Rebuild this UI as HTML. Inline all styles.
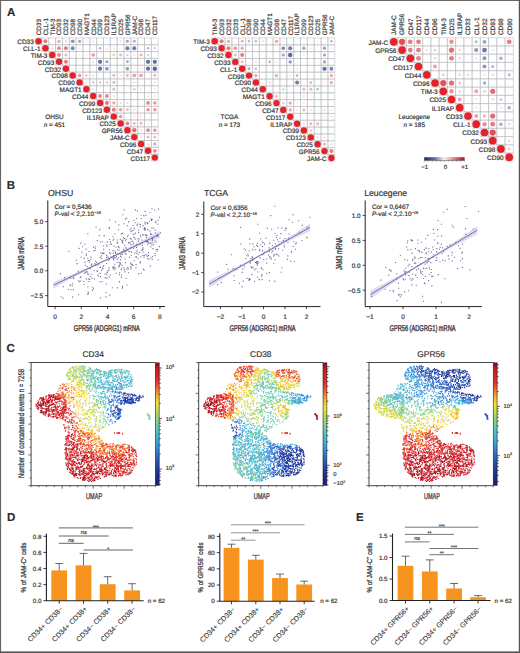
<!DOCTYPE html><html><head><meta charset="utf-8"><style>html,body{margin:0;padding:0;background:#fff;overflow:hidden}svg{display:block}text{font-family:"Liberation Sans",sans-serif;fill:#2a2a2a;stroke:#4a4a4a;stroke-width:0.2px;text-rendering:geometricPrecision}</style></head><body>
<svg width="520" height="653" viewBox="0 0 520 653">
<rect width="520" height="653" fill="#fff"/>
<text x="7" y="16.4" font-size="11.5" font-weight="bold" fill="#000">A</text>
<text x="6.8" y="189.4" font-size="11.5" font-weight="bold" fill="#000">B</text>
<text x="6.5" y="351.9" font-size="11.5" font-weight="bold" fill="#000">C</text>
<text x="6.9" y="521" font-size="11.5" font-weight="bold" fill="#000">D</text>
<text x="355.9" y="521.3" font-size="11.5" font-weight="bold" fill="#000">E</text>
<path d="M35.1 37.9h6.8v6.8h-6.8zM41.9 37.9h6.8v6.8h-6.8zM48.8 37.9h6.8v6.8h-6.8zM55.6 37.9h6.8v6.8h-6.8zM62.5 37.9h6.8v6.8h-6.8zM69.3 37.9h6.8v6.8h-6.8zM76.1 37.9h6.8v6.8h-6.8zM83 37.9h6.8v6.8h-6.8zM89.8 37.9h6.8v6.8h-6.8zM96.7 37.9h6.8v6.8h-6.8zM103.5 37.9h6.8v6.8h-6.8zM110.3 37.9h6.8v6.8h-6.8zM117.2 37.9h6.8v6.8h-6.8zM124 37.9h6.8v6.8h-6.8zM130.9 37.9h6.8v6.8h-6.8zM137.7 37.9h6.8v6.8h-6.8zM144.5 37.9h6.8v6.8h-6.8zM151.4 37.9h6.8v6.8h-6.8zM41.9 44.7h6.8v6.8h-6.8zM48.8 44.7h6.8v6.8h-6.8zM55.6 44.7h6.8v6.8h-6.8zM62.5 44.7h6.8v6.8h-6.8zM69.3 44.7h6.8v6.8h-6.8zM76.1 44.7h6.8v6.8h-6.8zM83 44.7h6.8v6.8h-6.8zM89.8 44.7h6.8v6.8h-6.8zM96.7 44.7h6.8v6.8h-6.8zM103.5 44.7h6.8v6.8h-6.8zM110.3 44.7h6.8v6.8h-6.8zM117.2 44.7h6.8v6.8h-6.8zM124 44.7h6.8v6.8h-6.8zM130.9 44.7h6.8v6.8h-6.8zM137.7 44.7h6.8v6.8h-6.8zM144.5 44.7h6.8v6.8h-6.8zM151.4 44.7h6.8v6.8h-6.8zM48.8 51.6h6.8v6.8h-6.8zM55.6 51.6h6.8v6.8h-6.8zM62.5 51.6h6.8v6.8h-6.8zM69.3 51.6h6.8v6.8h-6.8zM76.1 51.6h6.8v6.8h-6.8zM83 51.6h6.8v6.8h-6.8zM89.8 51.6h6.8v6.8h-6.8zM96.7 51.6h6.8v6.8h-6.8zM103.5 51.6h6.8v6.8h-6.8zM110.3 51.6h6.8v6.8h-6.8zM117.2 51.6h6.8v6.8h-6.8zM124 51.6h6.8v6.8h-6.8zM130.9 51.6h6.8v6.8h-6.8zM137.7 51.6h6.8v6.8h-6.8zM144.5 51.6h6.8v6.8h-6.8zM151.4 51.6h6.8v6.8h-6.8zM55.6 58.4h6.8v6.8h-6.8zM62.5 58.4h6.8v6.8h-6.8zM69.3 58.4h6.8v6.8h-6.8zM76.1 58.4h6.8v6.8h-6.8zM83 58.4h6.8v6.8h-6.8zM89.8 58.4h6.8v6.8h-6.8zM96.7 58.4h6.8v6.8h-6.8zM103.5 58.4h6.8v6.8h-6.8zM110.3 58.4h6.8v6.8h-6.8zM117.2 58.4h6.8v6.8h-6.8zM124 58.4h6.8v6.8h-6.8zM130.9 58.4h6.8v6.8h-6.8zM137.7 58.4h6.8v6.8h-6.8zM144.5 58.4h6.8v6.8h-6.8zM151.4 58.4h6.8v6.8h-6.8zM62.5 65.3h6.8v6.8h-6.8zM69.3 65.3h6.8v6.8h-6.8zM76.1 65.3h6.8v6.8h-6.8zM83 65.3h6.8v6.8h-6.8zM89.8 65.3h6.8v6.8h-6.8zM96.7 65.3h6.8v6.8h-6.8zM103.5 65.3h6.8v6.8h-6.8zM110.3 65.3h6.8v6.8h-6.8zM117.2 65.3h6.8v6.8h-6.8zM124 65.3h6.8v6.8h-6.8zM130.9 65.3h6.8v6.8h-6.8zM137.7 65.3h6.8v6.8h-6.8zM144.5 65.3h6.8v6.8h-6.8zM151.4 65.3h6.8v6.8h-6.8zM69.3 72.1h6.8v6.8h-6.8zM76.1 72.1h6.8v6.8h-6.8zM83 72.1h6.8v6.8h-6.8zM89.8 72.1h6.8v6.8h-6.8zM96.7 72.1h6.8v6.8h-6.8zM103.5 72.1h6.8v6.8h-6.8zM110.3 72.1h6.8v6.8h-6.8zM117.2 72.1h6.8v6.8h-6.8zM124 72.1h6.8v6.8h-6.8zM130.9 72.1h6.8v6.8h-6.8zM137.7 72.1h6.8v6.8h-6.8zM144.5 72.1h6.8v6.8h-6.8zM151.4 72.1h6.8v6.8h-6.8zM76.1 78.9h6.8v6.8h-6.8zM83 78.9h6.8v6.8h-6.8zM89.8 78.9h6.8v6.8h-6.8zM96.7 78.9h6.8v6.8h-6.8zM103.5 78.9h6.8v6.8h-6.8zM110.3 78.9h6.8v6.8h-6.8zM117.2 78.9h6.8v6.8h-6.8zM124 78.9h6.8v6.8h-6.8zM130.9 78.9h6.8v6.8h-6.8zM137.7 78.9h6.8v6.8h-6.8zM144.5 78.9h6.8v6.8h-6.8zM151.4 78.9h6.8v6.8h-6.8zM83 85.8h6.8v6.8h-6.8zM89.8 85.8h6.8v6.8h-6.8zM96.7 85.8h6.8v6.8h-6.8zM103.5 85.8h6.8v6.8h-6.8zM110.3 85.8h6.8v6.8h-6.8zM117.2 85.8h6.8v6.8h-6.8zM124 85.8h6.8v6.8h-6.8zM130.9 85.8h6.8v6.8h-6.8zM137.7 85.8h6.8v6.8h-6.8zM144.5 85.8h6.8v6.8h-6.8zM151.4 85.8h6.8v6.8h-6.8zM89.8 92.6h6.8v6.8h-6.8zM96.7 92.6h6.8v6.8h-6.8zM103.5 92.6h6.8v6.8h-6.8zM110.3 92.6h6.8v6.8h-6.8zM117.2 92.6h6.8v6.8h-6.8zM124 92.6h6.8v6.8h-6.8zM130.9 92.6h6.8v6.8h-6.8zM137.7 92.6h6.8v6.8h-6.8zM144.5 92.6h6.8v6.8h-6.8zM151.4 92.6h6.8v6.8h-6.8zM96.7 99.5h6.8v6.8h-6.8zM103.5 99.5h6.8v6.8h-6.8zM110.3 99.5h6.8v6.8h-6.8zM117.2 99.5h6.8v6.8h-6.8zM124 99.5h6.8v6.8h-6.8zM130.9 99.5h6.8v6.8h-6.8zM137.7 99.5h6.8v6.8h-6.8zM144.5 99.5h6.8v6.8h-6.8zM151.4 99.5h6.8v6.8h-6.8zM103.5 106.3h6.8v6.8h-6.8zM110.3 106.3h6.8v6.8h-6.8zM117.2 106.3h6.8v6.8h-6.8zM124 106.3h6.8v6.8h-6.8zM130.9 106.3h6.8v6.8h-6.8zM137.7 106.3h6.8v6.8h-6.8zM144.5 106.3h6.8v6.8h-6.8zM151.4 106.3h6.8v6.8h-6.8zM110.3 113.1h6.8v6.8h-6.8zM117.2 113.1h6.8v6.8h-6.8zM124 113.1h6.8v6.8h-6.8zM130.9 113.1h6.8v6.8h-6.8zM137.7 113.1h6.8v6.8h-6.8zM144.5 113.1h6.8v6.8h-6.8zM151.4 113.1h6.8v6.8h-6.8zM117.2 120h6.8v6.8h-6.8zM124 120h6.8v6.8h-6.8zM130.9 120h6.8v6.8h-6.8zM137.7 120h6.8v6.8h-6.8zM144.5 120h6.8v6.8h-6.8zM151.4 120h6.8v6.8h-6.8zM124 126.8h6.8v6.8h-6.8zM130.9 126.8h6.8v6.8h-6.8zM137.7 126.8h6.8v6.8h-6.8zM144.5 126.8h6.8v6.8h-6.8zM151.4 126.8h6.8v6.8h-6.8zM130.9 133.7h6.8v6.8h-6.8zM137.7 133.7h6.8v6.8h-6.8zM144.5 133.7h6.8v6.8h-6.8zM151.4 133.7h6.8v6.8h-6.8zM137.7 140.5h6.8v6.8h-6.8zM144.5 140.5h6.8v6.8h-6.8zM151.4 140.5h6.8v6.8h-6.8zM144.5 147.3h6.8v6.8h-6.8zM151.4 147.3h6.8v6.8h-6.8zM151.4 154.2h6.8v6.8h-6.8z" fill="none" stroke="#b4b8bd" stroke-width="0.5"/>
<circle cx="45.4" cy="41.3" r="2.03" fill="#e67b81"/>
<circle cx="59" cy="41.3" r="1.61" fill="#eea4a9"/>
<circle cx="65.9" cy="41.3" r="1.11" fill="#f5cdcf"/>
<circle cx="72.7" cy="41.3" r="1.82" fill="#868eb6"/>
<circle cx="79.6" cy="41.3" r="1.57" fill="#9ca2c3"/>
<circle cx="86.4" cy="41.3" r="0.91" fill="#f8dbdc"/>
<circle cx="93.2" cy="41.3" r="0.91" fill="#f8dbdc"/>
<circle cx="120.6" cy="41.3" r="1.02" fill="#f7d3d6"/>
<circle cx="127.4" cy="41.3" r="1.57" fill="#9ca2c3"/>
<circle cx="134.3" cy="41.3" r="1.44" fill="#a8adca"/>
<circle cx="52.2" cy="48.2" r="1.02" fill="#f7d3d6"/>
<circle cx="59" cy="48.2" r="1.90" fill="#e8888e"/>
<circle cx="65.9" cy="48.2" r="2.03" fill="#e67b81"/>
<circle cx="72.7" cy="48.2" r="1.93" fill="#7c84b0"/>
<circle cx="79.6" cy="48.2" r="0.91" fill="#f8dbdc"/>
<circle cx="100.1" cy="48.2" r="1.29" fill="#b5b9d2"/>
<circle cx="106.9" cy="48.2" r="0.91" fill="#f8dbdc"/>
<circle cx="113.8" cy="48.2" r="0.91" fill="#f8dbdc"/>
<circle cx="127.4" cy="48.2" r="2.03" fill="#727aa9"/>
<circle cx="134.3" cy="48.2" r="2.03" fill="#727aa9"/>
<circle cx="148" cy="48.2" r="1.29" fill="#b5b9d2"/>
<circle cx="154.8" cy="48.2" r="1.11" fill="#c2c6da"/>
<circle cx="59" cy="55" r="1.90" fill="#e8888e"/>
<circle cx="65.9" cy="55" r="1.44" fill="#f1b3b7"/>
<circle cx="79.6" cy="55" r="0.79" fill="#f9e2e3"/>
<circle cx="86.4" cy="55" r="0.79" fill="#f9e2e3"/>
<circle cx="93.2" cy="55" r="1.76" fill="#eb969b"/>
<circle cx="113.8" cy="55" r="1.25" fill="#f4c3c6"/>
<circle cx="120.6" cy="55" r="1.44" fill="#f1b3b7"/>
<circle cx="127.4" cy="55" r="1.11" fill="#c2c6da"/>
<circle cx="134.3" cy="55" r="0.91" fill="#f8dbdc"/>
<circle cx="141.1" cy="55" r="1.44" fill="#f1b3b7"/>
<circle cx="148" cy="55" r="1.11" fill="#c2c6da"/>
<circle cx="65.9" cy="61.8" r="2.03" fill="#e67b81"/>
<circle cx="72.7" cy="61.8" r="0.79" fill="#f9e2e3"/>
<circle cx="93.2" cy="61.8" r="0.91" fill="#d1d4e3"/>
<circle cx="100.1" cy="61.8" r="2.13" fill="#6871a4"/>
<circle cx="106.9" cy="61.8" r="1.57" fill="#9ca2c3"/>
<circle cx="127.4" cy="61.8" r="1.44" fill="#a8adca"/>
<circle cx="148" cy="61.8" r="2.13" fill="#6871a4"/>
<circle cx="154.8" cy="61.8" r="2.13" fill="#6871a4"/>
<circle cx="72.7" cy="68.7" r="0.79" fill="#f9e2e3"/>
<circle cx="79.6" cy="68.7" r="0.79" fill="#f9e2e3"/>
<circle cx="100.1" cy="68.7" r="2.13" fill="#6871a4"/>
<circle cx="106.9" cy="68.7" r="1.82" fill="#868eb6"/>
<circle cx="127.4" cy="68.7" r="1.70" fill="#9198bc"/>
<circle cx="134.3" cy="68.7" r="0.79" fill="#f9e2e3"/>
<circle cx="141.1" cy="68.7" r="0.79" fill="#f9e2e3"/>
<circle cx="148" cy="68.7" r="2.13" fill="#6871a4"/>
<circle cx="154.8" cy="68.7" r="2.23" fill="#5f689e"/>
<circle cx="79.6" cy="75.5" r="1.76" fill="#eb969b"/>
<circle cx="86.4" cy="75.5" r="1.25" fill="#f4c3c6"/>
<circle cx="93.2" cy="75.5" r="1.11" fill="#f5cdcf"/>
<circle cx="113.8" cy="75.5" r="1.44" fill="#f1b3b7"/>
<circle cx="120.6" cy="75.5" r="0.91" fill="#f8dbdc"/>
<circle cx="127.4" cy="75.5" r="1.44" fill="#f1b3b7"/>
<circle cx="134.3" cy="75.5" r="1.76" fill="#eb969b"/>
<circle cx="141.1" cy="75.5" r="1.76" fill="#eb969b"/>
<circle cx="154.8" cy="75.5" r="1.44" fill="#f1b3b7"/>
<circle cx="86.4" cy="82.4" r="0.91" fill="#f8dbdc"/>
<circle cx="93.2" cy="82.4" r="1.11" fill="#c2c6da"/>
<circle cx="100.1" cy="82.4" r="1.11" fill="#c2c6da"/>
<circle cx="106.9" cy="82.4" r="1.11" fill="#c2c6da"/>
<circle cx="113.8" cy="82.4" r="1.29" fill="#b5b9d2"/>
<circle cx="134.3" cy="82.4" r="1.02" fill="#f7d3d6"/>
<circle cx="154.8" cy="82.4" r="0.91" fill="#f8dbdc"/>
<circle cx="93.2" cy="89.2" r="0.91" fill="#f8dbdc"/>
<circle cx="106.9" cy="89.2" r="0.79" fill="#f9e2e3"/>
<circle cx="113.8" cy="89.2" r="1.44" fill="#f1b3b7"/>
<circle cx="134.3" cy="89.2" r="1.25" fill="#f4c3c6"/>
<circle cx="141.1" cy="89.2" r="0.91" fill="#f8dbdc"/>
<circle cx="154.8" cy="89.2" r="0.91" fill="#f8dbdc"/>
<circle cx="100.1" cy="96" r="1.90" fill="#e8888e"/>
<circle cx="106.9" cy="96" r="1.90" fill="#e8888e"/>
<circle cx="113.8" cy="96" r="1.02" fill="#f7d3d6"/>
<circle cx="148" cy="96" r="0.91" fill="#f8dbdc"/>
<circle cx="154.8" cy="96" r="0.91" fill="#f8dbdc"/>
<circle cx="106.9" cy="102.9" r="2.03" fill="#e67b81"/>
<circle cx="113.8" cy="102.9" r="1.61" fill="#eea4a9"/>
<circle cx="120.6" cy="102.9" r="1.02" fill="#f7d3d6"/>
<circle cx="127.4" cy="102.9" r="1.02" fill="#f7d3d6"/>
<circle cx="148" cy="102.9" r="1.90" fill="#e8888e"/>
<circle cx="154.8" cy="102.9" r="1.76" fill="#eb969b"/>
<circle cx="113.8" cy="109.7" r="2.03" fill="#e67b81"/>
<circle cx="120.6" cy="109.7" r="1.76" fill="#eb969b"/>
<circle cx="127.4" cy="109.7" r="1.44" fill="#f1b3b7"/>
<circle cx="134.3" cy="109.7" r="1.02" fill="#f7d3d6"/>
<circle cx="148" cy="109.7" r="1.76" fill="#eb969b"/>
<circle cx="154.8" cy="109.7" r="1.76" fill="#eb969b"/>
<circle cx="120.6" cy="116.6" r="1.76" fill="#eb969b"/>
<circle cx="134.3" cy="116.6" r="1.02" fill="#f7d3d6"/>
<circle cx="141.1" cy="116.6" r="1.02" fill="#f7d3d6"/>
<circle cx="127.4" cy="123.4" r="1.90" fill="#e8888e"/>
<circle cx="134.3" cy="123.4" r="1.44" fill="#f1b3b7"/>
<circle cx="141.1" cy="123.4" r="1.44" fill="#f1b3b7"/>
<circle cx="148" cy="123.4" r="0.91" fill="#f8dbdc"/>
<circle cx="134.3" cy="130.2" r="2.16" fill="#e36e75"/>
<circle cx="141.1" cy="130.2" r="0.91" fill="#f8dbdc"/>
<circle cx="148" cy="130.2" r="1.90" fill="#e8888e"/>
<circle cx="154.8" cy="130.2" r="1.76" fill="#eb969b"/>
<circle cx="141.1" cy="137.1" r="0.91" fill="#f8dbdc"/>
<circle cx="148" cy="137.1" r="1.44" fill="#f1b3b7"/>
<circle cx="154.8" cy="137.1" r="1.44" fill="#f1b3b7"/>
<circle cx="148" cy="143.9" r="1.02" fill="#f7d3d6"/>
<circle cx="154.8" cy="143.9" r="1.61" fill="#eea4a9"/>
<circle cx="154.8" cy="150.8" r="1.90" fill="#e8888e"/>
<circle cx="38.5" cy="41.3" r="3.21" fill="#e52229"/>
<circle cx="45.4" cy="48.2" r="3.21" fill="#e52229"/>
<circle cx="52.2" cy="55" r="3.21" fill="#e52229"/>
<circle cx="59" cy="61.8" r="3.21" fill="#e52229"/>
<circle cx="65.9" cy="68.7" r="3.21" fill="#e52229"/>
<circle cx="72.7" cy="75.5" r="3.21" fill="#e52229"/>
<circle cx="79.6" cy="82.4" r="3.21" fill="#e52229"/>
<circle cx="86.4" cy="89.2" r="3.21" fill="#e52229"/>
<circle cx="93.2" cy="96" r="3.21" fill="#e52229"/>
<circle cx="100.1" cy="102.9" r="3.21" fill="#e52229"/>
<circle cx="106.9" cy="109.7" r="3.21" fill="#e52229"/>
<circle cx="113.8" cy="116.6" r="3.21" fill="#e52229"/>
<circle cx="120.6" cy="123.4" r="3.21" fill="#e52229"/>
<circle cx="127.4" cy="130.2" r="3.21" fill="#e52229"/>
<circle cx="134.3" cy="137.1" r="3.21" fill="#e52229"/>
<circle cx="141.1" cy="143.9" r="3.21" fill="#e52229"/>
<circle cx="148" cy="150.8" r="3.21" fill="#e52229"/>
<circle cx="154.8" cy="157.6" r="3.21" fill="#e52229"/>
<text x="33.7" y="44.2" font-size="6.4" text-anchor="end">CD33</text>
<text x="40.5" y="51.1" font-size="6.4" text-anchor="end">CLL-1</text>
<text x="47.4" y="57.9" font-size="6.4" text-anchor="end">TIM-3</text>
<text x="54.2" y="64.7" font-size="6.4" text-anchor="end">CD93</text>
<text x="61.1" y="71.6" font-size="6.4" text-anchor="end">CD32</text>
<text x="67.9" y="78.4" font-size="6.4" text-anchor="end">CD98</text>
<text x="74.7" y="85.3" font-size="6.4" text-anchor="end">CD90</text>
<text x="81.6" y="92.1" font-size="6.4" text-anchor="end">MAGT1</text>
<text x="88.4" y="98.9" font-size="6.4" text-anchor="end">CD44</text>
<text x="95.3" y="105.8" font-size="6.4" text-anchor="end">CD99</text>
<text x="102.1" y="112.6" font-size="6.4" text-anchor="end">CD123</text>
<text x="108.9" y="119.5" font-size="6.4" text-anchor="end">IL1RAP</text>
<text x="115.8" y="126.3" font-size="6.4" text-anchor="end">CD25</text>
<text x="122.6" y="133.1" font-size="6.4" text-anchor="end">GPR56</text>
<text x="129.5" y="140" font-size="6.4" text-anchor="end">JAM-C</text>
<text x="136.3" y="146.8" font-size="6.4" text-anchor="end">CD96</text>
<text x="143.1" y="153.7" font-size="6.4" text-anchor="end">CD47</text>
<text x="150" y="160.5" font-size="6.4" text-anchor="end">CD117</text>
<text transform="translate(40.8 35.3) rotate(-90)" font-size="6.4">CD33</text>
<text transform="translate(47.7 35.3) rotate(-90)" font-size="6.4">CLL-1</text>
<text transform="translate(54.5 35.3) rotate(-90)" font-size="6.4">TIM-3</text>
<text transform="translate(61.3 35.3) rotate(-90)" font-size="6.4">CD93</text>
<text transform="translate(68.2 35.3) rotate(-90)" font-size="6.4">CD32</text>
<text transform="translate(75 35.3) rotate(-90)" font-size="6.4">CD98</text>
<text transform="translate(81.9 35.3) rotate(-90)" font-size="6.4">CD90</text>
<text transform="translate(88.7 35.3) rotate(-90)" font-size="6.4">MAGT1</text>
<text transform="translate(95.5 35.3) rotate(-90)" font-size="6.4">CD44</text>
<text transform="translate(102.4 35.3) rotate(-90)" font-size="6.4">CD99</text>
<text transform="translate(109.2 35.3) rotate(-90)" font-size="6.4">CD123</text>
<text transform="translate(116.1 35.3) rotate(-90)" font-size="6.4">IL1RAP</text>
<text transform="translate(122.9 35.3) rotate(-90)" font-size="6.4">CD25</text>
<text transform="translate(129.7 35.3) rotate(-90)" font-size="6.4">GPR56</text>
<text transform="translate(136.6 35.3) rotate(-90)" font-size="6.4">JAM-C</text>
<text transform="translate(143.4 35.3) rotate(-90)" font-size="6.4">CD96</text>
<text transform="translate(150.3 35.3) rotate(-90)" font-size="6.4">CD47</text>
<text transform="translate(157.1 35.3) rotate(-90)" font-size="6.4">CD117</text>
<text x="54.4" y="118.8" font-size="6.4" text-anchor="middle">OHSU</text>
<text x="54.4" y="126.8" font-size="6.4" text-anchor="middle"><tspan font-style="italic">n</tspan> = 451</text>
<path d="M211.3 37.9h6.9v6.9h-6.9zM218.2 37.9h6.9v6.9h-6.9zM225 37.9h6.9v6.9h-6.9zM231.9 37.9h6.9v6.9h-6.9zM238.7 37.9h6.9v6.9h-6.9zM245.6 37.9h6.9v6.9h-6.9zM252.5 37.9h6.9v6.9h-6.9zM259.3 37.9h6.9v6.9h-6.9zM266.2 37.9h6.9v6.9h-6.9zM273 37.9h6.9v6.9h-6.9zM279.9 37.9h6.9v6.9h-6.9zM286.8 37.9h6.9v6.9h-6.9zM293.6 37.9h6.9v6.9h-6.9zM300.5 37.9h6.9v6.9h-6.9zM307.3 37.9h6.9v6.9h-6.9zM314.2 37.9h6.9v6.9h-6.9zM321.1 37.9h6.9v6.9h-6.9zM327.9 37.9h6.9v6.9h-6.9zM218.2 44.8h6.9v6.9h-6.9zM225 44.8h6.9v6.9h-6.9zM231.9 44.8h6.9v6.9h-6.9zM238.7 44.8h6.9v6.9h-6.9zM245.6 44.8h6.9v6.9h-6.9zM252.5 44.8h6.9v6.9h-6.9zM259.3 44.8h6.9v6.9h-6.9zM266.2 44.8h6.9v6.9h-6.9zM273 44.8h6.9v6.9h-6.9zM279.9 44.8h6.9v6.9h-6.9zM286.8 44.8h6.9v6.9h-6.9zM293.6 44.8h6.9v6.9h-6.9zM300.5 44.8h6.9v6.9h-6.9zM307.3 44.8h6.9v6.9h-6.9zM314.2 44.8h6.9v6.9h-6.9zM321.1 44.8h6.9v6.9h-6.9zM327.9 44.8h6.9v6.9h-6.9zM225 51.6h6.9v6.9h-6.9zM231.9 51.6h6.9v6.9h-6.9zM238.7 51.6h6.9v6.9h-6.9zM245.6 51.6h6.9v6.9h-6.9zM252.5 51.6h6.9v6.9h-6.9zM259.3 51.6h6.9v6.9h-6.9zM266.2 51.6h6.9v6.9h-6.9zM273 51.6h6.9v6.9h-6.9zM279.9 51.6h6.9v6.9h-6.9zM286.8 51.6h6.9v6.9h-6.9zM293.6 51.6h6.9v6.9h-6.9zM300.5 51.6h6.9v6.9h-6.9zM307.3 51.6h6.9v6.9h-6.9zM314.2 51.6h6.9v6.9h-6.9zM321.1 51.6h6.9v6.9h-6.9zM327.9 51.6h6.9v6.9h-6.9zM231.9 58.5h6.9v6.9h-6.9zM238.7 58.5h6.9v6.9h-6.9zM245.6 58.5h6.9v6.9h-6.9zM252.5 58.5h6.9v6.9h-6.9zM259.3 58.5h6.9v6.9h-6.9zM266.2 58.5h6.9v6.9h-6.9zM273 58.5h6.9v6.9h-6.9zM279.9 58.5h6.9v6.9h-6.9zM286.8 58.5h6.9v6.9h-6.9zM293.6 58.5h6.9v6.9h-6.9zM300.5 58.5h6.9v6.9h-6.9zM307.3 58.5h6.9v6.9h-6.9zM314.2 58.5h6.9v6.9h-6.9zM321.1 58.5h6.9v6.9h-6.9zM327.9 58.5h6.9v6.9h-6.9zM238.7 65.3h6.9v6.9h-6.9zM245.6 65.3h6.9v6.9h-6.9zM252.5 65.3h6.9v6.9h-6.9zM259.3 65.3h6.9v6.9h-6.9zM266.2 65.3h6.9v6.9h-6.9zM273 65.3h6.9v6.9h-6.9zM279.9 65.3h6.9v6.9h-6.9zM286.8 65.3h6.9v6.9h-6.9zM293.6 65.3h6.9v6.9h-6.9zM300.5 65.3h6.9v6.9h-6.9zM307.3 65.3h6.9v6.9h-6.9zM314.2 65.3h6.9v6.9h-6.9zM321.1 65.3h6.9v6.9h-6.9zM327.9 65.3h6.9v6.9h-6.9zM245.6 72.2h6.9v6.9h-6.9zM252.5 72.2h6.9v6.9h-6.9zM259.3 72.2h6.9v6.9h-6.9zM266.2 72.2h6.9v6.9h-6.9zM273 72.2h6.9v6.9h-6.9zM279.9 72.2h6.9v6.9h-6.9zM286.8 72.2h6.9v6.9h-6.9zM293.6 72.2h6.9v6.9h-6.9zM300.5 72.2h6.9v6.9h-6.9zM307.3 72.2h6.9v6.9h-6.9zM314.2 72.2h6.9v6.9h-6.9zM321.1 72.2h6.9v6.9h-6.9zM327.9 72.2h6.9v6.9h-6.9zM252.5 79.1h6.9v6.9h-6.9zM259.3 79.1h6.9v6.9h-6.9zM266.2 79.1h6.9v6.9h-6.9zM273 79.1h6.9v6.9h-6.9zM279.9 79.1h6.9v6.9h-6.9zM286.8 79.1h6.9v6.9h-6.9zM293.6 79.1h6.9v6.9h-6.9zM300.5 79.1h6.9v6.9h-6.9zM307.3 79.1h6.9v6.9h-6.9zM314.2 79.1h6.9v6.9h-6.9zM321.1 79.1h6.9v6.9h-6.9zM327.9 79.1h6.9v6.9h-6.9zM259.3 85.9h6.9v6.9h-6.9zM266.2 85.9h6.9v6.9h-6.9zM273 85.9h6.9v6.9h-6.9zM279.9 85.9h6.9v6.9h-6.9zM286.8 85.9h6.9v6.9h-6.9zM293.6 85.9h6.9v6.9h-6.9zM300.5 85.9h6.9v6.9h-6.9zM307.3 85.9h6.9v6.9h-6.9zM314.2 85.9h6.9v6.9h-6.9zM321.1 85.9h6.9v6.9h-6.9zM327.9 85.9h6.9v6.9h-6.9zM266.2 92.8h6.9v6.9h-6.9zM273 92.8h6.9v6.9h-6.9zM279.9 92.8h6.9v6.9h-6.9zM286.8 92.8h6.9v6.9h-6.9zM293.6 92.8h6.9v6.9h-6.9zM300.5 92.8h6.9v6.9h-6.9zM307.3 92.8h6.9v6.9h-6.9zM314.2 92.8h6.9v6.9h-6.9zM321.1 92.8h6.9v6.9h-6.9zM327.9 92.8h6.9v6.9h-6.9zM273 99.6h6.9v6.9h-6.9zM279.9 99.6h6.9v6.9h-6.9zM286.8 99.6h6.9v6.9h-6.9zM293.6 99.6h6.9v6.9h-6.9zM300.5 99.6h6.9v6.9h-6.9zM307.3 99.6h6.9v6.9h-6.9zM314.2 99.6h6.9v6.9h-6.9zM321.1 99.6h6.9v6.9h-6.9zM327.9 99.6h6.9v6.9h-6.9zM279.9 106.5h6.9v6.9h-6.9zM286.8 106.5h6.9v6.9h-6.9zM293.6 106.5h6.9v6.9h-6.9zM300.5 106.5h6.9v6.9h-6.9zM307.3 106.5h6.9v6.9h-6.9zM314.2 106.5h6.9v6.9h-6.9zM321.1 106.5h6.9v6.9h-6.9zM327.9 106.5h6.9v6.9h-6.9zM286.8 113.4h6.9v6.9h-6.9zM293.6 113.4h6.9v6.9h-6.9zM300.5 113.4h6.9v6.9h-6.9zM307.3 113.4h6.9v6.9h-6.9zM314.2 113.4h6.9v6.9h-6.9zM321.1 113.4h6.9v6.9h-6.9zM327.9 113.4h6.9v6.9h-6.9zM293.6 120.2h6.9v6.9h-6.9zM300.5 120.2h6.9v6.9h-6.9zM307.3 120.2h6.9v6.9h-6.9zM314.2 120.2h6.9v6.9h-6.9zM321.1 120.2h6.9v6.9h-6.9zM327.9 120.2h6.9v6.9h-6.9zM300.5 127.1h6.9v6.9h-6.9zM307.3 127.1h6.9v6.9h-6.9zM314.2 127.1h6.9v6.9h-6.9zM321.1 127.1h6.9v6.9h-6.9zM327.9 127.1h6.9v6.9h-6.9zM307.3 133.9h6.9v6.9h-6.9zM314.2 133.9h6.9v6.9h-6.9zM321.1 133.9h6.9v6.9h-6.9zM327.9 133.9h6.9v6.9h-6.9zM314.2 140.8h6.9v6.9h-6.9zM321.1 140.8h6.9v6.9h-6.9zM327.9 140.8h6.9v6.9h-6.9zM321.1 147.7h6.9v6.9h-6.9zM327.9 147.7h6.9v6.9h-6.9zM327.9 154.5h6.9v6.9h-6.9z" fill="none" stroke="#b4b8bd" stroke-width="0.5"/>
<circle cx="221.6" cy="41.3" r="2.04" fill="#e67b81"/>
<circle cx="228.5" cy="41.3" r="1.61" fill="#eea4a9"/>
<circle cx="242.2" cy="41.3" r="1.44" fill="#f1b3b7"/>
<circle cx="249" cy="41.3" r="1.29" fill="#b5b9d2"/>
<circle cx="255.9" cy="41.3" r="1.29" fill="#b5b9d2"/>
<circle cx="262.8" cy="41.3" r="1.02" fill="#f7d3d6"/>
<circle cx="276.5" cy="41.3" r="1.61" fill="#eea4a9"/>
<circle cx="283.3" cy="41.3" r="0.91" fill="#f8dbdc"/>
<circle cx="317.6" cy="41.3" r="0.79" fill="#f9e2e3"/>
<circle cx="331.4" cy="41.3" r="1.29" fill="#b5b9d2"/>
<circle cx="228.5" cy="48.2" r="2.04" fill="#e67b81"/>
<circle cx="235.3" cy="48.2" r="1.77" fill="#eb969b"/>
<circle cx="242.2" cy="48.2" r="1.61" fill="#eea4a9"/>
<circle cx="283.3" cy="48.2" r="1.82" fill="#868eb6"/>
<circle cx="290.2" cy="48.2" r="2.04" fill="#727aa9"/>
<circle cx="303.9" cy="48.2" r="1.58" fill="#9ca2c3"/>
<circle cx="310.8" cy="48.2" r="0.79" fill="#f9e2e3"/>
<circle cx="324.5" cy="48.2" r="1.58" fill="#9ca2c3"/>
<circle cx="331.4" cy="48.2" r="0.79" fill="#f9e2e3"/>
<circle cx="235.3" cy="55" r="1.44" fill="#f1b3b7"/>
<circle cx="242.2" cy="55" r="2.04" fill="#e67b81"/>
<circle cx="283.3" cy="55" r="1.58" fill="#9ca2c3"/>
<circle cx="290.2" cy="55" r="2.23" fill="#5f689e"/>
<circle cx="303.9" cy="55" r="0.79" fill="#f9e2e3"/>
<circle cx="324.5" cy="55" r="1.58" fill="#9ca2c3"/>
<circle cx="242.2" cy="61.9" r="1.44" fill="#f1b3b7"/>
<circle cx="255.9" cy="61.9" r="0.91" fill="#d1d4e3"/>
<circle cx="269.6" cy="61.9" r="1.29" fill="#b5b9d2"/>
<circle cx="276.5" cy="61.9" r="0.91" fill="#f8dbdc"/>
<circle cx="290.2" cy="61.9" r="1.71" fill="#9198bc"/>
<circle cx="324.5" cy="61.9" r="1.58" fill="#9ca2c3"/>
<circle cx="249" cy="68.8" r="1.44" fill="#a8adca"/>
<circle cx="255.9" cy="68.8" r="1.29" fill="#b5b9d2"/>
<circle cx="290.2" cy="68.8" r="0.91" fill="#f8dbdc"/>
<circle cx="297.1" cy="68.8" r="0.91" fill="#f8dbdc"/>
<circle cx="324.5" cy="68.8" r="2.14" fill="#6871a4"/>
<circle cx="331.4" cy="68.8" r="1.93" fill="#7c84b0"/>
<circle cx="255.9" cy="75.6" r="1.61" fill="#eea4a9"/>
<circle cx="276.5" cy="75.6" r="1.61" fill="#eea4a9"/>
<circle cx="290.2" cy="75.6" r="0.91" fill="#f8dbdc"/>
<circle cx="297.1" cy="75.6" r="1.29" fill="#b5b9d2"/>
<circle cx="324.5" cy="75.6" r="0.79" fill="#f9e2e3"/>
<circle cx="331.4" cy="75.6" r="1.61" fill="#eea4a9"/>
<circle cx="269.6" cy="82.5" r="1.02" fill="#f7d3d6"/>
<circle cx="297.1" cy="82.5" r="2.04" fill="#727aa9"/>
<circle cx="310.8" cy="82.5" r="1.29" fill="#b5b9d2"/>
<circle cx="324.5" cy="82.5" r="0.79" fill="#f9e2e3"/>
<circle cx="331.4" cy="82.5" r="1.61" fill="#eea4a9"/>
<circle cx="283.3" cy="89.3" r="1.12" fill="#c2c6da"/>
<circle cx="303.9" cy="89.3" r="1.44" fill="#f1b3b7"/>
<circle cx="310.8" cy="89.3" r="1.44" fill="#f1b3b7"/>
<circle cx="317.6" cy="89.3" r="1.29" fill="#b5b9d2"/>
<circle cx="276.5" cy="96.2" r="1.44" fill="#f1b3b7"/>
<circle cx="290.2" cy="96.2" r="0.79" fill="#f9e2e3"/>
<circle cx="303.9" cy="96.2" r="1.02" fill="#f7d3d6"/>
<circle cx="310.8" cy="96.2" r="0.79" fill="#f9e2e3"/>
<circle cx="283.3" cy="103.1" r="1.25" fill="#f4c3c6"/>
<circle cx="290.2" cy="103.1" r="1.61" fill="#eea4a9"/>
<circle cx="297.1" cy="103.1" r="0.79" fill="#f9e2e3"/>
<circle cx="303.9" cy="103.1" r="0.91" fill="#f8dbdc"/>
<circle cx="290.2" cy="109.9" r="1.61" fill="#eea4a9"/>
<circle cx="297.1" cy="109.9" r="0.91" fill="#f8dbdc"/>
<circle cx="303.9" cy="109.9" r="1.44" fill="#f1b3b7"/>
<circle cx="310.8" cy="109.9" r="0.91" fill="#f8dbdc"/>
<circle cx="324.5" cy="109.9" r="1.02" fill="#f7d3d6"/>
<circle cx="331.4" cy="109.9" r="0.91" fill="#f8dbdc"/>
<circle cx="324.5" cy="116.8" r="1.02" fill="#f7d3d6"/>
<circle cx="331.4" cy="116.8" r="1.02" fill="#f7d3d6"/>
<circle cx="303.9" cy="123.7" r="1.02" fill="#f7d3d6"/>
<circle cx="310.8" cy="123.7" r="1.44" fill="#f1b3b7"/>
<circle cx="317.6" cy="123.7" r="1.44" fill="#f1b3b7"/>
<circle cx="310.8" cy="130.5" r="1.25" fill="#f4c3c6"/>
<circle cx="317.6" cy="137.4" r="1.02" fill="#f7d3d6"/>
<circle cx="324.5" cy="137.4" r="1.02" fill="#f7d3d6"/>
<circle cx="331.4" cy="137.4" r="0.79" fill="#f9e2e3"/>
<circle cx="324.5" cy="144.2" r="1.44" fill="#f1b3b7"/>
<circle cx="331.4" cy="144.2" r="1.02" fill="#f7d3d6"/>
<circle cx="331.4" cy="151.1" r="2.04" fill="#e67b81"/>
<circle cx="214.7" cy="41.3" r="3.22" fill="#e52229"/>
<circle cx="221.6" cy="48.2" r="3.22" fill="#e52229"/>
<circle cx="228.5" cy="55" r="3.22" fill="#e52229"/>
<circle cx="235.3" cy="61.9" r="3.22" fill="#e52229"/>
<circle cx="242.2" cy="68.8" r="3.22" fill="#e52229"/>
<circle cx="249" cy="75.6" r="3.22" fill="#e52229"/>
<circle cx="255.9" cy="82.5" r="3.22" fill="#e52229"/>
<circle cx="262.8" cy="89.3" r="3.22" fill="#e52229"/>
<circle cx="269.6" cy="96.2" r="3.22" fill="#e52229"/>
<circle cx="276.5" cy="103.1" r="3.22" fill="#e52229"/>
<circle cx="283.3" cy="109.9" r="3.22" fill="#e52229"/>
<circle cx="290.2" cy="116.8" r="3.22" fill="#e52229"/>
<circle cx="297.1" cy="123.7" r="3.22" fill="#e52229"/>
<circle cx="303.9" cy="130.5" r="3.22" fill="#e52229"/>
<circle cx="310.8" cy="137.4" r="3.22" fill="#e52229"/>
<circle cx="317.6" cy="144.2" r="3.22" fill="#e52229"/>
<circle cx="324.5" cy="151.1" r="3.22" fill="#e52229"/>
<circle cx="331.4" cy="158" r="3.22" fill="#e52229"/>
<text x="209.9" y="44.2" font-size="6.4" text-anchor="end">TIM-3</text>
<text x="216.8" y="51.1" font-size="6.4" text-anchor="end">CD93</text>
<text x="223.6" y="58" font-size="6.4" text-anchor="end">CD32</text>
<text x="230.5" y="64.8" font-size="6.4" text-anchor="end">CD33</text>
<text x="237.3" y="71.7" font-size="6.4" text-anchor="end">CLL-1</text>
<text x="244.2" y="78.5" font-size="6.4" text-anchor="end">CD98</text>
<text x="251.1" y="85.4" font-size="6.4" text-anchor="end">CD90</text>
<text x="257.9" y="92.3" font-size="6.4" text-anchor="end">CD44</text>
<text x="264.8" y="99.1" font-size="6.4" text-anchor="end">MAGT1</text>
<text x="271.6" y="106" font-size="6.4" text-anchor="end">CD96</text>
<text x="278.5" y="112.8" font-size="6.4" text-anchor="end">CD47</text>
<text x="285.4" y="119.7" font-size="6.4" text-anchor="end">CD117</text>
<text x="292.2" y="126.6" font-size="6.4" text-anchor="end">IL1RAP</text>
<text x="299.1" y="133.4" font-size="6.4" text-anchor="end">CD99</text>
<text x="305.9" y="140.3" font-size="6.4" text-anchor="end">CD123</text>
<text x="312.8" y="147.1" font-size="6.4" text-anchor="end">CD25</text>
<text x="319.7" y="154" font-size="6.4" text-anchor="end">GPR56</text>
<text x="326.5" y="160.9" font-size="6.4" text-anchor="end">JAM-C</text>
<text transform="translate(217 35.3) rotate(-90)" font-size="6.4">TIM-3</text>
<text transform="translate(223.9 35.3) rotate(-90)" font-size="6.4">CD93</text>
<text transform="translate(230.8 35.3) rotate(-90)" font-size="6.4">CD32</text>
<text transform="translate(237.6 35.3) rotate(-90)" font-size="6.4">CD33</text>
<text transform="translate(244.5 35.3) rotate(-90)" font-size="6.4">CLL-1</text>
<text transform="translate(251.3 35.3) rotate(-90)" font-size="6.4">CD98</text>
<text transform="translate(258.2 35.3) rotate(-90)" font-size="6.4">CD90</text>
<text transform="translate(265.1 35.3) rotate(-90)" font-size="6.4">CD44</text>
<text transform="translate(271.9 35.3) rotate(-90)" font-size="6.4">MAGT1</text>
<text transform="translate(278.8 35.3) rotate(-90)" font-size="6.4">CD96</text>
<text transform="translate(285.6 35.3) rotate(-90)" font-size="6.4">CD47</text>
<text transform="translate(292.5 35.3) rotate(-90)" font-size="6.4">CD117</text>
<text transform="translate(299.4 35.3) rotate(-90)" font-size="6.4">IL1RAP</text>
<text transform="translate(306.2 35.3) rotate(-90)" font-size="6.4">CD99</text>
<text transform="translate(313.1 35.3) rotate(-90)" font-size="6.4">CD123</text>
<text transform="translate(319.9 35.3) rotate(-90)" font-size="6.4">CD25</text>
<text transform="translate(326.8 35.3) rotate(-90)" font-size="6.4">GPR56</text>
<text transform="translate(333.7 35.3) rotate(-90)" font-size="6.4">JAM-C</text>
<text x="229.4" y="118.8" font-size="6.4" text-anchor="middle">TCGA</text>
<text x="229.4" y="126.8" font-size="6.4" text-anchor="middle"><tspan font-style="italic">n</tspan> = 173</text>
<path d="M389.7 37.7h8.2v8.2h-8.2zM397.9 37.7h8.2v8.2h-8.2zM406.2 37.7h8.2v8.2h-8.2zM414.4 37.7h8.2v8.2h-8.2zM422.7 37.7h8.2v8.2h-8.2zM430.9 37.7h8.2v8.2h-8.2zM439.1 37.7h8.2v8.2h-8.2zM447.4 37.7h8.2v8.2h-8.2zM455.6 37.7h8.2v8.2h-8.2zM463.9 37.7h8.2v8.2h-8.2zM472.1 37.7h8.2v8.2h-8.2zM480.3 37.7h8.2v8.2h-8.2zM488.6 37.7h8.2v8.2h-8.2zM496.8 37.7h8.2v8.2h-8.2zM505.1 37.7h8.2v8.2h-8.2zM397.9 45.9h8.2v8.2h-8.2zM406.2 45.9h8.2v8.2h-8.2zM414.4 45.9h8.2v8.2h-8.2zM422.7 45.9h8.2v8.2h-8.2zM430.9 45.9h8.2v8.2h-8.2zM439.1 45.9h8.2v8.2h-8.2zM447.4 45.9h8.2v8.2h-8.2zM455.6 45.9h8.2v8.2h-8.2zM463.9 45.9h8.2v8.2h-8.2zM472.1 45.9h8.2v8.2h-8.2zM480.3 45.9h8.2v8.2h-8.2zM488.6 45.9h8.2v8.2h-8.2zM496.8 45.9h8.2v8.2h-8.2zM505.1 45.9h8.2v8.2h-8.2zM406.2 54.2h8.2v8.2h-8.2zM414.4 54.2h8.2v8.2h-8.2zM422.7 54.2h8.2v8.2h-8.2zM430.9 54.2h8.2v8.2h-8.2zM439.1 54.2h8.2v8.2h-8.2zM447.4 54.2h8.2v8.2h-8.2zM455.6 54.2h8.2v8.2h-8.2zM463.9 54.2h8.2v8.2h-8.2zM472.1 54.2h8.2v8.2h-8.2zM480.3 54.2h8.2v8.2h-8.2zM488.6 54.2h8.2v8.2h-8.2zM496.8 54.2h8.2v8.2h-8.2zM505.1 54.2h8.2v8.2h-8.2zM414.4 62.4h8.2v8.2h-8.2zM422.7 62.4h8.2v8.2h-8.2zM430.9 62.4h8.2v8.2h-8.2zM439.1 62.4h8.2v8.2h-8.2zM447.4 62.4h8.2v8.2h-8.2zM455.6 62.4h8.2v8.2h-8.2zM463.9 62.4h8.2v8.2h-8.2zM472.1 62.4h8.2v8.2h-8.2zM480.3 62.4h8.2v8.2h-8.2zM488.6 62.4h8.2v8.2h-8.2zM496.8 62.4h8.2v8.2h-8.2zM505.1 62.4h8.2v8.2h-8.2zM422.7 70.7h8.2v8.2h-8.2zM430.9 70.7h8.2v8.2h-8.2zM439.1 70.7h8.2v8.2h-8.2zM447.4 70.7h8.2v8.2h-8.2zM455.6 70.7h8.2v8.2h-8.2zM463.9 70.7h8.2v8.2h-8.2zM472.1 70.7h8.2v8.2h-8.2zM480.3 70.7h8.2v8.2h-8.2zM488.6 70.7h8.2v8.2h-8.2zM496.8 70.7h8.2v8.2h-8.2zM505.1 70.7h8.2v8.2h-8.2zM430.9 78.9h8.2v8.2h-8.2zM439.1 78.9h8.2v8.2h-8.2zM447.4 78.9h8.2v8.2h-8.2zM455.6 78.9h8.2v8.2h-8.2zM463.9 78.9h8.2v8.2h-8.2zM472.1 78.9h8.2v8.2h-8.2zM480.3 78.9h8.2v8.2h-8.2zM488.6 78.9h8.2v8.2h-8.2zM496.8 78.9h8.2v8.2h-8.2zM505.1 78.9h8.2v8.2h-8.2zM439.1 87.1h8.2v8.2h-8.2zM447.4 87.1h8.2v8.2h-8.2zM455.6 87.1h8.2v8.2h-8.2zM463.9 87.1h8.2v8.2h-8.2zM472.1 87.1h8.2v8.2h-8.2zM480.3 87.1h8.2v8.2h-8.2zM488.6 87.1h8.2v8.2h-8.2zM496.8 87.1h8.2v8.2h-8.2zM505.1 87.1h8.2v8.2h-8.2zM447.4 95.4h8.2v8.2h-8.2zM455.6 95.4h8.2v8.2h-8.2zM463.9 95.4h8.2v8.2h-8.2zM472.1 95.4h8.2v8.2h-8.2zM480.3 95.4h8.2v8.2h-8.2zM488.6 95.4h8.2v8.2h-8.2zM496.8 95.4h8.2v8.2h-8.2zM505.1 95.4h8.2v8.2h-8.2zM455.6 103.6h8.2v8.2h-8.2zM463.9 103.6h8.2v8.2h-8.2zM472.1 103.6h8.2v8.2h-8.2zM480.3 103.6h8.2v8.2h-8.2zM488.6 103.6h8.2v8.2h-8.2zM496.8 103.6h8.2v8.2h-8.2zM505.1 103.6h8.2v8.2h-8.2zM463.9 111.9h8.2v8.2h-8.2zM472.1 111.9h8.2v8.2h-8.2zM480.3 111.9h8.2v8.2h-8.2zM488.6 111.9h8.2v8.2h-8.2zM496.8 111.9h8.2v8.2h-8.2zM505.1 111.9h8.2v8.2h-8.2zM472.1 120.1h8.2v8.2h-8.2zM480.3 120.1h8.2v8.2h-8.2zM488.6 120.1h8.2v8.2h-8.2zM496.8 120.1h8.2v8.2h-8.2zM505.1 120.1h8.2v8.2h-8.2zM480.3 128.3h8.2v8.2h-8.2zM488.6 128.3h8.2v8.2h-8.2zM496.8 128.3h8.2v8.2h-8.2zM505.1 128.3h8.2v8.2h-8.2zM488.6 136.6h8.2v8.2h-8.2zM496.8 136.6h8.2v8.2h-8.2zM505.1 136.6h8.2v8.2h-8.2zM496.8 144.8h8.2v8.2h-8.2zM505.1 144.8h8.2v8.2h-8.2zM505.1 153.1h8.2v8.2h-8.2z" fill="none" stroke="#b4b8bd" stroke-width="0.5"/>
<circle cx="402.1" cy="41.8" r="3.12" fill="#de535b"/>
<circle cx="410.3" cy="41.8" r="2.42" fill="#e67e84"/>
<circle cx="418.5" cy="41.8" r="2.42" fill="#e67e84"/>
<circle cx="451.5" cy="41.8" r="2.21" fill="#ea8f94"/>
<circle cx="476.2" cy="41.8" r="1.55" fill="#b5b9d2"/>
<circle cx="484.5" cy="41.8" r="1.90" fill="#9ca2c3"/>
<circle cx="509.2" cy="41.8" r="2.42" fill="#e67e84"/>
<circle cx="410.3" cy="50.1" r="2.42" fill="#e67e84"/>
<circle cx="418.5" cy="50.1" r="2.42" fill="#e67e84"/>
<circle cx="426.8" cy="50.1" r="0.98" fill="#d8dae7"/>
<circle cx="435" cy="50.1" r="1.40" fill="#f5c9cc"/>
<circle cx="451.5" cy="50.1" r="2.61" fill="#e36d74"/>
<circle cx="459.7" cy="50.1" r="1.25" fill="#f6d2d4"/>
<circle cx="476.2" cy="50.1" r="2.05" fill="#9198bc"/>
<circle cx="484.5" cy="50.1" r="2.45" fill="#727aa9"/>
<circle cx="492.7" cy="50.1" r="1.08" fill="#f8dbdd"/>
<circle cx="418.5" cy="58.3" r="2.42" fill="#e67e84"/>
<circle cx="435" cy="58.3" r="1.25" fill="#f6d2d4"/>
<circle cx="451.5" cy="58.3" r="2.42" fill="#e67e84"/>
<circle cx="459.7" cy="58.3" r="1.25" fill="#f6d2d4"/>
<circle cx="476.2" cy="58.3" r="1.08" fill="#f8dbdd"/>
<circle cx="484.5" cy="58.3" r="2.05" fill="#9198bc"/>
<circle cx="500.9" cy="58.3" r="1.73" fill="#a8adca"/>
<circle cx="435" cy="66.5" r="1.97" fill="#eda1a6"/>
<circle cx="484.5" cy="66.5" r="2.05" fill="#9198bc"/>
<circle cx="492.7" cy="66.5" r="1.55" fill="#b5b9d2"/>
<circle cx="443.3" cy="74.8" r="1.40" fill="#f5c9cc"/>
<circle cx="459.7" cy="74.8" r="1.25" fill="#f6d2d4"/>
<circle cx="468" cy="74.8" r="1.10" fill="#d1d4e3"/>
<circle cx="484.5" cy="74.8" r="1.08" fill="#f8dbdd"/>
<circle cx="492.7" cy="74.8" r="1.25" fill="#f6d2d4"/>
<circle cx="509.2" cy="74.8" r="1.55" fill="#b5b9d2"/>
<circle cx="443.3" cy="83" r="3.12" fill="#de535b"/>
<circle cx="451.5" cy="83" r="2.61" fill="#e36d74"/>
<circle cx="459.7" cy="83" r="1.40" fill="#f5c9cc"/>
<circle cx="484.5" cy="83" r="1.73" fill="#a8adca"/>
<circle cx="451.5" cy="91.3" r="2.21" fill="#ea8f94"/>
<circle cx="459.7" cy="91.3" r="1.25" fill="#f6d2d4"/>
<circle cx="476.2" cy="91.3" r="1.97" fill="#eda1a6"/>
<circle cx="484.5" cy="91.3" r="1.40" fill="#f5c9cc"/>
<circle cx="492.7" cy="91.3" r="2.61" fill="#e36d74"/>
<circle cx="459.7" cy="99.5" r="1.97" fill="#eda1a6"/>
<circle cx="476.2" cy="99.5" r="1.08" fill="#f8dbdd"/>
<circle cx="492.7" cy="99.5" r="1.25" fill="#f6d2d4"/>
<circle cx="500.9" cy="99.5" r="1.34" fill="#c2c6da"/>
<circle cx="476.2" cy="107.7" r="1.08" fill="#f8dbdd"/>
<circle cx="500.9" cy="107.7" r="1.08" fill="#f8dbdd"/>
<circle cx="509.2" cy="107.7" r="1.73" fill="#a8adca"/>
<circle cx="476.2" cy="116" r="1.97" fill="#eda1a6"/>
<circle cx="484.5" cy="116" r="1.71" fill="#f1b5b8"/>
<circle cx="492.7" cy="116" r="2.61" fill="#e36d74"/>
<circle cx="484.5" cy="124.2" r="2.21" fill="#ea8f94"/>
<circle cx="492.7" cy="124.2" r="2.42" fill="#e67e84"/>
<circle cx="500.9" cy="124.2" r="1.73" fill="#a8adca"/>
<circle cx="509.2" cy="124.2" r="1.25" fill="#f6d2d4"/>
<circle cx="492.7" cy="132.5" r="3.12" fill="#de535b"/>
<circle cx="509.2" cy="140.7" r="1.25" fill="#f6d2d4"/>
<circle cx="509.2" cy="148.9" r="1.40" fill="#f5c9cc"/>
<circle cx="393.8" cy="41.8" r="3.87" fill="#e52229"/>
<circle cx="402.1" cy="50.1" r="3.87" fill="#e52229"/>
<circle cx="410.3" cy="58.3" r="3.87" fill="#e52229"/>
<circle cx="418.5" cy="66.5" r="3.87" fill="#e52229"/>
<circle cx="426.8" cy="74.8" r="3.87" fill="#e52229"/>
<circle cx="435" cy="83" r="3.87" fill="#e52229"/>
<circle cx="443.3" cy="91.3" r="3.87" fill="#e52229"/>
<circle cx="451.5" cy="99.5" r="3.87" fill="#e52229"/>
<circle cx="459.7" cy="107.7" r="3.87" fill="#e52229"/>
<circle cx="468" cy="116" r="3.87" fill="#e52229"/>
<circle cx="476.2" cy="124.2" r="3.87" fill="#e52229"/>
<circle cx="484.5" cy="132.5" r="3.87" fill="#e52229"/>
<circle cx="492.7" cy="140.7" r="3.87" fill="#e52229"/>
<circle cx="500.9" cy="148.9" r="3.87" fill="#e52229"/>
<circle cx="509.2" cy="157.2" r="3.87" fill="#e52229"/>
<text x="388.3" y="44.8" font-size="6.5" text-anchor="end">JAM-C</text>
<text x="396.5" y="53" font-size="6.5" text-anchor="end">GPR56</text>
<text x="404.8" y="61.2" font-size="6.5" text-anchor="end">CD47</text>
<text x="413" y="69.5" font-size="6.5" text-anchor="end">CD117</text>
<text x="421.3" y="77.7" font-size="6.5" text-anchor="end">CD44</text>
<text x="429.5" y="86" font-size="6.5" text-anchor="end">CD96</text>
<text x="437.7" y="94.2" font-size="6.5" text-anchor="end">TIM-3</text>
<text x="446" y="102.4" font-size="6.5" text-anchor="end">CD25</text>
<text x="454.2" y="110.7" font-size="6.5" text-anchor="end">IL1RAP</text>
<text x="462.5" y="118.9" font-size="6.5" text-anchor="end">CD33</text>
<text x="470.7" y="127.2" font-size="6.5" text-anchor="end">CLL-1</text>
<text x="478.9" y="135.4" font-size="6.5" text-anchor="end">CD32</text>
<text x="487.2" y="143.6" font-size="6.5" text-anchor="end">CD93</text>
<text x="495.4" y="151.9" font-size="6.5" text-anchor="end">CD98</text>
<text x="503.7" y="160.1" font-size="6.5" text-anchor="end">CD90</text>
<text transform="translate(396.2 35.1) rotate(-90)" font-size="6.5">JAM-C</text>
<text transform="translate(404.4 35.1) rotate(-90)" font-size="6.5">GPR56</text>
<text transform="translate(412.6 35.1) rotate(-90)" font-size="6.5">CD47</text>
<text transform="translate(420.9 35.1) rotate(-90)" font-size="6.5">CD117</text>
<text transform="translate(429.1 35.1) rotate(-90)" font-size="6.5">CD44</text>
<text transform="translate(437.4 35.1) rotate(-90)" font-size="6.5">CD96</text>
<text transform="translate(445.6 35.1) rotate(-90)" font-size="6.5">TIM-3</text>
<text transform="translate(453.8 35.1) rotate(-90)" font-size="6.5">CD25</text>
<text transform="translate(462.1 35.1) rotate(-90)" font-size="6.5">IL1RAP</text>
<text transform="translate(470.3 35.1) rotate(-90)" font-size="6.5">CD33</text>
<text transform="translate(478.6 35.1) rotate(-90)" font-size="6.5">CLL-1</text>
<text transform="translate(486.8 35.1) rotate(-90)" font-size="6.5">CD32</text>
<text transform="translate(495 35.1) rotate(-90)" font-size="6.5">CD93</text>
<text transform="translate(503.3 35.1) rotate(-90)" font-size="6.5">CD98</text>
<text transform="translate(511.5 35.1) rotate(-90)" font-size="6.5">CD90</text>
<text x="414.2" y="119.2" font-size="6.4" text-anchor="middle">Leucegene</text>
<text x="414.2" y="127.2" font-size="6.4" text-anchor="middle"><tspan font-style="italic">n</tspan> = 185</text>
<defs><linearGradient id="cg" x1="0" x2="1" y1="0" y2="0"><stop offset="0" stop-color="#1b2a72"/><stop offset="0.25" stop-color="#5a6cb0"/><stop offset="0.5" stop-color="#f4f4f4"/><stop offset="0.75" stop-color="#d87a80"/><stop offset="1" stop-color="#a3141e"/></linearGradient></defs>
<rect x="424.2" y="157.2" width="40.4" height="3.2" fill="url(#cg)"/>
<path d="M424.2 160.6h40.4" stroke="#333" stroke-width="0.5"/>
<path d="M424.2 160.6v1M428.2 160.6v1M432.3 160.6v1M436.3 160.6v1M440.4 160.6v1M444.4 160.6v1M448.4 160.6v1M452.5 160.6v1M456.5 160.6v1M460.6 160.6v1M464.6 160.6v1" stroke="#333" stroke-width="0.4"/>
<text x="424.6" y="168.6" font-size="6" text-anchor="middle">&#8722;1</text>
<text x="445.4" y="168.6" font-size="6" text-anchor="middle">0</text>
<text x="464.6" y="168.6" font-size="6" text-anchor="middle">+1</text>
<path d="M53.5 282L58.8 279.9L64.1 277.7L69.4 275.5L74.7 273.2L80 270.9L85.3 268.6L90.6 266.2L95.9 263.8L101.2 261.3L106.5 258.8L111.8 256.2L117.1 253.6L122.4 250.9L127.7 248.2L133 245.5L138.3 242.7L143.6 239.9L148.9 237L154.2 234.1L159.5 231.1L159.5 237.5L154.2 239.6L148.9 241.8L143.6 244L138.3 246.3L133 248.6L127.7 250.9L122.4 253.3L117.1 255.7L111.8 258.2L106.5 260.8L101.2 263.3L95.9 265.9L90.6 268.6L85.3 271.3L80 274L74.7 276.8L69.4 279.6L64.1 282.5L58.8 285.4L53.5 288.4Z" fill="#dcdaf4"/>
<path d="M115.6 247h1.1M151 220.4h1.1M77.7 271.1h1.1M141.5 240h1.1M78.1 294.8h1.1M121.7 254.4h1.1M146 241.6h1.1M154.7 230.1h1.1M154.1 210.3h1.1M87.1 274.1h1.1M132.7 234.2h1.1M116.5 243.1h1.1M138 241.1h1.1M143.8 229.2h1.1M108.5 270h1.1M143.5 228.8h1.1M151.7 239.9h1.1M105.4 296.9h1.1M96.5 264.9h1.1M144.6 211.4h1.1M80.3 281h1.1M72.1 283.7h1.1M92.2 287.3h1.1M157.9 209.1h1.1M157.7 260h1.1M145.8 237.4h1.1M113.4 246.2h1.1M116.7 287.9h1.1M132.4 265.4h1.1M72 286h1.1M134.6 222.8h1.1M75.7 260.3h1.1M121.3 252h1.1M131.4 244.7h1.1M128.2 243.2h1.1M130.5 231.6h1.1M69.5 285.8h1.1M109.3 295.1h1.1M91.3 278.2h1.1M140.6 215h1.1M106.2 274.8h1.1M123.4 267.7h1.1M157.7 236.8h1.1M89.7 276.5h1.1M131.6 241.4h1.1M83.9 273.4h1.1M99.9 267.1h1.1M143.6 270h1.1M132.9 237.3h1.1M83.1 281.5h1.1M129.7 242.2h1.1M88.6 260.5h1.1M118.4 265.6h1.1M146.3 254.7h1.1M150.5 219.1h1.1M119.9 256.3h1.1M130.7 264.3h1.1M136.4 251.8h1.1M70.5 289.7h1.1M125.3 247.9h1.1M137.1 224.1h1.1M112.5 240.3h1.1M128.9 257.4h1.1M89.6 268.6h1.1M122.5 240h1.1M130.7 255.3h1.1M122.4 243.2h1.1M155.8 249.8h1.1M127.9 272.8h1.1M94.8 264.9h1.1M143.2 215.6h1.1M107.7 260.4h1.1M147.2 241.1h1.1M147.6 242.1h1.1M130.1 247.9h1.1M118.3 224.9h1.1M84.9 272.3h1.1M123.2 249.4h1.1M156.8 251h1.1M142.4 249.1h1.1M124.8 262.6h1.1M121.4 252.5h1.1M88.4 251.5h1.1M99.8 242h1.1M154.5 240.3h1.1M125.5 254.1h1.1M129.4 251.5h1.1M139.9 243.8h1.1M133 243.7h1.1M147.9 255.5h1.1M101.8 253.4h1.1M115 253.4h1.1M124.2 245.5h1.1M110 253.8h1.1M151.8 256.5h1.1M141.3 250.4h1.1M139.7 261.8h1.1M151.4 242.8h1.1M149.9 243.4h1.1M130 244.2h1.1M106.1 245h1.1M137.3 238.7h1.1M137.4 258.3h1.1M135.9 218.5h1.1M81.5 252.3h1.1M145 228.9h1.1M142.6 235.1h1.1M120.9 257.2h1.1M150.2 258h1.1M114 267.7h1.1M76.5 263.6h1.1M151.4 228.1h1.1M70.1 284.9h1.1M101.7 241.8h1.1M83.7 258.4h1.1M99.7 273.4h1.1M100.3 253h1.1M106.8 242.1h1.1M125.5 278.5h1.1M138.5 239h1.1M147.2 223.6h1.1M137.9 273.9h1.1M120.5 269.7h1.1M143.9 228.7h1.1M126.8 225.7h1.1M122.4 214.8h1.1M133.5 234.3h1.1M93.1 247.4h1.1M94.3 263.5h1.1M109.8 244.3h1.1M140.3 256.8h1.1M159 217.3h1.1M87.6 292h1.1M131.8 230.5h1.1M145.5 215.4h1.1M127 236.7h1.1M87.2 258.3h1.1M60.7 296.7h1.1M62.6 286.6h1.1M127.2 267.3h1.1M85.8 254h1.1M117.9 246.6h1.1M155.1 221.3h1.1M102.7 246h1.1M96.8 271.5h1.1M119 272.8h1.1M157.7 220.2h1.1M142.9 269.4h1.1M151.9 239h1.1M139.5 224.2h1.1M146.8 241.3h1.1M151.7 259.1h1.1M119.7 263.9h1.1M126.3 269h1.1M80.3 276.8h1.1M153.2 244.8h1.1M99.3 229.6h1.1M68 289.5h1.1M135.4 267.9h1.1M89.2 279.4h1.1M109 259.2h1.1M107.5 257.1h1.1M87.3 294.4h1.1M108.7 276.9h1.1M128.2 251.7h1.1M113.1 255.6h1.1M148 252.6h1.1M152.5 248.6h1.1M70.1 278.1h1.1M132.3 242h1.1M149.4 212.7h1.1M113.3 258.2h1.1M145.9 235.1h1.1M155.7 242.1h1.1M146.4 222.6h1.1M108.9 220h1.1M126.4 285h1.1M68.2 251.3h1.1M115.6 273.3h1.1M136.1 247.4h1.1M85.8 278.9h1.1M132.6 225.5h1.1M142.5 252.2h1.1M113.2 266.2h1.1M141.8 249.7h1.1M144 227.9h1.1M125 219.1h1.1M114.5 269.8h1.1M133.6 228.1h1.1M120.9 277.4h1.1M147.2 229.6h1.1M101.5 281.8h1.1M143.6 255.6h1.1M73.3 277h1.1M80.3 243.1h1.1M144.7 254.7h1.1M142.2 255.3h1.1M127.6 235.3h1.1M91.9 290.1h1.1M121.4 240.5h1.1M118.5 250.3h1.1M64 277.6h1.1M124.1 238.5h1.1M151.8 240.6h1.1M118 257.8h1.1M134.1 237.7h1.1M120.8 233.9h1.1M116.7 259.4h1.1M106.3 273h1.1M138.1 230.1h1.1M142.3 247.7h1.1M99.5 267.5h1.1M152.1 237.9h1.1M135.8 253.2h1.1M112.5 258.4h1.1M112.5 269h1.1M153.1 228h1.1M109 252.6h1.1M118 229.8h1.1M150.3 246.8h1.1M113.3 239.3h1.1M118.4 262.2h1.1M80.6 257.3h1.1M149.2 221.2h1.1M134.6 239.3h1.1M87.6 260.9h1.1M133.6 229.7h1.1M131.1 252.1h1.1M108.6 228.5h1.1M85.5 249.1h1.1M113.4 255.5h1.1M116.8 240h1.1M124.4 253.1h1.1M148.3 259.3h1.1M90.9 265.1h1.1M116.5 262.3h1.1M127.1 249.8h1.1M150.2 234.5h1.1M87 272h1.1M139.6 226.9h1.1M105.8 284h1.1M153.4 242.2h1.1M108.6 267.9h1.1M78.5 248.4h1.1M102.9 253.1h1.1M86 271.9h1.1M109.9 241.9h1.1M98.3 264.2h1.1M112.7 253.1h1.1M112.4 250.6h1.1M86.7 266.5h1.1M101 255.9h1.1M72.9 289.7h1.1M157.3 224.3h1.1M102.1 268h1.1M94.9 246.7h1.1M84.4 262.1h1.1M124.4 251h1.1M100.1 276.8h1.1M144.6 223.9h1.1M113.2 259.9h1.1M101 270.4h1.1M114.3 264.2h1.1M95.1 261.2h1.1M142.4 225.9h1.1M88.2 274.3h1.1M124.4 259h1.1M78 280.8h1.1M104.5 274h1.1M109.8 275h1.1M97.3 275h1.1M136.8 210.9h1.1M87.3 233.7h1.1M146.9 258.5h1.1M144.8 235.1h1.1M147 223h1.1M130.4 269h1.1M59.9 273.6h1.1M103.4 253.6h1.1M109.1 239.5h1.1M104.7 277.6h1.1M99.5 281.7h1.1M83.6 284.5h1.1M103.6 236h1.1M141.7 243h1.1M100.2 276.6h1.1M129.8 238.4h1.1M119.9 259.6h1.1M108.8 227.6h1.1M121.8 288.2h1.1M93.1 251h1.1M119.8 239.4h1.1M149.8 266.1h1.1M96.4 270.8h1.1M158.9 246.6h1.1M119.6 262.9h1.1M123.8 269.6h1.1M90.3 257.1h1.1M87.6 268.5h1.1M151.4 208.7h1.1M130.5 266.5h1.1M106.1 263.5h1.1M91.2 264.1h1.1M135.3 256.9h1.1M128.1 221.9h1.1M140.6 273.4h1.1M149.5 230.9h1.1M96 262.5h1.1M123.4 223.8h1.1M96.8 240.6h1.1M126.2 250.3h1.1M113.1 267.9h1.1M151.6 219.5h1.1M139.9 235.7h1.1M112.8 256h1.1M62.5 298.1h1.1M121.2 268.2h1.1M106.9 272.1h1.1M99.7 257.4h1.1M143.4 257.3h1.1M84.3 244.3h1.1M76.7 263.7h1.1M118.6 247.7h1.1M115.3 257.8h1.1M144.9 241.2h1.1M79.7 277.7h1.1M105.6 292.5h1.1M97.8 276.2h1.1M93.9 278.9h1.1M128.2 242.2h1.1M144.4 230.4h1.1M129.5 229.8h1.1M130.8 239.2h1.1M107.6 270.8h1.1M98.7 235.5h1.1M117 242.3h1.1M122.7 251h1.1M151.4 244.9h1.1M133.4 220.5h1.1M91.3 274.3h1.1M93.5 270.7h1.1M88.4 281.5h1.1M134.7 233.1h1.1M123 237.6h1.1M133.1 248.2h1.1M154.5 255.6h1.1M131.7 264.5h1.1M139.9 224.5h1.1M85.8 255.2h1.1M156.6 236h1.1M137.6 254.1h1.1M120.2 254.1h1.1M130.3 267.7h1.1M106.1 257.4h1.1M121.9 233.4h1.1M115.1 252.5h1.1M84.8 265.2h1.1M135.9 244.3h1.1M108.8 249.7h1.1M155.7 249.5h1.1M102.5 268.7h1.1M130.3 263.1h1.1M125.3 251.2h1.1M130.6 228.2h1.1M89 262.3h1.1M106.3 278.1h1.1M123.6 209.9h1.1M87.8 293.3h1.1M118.8 274.7h1.1M157.1 249.2h1.1M134.9 209.9h1.1M139.1 252.4h1.1M103.1 265.9h1.1M95.5 227.2h1.1M139.7 262.9h1.1M147 244.8h1.1M135.9 256.9h1.1M136.7 250h1.1M151.2 234.2h1.1M155.9 235.9h1.1M121.1 275h1.1M156.8 234.9h1.1M71.9 297.1h1.1M114.6 251.3h1.1M115.9 256.7h1.1M125 240.7h1.1M100 297.7h1.1M159.8 232.9h1.1M94.8 248.8h1.1M121.9 241.7h1.1M148 255.8h1.1M122.3 251.8h1.1M106.2 255.4h1.1M125.6 239.4h1.1M144.2 222.3h1.1M101.2 258.7h1.1M121.5 242.3h1.1M79 281.8h1.1M90.2 259.5h1.1M111.8 287.7h1.1M154.7 232.7h1.1M112 267.2h1.1M133.6 260.7h1.1M121.9 286.3h1.1M154.6 253.5h1.1M147.6 243.3h1.1M114.3 233.7h1.1M133.9 253h1.1M93 288.9h1.1M118.9 281.9h1.1M113.6 257.5h1.1M118.5 266.9h1.1M116.9 249.8h1.1M72.8 278.4h1.1M87.3 286.8h1.1M155.3 222.6h1.1M94.4 250.5h1.1M118 246.5h1.1M140.4 237h1.1M126.3 218.3h1.1M87.9 279h1.1M106.6 246.2h1.1M110.8 244.2h1.1M119.3 264.8h1.1M115 268h1.1M135.5 264.6h1.1M131.6 230.7h1.1M125.7 248.1h1.1M136.4 225.2h1.1M141.7 234.5h1.1M110.8 257.1h1.1M103.6 235.6h1.1M103.2 249.4h1.1M112.5 236.8h1.1M122.1 286.9h1.1M146.7 256.3h1.1M141.9 245.5h1.1M139.7 243.9h1.1M150 233.3h1.1M146.2 235.5h1.1M149.4 243h1.1M121.5 265.4h1.1M140.6 218.7h1.1M115 221.8h1.1M81.9 246.8h1.1M124.4 271.9h1.1M127.7 268.9h1.1M102.7 266.3h1.1M145.1 234.9h1.1M138.2 232.6h1.1M117.6 253.5h1.1" stroke="#6e6e96" stroke-width="1.1"/>
<path d="M53.5 285.2L159.5 234.3" stroke="#6e6ca6" stroke-width="0.95"/>
<path d="M47.8 200.4V306.5H165" fill="none" stroke="#222" stroke-width="1"/>
<path d="M55.1 306.5v2.6" stroke="#222" stroke-width="0.8"/>
<text x="55.1" y="318.7" font-size="6.6" text-anchor="middle" fill="#333">0</text>
<path d="M81.3 306.5v2.6" stroke="#222" stroke-width="0.8"/>
<text x="81.3" y="318.7" font-size="6.6" text-anchor="middle" fill="#333">2</text>
<path d="M107.5 306.5v2.6" stroke="#222" stroke-width="0.8"/>
<text x="107.5" y="318.7" font-size="6.6" text-anchor="middle" fill="#333">4</text>
<path d="M133.7 306.5v2.6" stroke="#222" stroke-width="0.8"/>
<text x="133.7" y="318.7" font-size="6.6" text-anchor="middle" fill="#333">6</text>
<path d="M159.9 306.5v2.6" stroke="#222" stroke-width="0.8"/>
<text x="159.9" y="318.7" font-size="6.6" text-anchor="middle" fill="#333">8</text>
<path d="M47.8 221.6h-2.6" stroke="#222" stroke-width="0.8"/>
<text x="43.2" y="223.9" font-size="6.4" text-anchor="end" fill="#333">5.0</text>
<path d="M47.8 246.2h-2.6" stroke="#222" stroke-width="0.8"/>
<text x="43.2" y="248.5" font-size="6.4" text-anchor="end" fill="#333">2.5</text>
<path d="M47.8 270.8h-2.6" stroke="#222" stroke-width="0.8"/>
<text x="43.2" y="273.1" font-size="6.4" text-anchor="end" fill="#333">0.0</text>
<path d="M47.8 295.6h-2.6" stroke="#222" stroke-width="0.8"/>
<text x="43.2" y="297.9" font-size="6.4" text-anchor="end" fill="#333">&#8722;2.5</text>
<text x="48.1" y="195.8" font-size="8.7">OHSU</text>
<text x="54.5" y="208.8" font-size="6.4" fill="#333">Cor = 0,5436</text>
<text x="54.5" y="216.3" font-size="6.4" fill="#333"><tspan font-style="italic">P</tspan>-val &lt; 2,2.10<tspan font-size="4" dy="-2.6">&#8722;16</tspan></text>
<text transform="translate(24.3 253.4) rotate(-90)" font-size="8.6" fill="#333" style="stroke-width:0.42px" text-anchor="middle" textLength="33" lengthAdjust="spacingAndGlyphs">JAM3 mRNA</text>
<text x="106.8" y="330.9" font-size="8.4" fill="#333" style="stroke-width:0.42px" text-anchor="middle" textLength="66" lengthAdjust="spacingAndGlyphs">GPR56 (ADGRG1) mRNA</text>
<path d="M209.1 280.2L214.2 277.9L219.2 275.5L224.2 273.1L229.3 270.6L234.3 268.1L239.4 265.5L244.4 262.8L249.5 260.1L254.6 257.4L259.6 254.6L264.6 251.7L269.7 248.8L274.8 245.8L279.8 242.8L284.9 239.7L289.9 236.6L295 233.4L300 230.1L305.1 226.8L310.1 223.5L310.1 231.1L305.1 233.4L300 235.8L295 238.2L289.9 240.7L284.9 243.3L279.8 245.8L274.8 248.5L269.7 251.2L264.6 253.9L259.6 256.8L254.6 259.6L249.5 262.5L244.4 265.5L239.4 268.5L234.3 271.6L229.3 274.7L224.2 277.9L219.2 281.2L214.2 284.5L209.1 287.8Z" fill="#dcdaf4"/>
<path d="M274.8 248.3h1.1M274.9 243.7h1.1M273.4 254.3h1.1M247.3 254h1.1M253.4 246.8h1.1M258.6 279.8h1.1M233.8 280.5h1.1M218.6 278h1.1M256.9 243.2h1.1M243.9 266.3h1.1M276.4 235.4h1.1M240.4 244h1.1M249.3 243.7h1.1M256.7 262h1.1M235.3 269.6h1.1M249.1 239.1h1.1M293.3 241.8h1.1M288.6 219.8h1.1M256.6 263.6h1.1M288.6 234h1.1M273.3 263.2h1.1M262.4 269.5h1.1M280.4 233.6h1.1M254.2 269.9h1.1M283.7 246.9h1.1M291.1 251.2h1.1M257.3 263.4h1.1M240.1 227.5h1.1M301.4 240.7h1.1M281.4 267.8h1.1M291.8 222.2h1.1M255.8 261.6h1.1M269.1 243.1h1.1M255.4 268.7h1.1M257.6 261.6h1.1M281.2 241.7h1.1M268.9 272.6h1.1M254.9 262.5h1.1M251.9 260.3h1.1M256.8 277.2h1.1M284.9 228.1h1.1M252 249.9h1.1M242.6 281.1h1.1M259.1 233.2h1.1M261.5 274.6h1.1M269.2 257.1h1.1M247.7 255.9h1.1M231 254.7h1.1M266.3 259h1.1M248.7 251h1.1M292.5 246.5h1.1M270.2 215.6h1.1M278 248.7h1.1M272 245.8h1.1M279.5 238.3h1.1M253.3 259.1h1.1M273 256.3h1.1M266.2 263.1h1.1M292.5 214.6h1.1M244.9 250.1h1.1M268.4 247.9h1.1M258.9 250.6h1.1M287.3 255.9h1.1M287.5 242.5h1.1M239.9 265.3h1.1M279 244.7h1.1M271.3 252.3h1.1M252.5 243.9h1.1M243.6 248.8h1.1M272.2 250.9h1.1M259.6 257.9h1.1M263.8 252.3h1.1M261.5 279.6h1.1M217.2 272.1h1.1M250.5 266.7h1.1M260.9 268.4h1.1M299.3 232.4h1.1M260.8 267.8h1.1M284.5 230.5h1.1M298 220.8h1.1M246.5 278.4h1.1M295.2 243.9h1.1M262.3 254.6h1.1M275.9 237.5h1.1M241.6 272.4h1.1M226 264.4h1.1M261.1 276.1h1.1M287.8 238.4h1.1M242.2 268.9h1.1M251.6 256.7h1.1M269.3 256.5h1.1M274.2 281.4h1.1M257.1 246.4h1.1M285.9 228.7h1.1M241.6 286.6h1.1M257.2 224.2h1.1M270.6 258h1.1M227.5 269.3h1.1M254.7 249.8h1.1M268.9 280.8h1.1M261.9 242h1.1M251.4 274.6h1.1M238.9 283.2h1.1M295.8 242.7h1.1M294.8 249.3h1.1M252.5 268h1.1M260.3 244.8h1.1M309.3 217.2h1.1M262 250.6h1.1M259.4 249.2h1.1M245.2 258.5h1.1M274.4 233.2h1.1M246.1 255.7h1.1M270.5 259.2h1.1M220.8 282.6h1.1M283.6 245h1.1M276.7 254.6h1.1M262.1 246.6h1.1M274.9 249.1h1.1M274.3 206.2h1.1M284.4 238.5h1.1M253.9 281.3h1.1M268.1 255.1h1.1M263.2 259.6h1.1M281.2 228h1.1M248.9 278.5h1.1M271.1 229.3h1.1M273.2 240.3h1.1M233.5 275.8h1.1M276.9 239.8h1.1M264 244.1h1.1M282.9 240.4h1.1M248.6 279.1h1.1M268.7 251.6h1.1M260.2 239h1.1M249.7 263.2h1.1M278.4 256h1.1M217.1 284.6h1.1M281.9 250.3h1.1M258.7 279.6h1.1M290.2 261.1h1.1M249.5 262.1h1.1M306.6 227.3h1.1M248.4 280.4h1.1M257.3 272h1.1M250.5 258.6h1.1M290.7 252.3h1.1M293.8 261.8h1.1M306.4 237.6h1.1M255.9 262.6h1.1M269.1 249.9h1.1M256.8 265.1h1.1M252.1 257.6h1.1M252.4 267.4h1.1M232.6 268.6h1.1M274.7 259.8h1.1M285.7 240.6h1.1M266.3 273.5h1.1M277.5 227.8h1.1M306.2 237.3h1.1M262.7 242.7h1.1M275.6 254.1h1.1M265.4 238.1h1.1M276.2 246.1h1.1M286.7 259.4h1.1M273.5 255.5h1.1M256.2 245.4h1.1M301.8 225.4h1.1M266.8 228.4h1.1M280.5 272.3h1.1M251 267.7h1.1M249.5 279.5h1.1M278.2 241.8h1.1" stroke="#6e6e96" stroke-width="1.1"/>
<path d="M209.1 284L310.1 227.3" stroke="#6e6ca6" stroke-width="0.95"/>
<path d="M203.8 201.5V306.6H320.5" fill="none" stroke="#222" stroke-width="1"/>
<path d="M220.5 306.6v2.6" stroke="#222" stroke-width="0.8"/>
<text x="220.5" y="318.8" font-size="6.6" text-anchor="middle" fill="#333">&#8722;2</text>
<path d="M242 306.6v2.6" stroke="#222" stroke-width="0.8"/>
<text x="242" y="318.8" font-size="6.6" text-anchor="middle" fill="#333">&#8722;1</text>
<path d="M263.5 306.6v2.6" stroke="#222" stroke-width="0.8"/>
<text x="263.5" y="318.8" font-size="6.6" text-anchor="middle" fill="#333">0</text>
<path d="M285 306.6v2.6" stroke="#222" stroke-width="0.8"/>
<text x="285" y="318.8" font-size="6.6" text-anchor="middle" fill="#333">1</text>
<path d="M306.5 306.6v2.6" stroke="#222" stroke-width="0.8"/>
<text x="306.5" y="318.8" font-size="6.6" text-anchor="middle" fill="#333">2</text>
<path d="M203.8 292h-2.6" stroke="#222" stroke-width="0.8"/>
<text x="199.2" y="294.3" font-size="6.4" text-anchor="end" fill="#333">&#8722;2</text>
<path d="M203.8 272.6h-2.6" stroke="#222" stroke-width="0.8"/>
<text x="199.2" y="274.9" font-size="6.4" text-anchor="end" fill="#333">&#8722;1</text>
<path d="M203.8 253.2h-2.6" stroke="#222" stroke-width="0.8"/>
<text x="199.2" y="255.5" font-size="6.4" text-anchor="end" fill="#333">0</text>
<path d="M203.8 233.8h-2.6" stroke="#222" stroke-width="0.8"/>
<text x="199.2" y="236.1" font-size="6.4" text-anchor="end" fill="#333">1</text>
<path d="M203.8 214.4h-2.6" stroke="#222" stroke-width="0.8"/>
<text x="199.2" y="216.7" font-size="6.4" text-anchor="end" fill="#333">2</text>
<text x="203.9" y="195.8" font-size="8.7">TCGA</text>
<text x="210.5" y="209.9" font-size="6.4" fill="#333">Cor = 0,6356</text>
<text x="210.5" y="217.4" font-size="6.4" fill="#333"><tspan font-style="italic">P</tspan>-val &lt; 2,2.10<tspan font-size="4" dy="-2.6">&#8722;16</tspan></text>
<text transform="translate(185.2 253.2) rotate(-90)" font-size="8.6" fill="#333" style="stroke-width:0.42px" text-anchor="middle" textLength="33" lengthAdjust="spacingAndGlyphs">JAM3 mRNA</text>
<text x="262.5" y="330.9" font-size="8.4" fill="#333" style="stroke-width:0.42px" text-anchor="middle" textLength="66" lengthAdjust="spacingAndGlyphs">GPR56 (ADGRG1) mRNA</text>
<path d="M370.4 290.4L375.7 287.8L381.1 285.1L386.4 282.3L391.8 279.5L397.1 276.6L402.4 273.7L407.8 270.7L413.1 267.6L418.5 264.5L423.8 261.3L429.1 258L434.5 254.7L439.8 251.4L445.2 247.9L450.5 244.4L455.8 240.9L461.2 237.2L466.5 233.6L471.9 229.8L477.2 226L477.2 234.4L471.9 237L466.5 239.7L461.2 242.5L455.8 245.3L450.5 248.2L445.2 251.1L439.8 254.1L434.5 257.2L429.1 260.3L423.8 263.5L418.5 266.8L413.1 270.1L407.8 273.4L402.4 276.9L397.1 280.4L391.8 283.9L386.4 287.6L381.1 291.2L375.7 295L370.4 298.8Z" fill="#dcdaf4"/>
<path d="M398.2 288.3h1.1M431.1 269.5h1.1M435.4 260.4h1.1M407.9 290.7h1.1M371.1 296.4h1.1M402.5 278.7h1.1M451.6 252.4h1.1M418.8 251.7h1.1M417.6 265.8h1.1M398.3 295.1h1.1M388.9 269.9h1.1M447.8 255.9h1.1M420.1 271.9h1.1M478.1 211.5h1.1M421.3 252.4h1.1M451.5 261h1.1M437.2 243.3h1.1M425.1 248h1.1M449.3 245h1.1M417.5 250.4h1.1M428.2 251.8h1.1M465 228.9h1.1M423.9 283.1h1.1M432.6 249.8h1.1M437.4 243.5h1.1M439.7 247.2h1.1M428.3 248.8h1.1M411.5 284.9h1.1M405.4 271.2h1.1M389.5 290.8h1.1M421.6 257.5h1.1M404.5 272.4h1.1M426.2 268.3h1.1M426.8 262.1h1.1M403 279.9h1.1M407.2 240.8h1.1M420.7 273.4h1.1M396.2 278.8h1.1M432.9 254.7h1.1M397.8 294.5h1.1M403.5 270.9h1.1M408.5 272.3h1.1M461.7 267.4h1.1M420.2 263.9h1.1M394.9 262.5h1.1M420 257.5h1.1M437.1 229.6h1.1M412.3 278.7h1.1M399.7 296.9h1.1M462.1 244.2h1.1M390.2 271.2h1.1M461.1 253.3h1.1M424.4 283.5h1.1M384.6 289.3h1.1M401.2 295h1.1M425.6 253.7h1.1M420.9 242.2h1.1M412.1 274.3h1.1M443.2 212.2h1.1M466.4 218.5h1.1M428 280.6h1.1M455.2 242.7h1.1M472.7 229.2h1.1M385.3 267.4h1.1M428.7 267.2h1.1M428.4 258.2h1.1M431.3 285.9h1.1M425.7 252.8h1.1M399.8 255.2h1.1M422 296.3h1.1M458 245.8h1.1M426.3 263h1.1M465.1 234.4h1.1M411 280.1h1.1M437.1 242.8h1.1M411.6 253.4h1.1M411.3 266.5h1.1M436.3 248.5h1.1M430.9 252h1.1M415.1 263.1h1.1M432.3 276.3h1.1M396.1 273.8h1.1M424.8 257.8h1.1M440.7 244.2h1.1M414.3 258.4h1.1M410.9 240.9h1.1M446.7 246.5h1.1M412 260.5h1.1M422.1 274.7h1.1M436 251.7h1.1M443 251.8h1.1M464.7 206.5h1.1M406.1 247h1.1M438.9 249.3h1.1M431.2 276.4h1.1M429.3 274.3h1.1M430.2 262.6h1.1M414.9 275.1h1.1M437.6 220.7h1.1M390.5 270.4h1.1M417.3 240h1.1M448.4 259.1h1.1M427.3 235.4h1.1M459.4 248.4h1.1M405 268.2h1.1M452.8 227.1h1.1M432.2 247h1.1M436.3 252h1.1M407 260.2h1.1M434.1 240h1.1M424.8 268.8h1.1M440.8 236.1h1.1M462 258.6h1.1M416.2 269.9h1.1M469.4 269.9h1.1M444.7 260.7h1.1M404.2 259.7h1.1M440.9 302.4h1.1M400 276.3h1.1M414.9 248.6h1.1M408.3 275.5h1.1M380.4 280.1h1.1M425.7 248.2h1.1M410.7 239.6h1.1M411.8 240.5h1.1M462 252.2h1.1M428.9 269h1.1M388.1 275.3h1.1M425.1 238.8h1.1M457.2 268.6h1.1M418.3 258.8h1.1M441.9 247.7h1.1M408.5 275.7h1.1M437.6 274.6h1.1M396.6 300.6h1.1M410.3 249.5h1.1M414.3 257h1.1M451.5 225.2h1.1M428.5 261.4h1.1M422.8 268.4h1.1M408.8 264.4h1.1M442.2 260.4h1.1M405.2 274.9h1.1M423.9 249.6h1.1M427.6 258.5h1.1M392.5 290.3h1.1M416.8 277.7h1.1M432.6 256.9h1.1M407.6 266.1h1.1M446.7 209.4h1.1M422 271.7h1.1M440.9 224.2h1.1M412.3 259.3h1.1M419.1 251h1.1M409.4 278.7h1.1M418.1 268.9h1.1M397.9 283.3h1.1M406.9 242.7h1.1M451.3 255h1.1M413.9 263.1h1.1M412.4 278.9h1.1M437.2 236h1.1M433.3 233.5h1.1M424.5 264.1h1.1M415.4 275.3h1.1M407.3 249.9h1.1M441.7 253.7h1.1M424.9 276.5h1.1M436.1 257.9h1.1M420 270.3h1.1M393 291.6h1.1M454.1 257.3h1.1M404.7 279.3h1.1M404.1 291.9h1.1M399.6 294.2h1.1M422.9 301.3h1.1M423.1 278.5h1.1M430.7 272.5h1.1M444.3 278.8h1.1M460.2 260.7h1.1M415.8 285.2h1.1M417.3 243.2h1.1M439.4 261.8h1.1M432.8 229.4h1.1M436.1 260.2h1.1" stroke="#6e6e96" stroke-width="1.1"/>
<path d="M370.4 294.6L477.2 230.2" stroke="#6e6ca6" stroke-width="0.95"/>
<path d="M365.2 200.4V306.6H481.9" fill="none" stroke="#222" stroke-width="1"/>
<path d="M370 306.6v2.6" stroke="#222" stroke-width="0.8"/>
<text x="370" y="318.8" font-size="6.6" text-anchor="middle" fill="#333">&#8722;1</text>
<path d="M403 306.6v2.6" stroke="#222" stroke-width="0.8"/>
<text x="403" y="318.8" font-size="6.6" text-anchor="middle" fill="#333">0</text>
<path d="M436 306.6v2.6" stroke="#222" stroke-width="0.8"/>
<text x="436" y="318.8" font-size="6.6" text-anchor="middle" fill="#333">1</text>
<path d="M469 306.6v2.6" stroke="#222" stroke-width="0.8"/>
<text x="469" y="318.8" font-size="6.6" text-anchor="middle" fill="#333">2</text>
<path d="M365.2 215.5h-2.6" stroke="#222" stroke-width="0.8"/>
<text x="360.6" y="217.8" font-size="6.4" text-anchor="end" fill="#333">1.0</text>
<path d="M365.2 240.4h-2.6" stroke="#222" stroke-width="0.8"/>
<text x="360.6" y="242.7" font-size="6.4" text-anchor="end" fill="#333">0.5</text>
<path d="M365.2 265.3h-2.6" stroke="#222" stroke-width="0.8"/>
<text x="360.6" y="267.6" font-size="6.4" text-anchor="end" fill="#333">0.0</text>
<path d="M365.2 290.2h-2.6" stroke="#222" stroke-width="0.8"/>
<text x="360.6" y="292.5" font-size="6.4" text-anchor="end" fill="#333">&#8722;0.5</text>
<text x="364.2" y="195.8" font-size="8.7">Leucegene</text>
<text x="371.9" y="208.8" font-size="6.4" fill="#333">Cor = 0,6467</text>
<text x="371.9" y="216.3" font-size="6.4" fill="#333"><tspan font-style="italic">P</tspan>-val &lt; 2,2.10<tspan font-size="4" dy="-2.6">&#8722;16</tspan></text>
<text transform="translate(341.6 253.6) rotate(-90)" font-size="8.6" fill="#333" style="stroke-width:0.42px" text-anchor="middle" textLength="33" lengthAdjust="spacingAndGlyphs">JAM3 mRNA</text>
<text x="422.5" y="330.9" font-size="8.4" fill="#333" style="stroke-width:0.42px" text-anchor="middle" textLength="66" lengthAdjust="spacingAndGlyphs">GPR56 (ADGRG1) mRNA</text>
<text transform="translate(23.8 423.5) rotate(-90)" font-size="8.2" fill="#333" style="stroke-width:0.3px" text-anchor="middle" textLength="109" lengthAdjust="spacingAndGlyphs">Number of concatenated events n = 7258</text>
<path d="M135.4 395.7h1.15M124 393.6h1.15M124.4 393.3h1.15M127.2 397.4h1.15M135.2 400.4h1.15M123 398h1.15M131.5 401.2h1.15M129.7 399.4h1.15" stroke="#172277" stroke-width="1.15"/>
<path d="M111.4 411h1.15M117.5 414.5h1.15M140.3 397h1.15M134.4 396h1.15M142.6 396.9h1.15M131.7 394.5h1.15M134.6 395.4h1.15M136.4 397.9h1.15M125.5 398.1h1.15M138.5 397.5h1.15M124.8 399.1h1.15M125.2 398.1h1.15M135.7 398.8h1.15M126.2 397.9h1.15M136 398.5h1.15M129 399.3h1.15M127.2 399.3h1.15M124.1 397.8h1.15M131.2 399.9h1.15M138.2 398.7h1.15M130.8 399.2h1.15M138 400.9h1.15M121.6 401.7h1.15M138.8 400.2h1.15M128.6 403.4h1.15M132 402.1h1.15M125.1 401.3h1.15M124.6 400.9h1.15M124.2 401.8h1.15M123.2 400.9h1.15M125 400.2h1.15M118.1 414.1h1.15M116.7 415h1.15M120.2 416h1.15" stroke="#1a2b89" stroke-width="1.15"/>
<path d="M112.7 414.7h1.15M119.6 410.4h1.15M113.9 410.7h1.15M110.6 412h1.15M131.5 394.4h1.15M138.1 396.7h1.15M133 395.6h1.15M139.4 396.6h1.15M136.5 397.1h1.15M139.1 395.4h1.15M127.4 394h1.15M129.2 394.1h1.15M127.7 395.2h1.15M123.2 395.3h1.15M133.9 395.1h1.15M131.9 395.9h1.15M121.8 397.7h1.15M124.9 397.6h1.15M130 399.4h1.15M132.7 399h1.15M131.3 398.1h1.15M124.6 397.3h1.15M134.7 402.6h1.15M127.4 402.3h1.15M131.2 402.7h1.15M123.5 403.5h1.15M132.3 401.7h1.15M133.6 402.6h1.15M127.1 402.3h1.15M133 401.1h1.15M131.8 401.6h1.15M121.7 403h1.15M127.5 402.1h1.15M123 400.1h1.15M133 401.9h1.15M129.4 402.1h1.15M125.8 401.3h1.15M120.1 401.2h1.15M129.5 400.3h1.15M124.2 401.1h1.15M132 402.8h1.15M132.1 401.3h1.15M126.3 401.2h1.15M123.7 400.4h1.15M126.9 400.8h1.15M127.3 400h1.15M117.7 410.9h1.15M118.3 418.5h1.15M118.4 409.8h1.15M117.3 408.9h1.15M118.1 417.2h1.15M116.1 406.3h1.15M118 413.6h1.15M119.3 412.8h1.15M117.7 417.6h1.15" stroke="#1c349b" stroke-width="1.15"/>
<path d="M112.5 411.4h1.15M119.6 410.7h1.15M112.5 415.9h1.15M115.5 405.7h1.15M112.5 413.8h1.15M113.4 415.8h1.15M119.8 413.4h1.15M114.7 412.1h1.15M117.7 413.5h1.15M113.3 410.5h1.15M110.3 411.2h1.15M113.7 413h1.15M118.6 411.4h1.15M114.6 408.9h1.15M111 401.5h1.15M116.6 409.9h1.15M123.4 393.5h1.15M127.8 395h1.15M138.7 396.5h1.15M126.9 394.3h1.15M121.5 394.2h1.15M123.5 392.8h1.15M125.3 393.4h1.15M125.4 395.3h1.15M128.5 396.2h1.15M131.2 394.3h1.15M142.2 395.8h1.15M140.8 397.5h1.15M122.2 396.7h1.15M138.9 398.6h1.15M135.6 400h1.15M130.5 397.6h1.15M127.8 399.1h1.15M136.5 398.5h1.15M134.5 398.6h1.15M132.5 399.8h1.15M124.6 398.4h1.15M132.1 397.9h1.15M126.9 397.8h1.15M139.1 398.3h1.15M125.3 402.2h1.15M131 403.1h1.15M126.3 403.1h1.15M128 401.8h1.15M132.1 402.5h1.15M128.6 402.7h1.15M124.1 404h1.15M138.3 399.1h1.15M131.5 402.1h1.15M128.9 402.6h1.15M120.3 404.3h1.15M132.2 399.5h1.15M132.1 400.9h1.15M123.8 400.1h1.15M128.3 402.2h1.15M128.6 400.8h1.15M131.6 400.3h1.15M130 402.5h1.15M118.4 408.9h1.15M118.2 414.8h1.15M116.9 408.1h1.15M119.8 413.3h1.15M116.9 419.2h1.15M118.8 417.7h1.15M115.7 407.2h1.15" stroke="#1f3eac" stroke-width="1.15"/>
<path d="M114.3 421.7h1.15M108 414.6h1.15M112.9 402h1.15M119.4 409h1.15M114.5 413.4h1.15M114.7 417.6h1.15M121.2 409.9h1.15M110.2 415h1.15M117.5 413.3h1.15M115.8 419h1.15M114.8 391.8h1.15M111.7 413.6h1.15M110.4 401.9h1.15M130 394.9h1.15M123.2 393.9h1.15M119 393.7h1.15M123.2 393.2h1.15M133.7 394.2h1.15M126.6 398h1.15M130.1 397.8h1.15M119.1 396.4h1.15M120.6 403.9h1.15M136.9 400.7h1.15M120.8 403.6h1.15M124.3 402.6h1.15M117.6 402.9h1.15M125.9 402.7h1.15M128.1 402.7h1.15M133.3 403h1.15M120.4 402.7h1.15M132.7 402.3h1.15M129.7 403.6h1.15M130.5 403.8h1.15M123.3 404h1.15M130.7 401.1h1.15M116.4 401.1h1.15M127.3 400.7h1.15M117.5 399.5h1.15M120.9 400.5h1.15M126.1 401.5h1.15M121.5 400.3h1.15M118.6 398.9h1.15M126.1 400.6h1.15M130.5 401.2h1.15M119.2 413.8h1.15M117 413.4h1.15M116.3 407.2h1.15M118.3 411.5h1.15M119.7 409.8h1.15M118.3 414.9h1.15M118.3 413.7h1.15M119.5 413.1h1.15M119.7 416.4h1.15M117.4 413.5h1.15M115 407.4h1.15M119.1 418h1.15M117.5 409.2h1.15M118.1 413.9h1.15" stroke="#244fb7" stroke-width="1.15"/>
<path d="M122.1 388.6h1.15M120.1 409.3h1.15M117.4 417.8h1.15M115.6 412.6h1.15M107.5 389.2h1.15M115.5 416.5h1.15M112.4 414.4h1.15M112.8 404.2h1.15M116.1 397.9h1.15M108.6 399.7h1.15M114.3 397.4h1.15M114.6 421.8h1.15M112.5 405.4h1.15M110.1 409.9h1.15M110.7 407.9h1.15M119.9 411.7h1.15M119.3 392.1h1.15M120.9 392.9h1.15M129.9 397h1.15M117.7 396.4h1.15M118.6 396.5h1.15M120.6 402.6h1.15M136.4 400.1h1.15M131.8 401.6h1.15M120 400.5h1.15M119.1 399h1.15M132.3 401.4h1.15M119.6 398.7h1.15M117 400.4h1.15M124.2 401.5h1.15M118.6 417.7h1.15M117.9 418.4h1.15M117.6 409.7h1.15M118.6 412.8h1.15M117.9 418.8h1.15M118.3 409h1.15M118.7 409.2h1.15M117.4 409.1h1.15" stroke="#2a5fc2" stroke-width="1.15"/>
<path d="M114.3 381.3h1.15M120.7 389.2h1.15M115.9 387.5h1.15M110.4 389.5h1.15M117.7 387.9h1.15M119.5 409.7h1.15M108.7 401.3h1.15M113.9 395.9h1.15M114.4 406.8h1.15M96.8 387.7h1.15M108.3 400.4h1.15M111.1 399.4h1.15M112.5 399h1.15M111.6 400.3h1.15M114.5 416h1.15M108.5 402.6h1.15M108.8 396.1h1.15M110.1 407.8h1.15M109.6 416.4h1.15M117.4 413h1.15M107.2 417.4h1.15M114.4 399.1h1.15M112 391.8h1.15M110.4 419.5h1.15M109.7 401.8h1.15M108.6 404.3h1.15M110.2 402.4h1.15M112.4 400.6h1.15M118.2 392.6h1.15M119.2 392.1h1.15M116.6 393.7h1.15M115.3 391.9h1.15M120.3 392h1.15M115.3 392.3h1.15M114.8 396.4h1.15M116.4 397h1.15M117.3 397h1.15M116.1 402.2h1.15M119.8 402.8h1.15M118.4 399.9h1.15M114.5 400.5h1.15M117.2 407.8h1.15M117.2 405.3h1.15M117.5 418.4h1.15M117 407.2h1.15M118.5 416.4h1.15" stroke="#2f70cd" stroke-width="1.15"/>
<path d="M109.6 385.1h1.15M118.6 389.3h1.15M111.9 389.6h1.15M115.4 389.4h1.15M110.9 382.5h1.15M130 381.3h1.15M106 379h1.15M115.7 388.6h1.15M112.6 386.5h1.15M109.7 384.9h1.15M112.5 380.1h1.15M120.9 384.8h1.15M106.5 382.1h1.15M120.7 389.1h1.15M122.2 380.9h1.15M109.2 421.3h1.15M116.2 414.7h1.15M111.3 421.1h1.15M96.8 387.3h1.15M109.3 406h1.15M111 405.9h1.15M117.8 411.6h1.15M110.8 402h1.15M107.4 403.5h1.15M113.5 396.9h1.15M112.6 391.2h1.15M107.1 409.8h1.15M109.7 419.9h1.15M107.8 398.7h1.15M107.2 397.9h1.15M119.2 395.8h1.15M119.1 403h1.15" stroke="#3583d4" stroke-width="1.15"/>
<path d="M102.7 387.1h1.15M120.7 386.7h1.15M120.6 383.6h1.15M131.4 381.6h1.15M117.5 377.9h1.15M103.5 384.1h1.15M108.3 385.1h1.15M93 374h1.15M115 385.4h1.15M119.7 385.7h1.15M105 387.4h1.15M99 374.9h1.15M125.8 377.1h1.15M125 377.1h1.15M110.5 388.2h1.15M119.2 383.6h1.15M110.4 374.8h1.15M129.9 380.6h1.15M119.6 383.6h1.15M120.9 384.4h1.15M97.7 385.6h1.15M119.7 389.2h1.15M114.4 387.5h1.15M117 384.6h1.15M95.5 369.8h1.15M103.5 374.1h1.15M118.3 383h1.15M113.5 372h1.15M122.6 385.4h1.15M112.7 377.7h1.15M117.6 379.7h1.15M117.7 382.7h1.15M111.1 388.3h1.15M120 381h1.15M128 386.4h1.15M109.8 371.6h1.15M110.6 387.4h1.15M127.5 380.4h1.15M103.5 371.8h1.15M113.6 386.5h1.15M103.8 372.7h1.15M131.2 385.9h1.15M120.5 387.2h1.15M120.2 386.7h1.15M111.7 387.9h1.15M104.7 387.5h1.15M108.8 388.9h1.15M111.2 372.8h1.15M114.5 372.7h1.15M106.6 377.6h1.15M120.1 373.7h1.15M110.4 391.6h1.15M111.9 423.1h1.15M100.9 393.6h1.15M107.6 391.1h1.15M114.5 390.9h1.15M95.5 388.2h1.15M110.9 405.6h1.15M118.3 399.4h1.15" stroke="#3c98d9" stroke-width="1.15"/>
<path d="M94.3 385.8h1.15M114.7 372.6h1.15M104.7 376.7h1.15M121.3 369.5h1.15M129.8 376.5h1.15M126.7 384.7h1.15M114.4 369.7h1.15M100.2 382.5h1.15M103.3 388.6h1.15M120.7 371.8h1.15M104.1 382.7h1.15M111.9 375.9h1.15M113.2 381.1h1.15M130.9 378.9h1.15M116.1 381.6h1.15M99.7 386h1.15M111.6 382.5h1.15M119.2 383.8h1.15M114.7 370.5h1.15M117.2 380.6h1.15M111.1 372.6h1.15M125.7 370.4h1.15M127.8 383h1.15M108.1 387.9h1.15M116.2 381.3h1.15M121.1 386.5h1.15M108.5 382.6h1.15M101 379.8h1.15M120.9 376.1h1.15M106.5 373.5h1.15M103.8 374.6h1.15M122.1 387.9h1.15M123.8 376.5h1.15M111.3 370h1.15M92.4 379h1.15M107.6 377.1h1.15M128.6 383.5h1.15M99.8 381.2h1.15M115.7 376.9h1.15M112.4 386.2h1.15M112.2 381h1.15M120.7 387.3h1.15M108.3 385.7h1.15M95.1 384.4h1.15M120.7 369.7h1.15M116.9 389.5h1.15M112.5 384.8h1.15M101.5 384h1.15M116.3 381.3h1.15M110.2 383.7h1.15M112.9 386.2h1.15M114.9 376.2h1.15M86.9 380.9h1.15M118.2 383h1.15M128.8 378.2h1.15M102.1 383.1h1.15M121.3 378.3h1.15M128.7 378.4h1.15M94.4 370.1h1.15M110 374.4h1.15M118.6 386.1h1.15M102 386.6h1.15M97.2 379.3h1.15M108.5 381.1h1.15M101.1 384.4h1.15M108.4 384.7h1.15M126.7 380.5h1.15M120.1 379.6h1.15M106.2 387.5h1.15M119.9 372.4h1.15M104.2 372.2h1.15M122.8 385.3h1.15M103 385h1.15M125.1 378.3h1.15M97.8 379.9h1.15M95.9 369.4h1.15M126.3 387.7h1.15M118.5 382.9h1.15M116.4 388.5h1.15M105.5 384.1h1.15M123.9 387.3h1.15M110.6 370.7h1.15M126.8 377.2h1.15M106.9 391.9h1.15M102.1 393.6h1.15M105 402.1h1.15M95.6 389.2h1.15M104.4 397.1h1.15M103.7 404.3h1.15M94.5 396.5h1.15M106.4 410.5h1.15M102.7 401.2h1.15M97.8 396.9h1.15M106.5 396.9h1.15M100.1 401.6h1.15M113.9 392.8h1.15M110.9 395.9h1.15M107.3 413.5h1.15M110.2 393.8h1.15M112.4 390.9h1.15M103.2 391.4h1.15M112.9 395.3h1.15M107.5 408.4h1.15M107.3 410h1.15M116.4 392.4h1.15M117.1 391.8h1.15" stroke="#42adde" stroke-width="1.15"/>
<path d="M101.8 374.5h1.15M107.9 388.7h1.15M123.3 372.6h1.15M96.3 372.8h1.15M119 382.6h1.15M117 379.5h1.15M120.9 372.5h1.15M105.3 371.9h1.15M129.6 382.4h1.15M100.4 380.6h1.15M82.8 374h1.15M97.1 377.4h1.15M123.6 382.6h1.15M107.7 387.6h1.15M126.4 385.3h1.15M130.8 381.4h1.15M101.1 388.4h1.15M95 386.9h1.15M103.1 384.7h1.15M106.9 377.9h1.15M96.2 378.6h1.15M112.7 387h1.15M128.9 371.9h1.15M118.3 387.5h1.15M92.6 377.4h1.15M103 376.3h1.15M114.9 379h1.15M99 385.9h1.15M92.2 377.9h1.15M97.7 377.8h1.15M113.8 387h1.15M92 373.5h1.15M125.5 380.9h1.15M107.8 382.2h1.15M99.6 378.6h1.15M98 382.3h1.15M100.5 376.9h1.15M120.7 378h1.15M125.2 382.7h1.15M125 385.4h1.15M96 368.9h1.15M104 387.2h1.15M93.6 378.3h1.15M92.7 376.4h1.15M129.7 386.3h1.15M100.9 382.2h1.15M91.9 371h1.15M130.1 382.8h1.15M99.3 382h1.15M94 371.8h1.15M111.6 370.4h1.15M126 387.1h1.15M127.4 371.8h1.15M94.7 377.6h1.15M115.9 386.3h1.15M104.6 373.5h1.15M120 381.5h1.15M130.9 379.8h1.15M105.8 380.7h1.15M109.5 370.5h1.15M119.1 378.9h1.15M108.8 387.8h1.15M100.8 388.2h1.15M126.4 380.7h1.15M107.9 373h1.15M94.4 381.6h1.15M98.7 371.3h1.15M115 384.6h1.15M99.6 374.8h1.15M114.9 385.5h1.15M99.5 388h1.15M111.4 387.4h1.15M108.5 374.3h1.15M104.7 387.1h1.15M108 375.2h1.15M105.1 381.8h1.15M107.1 376.1h1.15M100.2 387.4h1.15M109.1 376.4h1.15M86.7 372.9h1.15M103 376.2h1.15M108.1 382.5h1.15M97.3 386.1h1.15M89 369h1.15M112.5 383.6h1.15M108.2 372.5h1.15M122.8 380.6h1.15M98.8 385h1.15M87.9 370.1h1.15M108.2 376.9h1.15M114.2 387.1h1.15M94.3 376.7h1.15M97.3 379.3h1.15M120.7 385.5h1.15M121.7 374.2h1.15M86.1 377.2h1.15M89.1 369.2h1.15M126.3 384.9h1.15M103.1 372h1.15M110.4 386.1h1.15M111.6 388.3h1.15M90.4 377.1h1.15M111.5 370.7h1.15M110.5 376.7h1.15M109.8 374.5h1.15M108.8 388.4h1.15M127.3 376.4h1.15M109 370.7h1.15M115 370.1h1.15M108 382.9h1.15M90.5 379.6h1.15M108 375.7h1.15M112.9 385.8h1.15M106.1 373.1h1.15M94.6 387.3h1.15M128.2 371.2h1.15M118.6 369.3h1.15M123.8 377.4h1.15M118 375.9h1.15M129.2 384.3h1.15M105.9 375.2h1.15M83.1 374.1h1.15M113.9 370.3h1.15M113.6 379.1h1.15M122 373.7h1.15M120.2 379.8h1.15M124.2 372h1.15M104 393.5h1.15M102.7 397.8h1.15M99.2 396.5h1.15M107.7 408.7h1.15M103.1 404h1.15M105.1 395h1.15M104 396.4h1.15M100.3 392.7h1.15M105 396.8h1.15M101.1 396.6h1.15M103.3 391.8h1.15M97.2 387.3h1.15M108.6 390.4h1.15M98.2 388.4h1.15M100.1 401.9h1.15M104.3 394.8h1.15M95.2 392.8h1.15M107.6 417.7h1.15M106.7 403.5h1.15M104.8 404.3h1.15M89 387.8h1.15M102.8 402.8h1.15M108.2 424.6h1.15M95.6 391.3h1.15M102.7 391.2h1.15M106.8 390.3h1.15M106.4 392.2h1.15M99.8 397h1.15" stroke="#4ebcd7" stroke-width="1.15"/>
<path d="M87.6 369.2h1.15M104.5 375.2h1.15M108.6 374.6h1.15M101.1 386.9h1.15M93.9 384h1.15M112.4 380.1h1.15M97.6 381.8h1.15M91.8 381.9h1.15M126 384.6h1.15M124.4 385h1.15M92.2 375.3h1.15M90.3 368.5h1.15M88.9 372h1.15M101.6 384.6h1.15M122.9 385.2h1.15M80.7 371.1h1.15M122.1 377.2h1.15M116.1 377.2h1.15M89.4 378.9h1.15M114.4 379.1h1.15M126.9 376.4h1.15M100.4 373.8h1.15M107.6 378.1h1.15M102.9 388.2h1.15M86.8 373h1.15M116.7 372.6h1.15M105.1 378.5h1.15M115.2 371.7h1.15M96.1 372.9h1.15M114.9 376.5h1.15M109.8 372.9h1.15M103.2 375.2h1.15M88.8 367.7h1.15M116 375.6h1.15M99.6 380.9h1.15M96.5 379h1.15M109.1 372.9h1.15M81.7 371.6h1.15M88.6 375.8h1.15M99.7 370.5h1.15M120.7 371.2h1.15M99.1 370.1h1.15M110.4 388.7h1.15M75.5 366.8h1.15M91 373.6h1.15M93.4 385.4h1.15M127.2 381h1.15M91.8 371.7h1.15M107.4 382h1.15M115.3 370.4h1.15M82.5 371.5h1.15M99.9 371.2h1.15M74 370.1h1.15M128.1 374.6h1.15M86.8 370.5h1.15M90.3 370.3h1.15M114.6 370.5h1.15M96.8 369.5h1.15M90.8 377.9h1.15M127.8 375h1.15M121 369.4h1.15M121.3 370h1.15M100.6 374.9h1.15M132.1 379.6h1.15M90 384.2h1.15M120.7 371.7h1.15M93.1 371.3h1.15M115.5 376.6h1.15M115.8 373.5h1.15M104.1 373h1.15M116.6 370.5h1.15M87.3 375.9h1.15M89.1 382.8h1.15M107.9 374.2h1.15M126.2 377.8h1.15M131.1 383.4h1.15M131.7 385h1.15M92.6 384.9h1.15M112.3 377.8h1.15M93 383.7h1.15M104.3 383.9h1.15M108.8 376.6h1.15M108 371.6h1.15M100.2 381.2h1.15M97.2 372.7h1.15M122.8 372.1h1.15M94.6 381.1h1.15M126.5 384.7h1.15M106.6 384.6h1.15M101.4 383.7h1.15M98.8 377.7h1.15M100.1 377.4h1.15M113.9 380.8h1.15M94.2 379.1h1.15M86 379.9h1.15M125.1 378.9h1.15M109.9 384.8h1.15M107.2 380.9h1.15M105.5 388.5h1.15M95.3 382.1h1.15M129.1 384.7h1.15M88.2 380.3h1.15M94.2 379.9h1.15M97.1 370.6h1.15M118.8 376.8h1.15M103.9 371.9h1.15M103.2 386.8h1.15M110.7 375.1h1.15M98.1 369.6h1.15M120.9 377.2h1.15M126.9 370.8h1.15M106.9 382.8h1.15M79.5 367.1h1.15M114.9 375.5h1.15M122.2 386.7h1.15M90.5 369.5h1.15M90.8 380.1h1.15M104.2 388.6h1.15M99.9 402.7h1.15M93.7 386.7h1.15M93.9 391h1.15M105.4 398.8h1.15M96 399.8h1.15M104.5 406h1.15M102.5 396.7h1.15M90.4 391.5h1.15M102.3 397.7h1.15M96.1 399.3h1.15M105.6 412.8h1.15M100.9 404.9h1.15M98 400.9h1.15M104.7 424.2h1.15M91.9 389.1h1.15M93.1 395.8h1.15M105.1 397.8h1.15M102.2 423h1.15M97.7 392.7h1.15M105.7 406.2h1.15M101.8 391.8h1.15M96.6 395.6h1.15M100.5 398.2h1.15M99.7 401.4h1.15M87.3 386.4h1.15M105.4 417h1.15M148.6 418.9h1.15M149.4 418.8h1.15M149.1 417.5h1.15" stroke="#5fc3c0" stroke-width="1.15"/>
<path d="M111.4 376h1.15M77.2 368.4h1.15M90.6 379.4h1.15M83.4 374.5h1.15M88 371h1.15M129.7 374.4h1.15M88.2 385.1h1.15M83.3 375.8h1.15M104.9 387.7h1.15M99.5 378.5h1.15M95.4 370h1.15M82.6 372.3h1.15M84.1 368.7h1.15M96.3 373.8h1.15M83.9 368.7h1.15M101.2 371.3h1.15M120.7 376.1h1.15M88.9 385.9h1.15M83.1 369.5h1.15M84.8 371.4h1.15M86.7 374.2h1.15M72 375.3h1.15M103.3 380.9h1.15M115.6 373h1.15M87.1 386.1h1.15M90.8 375.1h1.15M128.8 379h1.15M85.9 383.6h1.15M91.2 373.8h1.15M123.6 370.8h1.15M128.8 383.2h1.15M109.2 384.2h1.15M128.2 373.6h1.15M89.8 385.6h1.15M88.6 372.2h1.15M113.4 376.5h1.15M122.1 372.7h1.15M75.4 370.5h1.15M93.4 372.4h1.15M86.9 379.4h1.15M89.8 375.7h1.15M94.3 385.6h1.15M118.5 370.9h1.15M93 386.2h1.15M96.6 369.9h1.15M118.6 388.3h1.15M116.5 369.4h1.15M99.8 373.3h1.15M124.3 379.1h1.15M119.2 372h1.15M82.3 369.2h1.15M124.2 384.7h1.15M92.8 372h1.15M120.3 369.8h1.15M124.8 373.5h1.15M95.2 383.3h1.15M90.6 373.4h1.15M130.3 377.8h1.15M125.1 371.3h1.15M73.1 370.6h1.15M126.6 376h1.15M94.1 371.1h1.15M122.9 382.2h1.15M72.5 375.8h1.15M117.9 375h1.15M84.3 375.3h1.15M94.1 382.6h1.15M89.5 372h1.15M91.1 371.7h1.15M95.3 387.1h1.15M91 375.8h1.15M80.1 376.2h1.15M121.2 372.7h1.15M121.3 375.4h1.15M99.6 372.2h1.15M88.1 373.3h1.15M87.3 376.1h1.15M131.5 377.1h1.15M114 371.4h1.15M91.1 382.3h1.15M117.5 371.2h1.15M90.2 379.3h1.15M92.9 378.2h1.15M105.9 374h1.15M96.2 373.8h1.15M80.8 366.9h1.15M97.9 372.5h1.15M121.6 378.4h1.15M100.5 397.4h1.15M95.3 409.5h1.15M106.4 423.1h1.15M101.9 401.4h1.15M92.2 395.3h1.15M98.4 394.5h1.15M101.8 402h1.15M99.7 392.8h1.15M106.1 421.5h1.15M104.4 419.2h1.15M88.7 389.1h1.15M88.2 393.3h1.15M95.7 401.8h1.15M100.8 399.2h1.15M93.7 396.6h1.15M95 404.9h1.15M97.8 407.5h1.15M103.3 418.3h1.15M103.7 400.5h1.15M100.8 412.6h1.15M104.8 398.9h1.15M97 402.7h1.15M102.7 389.2h1.15M96.2 420.2h1.15M103.1 421.4h1.15M99.1 398.8h1.15M99.9 403.3h1.15M103 413.1h1.15M104.6 420.3h1.15M93.7 398.6h1.15M107.3 419.6h1.15M104.5 407.6h1.15M105.4 421.9h1.15M149.1 418.7h1.15M148 415.6h1.15M148.7 417.4h1.15M148.7 415.9h1.15M146.9 414.1h1.15M146.9 413.7h1.15M148.1 416.3h1.15M147 414.4h1.15" stroke="#71caa9" stroke-width="1.15"/>
<path d="M87 379.8h1.15M82.3 379.6h1.15M76.1 377.5h1.15M124.4 373.2h1.15M92.1 386.8h1.15M79.9 369.5h1.15M72.8 374.4h1.15M83.3 382.5h1.15M121.1 370.7h1.15M89.6 376.7h1.15M87.8 378.2h1.15M74.1 376.3h1.15M72 366.9h1.15M69.4 370.4h1.15M82.7 365.9h1.15M124.1 381.9h1.15M85.6 376.8h1.15M96 372.1h1.15M75.5 378.3h1.15M126.2 372.6h1.15M90.1 376h1.15M84.4 366.7h1.15M85.1 366.7h1.15M97.5 373.9h1.15M99.2 370.9h1.15M73.5 367.2h1.15M86.1 376.8h1.15M81.1 366.3h1.15M87.1 372.3h1.15M82.5 367.1h1.15M83.7 367.6h1.15M68.7 372.7h1.15M80.5 374.5h1.15M76.9 382.5h1.15M79.2 368.6h1.15M94 379.8h1.15M95.8 376.2h1.15M74.6 376h1.15M70.4 374.1h1.15M125.8 372.2h1.15M79.9 371.9h1.15M73.7 378.5h1.15M74.8 371.1h1.15M81 379.8h1.15M118.6 378.3h1.15M83.7 381.2h1.15M72.7 367.9h1.15M84.9 383h1.15M78.3 377.6h1.15M89.2 385.9h1.15M84.9 370.8h1.15M92.8 375.2h1.15M81.6 376.8h1.15M89.3 373.5h1.15M107.5 375.5h1.15M81 383.7h1.15M92.2 370.7h1.15M89.6 381.2h1.15M84.8 371.5h1.15M86.2 375.8h1.15M66.9 375h1.15M90.2 381.3h1.15M91.7 384.8h1.15M89.2 367.6h1.15M78.6 370.2h1.15M75.9 366.6h1.15M79.4 369.9h1.15M83.2 379.3h1.15M75.3 376.5h1.15M72.5 372.6h1.15M119.9 373.9h1.15M113.5 370.3h1.15M84.3 370.5h1.15M96.5 411.2h1.15M85.1 405.7h1.15M98.4 403.5h1.15M92.9 410.9h1.15M99.8 415.6h1.15M96.9 401.8h1.15M89 390.1h1.15M99.7 407.5h1.15M97.9 407.9h1.15M102.6 415.9h1.15M94.9 421.6h1.15M102.8 404.2h1.15M77.1 384.2h1.15M87.7 388.7h1.15M102.8 412.9h1.15M81.8 411h1.15M86.7 418.6h1.15M96.9 400.2h1.15M97.7 407.9h1.15M86.2 387.8h1.15M104.1 406.9h1.15M100.2 425h1.15M102.1 414.2h1.15M104.3 416.1h1.15M99.8 422.1h1.15M90.5 390.2h1.15M146.8 414h1.15M149.3 416h1.15M148.4 419h1.15M147 414.2h1.15M148.5 416h1.15M149 415.5h1.15M149 418.8h1.15M148.1 414.9h1.15M147 415h1.15" stroke="#87cf8c" stroke-width="1.15"/>
<path d="M86.6 385.5h1.15M84.6 375.7h1.15M77.8 371.2h1.15M72.9 381h1.15M81.1 378.2h1.15M67.9 372.3h1.15M79.1 370.5h1.15M130.9 375.2h1.15M74.5 369.2h1.15M77.5 377.1h1.15M79.1 373.3h1.15M73.3 369.5h1.15M79.4 377.9h1.15M86.3 371.2h1.15M75.3 378.3h1.15M81.3 366.3h1.15M71 372h1.15M70 372.1h1.15M67.2 376.7h1.15M75.4 373.9h1.15M82.6 372h1.15M82 371.8h1.15M81.6 377.1h1.15M87.3 374.4h1.15M80.6 375.3h1.15M72.1 376.3h1.15M66.2 374.2h1.15M79.3 380.4h1.15M81.5 366.5h1.15M88.4 383.9h1.15M83.4 371.3h1.15M80.1 380.8h1.15M75.7 366.2h1.15M67.4 371.8h1.15M77.3 376.3h1.15M74.4 376.8h1.15M82.5 373.5h1.15M72.8 374.9h1.15M79.1 381.1h1.15M92.2 384.2h1.15M86.8 383.4h1.15M83 383.9h1.15M83 366.4h1.15M80.8 366.4h1.15M69.7 369h1.15M81.9 369h1.15M83.8 375.6h1.15M78 384.4h1.15M71.3 367.6h1.15M92.7 411.6h1.15M98.7 408.3h1.15M96.2 405.6h1.15M102.6 411.4h1.15M88.2 416.7h1.15M92.6 389h1.15M96.4 405.2h1.15M93.9 403.8h1.15M95.9 416.9h1.15M91.2 412.9h1.15M103.4 426.6h1.15M100 417.3h1.15M89 398h1.15M92.2 395.5h1.15M77.6 386.7h1.15M86.3 413.1h1.15M94.5 412.6h1.15M93.5 416.1h1.15M102.6 400.4h1.15M99.7 412.3h1.15M103.7 407.3h1.15M84.1 385.4h1.15M93.9 405.1h1.15M97.8 412.2h1.15M92.3 402.8h1.15M93 398.8h1.15M89.3 395.8h1.15M86.2 387.7h1.15M98.2 407.7h1.15M101.7 426.6h1.15M95.4 419.2h1.15M95.2 426.6h1.15M97 404.6h1.15M92.6 414.8h1.15M92.9 406.7h1.15M147.4 414.4h1.15" stroke="#9fd36d" stroke-width="1.15"/>
<path d="M68.5 376.1h1.15M74.3 371h1.15M70 370.5h1.15M74.6 371.6h1.15M71.4 376.5h1.15M81.6 377.4h1.15M66.3 375.8h1.15M73.1 379.2h1.15M76.8 376.1h1.15M73 372h1.15M69.6 368.7h1.15M76.5 376.4h1.15M66.1 374.8h1.15M74.9 374.3h1.15M75.8 371.7h1.15M78.8 367.7h1.15M70.1 372.3h1.15M84.1 371.6h1.15M74.5 371.7h1.15M80.8 384.1h1.15M84.7 374.1h1.15M69.3 377.1h1.15M78.9 374.4h1.15M83.5 383.1h1.15M72.4 377.7h1.15M81.6 375.7h1.15M83.4 384.6h1.15M83 380.2h1.15M66.8 373.5h1.15M67 379h1.15M75.7 372.4h1.15M74.2 371.6h1.15M68.7 379.3h1.15M68.5 370h1.15M81.1 368.1h1.15M90.3 385.5h1.15M78.8 372.9h1.15M68.5 378.8h1.15M72.7 379.6h1.15M66.9 375.8h1.15M72.8 369h1.15M69.3 372.9h1.15M69.6 379.4h1.15M79.4 383.9h1.15M73.1 381h1.15M73 373.4h1.15M83.2 368.5h1.15M83.2 370.4h1.15M88.6 410.8h1.15M86.1 390.4h1.15M97.5 429.5h1.15M87.8 410.3h1.15M96.1 418.1h1.15M89.5 412.6h1.15M88.2 422.7h1.15M82.9 419.5h1.15M89 407.7h1.15M91.8 407h1.15M95.8 409.9h1.15M92.6 410.3h1.15M80.1 420.3h1.15M93.2 427.4h1.15M88.2 416.5h1.15M90.9 425.8h1.15M83.3 393.1h1.15M86 386.5h1.15M83.5 410h1.15M94.8 424.1h1.15M83.4 394.1h1.15M91.5 410h1.15M102.7 407.2h1.15M86.8 411.6h1.15M95.8 404.4h1.15M86.3 387h1.15M83.2 424.8h1.15M98.8 422.1h1.15M94.2 414.8h1.15M86.4 390.7h1.15M93.2 408.7h1.15M89.5 417.6h1.15M86.9 414.5h1.15M94.1 403.2h1.15M95.8 400.5h1.15M102.4 419.4h1.15M81.7 407.3h1.15M82.9 403.2h1.15M99.1 420.4h1.15M82.4 390.6h1.15M97.4 406.5h1.15M93.2 419.5h1.15M81.3 390.4h1.15M94.6 405.7h1.15M80.5 385.9h1.15M100 420.4h1.15M93.8 411.1h1.15M147 414h1.15" stroke="#b7d74f" stroke-width="1.15"/>
<path d="M75.6 368.4h1.15M67.5 376.8h1.15M82.8 372.7h1.15M82.1 379.9h1.15M70.9 381.9h1.15M76.3 383h1.15M67.2 373.6h1.15M80.1 379.7h1.15M77.2 369.5h1.15M73.3 369.3h1.15M80.9 375.7h1.15M75.8 375.1h1.15M70 375.1h1.15M68.3 379h1.15M73.3 377.5h1.15M73.1 374.3h1.15M72.4 381.1h1.15M68.9 378.5h1.15M70.4 380h1.15M68.1 375.6h1.15M76.3 369.3h1.15M75.5 380.3h1.15M78.2 381.5h1.15M80 382.3h1.15M81.6 384.5h1.15M79.2 382.5h1.15M81.6 368.9h1.15M78.1 366.4h1.15M76.4 372.1h1.15M77.2 377.5h1.15M91.5 410h1.15M93.1 406.4h1.15M80.1 418h1.15M84.8 414.6h1.15M79.5 424.7h1.15M98.9 428.9h1.15M84.9 400.4h1.15M85.9 413.3h1.15M71 398.7h1.15M86.5 425.5h1.15M91.7 412.9h1.15M88.8 403.8h1.15M88.4 428.2h1.15M92.7 412.3h1.15M84.9 418.5h1.15M85.2 387.6h1.15M79.5 386.6h1.15M78.7 404.8h1.15M87.9 420h1.15M104.2 426.5h1.15M76 396.1h1.15M92.8 407h1.15M81.8 427h1.15M81.2 408.3h1.15M87.9 393.2h1.15M83.9 412.8h1.15M83.9 427.9h1.15M76 385.2h1.15M71.1 399.2h1.15M78.7 418.7h1.15M92.8 405.7h1.15M82.1 406.7h1.15M81.2 407.9h1.15M79.5 413.8h1.15M102.8 427.6h1.15M94.8 426.4h1.15M82.3 391.2h1.15M89.9 414.2h1.15M95.6 424.6h1.15M82.7 390.3h1.15M89 407.1h1.15M81.4 423.5h1.15M90.4 418.4h1.15M77.4 406.4h1.15M85.8 400.2h1.15M85 403.8h1.15M90.3 422h1.15M90.6 426.1h1.15M88.4 402.8h1.15M84.9 414.2h1.15M84.1 418.9h1.15M81.5 386.8h1.15M104.7 409.1h1.15M79.3 395.6h1.15M79.6 386.7h1.15M95 425.6h1.15M91.2 425.7h1.15M97.7 425.3h1.15M90.6 409.9h1.15M101.1 428.2h1.15M82.1 415.1h1.15M88.7 423.6h1.15M78.4 391.7h1.15M85.4 403.8h1.15M88.9 428.2h1.15M86 414h1.15M89.1 419.9h1.15M95.5 420.9h1.15M69 383.5h1.15M96.5 435.9h1.15M90.8 432.3h1.15" stroke="#d4dc41" stroke-width="1.15"/>
<path d="M71.7 368h1.15M71.7 381.7h1.15M70.8 371.4h1.15M79.2 383.9h1.15M71.9 380.7h1.15M73.1 370.5h1.15M73.3 381.1h1.15M79.8 371.9h1.15M78.4 376.2h1.15M84.7 423.6h1.15M76.6 405.8h1.15M79.3 405h1.15M79 396.1h1.15M85.2 413h1.15M83.2 415.1h1.15M98.7 426.6h1.15M76.6 385.4h1.15M82.8 396.2h1.15M73.1 398.3h1.15M75.9 384.9h1.15M81 418.8h1.15M80.4 395.2h1.15M78.9 385.3h1.15M78.6 387.9h1.15M87.5 410.6h1.15M86.5 393.9h1.15M68.5 398.6h1.15M76.4 390.5h1.15M102 427.6h1.15M79.5 406.9h1.15M76.9 388.1h1.15M92 430.1h1.15M85.1 402.1h1.15M77.4 413.7h1.15M76.3 395.7h1.15M85.8 393.8h1.15M82.2 390.4h1.15M95.2 418.5h1.15M75.1 396.6h1.15M83.4 425.1h1.15M77 416h1.15M93.3 411.5h1.15M84.7 427.9h1.15M70.8 396.6h1.15M81.2 396.1h1.15M100.1 429.4h1.15M93.4 409.8h1.15M89.6 408h1.15M92.6 427.5h1.15M68.7 394.9h1.15M92.5 405.7h1.15M73.8 385.8h1.15M78.1 426h1.15M84.6 417.6h1.15M91.6 411.9h1.15M76.4 415.4h1.15M81.9 394.5h1.15M85.5 410h1.15M76.7 402h1.15M83.5 418.7h1.15M85.3 423.4h1.15M96.4 427.6h1.15M77.6 396.1h1.15M86.6 426.6h1.15M92 429h1.15M82.3 393.3h1.15M77.5 402.2h1.15M92.2 439.4h1.15M95.2 444h1.15M101 440.9h1.15M91.7 437h1.15M95.1 436.3h1.15M99 442.8h1.15M94.6 437.8h1.15" stroke="#f1e034" stroke-width="1.15"/>
<path d="M69.9 377.9h1.15M78.1 379.7h1.15M78.6 377.1h1.15M78.1 382.7h1.15M81 421.4h1.15M94.4 432.9h1.15M69 390.1h1.15M80.4 396.1h1.15M70.9 401.2h1.15M93.7 427.1h1.15M71.9 400.2h1.15M91.6 434.3h1.15M82.9 422h1.15M83.9 396.3h1.15M86.6 418.6h1.15M79.9 403.6h1.15M80.4 390.4h1.15M65.2 398.2h1.15M83.6 392.1h1.15M84.1 414.4h1.15M75.3 413.9h1.15M85.3 392.2h1.15M82.2 424.2h1.15M84.6 390.8h1.15M71.8 402.5h1.15M78.1 410h1.15M83.5 398.2h1.15M90.7 402.8h1.15M87.5 429.9h1.15M71.5 397.5h1.15M98.1 429.7h1.15M81.8 409.7h1.15M81.5 388h1.15M71.3 384.6h1.15M85.9 429.7h1.15M75.6 394h1.15M78.7 400.9h1.15M91 431.1h1.15M83 409.8h1.15M84.4 396h1.15M74.9 390.7h1.15M84 401.4h1.15M86.3 418h1.15M90.3 431.1h1.15M88.2 409.5h1.15M78.2 397.2h1.15M89.7 409.4h1.15M88.5 430.4h1.15M79.4 394.4h1.15M75.1 412.5h1.15M90.9 429.7h1.15M81.6 428.5h1.15M92 431.1h1.15M82.7 391.8h1.15M75.6 393.7h1.15M83 428.6h1.15M79.6 403.7h1.15M72.9 399.7h1.15M81 406.7h1.15M78.2 386.6h1.15M98.2 427.5h1.15M81.6 413.7h1.15M86 398.3h1.15M67.5 384.9h1.15M65.2 396h1.15M95.1 440.2h1.15M122.5 446.5h1.15M90.2 433.6h1.15M94.2 433.7h1.15M100 441.2h1.15M95.7 445.9h1.15M96.3 443.5h1.15M98.5 448.3h1.15M106.9 450.2h1.15M97.3 439.2h1.15M93.2 438.3h1.15M90.5 432.9h1.15M90.6 432h1.15M101.8 441.1h1.15M104.2 448.1h1.15M100.8 442.7h1.15M97.9 435.8h1.15M96.6 438.6h1.15M99.3 438.9h1.15M91.7 449.4h1.15M110.6 449.2h1.15M97.1 439h1.15" stroke="#f7cd2f" stroke-width="1.15"/>
<path d="M72.6 388.5h1.15M78.5 389.6h1.15M76.1 401.1h1.15M77.8 408.2h1.15M75 410.7h1.15M87.4 432.2h1.15M96.4 430.5h1.15M80.3 430.3h1.15M76.3 392.4h1.15M69.5 397.9h1.15M77.4 412.5h1.15M81.3 393h1.15M68.4 392.7h1.15M88.2 429.6h1.15M75.9 403.1h1.15M74.4 399.2h1.15M79.1 420.1h1.15M80 424.2h1.15M71.8 386.6h1.15M79.8 399.7h1.15M72.9 412h1.15M93.3 433.8h1.15M74.7 413.8h1.15M96.7 430.7h1.15M78.1 392.6h1.15M73.8 405.8h1.15M80.5 396.8h1.15M64.6 399.4h1.15M89.1 433.5h1.15M79.2 401.8h1.15M82.4 434h1.15M73.5 394.9h1.15M84.4 433.1h1.15M83.5 432.5h1.15M68.3 399.6h1.15M78.1 394.5h1.15M75.1 388.1h1.15M69.9 397.9h1.15M62.1 387.4h1.15M65.7 385.2h1.15M60.9 394.7h1.15M64.5 396.4h1.15M61.8 395.8h1.15M101 440.3h1.15M95 441.5h1.15M91.6 432.5h1.15M98.3 441.8h1.15M100.9 447.5h1.15M80.4 442.8h1.15M82.4 436.3h1.15M99.9 443.3h1.15M94.8 450.5h1.15M82.5 433.2h1.15M105.1 448.1h1.15M99.6 451.6h1.15M99.7 452h1.15M90.6 437.3h1.15M111.7 447.8h1.15M99.4 440.7h1.15M131.8 453.6h1.15M83 444.1h1.15M81.7 439.3h1.15M106.2 447.9h1.15M100.9 455.5h1.15M87.8 432.4h1.15M98.7 439h1.15M94.8 439.2h1.15M99.6 446.6h1.15M107.7 444.7h1.15M95.5 445.6h1.15M101.9 443.3h1.15M117.5 446.9h1.15M110.3 449.5h1.15M99.3 441.3h1.15M96.5 439.9h1.15M78.9 439h1.15M98.4 436.9h1.15M88 433h1.15M113.9 433.1h1.15M118.5 432.8h1.15" stroke="#f9b52b" stroke-width="1.15"/>
<path d="M62.6 415.4h1.15M64.8 410.9h1.15M71.1 386.6h1.15M68.1 395.2h1.15M72.7 399.4h1.15M67.5 403.2h1.15M72.9 392.9h1.15M77.7 417.9h1.15M68.9 391.5h1.15M67.6 392.2h1.15M76.3 404h1.15M67.1 397.6h1.15M72.3 429h1.15M71.3 393.7h1.15M63.9 399.8h1.15M73.4 387.6h1.15M82.4 430.8h1.15M72.8 412.9h1.15M70.6 392.6h1.15M67.4 392.1h1.15M68.8 409.3h1.15M73.6 389.3h1.15M75.7 417h1.15M75.1 416.1h1.15M67.7 402.3h1.15M67.7 387.8h1.15M73.5 404.8h1.15M70.8 397.3h1.15M91.4 432h1.15M85.3 425.3h1.15M66.8 397.6h1.15M72.7 397.7h1.15M98.6 431.3h1.15M89.1 426.7h1.15M84.6 435h1.15M80.6 391.2h1.15M82.3 404.2h1.15M73.5 397.3h1.15M83.1 431.5h1.15M66.4 383.5h1.15M64.9 389.8h1.15M62.3 383.8h1.15M58.4 389.1h1.15M58.7 416h1.15M64.2 397.6h1.15M60.7 395.6h1.15M63.5 394.4h1.15M56.3 393.8h1.15M99.4 441.6h1.15M87.4 434.7h1.15M100.5 452.7h1.15M107.1 444.6h1.15M87.4 433.8h1.15M102.6 448.2h1.15M93.2 440h1.15M114.2 444.8h1.15M89.9 442.4h1.15M103 453.8h1.15M82.1 436.2h1.15M94.1 438.1h1.15M101.9 446.9h1.15M95.6 443.3h1.15M84.3 437.4h1.15M120.9 455.5h1.15M82 446.2h1.15M88.4 432.6h1.15M91.9 445h1.15M101.4 451.1h1.15M105.1 445.6h1.15M119.4 447.2h1.15M126.4 444.7h1.15M82.9 437.1h1.15M130.9 455.7h1.15M94.9 444.4h1.15M109.3 445.8h1.15M86.6 449h1.15M86.5 432.7h1.15M79.5 437.8h1.15M90.7 437.9h1.15M86.8 438.1h1.15M94.4 433.7h1.15M94.9 452.9h1.15M105.5 448.1h1.15M98.5 451.6h1.15M103.9 448.2h1.15M84.4 449.1h1.15M89.4 441.2h1.15M88.7 447.9h1.15M104.5 454h1.15M102.3 446.9h1.15M115.7 455.3h1.15M114.4 449.2h1.15M102.6 445.6h1.15M106.8 453.2h1.15M95.3 443.7h1.15M114.7 448h1.15M120.4 451.3h1.15M109.7 447.5h1.15M119.5 448.7h1.15M92.7 445.3h1.15M90.2 448h1.15M91.5 435.4h1.15M90 433.3h1.15M98 437.3h1.15M98.1 439h1.15M119.3 456.7h1.15M113.1 448.7h1.15M86.3 436.2h1.15M82.9 443h1.15M112.5 448.9h1.15M90.1 435.7h1.15M120.5 446.4h1.15M121.8 453.4h1.15M113 450h1.15M95.4 447.7h1.15M115.2 446.4h1.15M111.9 448.9h1.15M122.4 455.8h1.15M116.6 454.2h1.15M115.1 449.9h1.15M103.7 447.3h1.15M114.4 452.1h1.15M115.7 448.3h1.15M98.6 455.6h1.15M124.5 444.3h1.15M111.1 446.8h1.15M112.7 443.5h1.15M98.6 442.5h1.15M106 454.8h1.15M84.4 442.5h1.15M103.7 452.5h1.15M111.3 449.1h1.15M77.9 436.5h1.15M93.4 436.6h1.15M79.1 444.6h1.15M122.1 448.7h1.15M117.7 454.3h1.15M116 447.9h1.15M93.7 434.8h1.15M93.2 442.4h1.15M121.2 451.5h1.15M97.2 442h1.15M80.1 433.4h1.15M82.6 433.6h1.15M121 461.5h1.15M117.1 453.2h1.15M90.6 440.2h1.15M97 446.4h1.15M118.3 444.7h1.15M105.3 443.5h1.15M117.3 433.3h1.15M117.7 432.9h1.15M63.9 389.5h1.15M61.4 389.1h1.15M64.7 386.8h1.15M60.1 385.9h1.15M63.1 385.7h1.15" stroke="#f89829" stroke-width="1.15"/>
<path d="M76.7 427.1h1.15M70.4 413.9h1.15M69 427.6h1.15M77.9 424.7h1.15M64.4 396.2h1.15M68.3 425.7h1.15M73.5 420.9h1.15M69 403.1h1.15M73.2 407.1h1.15M74.6 431.3h1.15M65.2 401.2h1.15M66.4 392.7h1.15M81.2 431.8h1.15M86.4 432.6h1.15M82.1 432.6h1.15M80.7 430.4h1.15M69.8 406.1h1.15M77.6 432.1h1.15M73.7 413.8h1.15M79.2 421.4h1.15M66.9 390.5h1.15M78 431.2h1.15M76.5 423.1h1.15M69.5 414.2h1.15M70.6 388.1h1.15M73.9 389.9h1.15M76.8 428.3h1.15M68.1 397.1h1.15M69.6 401.3h1.15M78.1 428.6h1.15M68.2 395.1h1.15M74.7 425.8h1.15M73.5 421h1.15M65.3 394.1h1.15M63.7 385.9h1.15M62.5 388.5h1.15M58.7 388.7h1.15M64.8 390.5h1.15M58.7 394.1h1.15M52.1 414.2h1.15M57.3 394.6h1.15M63.5 401.2h1.15M60.4 392.8h1.15M60.3 398.1h1.15M62.6 396.3h1.15M61.2 395h1.15M57.4 394h1.15M62.1 393.5h1.15M64.4 397.2h1.15M55.6 413.6h1.15M64 400.8h1.15M57.7 397.4h1.15M63.2 394.2h1.15M58.8 394.8h1.15M61.6 403.9h1.15M57.6 395.5h1.15M81.8 439.7h1.15M88.4 437.1h1.15M78.5 436.3h1.15M95.3 439.7h1.15M98.3 439h1.15M99.1 438.3h1.15M120.5 457.6h1.15M101 450.6h1.15M83.9 435h1.15M88.5 437.4h1.15M99.4 450.3h1.15M119.9 450.5h1.15M107.6 457.2h1.15M91.4 433.9h1.15M100.8 446.3h1.15M90 448.6h1.15M96.4 452.1h1.15M123.9 457.8h1.15M121.5 445.9h1.15M114.6 455h1.15M120.8 454.6h1.15M114.3 451.6h1.15M78.6 433.9h1.15M103 442.8h1.15M120.5 447.2h1.15M101.1 453.8h1.15M124.1 455.6h1.15M111.8 459.7h1.15M125 455.3h1.15M84.1 439.6h1.15M123.4 452.6h1.15M82.4 443.9h1.15M122.5 459.6h1.15M111.1 451.9h1.15M88.5 437.1h1.15M86 445.2h1.15M71.6 448.5h1.15M81.4 447.1h1.15M131.1 460.1h1.15M93.7 454.3h1.15M111.8 447.2h1.15M101.3 446.2h1.15M98 452.3h1.15M106.2 454.1h1.15M115.8 449.2h1.15M111.3 451.4h1.15M129 445.5h1.15M105.9 454.1h1.15M119.3 455.3h1.15M84.1 433.4h1.15M79.4 439.3h1.15M95 450.4h1.15M81.6 444.6h1.15M98.1 451.2h1.15M75.5 445h1.15M91.7 445.4h1.15M84.6 445.5h1.15M82.1 440.1h1.15M93.7 439.7h1.15M104 452h1.15M114.2 452h1.15M123.5 450.5h1.15M80.2 433.2h1.15M97.6 446.2h1.15M124.9 452.2h1.15M79.3 435.7h1.15M108.1 453h1.15M88.8 449.3h1.15M101.4 443.6h1.15M95.6 438.3h1.15M86.7 438.1h1.15M117.4 456.4h1.15M112.7 443.6h1.15M102.4 448.8h1.15M121.8 445.1h1.15M98.1 458.4h1.15M102.4 451.2h1.15M123.9 448.6h1.15M82.8 439.5h1.15M116.3 457.2h1.15M106.2 454.8h1.15M118.3 453h1.15M96.4 448.2h1.15M119.1 455.4h1.15M102.6 443.1h1.15M131.7 456.1h1.15M115.4 454.8h1.15M90.3 435.8h1.15M119.1 450h1.15M115.9 459.1h1.15M77.5 441.1h1.15M81.9 441.1h1.15M101.2 444.5h1.15M103.7 445.6h1.15M78.9 441.2h1.15M127.8 460.7h1.15M78.7 433.6h1.15M113.4 451.7h1.15M97.5 452.4h1.15M89.7 436.8h1.15M111.9 456.4h1.15M72.4 457.7h1.15M78.7 433.7h1.15M80.1 441.7h1.15M125.2 457.1h1.15M109.8 443.8h1.15M127.9 447.1h1.15M132.7 459h1.15M115.4 447.7h1.15M84 441.1h1.15M122.1 447.8h1.15M94.2 449.3h1.15M113.6 448.2h1.15M121.1 446.1h1.15M121 458.9h1.15M128.9 449.9h1.15M92.1 440.3h1.15M112.2 444.6h1.15M88.7 452.8h1.15M95.4 449.7h1.15M118.6 451.3h1.15M117.2 450.9h1.15M92.5 464.3h1.15M106.5 454.7h1.15M91.1 443.4h1.15M108.9 450.1h1.15M95 453.9h1.15M102.5 451.2h1.15M117.5 449.9h1.15M91.3 433.6h1.15M109.1 452.4h1.15M85.1 450.5h1.15M99.8 449.9h1.15M103.1 454.5h1.15M127.3 448h1.15M128.5 448.1h1.15M115.7 452.6h1.15M122.2 452.6h1.15M108.9 451.6h1.15M122.9 452h1.15M118.9 432.7h1.15M117.8 432.7h1.15M119.2 433.1h1.15M119.1 433.5h1.15M119 433.2h1.15M117.6 433.1h1.15M59.7 385.3h1.15M65.5 389h1.15M59.7 390.7h1.15M65.3 390.3h1.15" stroke="#f2712b" stroke-width="1.15"/>
<path d="M65.2 430.1h1.15M82.8 434.2h1.15M71.8 397.4h1.15M84.4 434.8h1.15M68.1 413.3h1.15M79.7 430.8h1.15M68.1 409.4h1.15M66.7 418.7h1.15M68.4 410.7h1.15M68.2 426.2h1.15M66.1 400.8h1.15M65.6 409.2h1.15M71 390.7h1.15M68 422.6h1.15M71.3 419.9h1.15M75.8 425.8h1.15M72.4 420h1.15M80.7 435.5h1.15M67.6 388.1h1.15M76.1 430.1h1.15M75.4 423.5h1.15M76.4 422.6h1.15M81.6 435.7h1.15M73.6 416.8h1.15M83 433.8h1.15M72.8 430.1h1.15M65.5 405.3h1.15M69.5 421h1.15M63.9 427.7h1.15M75.2 429.9h1.15M57.4 391.2h1.15M62.3 395.3h1.15M65.4 389.9h1.15M58.2 394.8h1.15M64.8 406.7h1.15M57.3 414.9h1.15M58.3 396h1.15M61.1 413.7h1.15M65 402.3h1.15M61.6 393.4h1.15M61.4 397.7h1.15M62.6 396.9h1.15M65.5 404.3h1.15M55.8 411.1h1.15M55.3 412.7h1.15M59.4 413.7h1.15M53.8 416.3h1.15M58.7 394.9h1.15M60.5 396.6h1.15M61.1 400.7h1.15M59.8 398.8h1.15M60.1 401.3h1.15M59.3 398.1h1.15M59.5 397.9h1.15M59.3 397h1.15M58.2 415.4h1.15M59 405.9h1.15M57.1 397.8h1.15M55.8 393.4h1.15M62.3 392.9h1.15M59.9 395.2h1.15M63.4 404.8h1.15M59 398.8h1.15M62.9 398h1.15M63.2 408.3h1.15M112.5 453.4h1.15M99 448.7h1.15M90 447.2h1.15M95.9 452.9h1.15M125.6 448.4h1.15M103.7 451.2h1.15M84.7 436.2h1.15M133 450.3h1.15M108.7 470.6h1.15M128.9 448.8h1.15M124.1 444.3h1.15M130.4 455.4h1.15M110 455.9h1.15M119.5 460.2h1.15M99.5 444.4h1.15M92.5 447.5h1.15M88.5 438.3h1.15M133.9 451h1.15M110.8 473.2h1.15M101.6 453.1h1.15M80.3 436h1.15M132.3 452.2h1.15M116.2 445.8h1.15M128.5 445.6h1.15M133.4 451.4h1.15M135.7 455h1.15M127.6 445.2h1.15M76.5 439.7h1.15M95.6 450.8h1.15M96.3 454.9h1.15M122.5 444.3h1.15M124.5 461h1.15M103.3 450.6h1.15M91.5 446.7h1.15M130 460h1.15M88 439.7h1.15M119.4 470.3h1.15M113.5 474h1.15M135.6 455.8h1.15M130.6 463.7h1.15M89.5 452.7h1.15M89.4 469.7h1.15M119.7 447.6h1.15M104.7 444.6h1.15M87.4 441.8h1.15M124.3 449.4h1.15M67.2 445.6h1.15M113 453h1.15M64.5 452.7h1.15M79.4 437.3h1.15M106.6 452.8h1.15M82.2 478h1.15M94.9 477.6h1.15M115.4 453.4h1.15M67.5 440.1h1.15M88.8 434.3h1.15M128.3 446.7h1.15M119.3 458.5h1.15M87.4 452.2h1.15M87.1 439.2h1.15M127.8 449.5h1.15M104.2 449.9h1.15M121.9 447.1h1.15M104.8 471.8h1.15M84 434.8h1.15M88 447.1h1.15M82.5 433.3h1.15M104.6 449.8h1.15M65.6 452.6h1.15M112.5 450.3h1.15M118.8 455.4h1.15M98.3 465.9h1.15M135.9 459.6h1.15M87.9 443h1.15M119.8 471.7h1.15M87.6 448.9h1.15M114.8 457.7h1.15M106.8 458.2h1.15M132.4 451.6h1.15M105.2 453.8h1.15M99.5 453.1h1.15M132 454.1h1.15M86.4 437.2h1.15M89.3 456.8h1.15M93 451.1h1.15M133.8 453.7h1.15M116 458.6h1.15M92.2 454.3h1.15M72.9 437.3h1.15M72.8 442.7h1.15M128.8 459.8h1.15M119.8 457.6h1.15M106.1 443.8h1.15M90.8 453.5h1.15M89.8 444.6h1.15M79.9 444.7h1.15M124.4 461.8h1.15M88.1 439.4h1.15M129.4 470h1.15M117.6 445.2h1.15M92.3 453.1h1.15M109.6 453.8h1.15M95.6 452.7h1.15M78 438.6h1.15M103.7 449.4h1.15M102.7 445.9h1.15M112.5 452.4h1.15M116 464.3h1.15M105.9 444.4h1.15M111.5 453.8h1.15M132.4 450.5h1.15M91.1 450.4h1.15M113.7 457.2h1.15M104.4 452.8h1.15M89.2 446.1h1.15M124.8 450.7h1.15M133.2 456.2h1.15M122 454.5h1.15M93.8 461.5h1.15M108.5 448.1h1.15M128.7 450h1.15M101.6 456.5h1.15M105.5 465h1.15M88.7 438.3h1.15M135.7 462.5h1.15M68.8 455.7h1.15M92.8 454.6h1.15M118.6 458.4h1.15M101.7 475.1h1.15M127.7 457.5h1.15M86.8 449.5h1.15M93.8 444.2h1.15M85.4 445.1h1.15M116.3 457.1h1.15M88.4 451.5h1.15M131.8 449h1.15M77.2 435.7h1.15M103.1 449.7h1.15M95.7 458.1h1.15M112.7 453.8h1.15M94.4 455.1h1.15M115.5 454.2h1.15M99.6 454.4h1.15M107.1 457.7h1.15M120 458.2h1.15M80.3 435.9h1.15M83.3 445h1.15M127.3 462.6h1.15M95.7 454.3h1.15M113.6 470.4h1.15M102.2 446.6h1.15M83.7 446.2h1.15M118.3 462.8h1.15M123.6 454.1h1.15M80.4 440.5h1.15M135 455.2h1.15M66.7 459h1.15M128.4 460.3h1.15M113.1 450.3h1.15M128.7 458h1.15M90.6 448.9h1.15M110.5 446.8h1.15M96.4 463.7h1.15M87.7 445h1.15M108.6 452.2h1.15M86.6 444.4h1.15M89.1 453.4h1.15M86.1 448.3h1.15M103.4 460.9h1.15M102.3 444.5h1.15M125.4 450.8h1.15M131.2 447.3h1.15M83.7 434.3h1.15M78.2 436.7h1.15M77.4 453.1h1.15M86.1 476.2h1.15M87.1 435.8h1.15M118.4 457h1.15M73.9 465.3h1.15M122.3 445.2h1.15M120.5 450.3h1.15M76.5 446.4h1.15M127 473.1h1.15M119.2 445.8h1.15M93.3 452.6h1.15M118.1 457h1.15M121.9 434.1h1.15M121.9 433.4h1.15M116.6 433.2h1.15M117.2 433.1h1.15M65.5 386.7h1.15M59.7 388h1.15M64 384.2h1.15" stroke="#eb4c2d" stroke-width="1.15"/>
<path d="M85.5 433.8h1.15M68.8 415.1h1.15M73.7 421.4h1.15M67.5 431.8h1.15M64.8 431.1h1.15M80.6 431.5h1.15M69.2 421.7h1.15M63.3 419.7h1.15M65.1 402.3h1.15M71.8 419h1.15M63.2 424.8h1.15M72.8 417.5h1.15M71.7 425.4h1.15M68.3 429.6h1.15M62.4 415.1h1.15M71.7 423.3h1.15M65 405.4h1.15M65.1 413.5h1.15M70.7 422.7h1.15M64.6 400h1.15M64.9 420.6h1.15M64 428.2h1.15M72.4 425.5h1.15M63.5 410.7h1.15M67.4 417.9h1.15M71.8 433.8h1.15M68.6 408.3h1.15M71.5 411.9h1.15M63.4 404.2h1.15M75.1 431.1h1.15M88.5 434.7h1.15M70 410.9h1.15M73.9 432.1h1.15M70.7 419.3h1.15M62.4 392h1.15M57.2 393.7h1.15M63.1 399.1h1.15M62.1 416.9h1.15M59.3 406.4h1.15M56 410.6h1.15M46.2 395.8h1.15M55.2 407.8h1.15M61.6 418h1.15M55 405.9h1.15M63.9 412h1.15M62.5 394.2h1.15M52.9 417.4h1.15M64.2 399.3h1.15M55 405.8h1.15M52.5 396.9h1.15M54.8 396.9h1.15M64.2 413.2h1.15M62.5 398.3h1.15M44.4 398.9h1.15M61 415.6h1.15M64.6 396h1.15M57.3 401.2h1.15M50.1 397.1h1.15M59.3 400.4h1.15M63.4 415.7h1.15M49 409.2h1.15M58.5 395.6h1.15M64.6 395.2h1.15M62.2 416.4h1.15M49.3 411.3h1.15M60.9 414.1h1.15M63.6 412.1h1.15M58.9 415.5h1.15M59.5 417.8h1.15M62.3 404.7h1.15M44.7 415.6h1.15M52.6 394.9h1.15M56.7 417.1h1.15M62.8 406.9h1.15M54.3 413.7h1.15M48 405.9h1.15M56.9 412.2h1.15M57.1 412.2h1.15M56.8 411.2h1.15M63.8 404h1.15M56.1 402.6h1.15M63.1 402.8h1.15M57.4 411.4h1.15M62.8 417.6h1.15M57.9 415.2h1.15M61.7 412.3h1.15M52.5 411.7h1.15M62.6 413.4h1.15M65.1 406.6h1.15M57.8 398.3h1.15M63.9 410.5h1.15M61.3 410.1h1.15M60.4 418.5h1.15M58.1 398.5h1.15M60.2 398.5h1.15M58.4 398h1.15M86.2 448.1h1.15M68.5 457.1h1.15M88.4 445.2h1.15M93.1 466.1h1.15M112.5 456.5h1.15M78.4 457.7h1.15M102.5 445.7h1.15M115.5 476.3h1.15M125.4 474.9h1.15M77.5 439.8h1.15M95.9 451.7h1.15M65.7 465.4h1.15M108.2 446.5h1.15M90.8 453.4h1.15M114.8 457.5h1.15M108.5 459.9h1.15M88.6 452.7h1.15M111.9 464.9h1.15M133.4 465.8h1.15M76.7 463.9h1.15M74 447.3h1.15M90.5 454.2h1.15M116.7 445.2h1.15M113.8 458.4h1.15M69 435.6h1.15M135.5 453.8h1.15M104 462.3h1.15M78.5 467.8h1.15M105.5 464.1h1.15M90.8 475.6h1.15M109.4 463.3h1.15M65.8 453.9h1.15M121.2 447.1h1.15M90.8 440.9h1.15M92.6 469.4h1.15M70.8 441.6h1.15M105.3 457.5h1.15M86.7 450.2h1.15M71.4 467.1h1.15M118.9 447.7h1.15M72.2 462.7h1.15M73.4 438.7h1.15M99.7 448.5h1.15M110.7 457h1.15M87.5 462h1.15M71.6 468.2h1.15M72.6 461.7h1.15M119.1 462.5h1.15M88.1 458.9h1.15M109.1 455.7h1.15M109.9 458.4h1.15M65.3 447.9h1.15M80.6 466.9h1.15M65.6 445.4h1.15M114.7 460.7h1.15M71.3 446h1.15M119.8 455.1h1.15M112 475.2h1.15M85.3 446h1.15M87.7 446h1.15M98.9 450.8h1.15M128.5 450.6h1.15M127.1 452.5h1.15M106.8 458.9h1.15M68.1 439.9h1.15M103 458.4h1.15M123.3 446.9h1.15M77.6 441h1.15M116 446.9h1.15M103.5 451.2h1.15M119.3 463.5h1.15M102.8 461.6h1.15M74.9 436.8h1.15M118.2 466.4h1.15M78.1 463h1.15M92.9 479.4h1.15M66.1 456.2h1.15M130.8 453.7h1.15M99.7 456.3h1.15M83.4 443.8h1.15M101.1 457.4h1.15M127.5 466.5h1.15M86 468.1h1.15M76.3 449h1.15M110.9 470.6h1.15M101.4 459.8h1.15M99.8 469.5h1.15M90.3 451.4h1.15M92.7 454.2h1.15M87.6 434.9h1.15M80.7 449h1.15M132.8 448.2h1.15M110.2 449h1.15M76.2 441.5h1.15M73.7 442.6h1.15M118.9 452h1.15M102.1 465.8h1.15M90.1 466.6h1.15M97.4 458.1h1.15M79.1 440.8h1.15M82.1 446.4h1.15M123.4 461h1.15M111.3 449.6h1.15M71.5 441.8h1.15M76.8 444h1.15M101.2 455.6h1.15M104.1 468h1.15M128.6 455.2h1.15M113.7 471.3h1.15M73.9 440.2h1.15M121 460.3h1.15M72.7 444.6h1.15M91 449h1.15M126.3 469.6h1.15M122.6 458.2h1.15M104.1 458.7h1.15M112.7 463.7h1.15M84.3 479.5h1.15M86.2 468.2h1.15M113.5 454.3h1.15M67.5 438.1h1.15M87.4 444.9h1.15M133.1 468h1.15M107.3 446.8h1.15M125.7 472.4h1.15M64.7 449.5h1.15M116.8 465.2h1.15M78.6 474.5h1.15M130.6 453.7h1.15M78.9 449.1h1.15M133.4 449.7h1.15M64.5 444.4h1.15M87.3 475.7h1.15M102 452.8h1.15M74.4 433.7h1.15M124.1 465.3h1.15M65.2 436.6h1.15M135 452.5h1.15M123.7 462.7h1.15M87.6 452.5h1.15M129.1 454.6h1.15M108.8 465.3h1.15M109.5 462.7h1.15M110.3 463.5h1.15M112.4 456.5h1.15M79.1 450.3h1.15M90.8 445.6h1.15M83.8 456.1h1.15M122.9 455.3h1.15M105.6 474.7h1.15M75.1 455.8h1.15M128.2 454.3h1.15M67.7 436.3h1.15M124 466.2h1.15M135.9 461.7h1.15M107.9 462.4h1.15M123.3 455.1h1.15M109.6 446.3h1.15M82.7 457.2h1.15M69.4 463.3h1.15M98 457.6h1.15M78.5 462.9h1.15M131 469.7h1.15M114.7 461.5h1.15M122.6 448.9h1.15M68.8 459.6h1.15M111.5 464h1.15M135.1 458.7h1.15M129.2 456.4h1.15M75.6 456h1.15M114.9 462.7h1.15M105.2 457.3h1.15M115.4 456.4h1.15M129.6 464.4h1.15M82.6 452.3h1.15M102.7 456.6h1.15M108.1 458.1h1.15M120.3 464.1h1.15M104.7 468.6h1.15M125.8 458.4h1.15M84.2 458h1.15M131 446.9h1.15M79.4 438.4h1.15M108.9 453.6h1.15M70 456.1h1.15M115.2 456.6h1.15M132 451.4h1.15M124.4 455.6h1.15M80.5 438.6h1.15M118.5 465.5h1.15M119.1 458.9h1.15M85 459h1.15M76.8 447.2h1.15M129.4 454h1.15M129.7 462.1h1.15M114.9 472.1h1.15M68.8 452.6h1.15M84.6 455.1h1.15M127.1 459.7h1.15M70.3 455.3h1.15M109.7 459h1.15M101 444.8h1.15M106.7 444.8h1.15M79.1 443.5h1.15M127.6 468.4h1.15M112.5 446.3h1.15M129.8 462.8h1.15M115.5 474.6h1.15M83 473.8h1.15M125.2 466.5h1.15M86.6 452.9h1.15M87 464.3h1.15M128.4 446h1.15M82.5 455.4h1.15M127 463.2h1.15M114 462.8h1.15M106.8 456.4h1.15M100.8 460.9h1.15M97.6 468h1.15M78.7 448.8h1.15M122.7 469.1h1.15M121.7 448.7h1.15M67.3 436.9h1.15M125.5 466.8h1.15M101.6 464.2h1.15M80.2 447.4h1.15M117.9 470.7h1.15M133.4 462.2h1.15M115 468h1.15M79.3 439.2h1.15M85.8 458h1.15M98.7 450.4h1.15M135.3 451.8h1.15M122.7 468.5h1.15M132 454.2h1.15M73.2 435.7h1.15M84.4 440.6h1.15M127.3 459.9h1.15M130.6 462.9h1.15M134.9 450.8h1.15M99.7 456.7h1.15M117.2 460.5h1.15M131.5 464.7h1.15M132.6 462.1h1.15M118.1 472.4h1.15M85.7 467.2h1.15M74.3 477.1h1.15M65.6 459.4h1.15M111.5 457.2h1.15M113.8 457.6h1.15M97 456.6h1.15M85.4 460.6h1.15M96.3 446.1h1.15M73.8 462.2h1.15M134 450.1h1.15M115 472.9h1.15M122.1 456.5h1.15M98.5 456h1.15M100.2 457.5h1.15M120.6 456.4h1.15M135.3 451.3h1.15M90.4 452.8h1.15M121.2 459.7h1.15M80 444.4h1.15M125.6 463.8h1.15M124.9 459.3h1.15M66.9 437.3h1.15M106.3 457.3h1.15M77.8 455.6h1.15M70.8 451.5h1.15M69.8 459.4h1.15M127.1 447.9h1.15M68.3 448.5h1.15M70.8 434.8h1.15M76.3 454.9h1.15M70.3 464.2h1.15M114 453.5h1.15M84.7 473.3h1.15M131.2 450.6h1.15M116.3 460.2h1.15M124.8 469h1.15M121.9 455.4h1.15M78.6 463h1.15M124.4 462.6h1.15M81.8 448.5h1.15M68.2 434.7h1.15M114.7 459.9h1.15M133.1 460.8h1.15M121.7 459h1.15M128.4 465.2h1.15M106.9 452.1h1.15M115.8 453.9h1.15M115.3 446.1h1.15M118 432.8h1.15M62.2 384.4h1.15M62.2 387.4h1.15M65.8 389.1h1.15M61.6 388.1h1.15" stroke="#e43830" stroke-width="1.15"/>
<path d="M68.8 421.6h1.15M66.8 412.5h1.15M65.3 403.9h1.15M74.1 434.4h1.15M74.3 432.4h1.15M70.1 413.4h1.15M64.3 416.8h1.15M65.5 417.9h1.15M71 429.6h1.15M74.6 435.2h1.15M64.1 410.5h1.15M72 427.4h1.15M66.2 427.1h1.15M64.8 420.3h1.15M65 406.4h1.15M77.1 431.9h1.15M67.2 408.1h1.15M67.1 421.7h1.15M68.8 419.9h1.15M64 427.4h1.15M65 428.1h1.15M70.3 414.7h1.15M65.7 412.6h1.15M74.2 428.3h1.15M63.4 425h1.15M63.2 410.3h1.15M73.3 422.7h1.15M64.7 411.2h1.15M62.2 416.7h1.15M50.4 408.7h1.15M60.3 413.9h1.15M48.2 395h1.15M56.2 408.2h1.15M48.6 411.1h1.15M51.3 409.5h1.15M53.1 409.7h1.15M64.6 410.6h1.15M43.5 412.8h1.15M55.3 396.9h1.15M42.8 413.5h1.15M58.4 398h1.15M55.3 414.6h1.15M63.8 406.2h1.15M63.2 404.4h1.15M61.2 401.9h1.15M60.5 397.5h1.15M60.9 413.8h1.15M55.2 407.8h1.15M51.1 410.3h1.15M63.8 407.6h1.15M55.7 396.3h1.15M56.6 418.1h1.15M60.1 408.2h1.15M35.7 406.4h1.15M40.5 410.8h1.15M54.1 410.8h1.15M63.4 407.1h1.15M56.9 398.2h1.15M59.6 413.4h1.15M52.9 394.9h1.15M41.9 399.9h1.15M54.6 410.7h1.15M55.3 399h1.15M44.9 404.9h1.15M54 394.8h1.15M58.6 403.8h1.15M53.5 399.8h1.15M57.5 395.5h1.15M53.6 416.3h1.15M57.3 412.4h1.15M51.6 401.1h1.15M55.7 409.6h1.15M41.7 401.2h1.15M62.5 411.8h1.15M36.3 408h1.15M59.1 401.6h1.15M62 418.8h1.15M40.9 406.8h1.15M53.5 416.4h1.15M59.4 410.3h1.15M56.5 418.1h1.15M60.9 411.7h1.15M57.5 417.6h1.15M61 413.4h1.15M49.8 405.4h1.15M47 408.4h1.15M48.4 397.2h1.15M56.6 396.7h1.15M45.9 411.9h1.15M45.4 402.7h1.15M59.1 414.2h1.15M65.2 410.6h1.15M59.7 412.5h1.15M49.6 395.2h1.15M57 411.7h1.15M62.7 408.5h1.15M54.3 406.4h1.15M52 412.6h1.15M64.5 402.4h1.15M39 399.7h1.15M55.9 417h1.15M65.3 410.3h1.15M64.6 400.5h1.15M57.2 406.9h1.15M53.1 413.6h1.15M40.1 405.6h1.15M55.5 414.5h1.15M67.5 438.1h1.15M125.3 464.1h1.15M75.5 462.9h1.15M117.7 467.5h1.15M89.3 466.4h1.15M90.7 467.3h1.15M126.5 463.5h1.15M91.7 465.2h1.15M129.7 470.9h1.15M126.5 461.1h1.15M132.5 460h1.15M91.2 457.3h1.15M85.2 451.9h1.15M79.6 454.4h1.15M110 466.3h1.15M133.5 458h1.15M121.5 468.5h1.15M106.4 460.4h1.15M73.1 442.5h1.15M86.7 452.6h1.15M90.4 476.7h1.15M68.2 450.8h1.15M120.3 473.7h1.15M70.8 454.9h1.15M91 474.6h1.15M87.9 473.8h1.15M133.1 449.9h1.15M81 471.1h1.15M66.3 442.9h1.15M112.9 456.6h1.15M99.1 462.5h1.15M105.1 469.3h1.15M75.7 446.5h1.15M132.9 450.2h1.15M101 456.8h1.15M89.3 468.2h1.15M111.6 452.1h1.15M71 445.7h1.15M91.4 460.6h1.15M104 461.8h1.15M120.2 446.5h1.15M80.2 474.9h1.15M77.4 460.6h1.15M91 455.8h1.15M68.9 463.8h1.15M85.9 454.8h1.15M88 437.4h1.15M95.7 470h1.15M77.1 452.1h1.15M111.5 464.6h1.15M87.6 461.6h1.15M112.5 446.2h1.15M103.6 472h1.15M72.6 468.2h1.15M92.7 456.8h1.15M96 469.8h1.15M86.1 461h1.15M73.4 455.4h1.15M107.3 474.7h1.15M106.4 446.8h1.15M84 463.8h1.15M91.2 452.4h1.15M111 466h1.15M67.4 441.5h1.15M114.4 468.7h1.15M80.4 474h1.15M106.2 457h1.15M134.1 450.4h1.15M131.1 450.4h1.15M110.7 464.8h1.15M113.5 476.2h1.15M120.4 461h1.15M71 434.7h1.15M94.7 473.4h1.15M121.9 461.6h1.15M127.5 464.9h1.15M81.4 450.9h1.15M102.3 462h1.15M76.8 459.6h1.15M76 473.6h1.15M123.3 472.6h1.15M86.8 465.8h1.15M114.5 465.3h1.15M69.5 469.3h1.15M73.4 451.1h1.15M96.4 455.2h1.15M125.3 472.6h1.15M91.3 452.5h1.15M135 452.5h1.15M120.4 453.9h1.15M91.6 477.5h1.15M69.1 459.4h1.15M123 454.4h1.15M122.3 461.5h1.15M134.4 465.3h1.15M102.6 463.6h1.15M71.5 448.6h1.15M126.8 470.7h1.15M82.9 464.9h1.15M71.2 449.2h1.15M72.7 469.2h1.15M82.4 457.5h1.15M77.2 444.4h1.15M86.2 458h1.15M89 477.4h1.15M131.4 448.7h1.15M120.7 467.8h1.15M87.1 465.9h1.15M93.8 469.2h1.15M67.2 438.8h1.15M124.8 468.2h1.15M67.3 466.4h1.15M130.5 456h1.15M116.8 469.5h1.15M116.4 468.9h1.15M130.6 464.1h1.15M95.4 459.8h1.15M112.2 455.4h1.15M95.9 472.3h1.15M93.8 462.9h1.15M66.7 438.1h1.15M86.3 462.6h1.15M129.1 457.5h1.15M82.6 461h1.15M84.1 470.7h1.15M110.5 465.7h1.15M109.6 464.5h1.15M65.6 447.7h1.15M74.6 461.8h1.15M121.6 475.6h1.15M84 475.8h1.15M93.8 459.6h1.15M71.7 438.9h1.15M90.4 475.6h1.15M135.8 464.1h1.15M112.8 459.8h1.15M88.6 477h1.15M68.8 458.9h1.15M74.6 435.9h1.15M66 458.6h1.15M77.6 452.4h1.15M118.6 461.6h1.15M80.3 453.7h1.15M87 455.5h1.15M75.9 451.9h1.15M71.6 463h1.15M77.6 454.9h1.15M109.6 468.6h1.15M82.1 466.2h1.15M66.2 458h1.15M108.9 458.8h1.15M83.2 470.6h1.15M117.2 466.7h1.15M64.6 452.7h1.15M72.3 467.9h1.15M122.5 471.1h1.15M136.1 456.6h1.15M116.9 462.5h1.15M79.1 467.7h1.15M76.6 445.1h1.15M98.9 477h1.15M91.7 478.3h1.15M74 445.8h1.15M66.2 436.7h1.15M119.7 458.7h1.15M115.1 467.9h1.15M102.7 460.8h1.15M79.4 471.4h1.15M128.4 455.7h1.15M132.9 461.4h1.15M101.5 470.9h1.15M77.6 445.8h1.15M134.2 449.6h1.15M101.4 458.7h1.15M109.2 474.5h1.15M83.3 474.9h1.15M71.9 444.4h1.15M75.8 450.1h1.15M120.9 465.7h1.15M66.5 463.7h1.15M129.4 459h1.15M70.6 454.9h1.15M87.8 464.8h1.15M91.9 459.3h1.15M75.6 474.3h1.15M111.1 461.9h1.15M124.3 458.9h1.15M118.8 473.6h1.15M99.5 459h1.15M132.7 464h1.15M123.6 471.9h1.15M109.5 465.1h1.15M68.7 448.2h1.15M90.1 451.2h1.15M74.2 475.8h1.15M74.6 465.8h1.15M122.6 465.4h1.15M120 474.8h1.15M127.2 462.5h1.15M86.2 471.7h1.15M81 463.4h1.15M66.6 436.1h1.15M111.3 462.3h1.15M69.7 460.8h1.15M108.7 467.2h1.15M119.2 461.7h1.15M111.4 458.7h1.15M65.2 455h1.15M127.6 474.9h1.15M88.4 457.5h1.15M86 474.9h1.15M92.5 452.8h1.15M68.9 442.2h1.15M81 461.6h1.15M117.9 462.5h1.15M77.4 441.2h1.15M91.3 455.5h1.15M76.4 473.5h1.15M90.7 479.1h1.15M104.9 458.1h1.15M119.5 460.4h1.15M83.6 459.4h1.15M69.5 472.5h1.15M122 466h1.15M64.6 445.1h1.15M71.9 472.8h1.15M116.3 457.1h1.15M107.3 470.9h1.15M90.2 476.8h1.15M70.8 438.1h1.15M71.7 471.6h1.15M80.2 477.3h1.15M71 464h1.15M74.8 465h1.15M120.4 457.5h1.15M100.9 466.1h1.15M72.9 444.8h1.15M91 466.6h1.15M118.5 475.5h1.15M84.6 453h1.15M78.5 434.1h1.15M110.3 466.4h1.15M118 475.8h1.15M93.4 476.1h1.15M106.1 461.6h1.15M70.7 470.4h1.15M65.2 462.9h1.15M80.1 452.7h1.15M70.7 452.8h1.15M91.7 467.2h1.15M65.4 441.5h1.15M108.5 473.6h1.15M120.5 464.1h1.15M107.9 466h1.15M129 449.9h1.15M81.8 459.9h1.15M67.3 463.5h1.15M102.1 459.9h1.15M73.7 454.7h1.15M74 453.5h1.15M106.2 456.1h1.15M88.4 481.2h1.15M88.7 473.9h1.15M122.6 471.3h1.15M93.5 456.6h1.15M78.1 455.6h1.15M73.6 446.1h1.15M86.9 465.1h1.15M118 453.4h1.15M133.3 460.7h1.15M73.2 459.7h1.15M119 473.8h1.15M91.4 458.2h1.15M102 470.7h1.15M105.2 467.5h1.15M92 460.3h1.15M88.5 464.2h1.15M99.1 469.6h1.15M131.7 449.4h1.15M91.1 478.9h1.15M112.8 475.8h1.15M72.3 447.3h1.15M117.3 471.3h1.15M125.8 451.8h1.15M112.7 465.3h1.15M98.6 459.8h1.15M91.4 476.5h1.15M95.5 461.9h1.15M90.5 456.2h1.15M119.8 450.9h1.15M107.3 459.9h1.15M110.8 473.1h1.15M128.4 451.1h1.15M116.6 473.2h1.15M91.7 456.7h1.15M117.7 469.1h1.15M106 465.9h1.15M70.6 449.4h1.15M111.5 456.6h1.15M85.9 452.1h1.15M110.8 465.5h1.15M80.2 443.4h1.15M86 456.1h1.15M116.2 468.8h1.15M131.7 467.7h1.15M71.4 465.9h1.15M102.9 461.1h1.15M125.8 459.5h1.15M117.6 468.6h1.15M118.7 455.9h1.15M113.8 469.7h1.15M86.3 478.4h1.15M118.2 459h1.15M67.4 442.9h1.15M96.4 458.5h1.15M78.4 469.3h1.15M91.1 466.8h1.15M109.7 463.9h1.15M98.7 457.4h1.15M71.9 473.7h1.15M87.1 457.8h1.15M73.6 476.5h1.15M72.8 448.6h1.15M90.8 468.5h1.15M120.6 466.4h1.15M77.3 454.8h1.15M114 454.8h1.15M102.3 473.6h1.15M129.3 447.5h1.15M97.2 461.1h1.15M67.7 460.2h1.15M75.8 474.1h1.15M74 461.5h1.15M92.9 480.9h1.15M91.7 452.1h1.15M95.1 461.7h1.15M81.3 453.2h1.15M113.9 432.8h1.15M116.3 433h1.15" stroke="#db2930" stroke-width="1.15"/>
<path d="M70.3 414.1h1.15M71 421.1h1.15M68.5 432.3h1.15M67.7 427.8h1.15M65.2 410.1h1.15M74.2 430.7h1.15M70.5 422.9h1.15M63.1 415h1.15M64.8 419.8h1.15M61.8 409.4h1.15M72.2 434h1.15M67.6 412.8h1.15M65.1 407.1h1.15M71.4 417.1h1.15M63.4 409.2h1.15M51.8 399.9h1.15M46.4 400.2h1.15M47.6 408.5h1.15M57.4 413.5h1.15M62.9 414.6h1.15M55.8 414.9h1.15M45.8 400.8h1.15M64.9 409.7h1.15M63.4 412.6h1.15M44.7 408.9h1.15M46.4 406.5h1.15M56.1 418.1h1.15M64.4 409.4h1.15M56.1 404h1.15M55 407.4h1.15M46.2 411.5h1.15M43.9 402.3h1.15M54.7 404.7h1.15M49.8 396.7h1.15M63.6 407h1.15M57.8 407.2h1.15M65 405h1.15M57.6 406.5h1.15M47.4 410.3h1.15M54 397.8h1.15M45.6 410.1h1.15M52.2 411.2h1.15M39.4 398.5h1.15M53 404.2h1.15M47.6 416h1.15M55.3 415.2h1.15M63.7 403h1.15M44 399.8h1.15M48 406.3h1.15M56.2 398.9h1.15M57.5 401.7h1.15M58.4 414.6h1.15M54.7 409.1h1.15M57.2 399.4h1.15M43.3 411.2h1.15M49.7 399h1.15M38.1 407.8h1.15M43.1 403.4h1.15M40 398.1h1.15M44.8 411.5h1.15M50.8 396.1h1.15M37.4 402.4h1.15M55.5 398h1.15M56.8 412.8h1.15M39.2 404.6h1.15M40.5 412.7h1.15M48.1 401.1h1.15M43 404.7h1.15M45.6 397.1h1.15M61.4 407.5h1.15M43.3 401.9h1.15M62.1 412.4h1.15M60.8 414.9h1.15M49.2 402.8h1.15M53 414.4h1.15M50.9 405.1h1.15M47.8 415.8h1.15M55.4 397.6h1.15M64.2 410.8h1.15M50.4 410h1.15M62.5 417.8h1.15M52.2 395.9h1.15M48.1 408.3h1.15M41.4 407.8h1.15M43.5 414.6h1.15M45.4 412.7h1.15M40.1 397.9h1.15M49.5 397.3h1.15M46 409h1.15M52 409.9h1.15M53.1 410.3h1.15M62.4 413.6h1.15M63.4 409.3h1.15M51.6 399.4h1.15M51.9 416.9h1.15M48.4 402.6h1.15M61.9 408.2h1.15M46.8 410.6h1.15M53.9 400.5h1.15M46.6 399.3h1.15M44.9 412.5h1.15M63.4 412.4h1.15M52.6 416.5h1.15M57.3 409.5h1.15M55 399.5h1.15M57.9 395.9h1.15M54.5 402.2h1.15M36.3 404.9h1.15M49.3 404.7h1.15M61.1 404h1.15M59.6 410.4h1.15M62.1 401.9h1.15M52 397.6h1.15M50.6 395.2h1.15M60.6 410.1h1.15M53.1 414.3h1.15M64.5 402.9h1.15M65.3 408.8h1.15M55 396.4h1.15M48 398.4h1.15M38.1 404.9h1.15M129.8 467h1.15M69.3 458.9h1.15M71.4 456.9h1.15M113.6 466.5h1.15M67.5 467.4h1.15M84.2 480.4h1.15M70.8 467.9h1.15M75.4 475.2h1.15M134 463.9h1.15M84.2 456.9h1.15M119.7 466.8h1.15M99 468.2h1.15M111.4 465.5h1.15M65.7 451.3h1.15M88.2 465.6h1.15M78.7 474.3h1.15M121.6 472.1h1.15M83.6 470.4h1.15M83 469.3h1.15M71 436.5h1.15M101 456.4h1.15M79.3 475.4h1.15M72.5 464.5h1.15M91.2 468.3h1.15M95.9 473.1h1.15M66.1 448.7h1.15M84.5 468.9h1.15M117.9 475.4h1.15M100.7 471h1.15M89.7 472.2h1.15M79.9 453.6h1.15M113.1 472.4h1.15M95.7 465.3h1.15M77.9 455.5h1.15M71.5 473.5h1.15M66.9 469.5h1.15M128.4 452.2h1.15M97.5 460.5h1.15M81.9 459.6h1.15M67.3 454.2h1.15M96.2 477.3h1.15M86 467.4h1.15M65.6 450.6h1.15M114.2 461.1h1.15M72.5 457.2h1.15M100.5 467.6h1.15M82.8 472.3h1.15M76.9 444.8h1.15M97.6 467.3h1.15M71.2 464.7h1.15M71.8 455.5h1.15M117.7 467.4h1.15M121.8 473.7h1.15M125.1 465.1h1.15M87.9 474h1.15M103.8 472.2h1.15M75.4 458.7h1.15M83.4 451.8h1.15M109.5 461.7h1.15M65.5 455.8h1.15M82.1 460.6h1.15M97.4 459.3h1.15M110.9 471.6h1.15M87.7 461h1.15M92.8 459.1h1.15M82.4 458.9h1.15M70.8 465.1h1.15M115.7 470.8h1.15M96.6 460.1h1.15M100.4 470h1.15M75.5 453.4h1.15M91.8 473.6h1.15M91.2 473h1.15M79.6 469.2h1.15M105.8 476.1h1.15M132.3 463.3h1.15M69.2 457.7h1.15M89.1 470.7h1.15M67.4 456.1h1.15M80.9 473.7h1.15M65.2 454h1.15M81 466.9h1.15M85.8 467.8h1.15M96.2 468.3h1.15M95.2 476.5h1.15M73.9 475.8h1.15M66.7 466.7h1.15M100.1 464.9h1.15M77.8 467.2h1.15M73.4 442.8h1.15M120 469.1h1.15M98.2 472.2h1.15M85.9 459h1.15M114.9 468h1.15M97.4 464.1h1.15M107.1 470.4h1.15M111.5 461.1h1.15M81.1 471.5h1.15M69.2 472h1.15M95.8 477h1.15M74 475.8h1.15M69.2 444.9h1.15M79.5 472.7h1.15M121.2 471h1.15M114.5 475.8h1.15M67.4 462.3h1.15M95.6 478.1h1.15M92 459.3h1.15M115.1 471.4h1.15M119.1 466.3h1.15M75.3 473.2h1.15M70.3 441.7h1.15M122.3 466.3h1.15M102.5 470.1h1.15M75.5 458.1h1.15M92.9 455.7h1.15M120.6 465.7h1.15M115.7 456.2h1.15M88.6 467.3h1.15M129.7 473.5h1.15M86.5 461.8h1.15M73.2 449.1h1.15M73.3 452.9h1.15M117.2 466.1h1.15M67.1 455.1h1.15M83.8 468.5h1.15M89.4 461.6h1.15M81.3 467.1h1.15M97.3 471.3h1.15M96.9 477.4h1.15M73.5 462.3h1.15M111.2 474.9h1.15M86.3 455.6h1.15M117.9 463.2h1.15M131.2 465.1h1.15M66.9 453.4h1.15M125.9 452.5h1.15M83.5 477.6h1.15M129.3 472.3h1.15M124.9 473h1.15M117.3 460.4h1.15M93.6 460.1h1.15M69.8 436.8h1.15M67.8 467.5h1.15M86 458.7h1.15M105.8 463.6h1.15M106.4 470.9h1.15M73.4 437.5h1.15M80.3 464.6h1.15M82.9 450.9h1.15M83 460.4h1.15M102 474.3h1.15M128.1 464.5h1.15M94.7 458.7h1.15M115.9 463.6h1.15M80.9 470.7h1.15M80.2 467.1h1.15M84.5 449.4h1.15M87.2 468.8h1.15M69.7 452.5h1.15M120.6 467.3h1.15M128.3 449.7h1.15M108.1 474.6h1.15M76.1 443.9h1.15M74.1 457.4h1.15M73.2 471.2h1.15M73.6 462.2h1.15M72.5 443h1.15M89.9 479.7h1.15M105 474.3h1.15M98.3 467.3h1.15M65.7 457.1h1.15M86.9 461.7h1.15M111.2 456.8h1.15M67.4 438.2h1.15M76.1 467h1.15M110.7 472h1.15M132.9 462.6h1.15M99 464.9h1.15M65.9 449.4h1.15M90 466h1.15M77.1 448.7h1.15M87.7 474.5h1.15M74.8 457.1h1.15M67.5 464.2h1.15M74.8 444.9h1.15M93.2 457.8h1.15M84.5 479.2h1.15M72.3 439.3h1.15M70.8 450h1.15M73 475.1h1.15M85.4 460.6h1.15M72.4 455.4h1.15M107.7 459.3h1.15M65.8 440.1h1.15M79.9 452.1h1.15M128.6 472.8h1.15M88.6 472.7h1.15M113.1 473.6h1.15M100.8 458.7h1.15M77.5 469.1h1.15M117.8 469.9h1.15M84.2 462.6h1.15M102.4 465h1.15M75.8 447.5h1.15M73.2 449.7h1.15M76.5 447.9h1.15M74.3 446.9h1.15M97.8 476.6h1.15M133.3 460.4h1.15M117.2 465.2h1.15M113.8 457.2h1.15M64.8 454h1.15M82.6 472.8h1.15M91 454.3h1.15M124.2 471h1.15M87.7 468.6h1.15M81.6 455.5h1.15M92.1 480.3h1.15M120.2 465.3h1.15M83.6 462.1h1.15M69 444.4h1.15M122.2 473.8h1.15M91.3 475.4h1.15M74.6 471.9h1.15M77 455.6h1.15M73.7 464.3h1.15M133.8 464.3h1.15M77.2 443.9h1.15M67.1 459.3h1.15M76.8 477.5h1.15M74.4 450.9h1.15M67 455.1h1.15M116 465.8h1.15M97.1 473.9h1.15M72.4 460.2h1.15M112 469.4h1.15M105.3 469.3h1.15M95 464.5h1.15M76.9 449.4h1.15M70.2 457.9h1.15M77.1 460.1h1.15M99.2 469.7h1.15M68.7 440.9h1.15M80.7 442.8h1.15M89.6 457.9h1.15M71.8 469.3h1.15M83.4 471.2h1.15M88.5 478h1.15M65.6 443.8h1.15M71.6 465.4h1.15M73 444h1.15M78 463.1h1.15M124.6 465.1h1.15M88 481.3h1.15M68.6 463.2h1.15M65.5 438.4h1.15M103 473.6h1.15M72.6 472.7h1.15M87.3 477.6h1.15M88.9 462h1.15M90.8 458h1.15M100.5 468.2h1.15M66.3 444.2h1.15M83.7 460h1.15M70.3 464.5h1.15M68.2 445.4h1.15M73.9 453.4h1.15M90.4 468h1.15M94.5 463.8h1.15M74.3 440.2h1.15M87.9 472.2h1.15M86.6 467.9h1.15M117.3 468.4h1.15M88.4 470.4h1.15M91.3 465.3h1.15M131.9 470.5h1.15M116 469.3h1.15M93.9 474h1.15M119.3 475.3h1.15M90 460.5h1.15M105.6 473.1h1.15M118.5 463.6h1.15M92.9 473.4h1.15M89.8 471.1h1.15M78.3 473.8h1.15M68 466.2h1.15M101.3 471.6h1.15M83.2 444.4h1.15M82.5 457h1.15M74.1 440.6h1.15M76 468.4h1.15M128.8 474h1.15M95.7 457.3h1.15M71.8 450.1h1.15M94.5 480.2h1.15M114 468h1.15M69.1 458.9h1.15M113.7 464h1.15M122.1 472.2h1.15M109.3 472.7h1.15M76.4 463.7h1.15M72.7 464.6h1.15M103.8 462.5h1.15M77.6 455.6h1.15M104.2 461.5h1.15M81.9 466.1h1.15M115.6 475.4h1.15M84.9 475.6h1.15M89.8 456.9h1.15M68.3 449.3h1.15M118.5 432.8h1.15" stroke="#cf212b" stroke-width="1.15"/>
<path d="M61.8 411.1h1.15M64.8 420.7h1.15M68.4 433h1.15M72.6 427.2h1.15M66.1 416.7h1.15M53.2 413.6h1.15M49.1 395.3h1.15M54.9 397.6h1.15M54.9 416.7h1.15M48.3 415.7h1.15M38.1 404h1.15M58 399.4h1.15M41.6 399h1.15M38.7 405.3h1.15M44.4 403h1.15M51.1 395h1.15M46.9 401.9h1.15M49.2 411.2h1.15M42.2 403.9h1.15M46.2 404.7h1.15M49 400.6h1.15M36 404.7h1.15M42.3 405.5h1.15M53.5 409.6h1.15M42.1 408.1h1.15M48.5 395.8h1.15M41 412.2h1.15M59.5 416.3h1.15M42.4 401.9h1.15M54.1 404.7h1.15M47.5 403.4h1.15M46 411h1.15M48.5 396.7h1.15M45.4 406.1h1.15M44.9 403.3h1.15M56.2 402.4h1.15M55.3 407.3h1.15M58.6 414.3h1.15M56.9 417.9h1.15M36.9 408.4h1.15M51 401.8h1.15M56.9 406.3h1.15M54 400.1h1.15M37.8 402.6h1.15M40.2 406.4h1.15M45.5 398.7h1.15M40.5 412.1h1.15M47.7 409.2h1.15M55.1 402.3h1.15M45.5 413.1h1.15M44.6 409.1h1.15M48.3 411.4h1.15M51.1 414.2h1.15M41.4 400.1h1.15M65.5 407.1h1.15M50.4 416.3h1.15M40.1 403.1h1.15M54 400.2h1.15M40.8 405h1.15M47.5 401.6h1.15M39.6 401.9h1.15M51.9 402.9h1.15M45.8 406.4h1.15M49.7 401h1.15M59 399h1.15M46.5 402.5h1.15M45.3 414.2h1.15M39.7 398.2h1.15M40.7 408.4h1.15M42.9 398.3h1.15M62.9 407.1h1.15M47.8 410.1h1.15M57.2 398.9h1.15M49.1 415.3h1.15M42.8 414h1.15M45.4 396.4h1.15M49.3 414.2h1.15M52 402.9h1.15M49.5 405.3h1.15M39.5 407.7h1.15M51.8 400.5h1.15M54.4 406.7h1.15M46.2 408.3h1.15M46.3 409.9h1.15M48.1 400.3h1.15M80.3 451.7h1.15M106.2 467.8h1.15M82.2 477.8h1.15M115.3 472.5h1.15M90.1 469.4h1.15M81.1 470.8h1.15M86.9 480.2h1.15M84.5 477.6h1.15M91 469.7h1.15M87.7 463.9h1.15M81.6 474.4h1.15M113.1 459h1.15M96.1 473.1h1.15M131 472.1h1.15M82.5 473.1h1.15M126.4 470.9h1.15M71.5 452.4h1.15M73.7 446.9h1.15M115.6 468.1h1.15M79 463.8h1.15M81.4 459.8h1.15M65.4 439.5h1.15M70.4 471.7h1.15M73.2 474h1.15M78 467.1h1.15M130.6 472.2h1.15M96.3 471.3h1.15M69.7 454.4h1.15M93.9 479.2h1.15M94 474.1h1.15M84.2 477.5h1.15M89.2 471.8h1.15M73.9 447h1.15M73 471.7h1.15M109.9 473.2h1.15M73 470.5h1.15M71.9 449.3h1.15M66.5 448.9h1.15M81.7 471h1.15M102.5 466.6h1.15M126.5 463.6h1.15M78.4 471.6h1.15M67.3 435.3h1.15M112.3 466.1h1.15M105.5 472.4h1.15M103.9 469.4h1.15M116.8 460.6h1.15M76.7 468.2h1.15M65.2 448.3h1.15M121.2 459.8h1.15M81.4 458.5h1.15M72.7 439.4h1.15M109.1 474.6h1.15M89 479.8h1.15M72.7 474h1.15M91.9 471.8h1.15M107.1 472.3h1.15M128.9 464.9h1.15M94 478.9h1.15M74.7 457.4h1.15M127.3 452.8h1.15M105.3 476.1h1.15M65.4 448.3h1.15M79.1 459.5h1.15M123.6 471.8h1.15M84.8 455h1.15M126.4 474.5h1.15M68.6 468.2h1.15M77.3 467.6h1.15M88.1 478.8h1.15M82.3 480.4h1.15M88.5 465.7h1.15M82.8 458.2h1.15M85.4 474.1h1.15M88 478.2h1.15M97.4 472.2h1.15M101.2 468.9h1.15M65 443.7h1.15M99.3 471.5h1.15M69.7 460.2h1.15M89.2 480.3h1.15M106.7 472.9h1.15M104.5 474h1.15M82.6 472h1.15M103.8 476.4h1.15M94 468.8h1.15M114.8 475.9h1.15M80.6 459.9h1.15M74.9 474.8h1.15M79 472.6h1.15M100.3 459.8h1.15M72.7 447.8h1.15M69.7 470.1h1.15M76.6 449.1h1.15M123.2 473.2h1.15M69.8 449.3h1.15M105 461.8h1.15M70 470.3h1.15M81.6 461.2h1.15M76.6 454h1.15M110.5 461.4h1.15M91.2 463.8h1.15M84.7 477.4h1.15M83.2 477.6h1.15M86.5 473.3h1.15M82.7 468.8h1.15M71.8 454.6h1.15M69.7 451.2h1.15M68 445h1.15M72.3 471.2h1.15M121.6 459.1h1.15M64.4 449.5h1.15M66.8 454.4h1.15M74.6 474.9h1.15M84.1 452.8h1.15M83.8 480.1h1.15M99.3 475h1.15M86.6 474.2h1.15M127.3 465.9h1.15M84.1 478.1h1.15M90.4 455.4h1.15M97.4 479.4h1.15M97.1 459.6h1.15M95.1 462.1h1.15M105.6 475.4h1.15M84.2 473.1h1.15M79.3 464.1h1.15M101.9 472.5h1.15M76.8 466.1h1.15M92.7 471.4h1.15M70.9 458.7h1.15M80.4 455.9h1.15M89.2 468.6h1.15M116.2 460.9h1.15M93.1 456.7h1.15M121.7 475h1.15M82.8 478.1h1.15M87 458.8h1.15M82.9 479.3h1.15M127.8 466.1h1.15M73.1 448.3h1.15M84.2 457.6h1.15M120.7 465.7h1.15M70.1 441.3h1.15M82.8 469.8h1.15M130.9 464.2h1.15M101.4 470.1h1.15M73.3 457.5h1.15M99.3 470h1.15M94.4 465.1h1.15M100.9 471.4h1.15M65.9 438.5h1.15M72.2 465.5h1.15M91.5 459.9h1.15M86.7 473h1.15M78.5 471.1h1.15M114.3 459.2h1.15M86.6 474h1.15M118.5 455.4h1.15M118 461.5h1.15M120.3 475.8h1.15M115.9 466.4h1.15M92.8 474.5h1.15M68.4 458.7h1.15M99.1 473.5h1.15M76.8 456h1.15M114.1 463h1.15M94.6 471.7h1.15M90.2 470.8h1.15M124.1 469.7h1.15M103.8 476.9h1.15M73.7 473.8h1.15M83.5 458.2h1.15M67.4 460.7h1.15M67.7 465.1h1.15M84.7 460.6h1.15M97.4 479.1h1.15M76 463.5h1.15M75.1 451.8h1.15M85.2 479h1.15M92.1 472.7h1.15M89.4 462.5h1.15M71.2 461.6h1.15M87.1 469.4h1.15M75.2 469.9h1.15M87.9 457.9h1.15" stroke="#bb1825" stroke-width="1.15"/>
<path d="M66.6 421.7h1.15M68.3 435.6h1.15M40.2 405.8h1.15M51 404.3h1.15M42.9 400.1h1.15M42.8 403.1h1.15M45.2 412.8h1.15M40.6 403.8h1.15M57.8 412.3h1.15M42.8 398.9h1.15M53.3 410.8h1.15M55.5 399.5h1.15M42.9 401.9h1.15M41.1 397.9h1.15M48.5 395.1h1.15M41.5 409.9h1.15M42.3 404.9h1.15M45 403h1.15M43 404.3h1.15M51 407.7h1.15M35.5 404.8h1.15M42.3 403.6h1.15M41.8 399.2h1.15M37.6 407.7h1.15M41.2 412.7h1.15M53.1 397.4h1.15M43.2 413.4h1.15M41 411.1h1.15M54.4 398.5h1.15M51.4 411.6h1.15M41.4 400.4h1.15M49.2 397.3h1.15M38.9 405.7h1.15M49.9 398.8h1.15M46.5 404.1h1.15M43.1 412h1.15M47.9 414.2h1.15M46.6 401.5h1.15M51.8 404.3h1.15M46.2 401.8h1.15M42 412.1h1.15M48.4 402.3h1.15M45.2 411.8h1.15M43.1 399.5h1.15M42.4 398.9h1.15M50.9 396.7h1.15M39.5 404.4h1.15M42.7 397.4h1.15M44.8 405.6h1.15M53.2 395.9h1.15M48.1 401.5h1.15M48.3 400.1h1.15M40.1 410.6h1.15M56.7 409h1.15M37 406.3h1.15M48.5 413.4h1.15M52.7 404.2h1.15M43.2 408.5h1.15M50 399.4h1.15M39.8 412.5h1.15M53 403.5h1.15M38.2 405.3h1.15M48.2 407.4h1.15M40.9 405.5h1.15M40.1 410.5h1.15M43.4 401.9h1.15M53.1 396.4h1.15M54.3 407.2h1.15M36.7 403.5h1.15M47.8 416.4h1.15M50.8 400.7h1.15M52.6 407.1h1.15M47.7 406.7h1.15M47 401.1h1.15M48.9 405.6h1.15M37.7 401h1.15M37.9 409.5h1.15M89.7 475.3h1.15M83.7 456.1h1.15M81.8 461.1h1.15M80.7 462.9h1.15M97.2 473.2h1.15M84.3 477.5h1.15M100.5 473.4h1.15M103.9 468.3h1.15M91 471h1.15M114.4 470.6h1.15M93.9 478.1h1.15M71.5 435.2h1.15M75.4 467.5h1.15M122.5 466.4h1.15M105.5 470.6h1.15M131.7 470.5h1.15M99.8 478.4h1.15M79.9 478.5h1.15M74 474.5h1.15M70.3 444.2h1.15M73.1 463.5h1.15M87 456.4h1.15M66.7 468.5h1.15M79.2 470.8h1.15M83.7 475.8h1.15M120 467.8h1.15M128.5 473.4h1.15M114.5 471.4h1.15M72.5 461.4h1.15M88.2 451.6h1.15M129.1 469h1.15M72.3 473.8h1.15M91.1 481.4h1.15M82.7 472.6h1.15M90.7 460.8h1.15M71.8 468.9h1.15M85.8 462.2h1.15M86.5 474h1.15M78.7 474.6h1.15M70.6 442.8h1.15M99.8 471.4h1.15M69 468.9h1.15M76.1 475.3h1.15M71.3 460.7h1.15M96 465.8h1.15M84.5 455h1.15M83.5 470.2h1.15M84.6 471.8h1.15M75.6 469.6h1.15M94.6 469.4h1.15M77.7 478.2h1.15M80 466.7h1.15M83.1 476.9h1.15M71.3 473.7h1.15M75.3 474.1h1.15M83.8 457.3h1.15M82.2 479.4h1.15M106.1 466.2h1.15M118.2 471.3h1.15M103 461.1h1.15M72.4 474h1.15M75.4 467.9h1.15M100.7 469.3h1.15M78.6 462.5h1.15M68.6 462h1.15M129.2 466.5h1.15M64.8 458.1h1.15M77.5 458.8h1.15M98.1 471.2h1.15M93.9 480.6h1.15M96.7 472.5h1.15M115 472.5h1.15M89.6 480.2h1.15M71.9 474h1.15M108 474.6h1.15M65.9 464.9h1.15M84.3 456.1h1.15M70.1 473h1.15M91.4 465.3h1.15" stroke="#9f101f" stroke-width="1.15"/>
<path d="M155.3 362.5H31.1M31.1 362.1V485.7H155.3" fill="none" stroke="#333" stroke-width="0.9"/>
<path d="M31.1 362.5h-2.6M31.1 370.2h-1.5M31.1 377.9h-1.5M31.1 385.6h-1.5M31.1 393.3h-3M31.1 401h-1.5M31.1 408.7h-1.5M31.1 416.4h-1.5M31.1 424.1h-3M31.1 431.8h-1.5M31.1 439.5h-1.5M31.1 447.2h-1.5M31.1 454.9h-3M31.1 462.6h-1.5M31.1 470.3h-1.5M31.1 478h-1.5M31.1 485.7h-2.6M31.1 485.7v1.5M38.9 485.7v1.5M46.6 485.7v1.5M54.4 485.7v1.5M62.2 485.7v3M69.9 485.7v1.5M77.7 485.7v1.5M85.4 485.7v1.5M93.2 485.7v3M101 485.7v1.5M108.7 485.7v1.5M116.5 485.7v1.5M124.2 485.7v3M132 485.7v1.5M139.8 485.7v1.5M147.5 485.7v1.5M155.3 485.7v1.5" stroke="#333" stroke-width="0.7"/>
<defs><linearGradient id="gCD34" x1="0" x2="0" y1="1" y2="0"><stop offset="0" stop-color="#1a1f6e"/><stop offset="0.1" stop-color="#1e2f8e"/><stop offset="0.22" stop-color="#2a5cc0"/><stop offset="0.36" stop-color="#3aa8dc"/><stop offset="0.46" stop-color="#5cc8c0"/><stop offset="0.56" stop-color="#9ed470"/><stop offset="0.67" stop-color="#f2e43a"/><stop offset="0.73" stop-color="#f6b030"/><stop offset="0.79" stop-color="#ef6a30"/><stop offset="0.85" stop-color="#e0302c"/><stop offset="0.94" stop-color="#c81e28"/><stop offset="1" stop-color="#7a0a1a"/></linearGradient></defs>
<rect x="155.3" y="362.5" width="4" height="123.2" fill="url(#gCD34)"/>
<path d="M155.5 362.5v123.2M159.2 362.5v123.2" stroke="#222" stroke-width="0.6"/>
<path d="M159.2 368h2.8M159.2 370.3h1.6M159.2 372.9h1.6M159.2 375.8h1.6M159.2 379.2h1.6M159.2 383.2h1.6M159.2 388.1h1.6M159.2 394.5h1.6M159.2 403.4h1.6M159.2 418.6h2.8M159.2 420.9h1.6M159.2 423.5h1.6M159.2 426.4h1.6M159.2 429.8h1.6M159.2 433.8h1.6M159.2 438.7h1.6M159.2 445.1h1.6M159.2 454h1.6M159.2 469.2h2.8M159.2 471.5h1.6M159.2 474.1h1.6M159.2 477h1.6M159.2 480.4h1.6M159.2 484.4h1.6" stroke="#222" stroke-width="0.75"/>
<text x="165.7" y="369.4" font-size="5.8" fill="#333">10<tspan font-size="3.6" dy="-2.4">5</tspan></text>
<text x="165.7" y="420.6" font-size="5.8" fill="#333">10<tspan font-size="3.6" dy="-2.4">4</tspan></text>
<text x="165.7" y="469.5" font-size="5.8" fill="#333">10<tspan font-size="3.6" dy="-2.4">3</tspan></text>
<text x="93.2" y="357.4" font-size="8.4" text-anchor="middle">CD34</text>
<text x="94.1" y="499.2" font-size="8.4" fill="#333" style="stroke-width:0.3px" text-anchor="middle" textLength="16" lengthAdjust="spacingAndGlyphs">UMAP</text>
<path d="M297.4 467h1.15M294.1 461.1h1.15M300.1 460h1.15M301.1 458h1.15M293 474.9h1.15M303.1 453.8h1.15M282.2 455h1.15M291.7 455.6h1.15M303.3 455h1.15M289.4 473.7h1.15M292.7 465.1h1.15M298.2 472.2h1.15M292.1 461h1.15M295.1 464.9h1.15M286.7 462.5h1.15M286.9 463.5h1.15M296.5 464.9h1.15M292.4 468.2h1.15M281.8 452h1.15M300.7 468h1.15M299.4 453.6h1.15M301 449.7h1.15M296.9 472.3h1.15M296.7 454.6h1.15M290.5 455.3h1.15M300.5 461.4h1.15M285.9 453h1.15M290.9 455.1h1.15M292 461.8h1.15M297 459h1.15M297 470h1.15M296.8 456.4h1.15M286.7 458.9h1.15M290 455.8h1.15M297.3 462.1h1.15M287.1 460.4h1.15M295.2 468.4h1.15M281.4 457.2h1.15M289.8 473.8h1.15M286.2 458.4h1.15M293.1 466.8h1.15M283.1 454.2h1.15M285.6 453.4h1.15M299.1 464.7h1.15M286.2 451.3h1.15M285.9 462.8h1.15M289.7 456.5h1.15M299.5 470.5h1.15M296 460.3h1.15M288.8 459.7h1.15M293.2 463.8h1.15M299.3 467.7h1.15M292.4 469h1.15M300.7 460.8h1.15" stroke="#172277" stroke-width="1.15"/>
<path d="M292.9 464.1h1.15M280.1 453.4h1.15M301.6 463.9h1.15M287.3 466.8h1.15M281.4 458.4h1.15M288.4 454.6h1.15M281.9 451.6h1.15M287.1 460.2h1.15M288 461h1.15M298.7 460.1h1.15M297.6 460h1.15M278.5 471.6h1.15M303.2 455.8h1.15M298.5 455.7h1.15M294.7 452.5h1.15M302.6 452.5h1.15M283.4 449.2h1.15M302 465.3h1.15M284.4 460.6h1.15M288.8 459.8h1.15M287.6 469.1h1.15M298.1 456h1.15M296.1 473.4h1.15M286.5 452h1.15M282.7 471.4h1.15M295.4 449.5h1.15M293.9 469.6h1.15M296.7 469h1.15M303.4 464.1h1.15M297.3 473.5h1.15M293.3 472.4h1.15M292.5 452.2h1.15M303.5 459.6h1.15M298.8 465.1h1.15M284.8 466.7h1.15M303.7 456.6h1.15M282.4 475.9h1.15M284.9 460.4h1.15M284.5 462.5h1.15M288.2 467.3h1.15M295.8 454.3h1.15M287.4 457.6h1.15M298.6 469.7h1.15M278.8 456.8h1.15M297.2 464.4h1.15M291.9 458.9h1.15M283.5 459.1h1.15M291.2 471.9h1.15M282.8 456.6h1.15M299.6 451.4h1.15M295.4 460.7h1.15M285.5 462.5h1.15M292.8 457.1h1.15M289.6 466h1.15M300.9 460.4h1.15M303.3 462.5h1.15M283.9 457.1h1.15M287.8 465.3h1.15M288 457.5h1.15M295.3 457.5h1.15M290.3 469.1h1.15M288.6 458.9h1.15M298.5 464.2h1.15M280.3 453.8h1.15M296.6 449.9h1.15M287.6 458.2h1.15M300.2 462.1h1.15M294.9 462.6h1.15M291.2 454.1h1.15M302.6 455.2h1.15M293.4 459.5h1.15M288.6 461.5h1.15M284.7 453.2h1.15M283.9 460.2h1.15M289.5 455.4h1.15M283.3 452.6h1.15M296 465.2h1.15" stroke="#1a2b89" stroke-width="1.15"/>
<path d="M232.8 430.1h1.15M235.9 429.6h1.15M235.3 427.8h1.15M236 433h1.15M280.1 456.5h1.15M288.1 457.6h1.15M289.1 468.5h1.15M287.5 450.5h1.15M289.2 472.1h1.15M287.9 473.7h1.15M282.4 457.5h1.15M301 465.8h1.15M298.6 472.1h1.15M300.5 450.2h1.15M298 455.4h1.15M294 470.9h1.15M279.4 459.7h1.15M292.6 455.3h1.15M278.4 473.2h1.15M291 452.6h1.15M290.1 459.6h1.15M301 451.4h1.15M290.1 466.4h1.15M298.7 450.4h1.15M299.3 470.5h1.15M287 470.3h1.15M299.9 463.3h1.15M290.6 454.4h1.15M289.9 461.5h1.15M294.4 470.7h1.15M285.8 466.4h1.15M291.9 449.4h1.15M299 448.7h1.15M288.3 467.8h1.15M282.5 468h1.15M291.2 471.8h1.15M284 468.9h1.15M298.2 464.1h1.15M294 474.5h1.15M279.8 455.4h1.15M296.7 457.5h1.15M283 453.4h1.15M288.8 471h1.15M296.2 455.2h1.15M289.2 475.6h1.15M286.7 466.3h1.15M290.2 458.2h1.15M281.1 454.3h1.15M286.4 455.4h1.15M278.8 474.9h1.15M287.4 471.7h1.15M290.8 473.2h1.15M300 451.6h1.15M280 456.5h1.15M299.6 454.1h1.15M301.4 453.7h1.15M278.1 461.4h1.15M295.9 449.7h1.15M283.9 457.2h1.15M283.6 458.6h1.15M291.6 466.2h1.15M286.7 455.4h1.15M303.5 461.7h1.15M286.9 456.7h1.15M299.3 456.1h1.15M282.3 461.5h1.15M300.5 462.6h1.15M302.7 458.7h1.15M283 454.8h1.15M283 456.4h1.15M278.7 461.9h1.15M294.9 465.9h1.15M300.3 464h1.15M293.4 458.4h1.15M283.6 464.3h1.15M290.2 465.4h1.15M287.6 474.8h1.15M281.3 457.2h1.15M296.2 472.8h1.15M280.7 473.6h1.15M289.6 454.5h1.15M295.2 474.9h1.15M297 454h1.15M282.5 472.1h1.15M294.7 459.7h1.15M285.4 469.9h1.15M283.3 448.3h1.15M296.3 450h1.15M297.4 462.8h1.15M292.8 466.5h1.15M300.3 459h1.15M285.8 471.3h1.15M295.4 466.1h1.15M281.6 462.8h1.15M301.4 464.3h1.15M283.9 457.1h1.15M283.6 465.8h1.15M296.5 449.9h1.15M285.6 475.8h1.15M299.4 449h1.15M290.3 468.5h1.15M294.9 459.9h1.15M302.5 450.8h1.15M300.9 460.7h1.15M285.3 454.3h1.15M287.9 475.8h1.15M281.7 463h1.15M293.4 451.8h1.15M284.9 468.4h1.15M287.4 450.9h1.15M296.3 458h1.15M278.4 473.1h1.15M296 451.1h1.15M302.9 451.3h1.15M285.3 469.1h1.15M292.5 459.3h1.15M286.1 463.6h1.15M286.3 455.9h1.15M296.4 474h1.15M293 450.8h1.15M281.6 453.5h1.15M289.7 472.2h1.15M285.8 459h1.15M288.2 466.4h1.15M282.3 459.9h1.15M283.4 453.9h1.15M290.5 452h1.15" stroke="#1c349b" stroke-width="1.15"/>
<path d="M234.2 421.7h1.15M230.8 424.8h1.15M231.6 427.4h1.15M232.6 428.1h1.15M294.1 463.5h1.15M297.3 470.9h1.15M279 465.5h1.15M283.1 476.3h1.15M300.6 450.3h1.15M300.7 449.9h1.15M280.5 456.6h1.15M280.7 459h1.15M276.3 470.6h1.15M296.5 448.8h1.15M285.5 475.4h1.15M279.2 452.1h1.15M288.1 447.2h1.15M282 470.6h1.15M301.5 451h1.15M299.9 452.2h1.15M274.9 474.7h1.15M281.8 461.1h1.15M285.3 467.4h1.15M288.5 455.5h1.15M271.4 472.2h1.15M277.1 461.7h1.15M278.3 464.8h1.15M281.1 476.2h1.15M289.5 461.6h1.15M290.9 472.6h1.15M287 447.2h1.15M279.6 475.2h1.15M294.1 463.6h1.15M296.1 450.6h1.15M298.2 463.7h1.15M292.9 472.6h1.15M274.4 458.9h1.15M288 453.9h1.15M234.9 435.3h1.15M279.9 466.1h1.15M287.6 467.8h1.15M286.9 455.3h1.15M280.6 453h1.15M298.4 453.7h1.15M274.7 472.3h1.15M272.9 476.1h1.15M295.1 466.5h1.15M274.7 470.4h1.15M279.1 461.1h1.15M282.1 475.8h1.15M291 461h1.15M281.3 471.3h1.15M286.9 458.5h1.15M288.6 460.3h1.15M280.3 463.7h1.15M289.9 466.3h1.15M288.2 465.7h1.15M283.3 456.2h1.15M291.1 450.5h1.15M280.4 459.8h1.15M284.8 466.1h1.15M283.3 455.3h1.15M284.4 465.2h1.15M298.2 453.7h1.15M286.2 461.6h1.15M285.5 463.2h1.15M293.5 452.5h1.15M288 451.3h1.15M291.7 465.3h1.15M292.5 473h1.15M302.6 452.5h1.15M282.4 457.7h1.15M287.1 448.7h1.15M291.3 462.7h1.15M285 456.4h1.15M295.7 464.5h1.15M287.3 458.7h1.15M291.5 448.6h1.15M296 455.7h1.15M301.8 449.6h1.15M276.8 474.5h1.15M296.4 459.8h1.15M275.5 462.4h1.15M289.2 459.1h1.15M278.3 472h1.15M279.1 464h1.15M286.4 473.6h1.15M287.9 464.1h1.15M289.4 453.4h1.15M300 450.5h1.15M294.8 462.5h1.15M300.8 456.2h1.15M286.8 461.7h1.15M286.1 465.5h1.15M284.2 454.2h1.15M282.7 449.9h1.15M282 452.1h1.15M284.8 465.2h1.15M294.6 463.2h1.15M288.3 465.7h1.15M286.1 475.5h1.15M277.9 466.4h1.15M285.5 470.7h1.15M301 462.2h1.15M282.6 468h1.15M299.6 454.2h1.15M288.1 464.1h1.15M298.2 462.9h1.15M290.2 471.3h1.15M284.8 460.5h1.15M286.1 455.4h1.15M292.2 465.1h1.15M289.7 448.7h1.15M285.6 461.5h1.15M285.7 472.4h1.15M281.2 470.4h1.15M283.5 466.4h1.15M284.8 450.9h1.15M299.3 449.4h1.15M284.9 471.3h1.15M282.6 472.9h1.15M291.7 469.7h1.15M288.2 456.4h1.15M284.2 473.2h1.15M286.9 475.3h1.15M285.1 449.9h1.15M279.1 456.6h1.15M288.8 451.5h1.15M282.6 472.5h1.15M298.8 450.6h1.15M281.4 469.7h1.15M275.6 474.6h1.15M276.9 472.7h1.15M292 462.6h1.15M286 457h1.15M281.6 454.8h1.15M288.1 450.3h1.15M276.5 451.6h1.15M289.3 459h1.15M294.6 473.1h1.15M285.7 457h1.15" stroke="#1f3eac" stroke-width="1.15"/>
<path d="M235.1 431.8h1.15M236.8 421.7h1.15M235.9 425.7h1.15M235.8 426.2h1.15M235.6 422.6h1.15M238.3 422.7h1.15M233.8 427.1h1.15M231.6 428.2h1.15M239.8 434h1.15M231 425h1.15M285.3 467.5h1.15M281.2 466.5h1.15M273.8 467.8h1.15M277.6 466.3h1.15M275.8 446.5h1.15M275.2 457.2h1.15M279.5 464.9h1.15M272.7 469.3h1.15M291.5 457.8h1.15M273.1 464.1h1.15M271.5 468.3h1.15M296 452.2h1.15M279.1 464.6h1.15M288.8 447.1h1.15M239.1 435.2h1.15M278.6 466h1.15M301.7 450.4h1.15M282.3 460.7h1.15M282.1 465.3h1.15M287.4 455.1h1.15M290.9 446.9h1.15M278.9 451.4h1.15M287.3 447.6h1.15M271.5 469.4h1.15M276.7 474.6h1.15M294.9 452.8h1.15M284.4 469.5h1.15M274.5 450.2h1.15M282.1 471.4h1.15M274.2 452.8h1.15M300.4 448.2h1.15M271.7 468h1.15M289.5 447.1h1.15M274.3 472.9h1.15M282 449.2h1.15M272.1 474h1.15M282.3 448h1.15M280.1 450.3h1.15M277.2 468.6h1.15M290.1 471.1h1.15M232.8 436.6h1.15M272.8 453.8h1.15M282.7 467.9h1.15M288.5 465.7h1.15M272.8 457.3h1.15M286.7 450h1.15M280.1 452.4h1.15M279.1 453.8h1.15M275.3 459.3h1.15M278.9 462.3h1.15M292 455.6h1.15M276.3 467.2h1.15M279.5 456.4h1.15M272.5 458.1h1.15M276.1 448.1h1.15M283.8 460.9h1.15M277.3 459h1.15M295.5 447.1h1.15M283.1 474.6h1.15M289.3 475h1.15M291.8 471h1.15M273.7 466.2h1.15M273.6 454.8h1.15M289.7 447.8h1.15M288.7 446.1h1.15M289.3 448.7h1.15M279.6 469.4h1.15M302.9 451.8h1.15M283.6 447.9h1.15M279.1 457.2h1.15M270.6 473.6h1.15M281.4 457.6h1.15M296.8 466.5h1.15M301.6 450.1h1.15M280.3 465.3h1.15M283.6 469.3h1.15M274.9 459.9h1.15M285.1 446.9h1.15M280.7 450.3h1.15M273.6 465.9h1.15M276.7 452.4h1.15M278.4 465.5h1.15M283.8 468.8h1.15M285.2 468.6h1.15M281.6 468h1.15M296.9 447.5h1.15M289.8 452.6h1.15M286.8 445.8h1.15M304.5 400.7h1.15" stroke="#244fb7" stroke-width="1.15"/>
<path d="M232.4 431.1h1.15M236.6 427.6h1.15M236.1 432.3h1.15M235.9 435.6h1.15M239.4 433.8h1.15M234.7 421.7h1.15M231.5 427.7h1.15M290.1 446.5h1.15M282.9 472.5h1.15M274 460.4h1.15M276.1 459.9h1.15M236.6 435.6h1.15M287.8 446.5h1.15M280.7 472.4h1.15M270.6 453.8h1.15M268.7 453.8h1.15M283.2 468.1h1.15M278.7 451.9h1.15M273.8 457h1.15M272.7 448.1h1.15M286.5 447.7h1.15M278.3 457h1.15M276.7 455.7h1.15M277.5 458.4h1.15M269 451.1h1.15M277.5 473.2h1.15M281.1 474h1.15M272.7 445.6h1.15M279.4 447.2h1.15M273.4 476.1h1.15M270.6 458.4h1.15M273.5 454.1h1.15M267.3 456.3h1.15M278.5 470.6h1.15M277.8 449h1.15M234.3 438.1h1.15M269.7 465.8h1.15M271.5 448.2h1.15M278.9 449.6h1.15M278.1 465.7h1.15M268.8 455.6h1.15M272.1 454h1.15M274.4 453.2h1.15M276.5 458.8h1.15M277.3 447.5h1.15M273.4 463.6h1.15M274 470.9h1.15M277.9 463.5h1.15M233.8 436.7h1.15M270 448.8h1.15M283.5 463.6h1.15M273.2 474.7h1.15M275.7 474.6h1.15M273.8 454.8h1.15M277.2 446.3h1.15M265.6 457.6h1.15M268.5 455.5h1.15M235 438.2h1.15M290.2 448.9h1.15M280.1 448.9h1.15M275.7 458.1h1.15M272.3 468.6h1.15M277.1 465.1h1.15M288.1 446.4h1.15M277.2 453.8h1.15M280.6 450h1.15M298.6 446.9h1.15M279.5 448.9h1.15M271.3 445.6h1.15M234.2 436.1h1.15M292.4 450.7h1.15M281 451.7h1.15M279 458.7h1.15M274.9 470.9h1.15M278.7 446.8h1.15M268.4 460.9h1.15M281.2 448.2h1.15M272.9 469.3h1.15M275.5 466h1.15M281.9 459.2h1.15M273.8 456.1h1.15M274.7 457.7h1.15M286.6 473.8h1.15M272.8 467.5h1.15M280.4 475.8h1.15M278.1 446.8h1.15M276.2 452.2h1.15M294.7 447.9h1.15M298.8 447.3h1.15M296.1 448.1h1.15M281.3 464h1.15M274.5 452.1h1.15M283.2 475.4h1.15M303 395.7h1.15M301.3 394.2h1.15M304.1 398.5h1.15" stroke="#2a5fc2" stroke-width="1.15"/>
<path d="M236.4 421.6h1.15M244.3 427.1h1.15M239.9 429h1.15M232.4 420.7h1.15M232.5 420.6h1.15M235.1 438.1h1.15M268.1 452.7h1.15M293.2 448.4h1.15M270.2 448.2h1.15M268.5 447.5h1.15M271.6 462.3h1.15M277.6 455.9h1.15M277 463.3h1.15M271.2 472h1.15M283.8 445.8h1.15M274 446.8h1.15M267.3 448.5h1.15M270.9 450.6h1.15M250 458.9h1.15M283.3 470.8h1.15M265.6 452.3h1.15M273.8 454.1h1.15M276.9 445.8h1.15M283.6 446.9h1.15M273.1 472.4h1.15M271.1 451.2h1.15M272.3 444.6h1.15M262.5 477.6h1.15M277.2 464.5h1.15M279.3 447.8h1.15M271.6 452h1.15M271.7 458.7h1.15M266.9 471.5h1.15M272.4 471.8h1.15M269.9 446.9h1.15M271.4 476.4h1.15M269.6 452.8h1.15M269 443.6h1.15M237.4 436.8h1.15M276.4 465.3h1.15M277.1 462.7h1.15M269.6 474.3h1.15M270 451.2h1.15M269 458.7h1.15M272.6 474.3h1.15M273.8 447.9h1.15M265.9 467.3h1.15M280.7 448.7h1.15M282.5 462.7h1.15M271.3 449.4h1.15M273.2 475.4h1.15M272 452.8h1.15M271.3 447.3h1.15M269.2 456.5h1.15M280.1 446.3h1.15M273.1 465h1.15M283 447.7h1.15M270.6 461.1h1.15M296 446h1.15M274.4 456.4h1.15M269.3 475.1h1.15M253 445.1h1.15M234.9 436.9h1.15M269.2 464.2h1.15M271.3 452.5h1.15M270.7 449.7h1.15M275.3 444.7h1.15M268.3 469.3h1.15M269.7 459.9h1.15M269.8 446.6h1.15M262.1 463.8h1.15M270.1 451.2h1.15M273.2 473.1h1.15M234.5 437.3h1.15M277.9 449.5h1.15M267.4 449.9h1.15M271 460.9h1.15M238.4 434.8h1.15M294.9 448h1.15M278.2 449.2h1.15M277.3 463.9h1.15M266.3 457.4h1.15M235.8 434.7h1.15M282.9 446.1h1.15M295.4 395h1.15M305.7 396.7h1.15M307 396.6h1.15M306.7 395.4h1.15M302.2 395.4h1.15M304 397.9h1.15M299.7 397.9h1.15M305.6 400.9h1.15M299.2 400.3h1.15" stroke="#2f70cd" stroke-width="1.15"/>
<path d="M241.7 434.4h1.15M245.5 424.7h1.15M241.1 420.9h1.15M239.3 423.3h1.15M248.8 431.8h1.15M238.6 429.6h1.15M241.8 430.7h1.15M241.5 432.1h1.15M237.1 421h1.15M242.3 425.8h1.15M242.8 429.9h1.15M240.9 422.7h1.15M236.1 457.1h1.15M270.1 445.7h1.15M235.8 450.8h1.15M271.3 451.2h1.15M268.4 446.3h1.15M281.8 444.8h1.15M284.3 445.2h1.15M289.1 445.9h1.15M268.1 473.4h1.15M269.5 446.9h1.15M269.2 453.1h1.15M268.1 467.6h1.15M296.1 445.6h1.15M282 468.7h1.15M272.9 457.5h1.15M295.2 445.2h1.15M273.1 470.6h1.15M238.6 434.7h1.15M267.3 452h1.15M268 470h1.15M268.9 446.2h1.15M262.8 476.5h1.15M296.6 445.5h1.15M267.7 464.9h1.15M254.7 465.9h1.15M234.8 438.8h1.15M268.7 457.4h1.15M267.4 469.5h1.15M273.1 448.1h1.15M263.4 477h1.15M295.9 446.7h1.15M268.8 468.9h1.15M270.1 470.1h1.15M274.9 446.8h1.15M270.2 445.6h1.15M275.7 453h1.15M246.5 449.1h1.15M241 437.5h1.15M274.4 458.2h1.15M270.3 460.8h1.15M269.1 470.9h1.15M235.3 436.3h1.15M264 448.2h1.15M240.5 437.3h1.15M273.7 443.8h1.15M247.5 444.7h1.15M266.9 475h1.15M267.1 459h1.15M265 479.4h1.15M282.8 446.4h1.15M262.7 462.1h1.15M271.8 448.1h1.15M268.4 458.7h1.15M252.2 455.1h1.15M270 465h1.15M266.2 455.6h1.15M274.3 444.8h1.15M265.4 476.6h1.15M268.4 442.7h1.15M255.3 468.6h1.15M278.9 449.1h1.15M261 476.1h1.15M273.7 461.6h1.15M266.9 470h1.15M233.5 438.5h1.15M266.3 450.4h1.15M276.1 473.6h1.15M262 455.1h1.15M240.8 435.7h1.15M257.2 457.9h1.15M267.3 456.7h1.15M269.6 470.7h1.15M260.1 464.3h1.15M259.6 460.3h1.15M274.1 454.7h1.15M266.7 469.6h1.15M276.5 450.1h1.15M256 470.4h1.15M273.9 457.3h1.15M268.9 471.6h1.15M270.5 461.1h1.15M270.7 454.5h1.15M269.9 444.5h1.15M246.2 463h1.15M271.8 461.5h1.15M289.9 445.2h1.15M264.8 461.1h1.15M272.9 443.5h1.15M306.3 396.5h1.15M300.6 395.6h1.15M304.1 397.1h1.15M297.6 394.9h1.15M301.5 395.1h1.15M298.8 394.3h1.15M309.8 395.8h1.15M308.4 397.5h1.15M294.2 398h1.15M303.3 398.8h1.15M292.5 397.6h1.15M305.8 398.7h1.15M300.3 399h1.15M298.4 399.2h1.15M306.4 400.2h1.15M298.6 403.1h1.15M295 402.3h1.15M291.1 403.5h1.15M294.7 402.3h1.15M295.7 402.7h1.15M295.1 402.1h1.15M292.2 400.9h1.15M299.4 401.6h1.15M300.6 401.9h1.15M290.8 400.9h1.15M293.9 401.2h1.15M294.9 400h1.15M297.3 399.4h1.15M298.1 401.2h1.15" stroke="#3583d4" stroke-width="1.15"/>
<path d="M261.3 386.7h1.15M241.9 432.4h1.15M247.3 430.8h1.15M280.1 399h1.15M239.3 425.4h1.15M243.4 425.8h1.15M255.3 388.7h1.15M240 420h1.15M238.1 422.9h1.15M268.4 412.6h1.15M239.6 427.4h1.15M265.3 392.7h1.15M243 423.5h1.15M244.4 428.3h1.15M236.4 419.9h1.15M259.6 429h1.15M241.8 428.3h1.15M250.7 431.5h1.15M253.8 448.1h1.15M267 441.6h1.15M268.6 450.6h1.15M247.2 454.4h1.15M233.3 451.3h1.15M255.8 465.6h1.15M258 476.7h1.15M249.4 461.1h1.15M258.4 453.4h1.15M268.6 456.4h1.15M264.8 473.2h1.15M251.9 477.5h1.15M252.1 468.9h1.15M268.6 456.8h1.15M256.9 468.2h1.15M268.3 471h1.15M257.3 472.2h1.15M259 460.6h1.15M250.1 473.1h1.15M271.6 461.8h1.15M261.5 478.1h1.15M263.3 470h1.15M280.1 446.2h1.15M251.9 437.4h1.15M263.8 477.3h1.15M253.6 467.4h1.15M267.5 443.3h1.15M238.8 464.7h1.15M250.1 433.2h1.15M249.6 446.2h1.15M263.9 454.9h1.15M267.2 451.6h1.15M251.8 477.5h1.15M265 459.3h1.15M249 450.9h1.15M233.2 445.4h1.15M241.5 447h1.15M261.3 454.3h1.15M270.1 466.6h1.15M252.9 446h1.15M266.5 450.8h1.15M264.2 460.1h1.15M259.4 473.6h1.15M258.2 437.3h1.15M262.5 444.4h1.15M235 456.1h1.15M270.2 463.6h1.15M266.1 448.3h1.15M265 464.1h1.15M269 459.8h1.15M262.6 450.4h1.15M252.4 455h1.15M265.7 451.2h1.15M249.9 480.4h1.15M246.7 440.8h1.15M236.8 444.9h1.15M250.4 458.2h1.15M252.2 445.5h1.15M263.2 478.1h1.15M271.8 449.9h1.15M237.9 441.7h1.15M260.5 455.7h1.15M256.2 467.3h1.15M240.9 452.9h1.15M264.9 471.3h1.15M262.9 443.7h1.15M247.9 453.7h1.15M264.5 477.4h1.15M245.2 454.9h1.15M253.9 455.6h1.15M251.1 477.6h1.15M261.6 468.8h1.15M254.1 474h1.15M261.2 460.1h1.15M266.5 477h1.15M267.9 459.8h1.15M259.1 435.4h1.15M244.2 449.1h1.15M272.6 461.8h1.15M267.1 453.1h1.15M289.4 445.1h1.15M243.7 443.9h1.15M241.7 457.4h1.15M265.7 439h1.15M259.8 454.3h1.15M250.3 468.8h1.15M257.5 479.7h1.15M270.2 443.1h1.15M263.6 465.8h1.15M266.6 464.9h1.15M270.3 456.6h1.15M259.9 453.1h1.15M266.3 439h1.15M242.4 457.1h1.15M260.8 457.8h1.15M273.5 444.4h1.15M276.5 453.6h1.15M256.2 472.7h1.15M265.1 452.4h1.15M252.6 459h1.15M258.9 455.5h1.15M247.7 441.7h1.15M277.4 443.8h1.15M232.4 454h1.15M250.4 478.1h1.15M239.5 472.8h1.15M254.6 464.3h1.15M265.2 468h1.15M269 470.1h1.15M245.5 436.5h1.15M268.5 471.4h1.15M247.7 452.7h1.15M253.4 458h1.15M263.3 458.1h1.15M244.5 449.4h1.15M266.8 469.7h1.15M248.3 442.8h1.15M256 481.2h1.15M267.2 454.4h1.15M263.3 454.3h1.15M269.5 443.3h1.15M256.5 462h1.15M266.7 473.5h1.15M268.1 468.2h1.15M264.6 456.6h1.15M253 460.6h1.15M262.6 453.9h1.15M257.8 470.8h1.15M267.8 457.5h1.15M257.6 460.5h1.15M271.4 476.9h1.15M251.1 458.2h1.15M245.4 455.6h1.15M265.7 471.2h1.15M261.5 480.6h1.15M245.8 436.7h1.15M269.9 473.6h1.15M249.5 466.1h1.15M260.5 480.9h1.15M260.9 452.6h1.15M257.4 456.9h1.15M307.9 397h1.15M310.2 396.9h1.15M290.8 393.9h1.15M296.8 394.1h1.15M289.1 394.2h1.15M291.1 392.8h1.15M299.3 394.5h1.15M295.3 395.2h1.15M290.8 395.3h1.15M293.1 398.1h1.15M306.1 397.5h1.15M292.8 398.1h1.15M293.8 397.9h1.15M297.5 397h1.15M303.6 398.5h1.15M302.8 400.4h1.15M302.1 398.6h1.15M286.2 396.5h1.15M297.6 399.4h1.15M294.5 397.8h1.15M292.2 397.3h1.15M302.3 402.6h1.15M295.6 401.8h1.15M298.8 402.7h1.15M299.7 402.5h1.15M299.6 402.1h1.15M305.9 399.1h1.15M299.1 402.1h1.15M300.9 403h1.15M297.3 403.6h1.15M304 400.1h1.15M298.3 401.1h1.15M299.8 399.5h1.15M293.4 401.3h1.15M299.7 401.3h1.15M294.5 400.8h1.15M292.6 400.2h1.15M297.6 402.5h1.15" stroke="#3c98d9" stroke-width="1.15"/>
<path d="M271.6 387.2h1.15M262.7 384.4h1.15M253.1 433.8h1.15M266.5 428.9h1.15M247.9 430.3h1.15M238.6 421.1h1.15M256.3 389.1h1.15M242.2 431.3h1.15M247.6 424.2h1.15M264.3 430.7h1.15M242.2 435.2h1.15M278.5 395.9h1.15M252.3 427.9h1.15M257.9 431.1h1.15M232.4 419.8h1.15M245.7 426h1.15M264.2 395.6h1.15M250.6 428.6h1.15M252.2 435h1.15M240.4 430.1h1.15M245.7 428.6h1.15M262.8 426.6h1.15M241.1 421h1.15M260.7 466.1h1.15M262.9 439.7h1.15M265.9 439h1.15M252.8 451.9h1.15M257.6 447.2h1.15M267 450.3h1.15M251.3 456.1h1.15M274.7 444.6h1.15M254.3 452.6h1.15M249.2 474.4h1.15M251.2 470.4h1.15M240.1 464.5h1.15M264 452.1h1.15M233.9 442.9h1.15M241.6 447.3h1.15M263.7 473.1h1.15M243.3 446.5h1.15M291.7 444.3h1.15M257.5 442.4h1.15M247.5 453.6h1.15M263.3 465.3h1.15M245.5 455.5h1.15M270.6 442.8h1.15M265.1 460.5h1.15M241.3 446.9h1.15M246.6 463.8h1.15M255.2 461.6h1.15M256.1 438.3h1.15M260.3 456.8h1.15M261.7 438.1h1.15M263.2 443.3h1.15M234.9 454.2h1.15M241 455.4h1.15M233 439.5h1.15M263.3 445.9h1.15M251.6 463.8h1.15M244.5 444.8h1.15M265.2 467.3h1.15M239.4 455.5h1.15M235 441.5h1.15M262.4 450.5h1.15M244.1 439.7h1.15M248 474h1.15M253.6 445.2h1.15M263.2 450.8h1.15M251 451.8h1.15M290.1 444.3h1.15M261.5 479.2h1.15M249 447.1h1.15M262.3 473.4h1.15M249.7 460.6h1.15M232.9 447.9h1.15M269.9 462h1.15M255.3 461h1.15M267.4 478.4h1.15M255.6 439.7h1.15M247.5 478.5h1.15M254.4 465.8h1.15M237.9 444.2h1.15M294 444.7h1.15M264 455.2h1.15M259.2 477.5h1.15M239.1 448.6h1.15M248.5 473.7h1.15M257 469.7h1.15M270.4 461.6h1.15M238.8 449.2h1.15M250 457.5h1.15M258.3 437.9h1.15M244.8 444.4h1.15M253.8 458h1.15M241.5 475.8h1.15M245.4 467.2h1.15M260.5 479.4h1.15M256.6 479.8h1.15M261.6 478.9h1.15M251 443.8h1.15M246.7 459.5h1.15M247 437.3h1.15M248.3 449h1.15M250.2 461h1.15M243.1 445h1.15M241.3 442.6h1.15M255.8 451.6h1.15M256.1 465.7h1.15M247.1 472.7h1.15M249.7 446.4h1.15M262.8 444h1.15M256.4 434.3h1.15M253 474.1h1.15M260.8 438.3h1.15M255.6 478.2h1.15M239.3 438.9h1.15M235.1 438.1h1.15M254.1 461.8h1.15M240.8 449.1h1.15M247.8 433.2h1.15M233.2 452.6h1.15M258.3 460.8h1.15M245.2 452.4h1.15M250.2 472h1.15M250.8 470.6h1.15M232.1 444.4h1.15M254.9 475.7h1.15M256.4 449.3h1.15M253.6 458.7h1.15M250.6 444.1h1.15M280.3 443.6h1.15M237.4 449.3h1.15M249.2 461.2h1.15M262.3 458.7h1.15M256.9 456.8h1.15M236.6 468.9h1.15M258.4 445.6h1.15M237.3 451.2h1.15M240.4 442.7h1.15M240.1 443h1.15M239.5 444.4h1.15M233.3 457.1h1.15M257.4 444.6h1.15M243.4 450.1h1.15M232 449.5h1.15M246.1 462.9h1.15M253.9 436.2h1.15M269.4 441.1h1.15M259.5 459.3h1.15M285.2 445.2h1.15M236.3 448.2h1.15M241.8 475.8h1.15M262.2 469.4h1.15M263.2 452.7h1.15M245.6 438.6h1.15M270.3 445.9h1.15M264.7 459.6h1.15M251.8 473.1h1.15M269.5 472.5h1.15M240 455.4h1.15M256.8 446.1h1.15M246.3 433.6h1.15M247.6 466.7h1.15M250.7 476.9h1.15M260.3 471.4h1.15M232.8 455h1.15M248.1 438.6h1.15M261.4 461.5h1.15M238.5 458.7h1.15M256 457.5h1.15M260.1 452.8h1.15M248 455.9h1.15M248.6 461.6h1.15M256.8 468.6h1.15M246.7 443.5h1.15M250.2 472.8h1.15M249.8 479.4h1.15M264.2 438.6h1.15M254.2 452.9h1.15M251.2 462.1h1.15M257.8 476.8h1.15M238.4 438.1h1.15M247.8 477.3h1.15M266.2 442.5h1.15M251.8 457.6h1.15M268.5 466.1h1.15M254.4 449.5h1.15M267.2 446.6h1.15M258.6 466.6h1.15M252.2 453h1.15M244.8 443.9h1.15M252 442.5h1.15M246.1 434.1h1.15M256 451.5h1.15M247.8 447.4h1.15M264.7 473.9h1.15M279.8 444.6h1.15M262.6 464.5h1.15M261 436.6h1.15M259.3 467.2h1.15M252 440.6h1.15M241.3 454.7h1.15M256.3 473.9h1.15M261.1 456.6h1.15M245.7 455.6h1.15M256.1 478h1.15M233.2 443.8h1.15M246.7 444.6h1.15M245.6 463.1h1.15M247.9 435.9h1.15M259 458.2h1.15M233.1 438.4h1.15M236 458.7h1.15M251.3 446.2h1.15M258.7 443.4h1.15M248 440.5h1.15M241.4 462.2h1.15M266.2 459.8h1.15M266.1 456h1.15M258.9 465.3h1.15M259 476.5h1.15M263.1 461.9h1.15M234.3 459h1.15M261.5 474h1.15M259.3 456.7h1.15M245.1 458.8h1.15M255.3 445h1.15M266.9 441.3h1.15M253.6 456.1h1.15M264.3 472.5h1.15M250.1 457h1.15M264.1 439.9h1.15M263.3 457.3h1.15M246.5 439h1.15M252.3 473.3h1.15M233.5 464.9h1.15M235 442.9h1.15M271.4 462.5h1.15M245.2 455.6h1.15M254.7 457.8h1.15M254.7 469.4h1.15M244.1 446.4h1.15M259 465.3h1.15M259.3 452.1h1.15M262.7 461.7h1.15M285.9 444.7h1.15M291 393.5h1.15M302 396h1.15M299.1 394.4h1.15M294.5 394.3h1.15M284.7 391.8h1.15M282.9 392.3h1.15M292.9 393.4h1.15M290.8 393.2h1.15M296.1 396.2h1.15M292 393.3h1.15M299.5 395.9h1.15M306.5 398.6h1.15M303.2 400h1.15M298.1 397.6h1.15M295.4 399.1h1.15M294.8 399.3h1.15M298.8 399.9h1.15M297.7 397.8h1.15M290.6 398h1.15M298.9 398.1h1.15M306.7 398.3h1.15M292.9 402.2h1.15M299.9 401.7h1.15M301.2 402.6h1.15M291.7 404h1.15M296.5 402.6h1.15M300.3 402.3h1.15M300.6 401.1h1.15M298.1 403.8h1.15M299.4 401.6h1.15M299.1 401.2h1.15M290.6 400.1h1.15M297 402.1h1.15M291.8 401.8h1.15M286.7 399h1.15M297.1 400.3h1.15M293.7 401.5h1.15M287.2 398.7h1.15M291.3 400.4h1.15M291.8 401.5h1.15M293.7 400.6h1.15" stroke="#42adde" stroke-width="1.15"/>
<path d="M261.9 385.8h1.15M275.5 388.7h1.15M275.3 387.6h1.15M268.1 376.9h1.15M264.1 379h1.15M257.4 385.6h1.15M262.8 383.3h1.15M256.8 385.9h1.15M271.9 383.9h1.15M258.7 382.3h1.15M273.8 387.5h1.15M273.1 384.1h1.15M264.1 411.2h1.15M270.3 397.8h1.15M241.3 421.4h1.15M247.1 424.7h1.15M273 398.8h1.15M264.4 387.7h1.15M250.4 434.2h1.15M270.2 411.4h1.15M269.7 393.6h1.15M260.8 427.4h1.15M248.2 431.5h1.15M278.7 399.4h1.15M256 428.2h1.15M267.3 392.8h1.15M239.4 419h1.15M240.4 417.5h1.15M279.2 400.3h1.15M263.5 416.9h1.15M250 430.8h1.15M262.4 426.4h1.15M240.2 427.2h1.15M267.6 417.3h1.15M265.7 429.7h1.15M268.5 404.9h1.15M274.1 396.9h1.15M253.5 429.7h1.15M281.9 397.4h1.15M258.6 431.1h1.15M238.9 419.9h1.15M249.7 432.6h1.15M248.3 435.5h1.15M245.2 432.1h1.15M267.7 429.4h1.15M232.4 420.3h1.15M277.8 393.8h1.15M244.1 423.1h1.15M240 425.5h1.15M262.6 425.6h1.15M249.2 428.5h1.15M259.6 431.1h1.15M244 422.6h1.15M270.3 391.2h1.15M241.2 416.8h1.15M266.2 431.3h1.15M279.6 391.8h1.15M264 427.6h1.15M256.5 428.2h1.15M250.6 433.8h1.15M254.2 426.6h1.15M238.3 419.3h1.15M265.8 427.5h1.15M258.1 390.2h1.15M249.4 439.7h1.15M262.7 440.2h1.15M243.1 462.9h1.15M268.6 440.3h1.15M247.9 451.7h1.15M236.9 458.9h1.15M239 456.9h1.15M266.7 438.3h1.15M255 434.7h1.15M256.9 466.4h1.15M258.3 467.3h1.15M251.8 480.4h1.15M259.3 465.2h1.15M257.3 475.3h1.15M246 457.7h1.15M266.6 468.2h1.15M257.7 469.4h1.15M248.7 470.8h1.15M263.5 452.9h1.15M254.5 480.2h1.15M262.6 441.5h1.15M263.5 451.7h1.15M259.2 432.5h1.15M246.3 474.3h1.15M255 433.8h1.15M255.3 463.9h1.15M259 433.9h1.15M248.3 462.9h1.15M250.6 469.3h1.15M238.4 454.9h1.15M238.6 436.5h1.15M260.8 440h1.15M258.8 468.3h1.15M258.1 454.2h1.15M263.5 473.1h1.15M233.7 448.7h1.15M246.1 467.8h1.15M238.6 445.7h1.15M245 460.6h1.15M246.2 433.9h1.15M236.5 463.8h1.15M249.7 436.2h1.15M258.6 471h1.15M255.6 437.4h1.15M244.7 452.1h1.15M233.4 453.9h1.15M240.2 468.2h1.15M258.4 440.9h1.15M251.7 439.6h1.15M253.7 461h1.15M238.4 441.6h1.15M250 443.9h1.15M254.3 450.2h1.15M245.6 467.1h1.15M241 438.7h1.15M263.9 471.3h1.15M237.3 454.4h1.15M261.6 474.1h1.15M256 432.6h1.15M255.7 458.9h1.15M248.2 466.9h1.15M244.4 459.6h1.15M260.4 459.1h1.15M241.6 474.5h1.15M239.5 449.3h1.15M237.1 469.3h1.15M234.1 448.9h1.15M249.3 471h1.15M250.5 437.1h1.15M240.7 463.5h1.15M258.8 473h1.15M258.9 452.5h1.15M257.1 452.7h1.15M235.7 439.9h1.15M263.9 443.5h1.15M245.2 441h1.15M253.4 467.8h1.15M246.8 470.8h1.15M254.2 449h1.15M242.5 436.8h1.15M232.8 448.3h1.15M255 441.8h1.15M245.7 463h1.15M240.3 439.4h1.15M240.3 474h1.15M261.4 469.2h1.15M265.8 472.2h1.15M253.5 459h1.15M233.7 456.2h1.15M232.1 452.7h1.15M242.3 457.4h1.15M254.4 438.1h1.15M262 433.7h1.15M253.6 468.1h1.15M243.9 449h1.15M262.5 452.9h1.15M260.3 454.2h1.15M240.1 461.4h1.15M264.9 439.2h1.15M249.8 478h1.15M263.5 472.3h1.15M253.9 462.6h1.15M251.7 470.7h1.15M243.8 441.5h1.15M266.1 451.6h1.15M259.3 445.4h1.15M257.7 466.6h1.15M252 449.1h1.15M235.1 440.1h1.15M239.1 441.8h1.15M257 441.2h1.15M268.6 440.9h1.15M233.2 447.7h1.15M241.5 440.2h1.15M240.3 444.6h1.15M254.7 439.2h1.15M256.3 447.9h1.15M261.4 459.6h1.15M232.6 443.7h1.15M243.1 458.1h1.15M251.9 479.5h1.15M258 475.6h1.15M237.3 460.2h1.15M255 444.9h1.15M264.1 435.9h1.15M234.7 455.1h1.15M251.4 468.5h1.15M257 461.6h1.15M256.2 477h1.15M255.6 447.1h1.15M258.7 481.4h1.15M272.2 449.8h1.15M242.2 435.9h1.15M254.6 455.5h1.15M239.4 468.9h1.15M265.9 465.9h1.15M255.5 443h1.15M234.5 453.4h1.15M233.8 458h1.15M242 433.7h1.15M232.2 452.7h1.15M263.2 438.3h1.15M258.2 432h1.15M255.2 452.5h1.15M250.6 460.4h1.15M249.3 439.3h1.15M238.2 442.8h1.15M257.6 433.3h1.15M265.7 458.4h1.15M254 437.2h1.15M244.2 454h1.15M267.4 471.4h1.15M246.7 450.3h1.15M258.8 463.8h1.15M251.4 456.1h1.15M237.3 452.5h1.15M265.6 437.3h1.15M250.8 477.6h1.15M245.2 445.8h1.15M241.2 462.2h1.15M254.5 461.7h1.15M238.2 454.9h1.15M255.4 464.8h1.15M233.5 449.4h1.15M250.2 452.3h1.15M257.9 435.8h1.15M257.6 466h1.15M250.5 443h1.15M255.4 432.4h1.15M258 455.4h1.15M244.7 448.7h1.15M255.3 474.5h1.15M257.7 451.2h1.15M251.8 458h1.15M235.1 464.2h1.15M242.4 444.9h1.15M263 447.7h1.15M262.7 436.3h1.15M249.5 441.1h1.15M242.2 465.8h1.15M268.8 444.5h1.15M262.4 439.2h1.15M237.6 456.1h1.15M246.5 441.2h1.15M248.6 463.4h1.15M233.4 440.1h1.15M247.5 452.1h1.15M257.3 436.8h1.15M253.6 474.9h1.15M236.5 442.2h1.15M242.9 474.1h1.15M251.4 457.3h1.15M245 441.2h1.15M251.8 462.6h1.15M258.3 479.1h1.15M240.8 449.7h1.15M237.9 455.3h1.15M268.6 444.8h1.15M292.1 444.3h1.15M260.7 456.7h1.15M250.6 473.8h1.15M232.2 445.1h1.15M256.3 438.3h1.15M250.5 479.3h1.15M260.4 454.6h1.15M240 474h1.15M240.7 448.3h1.15M280.3 443.5h1.15M242.2 471.9h1.15M261.8 449.3h1.15M258.4 432.3h1.15M244.6 455.6h1.15M234.7 459.3h1.15M242 450.9h1.15M240.9 457.5h1.15M259.7 440.3h1.15M240 460.2h1.15M262 465.1h1.15M246.9 439.2h1.15M244.8 435.7h1.15M259.1 459.9h1.15M238.3 452.8h1.15M246.2 462.5h1.15M237.8 457.9h1.15M254.3 473h1.15M234.9 463.5h1.15M256.3 452.8h1.15M246.1 471.1h1.15M236.2 462h1.15M266.6 442.8h1.15M240.6 444h1.15M241.2 446.1h1.15M240.8 459.7h1.15M250.9 445h1.15M263 449.7h1.15M263.1 445.6h1.15M233.2 459.4h1.15M254.9 477.6h1.15M233.9 444.2h1.15M251.3 460h1.15M237.9 464.5h1.15M258.7 478.9h1.15M239.9 447.3h1.15M241.9 440.2h1.15M254.2 467.9h1.15M262.2 471.7h1.15M247.6 444.4h1.15M254.2 444.4h1.15M260.5 473.4h1.15M253.5 452.1h1.15M256.7 453.4h1.15M257.4 471.1h1.15M253.7 448.3h1.15M265 479.1h1.15M239 465.9h1.15M235.9 448.5h1.15M242.7 451.8h1.15M250.2 433.6h1.15M262.1 480.2h1.15M251.3 434.3h1.15M236.7 458.9h1.15M239.5 474h1.15M251.9 456.1h1.15M259.7 472.7h1.15M264 458.5h1.15M246 469.3h1.15M258.7 466.8h1.15M258.2 440.2h1.15M249.4 448.5h1.15M244.9 454.8h1.15M291.6 393.6h1.15M293 395.3h1.15M288.5 392.9h1.15M292.4 399.1h1.15M289.4 397.7h1.15M294.8 397.4h1.15M291.7 397.8h1.15M300.1 399.8h1.15M292.2 398.4h1.15M291.9 402.6h1.15M293.5 402.7h1.15M293.9 403.1h1.15M296.2 403.4h1.15M296.2 402.7h1.15M290.9 404h1.15M294.9 400.7h1.15M299.9 401.4h1.15M291.8 401.1h1.15M299.6 402.8h1.15M299.7 400.9h1.15M296.2 400.8h1.15M289.1 400.3h1.15" stroke="#4ebcd7" stroke-width="1.15"/>
<path d="M269.4 374.5h1.15M261.5 384h1.15M267.8 382.5h1.15M263.8 378.6h1.15M263.9 373.8h1.15M266.6 385.9h1.15M256.5 385.9h1.15M261.9 385.6h1.15M268.2 374.9h1.15M262 381.6h1.15M267.2 374.8h1.15M267.1 388h1.15M267.8 387.4h1.15M267.4 381.2h1.15M264.9 386.1h1.15M260.6 383.7h1.15M261.9 376.7h1.15M261.7 382.6h1.15M262.9 387.1h1.15M269.6 386.6h1.15M261.5 391h1.15M281.5 395.9h1.15M255 432.2h1.15M260.5 410.9h1.15M267.4 415.6h1.15M266.3 426.6h1.15M264.5 401.8h1.15M272.7 395h1.15M258.5 425.8h1.15M263.2 389.2h1.15M256.6 390.1h1.15M272 397.1h1.15M263.6 399.8h1.15M269.4 402h1.15M271.6 396.4h1.15M267.9 392.7h1.15M281 415.8h1.15M271.3 404.3h1.15M262.1 396.5h1.15M249.4 427h1.15M265.5 407.9h1.15M251.5 427.9h1.15M264.4 387.3h1.15M249.8 424.2h1.15M270.1 396.7h1.15M259.6 430.1h1.15M258 391.5h1.15M269.9 397.7h1.15M268.5 393.6h1.15M272.3 424.2h1.15M276.2 399.7h1.15M260.9 433.8h1.15M262.8 392.8h1.15M265.4 407.5h1.15M251 425.1h1.15M281.5 392.8h1.15M259.8 395.5h1.15M248.3 430.4h1.15M258.2 426.1h1.15M275.2 391.1h1.15M272.7 397.8h1.15M261 409.8h1.15M260.2 427.5h1.15M269.8 423h1.15M264.6 402.7h1.15M256.7 433.5h1.15M244.7 431.9h1.15M270.8 391.4h1.15M264.5 400.2h1.15M263.2 391.3h1.15M245.6 431.2h1.15M250 434h1.15M263.1 388.2h1.15M243.7 430.1h1.15M258.8 425.7h1.15M266.7 420.4h1.15M258.2 409.9h1.15M259 432h1.15M271.7 406.9h1.15M269.3 426.6h1.15M242.7 431.1h1.15M256.7 426.7h1.15M275.4 398.7h1.15M262.2 405.7h1.15M272.2 420.3h1.15M277.3 401.8h1.15M274.8 397.9h1.15M251.1 432.5h1.15M261.3 398.6h1.15M267.4 397h1.15M267.6 420.4h1.15M261.4 411.1h1.15M269.7 414.2h1.15M271.9 416.1h1.15M254.9 386.4h1.15M264.6 404.6h1.15M260.5 406.7h1.15M256 437.1h1.15M246.1 436.3h1.15M256 445.2h1.15M238.4 467.9h1.15M266.6 448.7h1.15M249.8 477.8h1.15M257.8 433.6h1.15M252.1 477.6h1.15M258.6 469.7h1.15M240.7 442.5h1.15M258.6 474.6h1.15M246.9 475.4h1.15M252.3 436.2h1.15M256.2 452.7h1.15M265.9 441.8h1.15M266.7 462.5h1.15M248 442.8h1.15M239.1 452.4h1.15M247.8 474.9h1.15M259.8 439.4h1.15M258.6 455.8h1.15M250 436.3h1.15M267.1 444.4h1.15M253.5 454.8h1.15M234.5 469.5h1.15M260.1 447.5h1.15M249.5 459.6h1.15M258.4 475.6h1.15M263.6 469.8h1.15M249 459.8h1.15M261.8 433.7h1.15M233.2 450.6h1.15M247.9 436h1.15M267.6 441.2h1.15M240.1 457.2h1.15M250.4 472.3h1.15M256.1 437.1h1.15M243 467.5h1.15M255.5 474h1.15M243 458.7h1.15M239.2 448.5h1.15M233.1 455.8h1.15M255.1 462h1.15M239.2 468.2h1.15M256.8 471.8h1.15M238.9 446h1.15M241 451.1h1.15M243.1 453.4h1.15M247.2 469.2h1.15M236.8 457.7h1.15M254.6 456.4h1.15M256.7 470.7h1.15M232.8 454h1.15M248.6 466.9h1.15M250.5 464.9h1.15M263.8 468.3h1.15M244.3 468.2h1.15M240.3 469.2h1.15M251.3 475.8h1.15M254.1 432.7h1.15M247.1 437.8h1.15M249 458.5h1.15M234.8 445.6h1.15M241 442.8h1.15M259.5 471.8h1.15M251.7 433.4h1.15M233 448.3h1.15M263 459.8h1.15M257.9 451.4h1.15M255.2 434.9h1.15M249.2 444.6h1.15M248.7 471.5h1.15M236.8 472h1.15M261.4 462.9h1.15M265 458.1h1.15M249.7 440.1h1.15M244.4 444h1.15M242.2 461.8h1.15M255 452.2h1.15M242.9 473.2h1.15M265 472.2h1.15M251.6 475.8h1.15M253.8 468.2h1.15M256.8 480.3h1.15M265.2 446.2h1.15M232.3 449.5h1.15M236.4 458.9h1.15M248.9 467.1h1.15M233.6 458.6h1.15M258.1 432.9h1.15M246.9 435.7h1.15M243.5 451.9h1.15M239.2 463h1.15M249.7 466.2h1.15M253.4 462.2h1.15M239.9 467.9h1.15M255.2 448.9h1.15M254.3 438.1h1.15M246.7 467.7h1.15M248.2 459.9h1.15M260.3 445.3h1.15M244.2 445.1h1.15M250.5 450.9h1.15M257.8 448h1.15M246.6 472.6h1.15M240.3 447.8h1.15M259.3 478.3h1.15M259.3 437h1.15M241.6 445.8h1.15M248.5 470.7h1.15M247.8 467.1h1.15M252.1 449.4h1.15M254.8 468.8h1.15M260.6 451.1h1.15M252.3 477.4h1.15M247 471.4h1.15M243.7 475.3h1.15M242.7 455.8h1.15M239.4 454.6h1.15M240.8 471.2h1.15M250.9 474.9h1.15M258.4 453.5h1.15M250.3 457.2h1.15M234.1 463.7h1.15M252.1 455h1.15M234.4 454.4h1.15M236.4 459.6h1.15M251.7 452.8h1.15M243.2 456h1.15M251.1 470.2h1.15M254.2 474.2h1.15M243.2 474.3h1.15M252.2 471.8h1.15M251.7 478.1h1.15M243.2 469.6h1.15M252.1 479.2h1.15M239.9 439.3h1.15M245.1 441.1h1.15M238.4 450h1.15M258.7 450.4h1.15M247 438.4h1.15M253 460.6h1.15M246.9 464.1h1.15M240 457.7h1.15M236.4 452.6h1.15M244 473.5h1.15M243.4 447.5h1.15M251.2 459.4h1.15M237.1 472.5h1.15M265.5 435.8h1.15M258.6 454.3h1.15M249.2 455.5h1.15M254.6 458.8h1.15M259.7 480.3h1.15M251.6 441.1h1.15M236.6 444.4h1.15M239.3 471.6h1.15M258.9 475.4h1.15M244.4 477.5h1.15M243 467.9h1.15M250.4 469.8h1.15M232.8 462.9h1.15M249.4 459.9h1.15M236.3 440.9h1.15M241.6 453.5h1.15M239.4 469.3h1.15M254.5 465.1h1.15M266.9 438.9h1.15M253.3 467.2h1.15M241.9 477.1h1.15M236.2 463.2h1.15M240.2 472.7h1.15M258.4 458h1.15M256.1 464.2h1.15M244.4 456h1.15M235.8 445.4h1.15M258 468h1.15M255.5 472.2h1.15M259.3 449.4h1.15M264 463.7h1.15M252.7 450.5h1.15M235 460.7h1.15M261.3 434.8h1.15M238.2 449.4h1.15M252.3 460.6h1.15M247.8 443.4h1.15M264.8 442h1.15M238.4 451.5h1.15M245.9 473.8h1.15M250.8 444.4h1.15M243.6 463.5h1.15M247.7 433.4h1.15M241.7 440.6h1.15M243.6 468.4h1.15M257.2 480.2h1.15M239.4 450.1h1.15M245 453.1h1.15M253.7 476.2h1.15M240.3 464.6h1.15M264.7 439h1.15M237.7 473h1.15M254.7 435.8h1.15M241.2 476.5h1.15M258.4 468.5h1.15M257 462.5h1.15M242.8 469.9h1.15M235.3 460.2h1.15M243.4 474.1h1.15M255.5 457.9h1.15M248.9 453.2h1.15M235.9 449.3h1.15M286.9 392.1h1.15M284 392.4h1.15M286.8 395.8h1.15M284.9 397h1.15M289.3 403h1.15M292.7 401.3h1.15M285.9 399.4h1.15M286 399.9h1.15M287.7 401.2h1.15M291.4 400.1h1.15M286.2 398.9h1.15" stroke="#5fc3c0" stroke-width="1.15"/>
<path d="M268.7 386.9h1.15M259.4 381.9h1.15M259.7 386.8h1.15M264.7 377.4h1.15M269.2 384.6h1.15M268.7 388.4h1.15M267.1 378.5h1.15M271.1 384.1h1.15M270.9 388.6h1.15M268 373.8h1.15M271.7 382.7h1.15M270.5 388.2h1.15M272.6 387.4h1.15M275.7 387.9h1.15M267.2 380.9h1.15M268.6 379.8h1.15M278 388.7h1.15M261 385.4h1.15M268.4 388.2h1.15M260.6 386.2h1.15M261.6 379.8h1.15M263.4 376.2h1.15M272.3 387.1h1.15M257.6 384.2h1.15M272.7 381.8h1.15M257.9 385.5h1.15M266.4 385h1.15M260.2 384.9h1.15M259.8 384.2h1.15M264.9 379.3h1.15M264.8 372.7h1.15M274.2 384.6h1.15M269 383.7h1.15M264.8 379.3h1.15M268.7 384.4h1.15M274.8 380.9h1.15M276.4 388.4h1.15M262.2 387.3h1.15M261.8 379.9h1.15M272.3 387.5h1.15M270.8 386.8h1.15M263.8 373.8h1.15M271.6 393.5h1.15M271.8 388.6h1.15M259.1 410h1.15M274.5 391.9h1.15M268.1 397.4h1.15M260.7 406.4h1.15M263.7 418.1h1.15M262.9 409.5h1.15M276.8 421.3h1.15M263.8 405.6h1.15M256.6 407.7h1.15M264 430.5h1.15M261.3 427.1h1.15M260.2 389h1.15M260.2 410.3h1.15M254.1 425.5h1.15M264 405.2h1.15M275.9 400.4h1.15M259.2 434.3h1.15M278 391.6h1.15M250.5 422h1.15M252 434.8h1.15M259.8 395.3h1.15M272.6 396.8h1.15M267.3 407.5h1.15M271.8 426.5h1.15M268.7 396.6h1.15M251.5 412.8h1.15M259.1 410h1.15M270.9 391.8h1.15M260.4 405.7h1.15M263.3 401.8h1.15M268.4 399.2h1.15M270.3 407.2h1.15M234.3 418.7h1.15M261.3 396.6h1.15M255.8 429.6h1.15M262.5 421.6h1.15M276.2 390.4h1.15M283.1 416.5h1.15M265.8 388.4h1.15M246.7 420.1h1.15M271 426.6h1.15M262.6 404.9h1.15M258.3 402.8h1.15M273.2 412.8h1.15M250.8 424.8h1.15M255.1 429.9h1.15M271.9 394.8h1.15M249 423.5h1.15M270.3 401.2h1.15M266.4 422.1h1.15M276.4 396.1h1.15M267.7 401.6h1.15M254 432.6h1.15M275.2 417.7h1.15M259.5 389.1h1.15M282.2 421.8h1.15M271.3 400.5h1.15M274.3 403.5h1.15M270.2 400.4h1.15M260.8 408.7h1.15M271.3 407.3h1.15M270.4 402.8h1.15M260.7 395.8h1.15M251.7 418.9h1.15M270.4 412.9h1.15M275.8 424.6h1.15M272.3 409.1h1.15M261.5 405.1h1.15M263.4 400.5h1.15M270 419.4h1.15M280 390.9h1.15M270.3 389.2h1.15M258.5 429.7h1.15M280.5 395.3h1.15M265.3 407.9h1.15M269.4 391.8h1.15M263.8 420.2h1.15M260.6 398.8h1.15M265.3 425.3h1.15M244 415.4h1.15M249.2 435.7h1.15M274.8 417.4h1.15M250.3 391.8h1.15M274.4 390.3h1.15M265 406.5h1.15M256.9 395.8h1.15M270.7 421.4h1.15M252.9 425.3h1.15M277.3 419.9h1.15M268.7 428.2h1.15M265.8 407.7h1.15M266.7 398.8h1.15M252 433.1h1.15M256.1 434.7h1.15M260.8 419.5h1.15M252.9 423.4h1.15M263 419.2h1.15M277.8 402.4h1.15M280 400.6h1.15M249.2 413.7h1.15M267.4 422.1h1.15M273 421.9h1.15M273 417h1.15M258.8 457.3h1.15M251.8 456.9h1.15M251.5 435h1.15M256.1 437.4h1.15M245.1 439.8h1.15M233.3 465.4h1.15M257.6 448.6h1.15M239.1 473.5h1.15M260.2 469.4h1.15M258.8 452.4h1.15M239.8 462.7h1.15M259.5 445h1.15M240.2 461.7h1.15M259.1 446.7h1.15M243.6 473.6h1.15M240.6 471.7h1.15M240.6 470.5h1.15M238.4 465.1h1.15M255.3 446h1.15M236.7 459.4h1.15M234.3 468.5h1.15M234.3 466.7h1.15M247 439.3h1.15M236.2 468.2h1.15M244.9 467.6h1.15M255.7 478.8h1.15M259.6 459.3h1.15M267 440.7h1.15M239.9 473.8h1.15M250.3 472.6h1.15M246.2 474.5h1.15M241.1 462.3h1.15M235.4 467.5h1.15M237.3 470.1h1.15M246.3 474.6h1.15M250.4 439.5h1.15M254.1 473.3h1.15M238.9 460.7h1.15M235.6 445h1.15M239.9 471.2h1.15M237 463.3h1.15M242.2 474.9h1.15M255.7 439.4h1.15M251.4 480.1h1.15M257.7 435.7h1.15M240.6 475.1h1.15M245.3 478.2h1.15M237.3 460.8h1.15M238.9 473.7h1.15M245.1 469.1h1.15M244.4 447.2h1.15M244.1 447.9h1.15M241.9 446.9h1.15M236.4 455.7h1.15M250.1 455.4h1.15M238.6 464h1.15M242.4 465h1.15M246.3 448.8h1.15M241.3 464.3h1.15M237.7 441.3h1.15M234.6 455.1h1.15M238.3 470.4h1.15M239.8 465.5h1.15M244.7 460.1h1.15M251 471.2h1.15M255.6 481.3h1.15M260.4 474.5h1.15M263.9 446.1h1.15M241.5 453.4h1.15M262.2 437.8h1.15M258.1 456.2h1.15M258 452.8h1.15M258.2 448.9h1.15M258.9 433.6h1.15M241.3 473.8h1.15M260.8 442.4h1.15M235.6 466.2h1.15M243.9 454.9h1.15M237.9 464.2h1.15M244 463.7h1.15M266 436.9h1.15M239.5 473.7h1.15M264.6 446.4h1.15M240.4 448.6h1.15M238.8 461.6h1.15M255.6 433h1.15M241.6 461.5h1.15M252.5 475.6h1.15M286.8 392.1h1.15M284.2 393.7h1.15M286.6 393.7h1.15M295 394h1.15M289.8 396.7h1.15M282.4 396.4h1.15M284 397h1.15M296.6 399.3h1.15M286.7 396.4h1.15M289.2 401.7h1.15M288 402.7h1.15M287.4 402.8h1.15M287.6 400.5h1.15M288.5 400.5h1.15M287.4 413.3h1.15M285.5 418.8h1.15M285.9 418.5h1.15M287.8 416h1.15M287.3 416.4h1.15" stroke="#71caa9" stroke-width="1.15"/>
<path d="M263.9 372.8h1.15M270.3 387.1h1.15M262.6 386.9h1.15M270.7 384.7h1.15M270.6 376.3h1.15M286.2 389.3h1.15M259.8 377.9h1.15M267.3 386h1.15M270.9 380.9h1.15M275.4 382.2h1.15M267.2 378.6h1.15M265.6 382.3h1.15M288.3 389.2h1.15M265.1 373.9h1.15M266.8 370.9h1.15M261.2 378.3h1.15M268.5 382.2h1.15M276.1 382.6h1.15M266.9 382h1.15M262.3 377.6h1.15M275 382h1.15M267.5 371.2h1.15M265.3 385.6h1.15M273.4 380.7h1.15M276.4 387.8h1.15M269.1 384h1.15M267.8 381.2h1.15M262 370.1h1.15M262.2 381.1h1.15M266.4 377.7h1.15M267.7 377.4h1.15M271.1 371.8h1.15M273.1 388.5h1.15M275.6 382.9h1.15M262.9 382.1h1.15M257.8 381.3h1.15M259.3 384.8h1.15M270.6 385h1.15M265.4 379.9h1.15M265.5 372.5h1.15M252.3 423.6h1.15M281.9 421.7h1.15M253.7 390.4h1.15M265.1 429.5h1.15M238 413.9h1.15M276.3 401.3h1.15M243.7 401.1h1.15M267.5 402.7h1.15M262 432.9h1.15M266.8 396.5h1.15M266.3 408.3h1.15M274 423.1h1.15M247.7 420.3h1.15M259.3 412.9h1.15M256.4 403.8h1.15M243.9 404h1.15M250.9 393.1h1.15M261.5 403.8h1.15M253.6 386.5h1.15M269.5 401.4h1.15M266 394.5h1.15M260.3 412.3h1.15M230.9 419.7h1.15M254.1 393.9h1.15M262.4 424.1h1.15M251.2 392.1h1.15M255.5 393.2h1.15M278.9 421.1h1.15M255.8 393.3h1.15M269.6 427.6h1.15M263.4 404.4h1.15M264.8 387.3h1.15M275.1 389.2h1.15M252.9 392.2h1.15M270.4 427.6h1.15M252.2 390.8h1.15M263.2 424.6h1.15M256.6 407.1h1.15M263.7 399.3h1.15M283.7 397.9h1.15M253.4 393.8h1.15M265.4 396.9h1.15M261.8 414.8h1.15M262.8 418.5h1.15M265.6 400.9h1.15M288.8 409.9h1.15M270.9 418.3h1.15M262.1 412.6h1.15M244.6 416h1.15M261.1 416.1h1.15M267.3 412.3h1.15M242.7 416.1h1.15M260.9 411.5h1.15M257.1 417.6h1.15M256.6 387.8h1.15M255.8 409.5h1.15M274.9 413.5h1.15M260.1 405.7h1.15M281.1 396.9h1.15M261.7 403.2h1.15M257.3 409.4h1.15M256.1 430.4h1.15M254.3 418.6h1.15M265.4 412.2h1.15M249.3 407.3h1.15M259.9 402.8h1.15M253.8 387.8h1.15M250 390.6h1.15M282 399.1h1.15M253.8 387.7h1.15M283.4 419h1.15M267.5 403.3h1.15M270.6 413.1h1.15M256.3 423.6h1.15M268.1 398.2h1.15M282.4 391.8h1.15M274 392.2h1.15M267.3 401.4h1.15M263.1 420.9h1.15M239 417.1h1.15M235.1 467.4h1.15M243 475.2h1.15M248.6 471.1h1.15M244.3 463.9h1.15M238 471.7h1.15M239 467.1h1.15M240.8 474h1.15M246 471.6h1.15M256.6 477.4h1.15M234.9 466.4h1.15M241.6 475.8h1.15M235 462.3h1.15M258.6 449h1.15M250.1 433.3h1.15M242.5 474.8h1.15M247.9 464.6h1.15M237.6 470.3h1.15M244.4 466.1h1.15M240.5 444.8h1.15M261.4 444.2h1.15M233 441.5h1.15M239.2 465.4h1.15M232.4 458.1h1.15M235.3 465.1h1.15M237.4 459.4h1.15M241.5 465.3h1.15M285.8 392.6h1.15M287.9 392h1.15M285.3 396.4h1.15M288.2 403.9h1.15M287.9 404.3h1.15M285.1 399.5h1.15M295.9 402.2h1.15M282.1 400.5h1.15M286.2 412.8h1.15M285.1 418.4h1.15M284.3 415h1.15M286.1 416.4h1.15M285.9 414.9h1.15M285.6 413.6h1.15M285 413.5h1.15M286.9 412.8h1.15M285.3 417.6h1.15" stroke="#87cf8c" stroke-width="1.15"/>
<path d="M254.2 385.5h1.15M265.2 381.8h1.15M258.2 379.4h1.15M255.8 385.1h1.15M272.5 387.7h1.15M255.4 378.2h1.15M275.9 385.1h1.15M268.8 371.3h1.15M279.5 389.6h1.15M259.6 373.5h1.15M283 389.4h1.15M266.6 374.9h1.15M276.8 384.2h1.15M261.6 371.8h1.15M278.1 388.2h1.15M258.4 377.9h1.15M287.3 389.2h1.15M273.6 379h1.15M266.3 371.3h1.15M264.2 369.9h1.15M263.1 369.8h1.15M271.1 374.1h1.15M256 383.9h1.15M270.6 376.2h1.15M275.7 382.5h1.15M278 389.5h1.15M278.7 388.3h1.15M269.7 383.1h1.15M257.2 381.2h1.15M270.7 372h1.15M276.1 381.1h1.15M261.8 379.1h1.15M276 384.7h1.15M258.1 379.6h1.15M279.3 387.9h1.15M274.1 382.1h1.15M257.8 379.3h1.15M265.7 369.6h1.15M274.5 382.8h1.15M256.2 410.8h1.15M248.6 421.4h1.15M260.3 411.6h1.15M242.6 410.7h1.15M255.8 422.7h1.15M250.5 419.5h1.15M266 403.5h1.15M263.4 409.9h1.15M270.7 404h1.15M250.8 415.1h1.15M253.5 413.3h1.15M255.8 416.7h1.15M245.3 417.9h1.15M272.6 402.1h1.15M252.8 387.6h1.15M248.6 418.8h1.15M273.7 421.5h1.15M247.5 403.6h1.15M255.1 410.6h1.15M272 419.2h1.15M285 417.8h1.15M248.9 393h1.15M270.2 415.9h1.15M251.7 414.4h1.15M254.4 411.6h1.15M280 414.4h1.15M249.9 391.2h1.15M270.4 404.2h1.15M282.1 416h1.15M245 413.7h1.15M274 410.5h1.15M267.7 401.9h1.15M285.1 414.5h1.15M285.3 413.5h1.15M256.6 398h1.15M276.1 402.6h1.15M242.3 413.8h1.15M254 390.7h1.15M252 396h1.15M243.3 417h1.15M272.4 404.3h1.15M257.9 422h1.15M272.4 398.9h1.15M278.4 402h1.15M257.2 408h1.15M282.1 390.9h1.15M245.8 397.2h1.15M281.3 413h1.15M285 413h1.15M246.8 421.4h1.15M285.1 413.3h1.15M246.9 395.6h1.15M252.2 417.6h1.15M242.7 412.5h1.15M273.3 406.2h1.15M246.8 401.8h1.15M235 417.9h1.15M259.2 411.9h1.15M278.6 401.5h1.15M249.7 415.1h1.15M253.1 410h1.15M251.1 418.7h1.15M278 419.5h1.15M274.9 419.6h1.15M249.9 404.2h1.15M260.2 414.8h1.15M256.7 419.9h1.15M272.1 407.6h1.15M230.4 417.6h1.15M261.3 439.7h1.15M251.6 434.8h1.15M253.8 471.7h1.15M246.3 433.7h1.15M254.2 474h1.15M252.8 479h1.15M253.9 478.4h1.15M288.4 403.6h1.15M288.2 402.6h1.15M284.6 400.4h1.15M286.8 413.8h1.15M286.2 417.7h1.15M285.5 418.4h1.15M285.8 414.8h1.15M285.7 414.1h1.15M284.5 419.2h1.15M285.9 413.7h1.15M287.1 413.1h1.15M286.4 417.7h1.15M286.7 418h1.15M285.7 413.9h1.15" stroke="#9fd36d" stroke-width="1.15"/>
<path d="M272.3 376.7h1.15M268 380.6h1.15M291.2 382.6h1.15M257 378.9h1.15M280.3 387h1.15M260.2 377.4h1.15M275.2 378.1h1.15M253.2 376.8h1.15M254.3 374.2h1.15M265.3 377.8h1.15M272.7 378.5h1.15M263.7 372.9h1.15M254.7 386.1h1.15M292.6 385.4h1.15M253.5 383.6h1.15M270.8 375.2h1.15M263.6 368.9h1.15M253.7 376.8h1.15M267.3 370.5h1.15M266.7 370.1h1.15M293.6 387.1h1.15M283.5 387.5h1.15M260 379h1.15M254.5 379.4h1.15M264.4 369.5h1.15M267.4 373.3h1.15M280 386.2h1.15M283.3 388.6h1.15M288.3 387.3h1.15M275.9 385.7h1.15M286.2 386.1h1.15M279.2 388.3h1.15M267.2 372.2h1.15M277.3 384.9h1.15M253.6 379.9h1.15M277.5 384.8h1.15M285.3 387.9h1.15M253.8 375.8h1.15M260.5 378.2h1.15M263.5 369.4h1.15M293.9 387.7h1.15M287.1 409.7h1.15M252.7 405.7h1.15M244.2 405.8h1.15M255.4 410.3h1.15M236.6 390.1h1.15M246.9 405h1.15M280.1 415.9h1.15M257.1 412.6h1.15M252.4 414.6h1.15M238.5 401.2h1.15M275.6 414.6h1.15M252.8 413h1.15M259.4 407h1.15M255.8 416.5h1.15M283.8 414.7h1.15M252.5 418.5h1.15M254.2 418.6h1.15M245 412.5h1.15M260.4 407h1.15M251 394.1h1.15M279.5 423.1h1.15M247.1 406.9h1.15M248.8 407.9h1.15M247.1 413.8h1.15M283.2 412.6h1.15M258.8 412.9h1.15M242.9 413.9h1.15M253.9 387h1.15M287.4 413.4h1.15M272.1 406h1.15M282.1 413.4h1.15M240.8 407.1h1.15M239.4 402.5h1.15M257.5 414.2h1.15M252.7 402.1h1.15M245.7 410h1.15M251.1 398.2h1.15M250.3 390.3h1.15M282.3 417.6h1.15M249.4 409.7h1.15M258 418.4h1.15M233.1 417.9h1.15M243.2 394h1.15M246.3 400.9h1.15M250.6 409.8h1.15M253.9 413.1h1.15M253.4 400.2h1.15M251.6 401.4h1.15M241.3 413.8h1.15M277.2 416.4h1.15M256 402.8h1.15M253.9 418h1.15M252.5 414.2h1.15M275 403.5h1.15M254.5 414.5h1.15M248.1 396.8h1.15M280.2 391.2h1.15M286.2 411.4h1.15M237.1 414.2h1.15M250.5 403.2h1.15M249.5 394.5h1.15M247.2 403.7h1.15M267.8 425h1.15M278 401.9h1.15M253.6 414h1.15M245.8 386.6h1.15M245.7 394.5h1.15M255.5 473.8h1.15M243.7 467h1.15M286.7 403h1.15M286 408.9h1.15M285.9 411.5h1.15M285.7 417.2h1.15" stroke="#b7d74f" stroke-width="1.15"/>
<path d="M272.1 375.2h1.15M254.6 379.8h1.15M289.7 388.6h1.15M292 385h1.15M259.8 375.3h1.15M256.5 372h1.15M288.2 383.6h1.15M248.7 378.2h1.15M277.2 385.1h1.15M294.3 384.7h1.15M294 385.3h1.15M263 370h1.15M274.5 377.9h1.15M260.6 374h1.15M291.7 381.9h1.15M282.6 385.4h1.15M286.8 383.8h1.15M278.5 382.5h1.15M263.6 372.1h1.15M292.8 382.7h1.15M297.3 386.3h1.15M256.2 375.8h1.15M286.8 383.6h1.15M254.7 372.3h1.15M259.4 371.7h1.15M246.8 383.9h1.15M271.4 374.6h1.15M289.7 387.9h1.15M261 372.4h1.15M257.4 375.7h1.15M282 387.5h1.15M279 387.4h1.15M291.8 384.7h1.15M260.4 372h1.15M260.7 371.3h1.15M285.9 383h1.15M271.7 373h1.15M279.8 381h1.15M254.9 375.9h1.15M252.5 383h1.15M258.2 373.4h1.15M256.7 382.8h1.15M284.5 389.5h1.15M285.2 379.7h1.15M280.5 386.2h1.15M285.3 382.7h1.15M257.1 372h1.15M259.8 370.7h1.15M258.7 371.7h1.15M253.7 377.2h1.15M278.2 387.4h1.15M278 386.1h1.15M255.7 373.3h1.15M254.4 383.4h1.15M271.4 372.7h1.15M255.8 380.3h1.15M298.8 385.9h1.15M264.7 370.6h1.15M276.4 388.9h1.15M258.4 380.1h1.15M247.7 418h1.15M236.4 415.1h1.15M246.6 396.1h1.15M252.5 400.4h1.15M240.3 399.4h1.15M237.9 414.1h1.15M239.4 397.4h1.15M240.7 398.3h1.15M251.5 396.3h1.15M251.1 410h1.15M280.5 402h1.15M255.5 420h1.15M248 390.4h1.15M237.7 413.4h1.15M246.3 418.7h1.15M249.7 406.7h1.15M236 392.7h1.15M243.5 403.1h1.15M247.4 399.7h1.15M249.8 390.4h1.15M240.5 412h1.15M245.2 386.7h1.15M285.4 411.6h1.15M241.4 405.8h1.15M251.7 385.4h1.15M239.1 411.9h1.15M287.2 410.4h1.15M281.5 410.7h1.15M248.9 390.4h1.15M237.9 414.7h1.15M246 391.7h1.15M248.6 406.7h1.15M253 403.8h1.15M248.2 391.2h1.15M253.6 398.3h1.15M282.9 391.9h1.15M283.7 402.2h1.15M284 401.1h1.15M284.8 407.8h1.15M284.6 413.4h1.15M285.3 410.9h1.15M286.3 409.2h1.15M227.3 390.7h1.15" stroke="#d4dc41" stroke-width="1.15"/>
<path d="M249.9 379.6h1.15M288.3 386.7h1.15M293.6 384.6h1.15M257.2 376.7h1.15M282 379.1h1.15M280.8 381.1h1.15M287.3 385.7h1.15M283.8 381.3h1.15M260.3 376.4h1.15M288.7 386.5h1.15M259.5 371h1.15M258.6 373.6h1.15M256.2 372.2h1.15M297.5 380.6h1.15M251.1 383.1h1.15M287.2 383.6h1.15M254.9 374.4h1.15M272.2 373.5h1.15M251 384.6h1.15M248.1 374.5h1.15M282.6 384.6h1.15M274.7 376.1h1.15M248.6 379.8h1.15M275.2 377.1h1.15M247.7 380.8h1.15M275.5 374.2h1.15M260.4 375.2h1.15M256.9 373.5h1.15M277.8 383.7h1.15M298.7 383.4h1.15M299.3 385h1.15M261.7 371.1h1.15M281.8 387.1h1.15M290.5 382.2h1.15M254.5 380.9h1.15M288.3 385.5h1.15M295.6 386.4h1.15M294.1 384.7h1.15M256.7 369.2h1.15M293.9 384.9h1.15M258.6 375.8h1.15M288.5 384.8h1.15M254.9 376.1h1.15M287.7 379.6h1.15M296.7 384.7h1.15M287.8 386.7h1.15M271.8 372.2h1.15M290.4 385.3h1.15M250.6 383.9h1.15M240.7 381h1.15M271.5 371.9h1.15M296.8 384.3h1.15M288.3 389.1h1.15M273.5 375.2h1.15M286.1 382.9h1.15M274.2 377.6h1.15M289.8 386.7h1.15M258.1 369.5h1.15M245.4 408.2h1.15M248 396.1h1.15M239.5 400.2h1.15M240.5 392.9h1.15M280.3 414.7h1.15M235.2 392.2h1.15M243.9 392.4h1.15M250.4 396.2h1.15M246.3 404.8h1.15M280.1 413.8h1.15M243.6 396.1h1.15M248.8 408.3h1.15M243.6 385.2h1.15M287 409h1.15M243.9 395.7h1.15M238.2 392.6h1.15M242.7 396.6h1.15M245 406.4h1.15M235 392.1h1.15M237.4 406.1h1.15M241.2 389.3h1.15M238.4 396.6h1.15M248.8 396.1h1.15M249.1 386.8h1.15M236.3 394.9h1.15M249.4 411h1.15M277.8 415h1.15M247 394.4h1.15M234.5 390.5h1.15M282.2 408.9h1.15M241.1 404.8h1.15M241.5 389.9h1.15M287.5 411.7h1.15M244.3 402h1.15M279.3 413.6h1.15M245.2 396.1h1.15M276.2 404.3h1.15M237.5 397.9h1.15M229.9 383.8h1.15M233 389.9h1.15M230.5 414.6h1.15M224.2 418.1h1.15M227.3 412.5h1.15M285 409.1h1.15" stroke="#f1e034" stroke-width="1.15"/>
<path d="M286.6 382.6h1.15M280 380.1h1.15M252.2 375.7h1.15M272.9 371.9h1.15M250.4 374h1.15M257.9 368.5h1.15M255.6 371h1.15M285.9 387.5h1.15M247 377.9h1.15M247.7 379.7h1.15M243.1 378.3h1.15M295.4 383h1.15M258.4 375.1h1.15M257.7 376h1.15M256.4 367.7h1.15M258.8 373.8h1.15M296.4 383.2h1.15M288.5 384.4h1.15M274.1 373.5h1.15M249.2 375.7h1.15M287.6 381.5h1.15M250.6 380.2h1.15M282.5 385.5h1.15M286.2 388.3h1.15M291.9 379.1h1.15M246.9 380.4h1.15M281.1 372h1.15M286.2 378.3h1.15M251.3 381.2h1.15M280.2 386.5h1.15M280.1 383.6h1.15M275.8 372.5h1.15M280.3 377.7h1.15M280.1 384.8h1.15M249.2 376.8h1.15M246.7 381.1h1.15M285.8 383h1.15M251.9 375.3h1.15M249.2 384.5h1.15M281.5 380.8h1.15M258 377.1h1.15M247.7 376.2h1.15M292.7 378.9h1.15M280.1 380.1h1.15M288.1 387.2h1.15M256.8 367.6h1.15M250.8 379.3h1.15M284 388.5h1.15M291.5 387.3h1.15M246.1 389.6h1.15M280.1 411.4h1.15M232.4 410.9h1.15M287.2 410.7h1.15M282 406.8h1.15M275.3 408.7h1.15M287.7 409.3h1.15M236.5 391.5h1.15M243.5 384.9h1.15M248 395.2h1.15M246.2 387.9h1.15M235.7 409.4h1.15M244.5 388.1h1.15M236 410.7h1.15M242 399.2h1.15M240.4 412.9h1.15M282.3 412.1h1.15M249.1 388h1.15M238.6 390.7h1.15M238.9 384.6h1.15M236.4 409.3h1.15M252.6 403.8h1.15M241.4 385.8h1.15M274.7 409.8h1.15M247.2 386.7h1.15M238.2 388.1h1.15M235.2 412.8h1.15M284.2 409.9h1.15M237.6 410.9h1.15M275.1 408.4h1.15M274.9 410h1.15M242.7 388.1h1.15M235.8 395.1h1.15M241.1 397.3h1.15M232.9 394.1h1.15M245.1 402.2h1.15M236.6 383.5h1.15M223.7 418.1h1.15M228 418.5h1.15M285.2 402.9h1.15M284.5 408.1h1.15M285.9 409h1.15M286 409.8h1.15M287.3 409.8h1.15M283.7 406.3h1.15M229 389.1h1.15M227.7 385.9h1.15M229.8 387.4h1.15" stroke="#f7cd2f" stroke-width="1.15"/>
<path d="M276.2 374.6h1.15M279 376h1.15M243.7 377.5h1.15M284.6 379.5h1.15M297.2 382.4h1.15M249.7 379.9h1.15M245.1 377.1h1.15M241.7 376.3h1.15M246.7 373.3h1.15M254.4 373h1.15M288.3 376.1h1.15M239.6 375.3h1.15M283.7 381.6h1.15M281.9 381.3h1.15M293.1 380.9h1.15M242.9 378.3h1.15M279.2 382.5h1.15M284.8 380.6h1.15M297.7 382.8h1.15M248.4 384.1h1.15M237.6 375.1h1.15M249.2 377.1h1.15M254.4 370.5h1.15M286.7 378.9h1.15M257.9 370.3h1.15M240.9 377.5h1.15M284.6 384.6h1.15M238 374.1h1.15M240 381.1h1.15M296.2 383.5h1.15M236.5 378.5h1.15M254.3 372.9h1.15M290.2 385.4h1.15M290.4 380.6h1.15M245.9 377.6h1.15M240.4 374.9h1.15M245.8 381.5h1.15M288.9 378.3h1.15M247.6 382.3h1.15M234.5 375.8h1.15M248.6 383.7h1.15M287.6 381h1.15M294.9 376.4h1.15M281.2 386.5h1.15M275.6 375.7h1.15M280.5 385.8h1.15M273.7 373.1h1.15M247 383.9h1.15M285.1 371.2h1.15M245.7 382.7h1.15M273.5 374h1.15M250.7 374.1h1.15M289.8 380.9h1.15M281.2 379.1h1.15M251.4 375.6h1.15M244.8 377.5h1.15M246 376.2h1.15M245.6 384.4h1.15M240.2 388.5h1.15M238.7 386.6h1.15M232.9 403.9h1.15M235.7 395.2h1.15M279 411h1.15M238.6 398.7h1.15M244.2 385.4h1.15M235.7 413.3h1.15M247.1 386.6h1.15M237.1 397.9h1.15M238.9 393.7h1.15M244 390.5h1.15M238.7 399.2h1.15M276.9 406h1.15M241 387.6h1.15M236.6 403.1h1.15M280.4 404.2h1.15M233.2 409.2h1.15M239.1 397.5h1.15M278.6 405.9h1.15M277.7 407.8h1.15M245.7 392.6h1.15M280.9 410.5h1.15M277.9 411.2h1.15M230.7 415h1.15M238.4 397.3h1.15M241.1 394.9h1.15M243.2 393.7h1.15M278.5 405.6h1.15M240.3 397.7h1.15M233.7 416.7h1.15M248.1 385.9h1.15M240.5 399.7h1.15M235.7 397.1h1.15M232.7 407.1h1.15M249.9 393.3h1.15M225 391.2h1.15M230 392h1.15M229.7 387.4h1.15M232.4 390.5h1.15M229.8 416.7h1.15M231 412.6h1.15M229.7 416.9h1.15M226.3 416h1.15M228 392.8h1.15M230.8 404.4h1.15M220.5 417.4h1.15M231.4 407.6h1.15M226.2 414.3h1.15M224.5 417.9h1.15M229 407.5h1.15M229.7 412.4h1.15M226.5 415.5h1.15M227.1 417.8h1.15M226.7 401.6h1.15M229.6 418.8h1.15M230.1 417.8h1.15M228.6 413.4h1.15M226.7 414.2h1.15M232.8 410.6h1.15M230.8 394.2h1.15M231 412.4h1.15M285.2 409.7h1.15M283.9 407.2h1.15M284.8 405.3h1.15M284.6 407.2h1.15M284.9 408.9h1.15M285.1 409.2h1.15M227.3 385.3h1.15M230.7 385.7h1.15M233.4 389.1h1.15M232.9 390.3h1.15M231.6 384.2h1.15" stroke="#f9b52b" stroke-width="1.15"/>
<path d="M255.2 369.2h1.15M237.5 377.9h1.15M241.9 371h1.15M245.7 379.7h1.15M292 373.2h1.15M235.1 376.8h1.15M239 376.5h1.15M249.2 377.4h1.15M233.9 375.8h1.15M240.5 381h1.15M290.5 385.2h1.15M250.9 382.5h1.15M283.7 377.2h1.15M299 381.6h1.15M250.9 375.8h1.15M285.1 377.9h1.15M294.5 376.4h1.15M238.5 381.9h1.15M243.9 383h1.15M234.8 373.6h1.15M282.5 379h1.15M246.2 377.1h1.15M253.9 371.2h1.15M281.4 387h1.15M243 373.9h1.15M282.5 376.5h1.15M252.7 366.7h1.15M252.3 374.1h1.15M283.5 386.3h1.15M236.3 372.7h1.15M295.7 374.6h1.15M244.5 382.5h1.15M234.6 379h1.15M248.2 375.3h1.15M239.7 376.3h1.15M275.6 375.2h1.15M299.7 379.6h1.15M287.9 369.8h1.15M283.3 376.9h1.15M256.6 369h1.15M235 371.8h1.15M297.9 377.8h1.15M283.9 381.3h1.15M244.9 376.3h1.15M242 376.8h1.15M246.4 372.9h1.15M275.8 376.9h1.15M276.4 376.6h1.15M240.1 375.8h1.15M285.5 375h1.15M246.8 382.5h1.15M295.1 380.4h1.15M286.4 376.8h1.15M242.9 376.5h1.15M250.8 370.4h1.15M287.8 379.8h1.15M230.2 415.4h1.15M234.4 412.5h1.15M235.1 403.2h1.15M236.1 398.6h1.15M233.7 400.8h1.15M239.4 386.6h1.15M234 392.7h1.15M244.7 384.2h1.15M232.6 405.4h1.15M231.9 416.8h1.15M232.8 410.1h1.15M232.7 413.5h1.15M242.5 390.7h1.15M235.3 402.3h1.15M280.1 405.4h1.15M235.3 387.8h1.15M277.7 409.9h1.15M235.2 388.1h1.15M278.3 407.9h1.15M234.4 397.6h1.15M235.9 399.6h1.15M278.2 412h1.15M235.1 384.9h1.15M231.3 385.9h1.15M230.1 388.5h1.15M232.5 389.8h1.15M226.3 388.7h1.15M224.8 393.7h1.15M226.3 394.1h1.15M226 389.1h1.15M227.9 413.9h1.15M232.4 406.7h1.15M225 413.5h1.15M232.5 409.7h1.15M232 409.4h1.15M231.1 401.2h1.15M230.2 396.3h1.15M229.2 418h1.15M225 394h1.15M228.5 413.8h1.15M231.8 413.2h1.15M226 414.6h1.15M231 407.1h1.15M227 413.7h1.15M228.1 396.6h1.15M229.8 416.4h1.15M232.8 396h1.15M228.5 414.1h1.15M227.4 398.8h1.15M229.4 395.8h1.15M231.2 412.1h1.15M230.1 411.8h1.15M231.8 410.8h1.15M225.5 415.2h1.15M229.3 412.3h1.15M230.5 407.1h1.15M231.1 394.4h1.15M225.2 395.5h1.15M229.9 392.9h1.15M230.3 408.5h1.15M225.4 398.3h1.15M216.9 414.2h1.15M228.9 410.1h1.15M228.2 410.1h1.15M282.6 407.4h1.15M283.3 407.2h1.15M281.5 433.1h1.15M285.6 432.8h1.15M285.2 433.1h1.15M231.5 389.5h1.15M229.8 384.4h1.15M232.3 386.8h1.15M233.1 389h1.15M227.3 388h1.15" stroke="#f89829" stroke-width="1.15"/>
<path d="M236.1 376.1h1.15M237.6 370.5h1.15M288.5 372.5h1.15M246.7 370.5h1.15M289.7 377.2h1.15M239.3 381.7h1.15M298.5 375.2h1.15M298.4 381.4h1.15M250.4 372.7h1.15M296.5 371.9h1.15M244.4 376.1h1.15M251.7 368.7h1.15M251.5 368.7h1.15M284.3 372.6h1.15M252.4 371.4h1.15M298.5 378.9h1.15M233.7 374.8h1.15M283.2 373h1.15M237.6 372.1h1.15M293.3 370.4h1.15M293.8 372.6h1.15M250.2 372h1.15M249.6 371.8h1.15M283.6 375.6h1.15M237.7 372.3h1.15M293.4 377.1h1.15M276.7 372.9h1.15M292.6 377.1h1.15M279.2 370.4h1.15M248.5 375.7h1.15M295.8 373.6h1.15M236.9 377.1h1.15M246.5 374.4h1.15M294.8 381h1.15M235.9 379h1.15M240 377.7h1.15M282.9 370.4h1.15M291.4 376.5h1.15M234.4 373.5h1.15M278.9 370h1.15M239.5 380.7h1.15M295.4 375h1.15M294 380.7h1.15M288.9 370h1.15M236.3 379.3h1.15M275.5 373h1.15M236.1 370h1.15M233.8 374.2h1.15M240.7 374.3h1.15M276.7 376.4h1.15M283.1 376.6h1.15M251 371.3h1.15M292.4 373.5h1.15M240.7 370.5h1.15M235.7 375.6h1.15M288.3 369.7h1.15M292.7 371.3h1.15M255.5 370.1h1.15M243.1 380.3h1.15M275.6 371.6h1.15M275.1 375.5h1.15M236.1 378.8h1.15M240.3 379.6h1.15M290.4 372.1h1.15M236.9 372.9h1.15M294.3 380.5h1.15M279.1 370.7h1.15M278.1 376.7h1.15M277.4 374.5h1.15M234.5 375h1.15M281.6 371.4h1.15M287.5 372.4h1.15M292.7 378.3h1.15M286.2 369.3h1.15M278.3 375.1h1.15M237.3 369h1.15M250.8 368.5h1.15M281.5 370.3h1.15M248.4 366.9h1.15M289.6 373.7h1.15M289.2 378.4h1.15M294.5 370.8h1.15M282.5 375.5h1.15M287.7 373.7h1.15M229.4 411.1h1.15M283.1 405.7h1.15M234.7 397.6h1.15M232 396.2h1.15M230 415.1h1.15M234.8 408.1h1.15M236.2 408.3h1.15M229.4 409.4h1.15M233.3 412.6h1.15M237.2 401.3h1.15M233.1 405.3h1.15M234 383.5h1.15M233.3 385.2h1.15M231 409.2h1.15M232.3 411.2h1.15M223.4 414.9h1.15M232.2 410.6h1.15M227.9 398.1h1.15M222.6 407.4h1.15M231.2 407h1.15M228.8 395h1.15M231.4 406.2h1.15M231.5 412h1.15M230.2 396.9h1.15M230.1 394.2h1.15M229.7 393.5h1.15M222.9 415.2h1.15M231.8 399.3h1.15M227.1 416.3h1.15M232 397.2h1.15M223.8 398.9h1.15M221.7 404.7h1.15M228.6 415.6h1.15M227.2 413.4h1.15M231 415.7h1.15M224.4 412.8h1.15M232.2 395.2h1.15M225.1 395.5h1.15M221.2 416.3h1.15M231.6 400.8h1.15M228.3 395.6h1.15M227.7 401.3h1.15M228.4 414.9h1.15M226.9 398.1h1.15M224.3 417.1h1.15M233.1 407.1h1.15M225.8 415.4h1.15M228.5 411.7h1.15M230.7 402.8h1.15M230 413.6h1.15M219.5 416.9h1.15M224.2 396.7h1.15M220.2 416.5h1.15M224.7 397.8h1.15M232.7 406.6h1.15M230.5 398h1.15M227.2 410.4h1.15M229.7 401.9h1.15M232.1 402.4h1.15M223.5 417h1.15M232.9 410.3h1.15M232.2 400.5h1.15M215.4 416.4h1.15M223.9 393.8h1.15M232.9 408.8h1.15M227.8 398.5h1.15M230.8 408.3h1.15M281.5 432.8h1.15M284.9 433.3h1.15M289.5 434.1h1.15M284.2 433.2h1.15M286.7 433.5h1.15M286.6 433.2h1.15M233.1 386.7h1.15M229.2 388.1h1.15" stroke="#f2712b" stroke-width="1.15"/>
<path d="M282.3 372.6h1.15M245.4 371.2h1.15M240.4 374.4h1.15M288.9 369.5h1.15M251 374.5h1.15M297.3 374.4h1.15M282 369.7h1.15M240.7 379.2h1.15M288.3 371.8h1.15M279.5 375.9h1.15M240.9 369.5h1.15M237 370.4h1.15M250.3 365.9h1.15M244.1 376.4h1.15M248.9 366.3h1.15M282.8 371.7h1.15M282.3 370.5h1.15M243.4 371.7h1.15M278.7 372.6h1.15M234.8 376.7h1.15M288.3 378h1.15M252 366.7h1.15M296.4 379h1.15M246.4 367.7h1.15M251.7 371.6h1.15M242.1 371.7h1.15M249.3 371.6h1.15M288.3 371.2h1.15M243.4 375.1h1.15M243.1 366.8h1.15M295 371.8h1.15M251.3 367.6h1.15M281 376.5h1.15M241.6 370.1h1.15M298.5 379.8h1.15M243 370.5h1.15M243.3 372.4h1.15M246.8 368.6h1.15M286.1 370.9h1.15M242.2 376h1.15M284.1 369.4h1.15M247.5 371.9h1.15M241.3 378.5h1.15M276.1 374.3h1.15M286.8 372h1.15M288.3 371.7h1.15M238 380h1.15M240.9 381.1h1.15M293.8 377.8h1.15M282.5 376.2h1.15M240.7 370.6h1.15M279.9 377.8h1.15M294.2 376h1.15M296.4 378.2h1.15M277.4 371.6h1.15M240.4 369h1.15M288.9 375.4h1.15M245.7 366.4h1.15M237.2 379.4h1.15M299.1 377.1h1.15M276.6 370.7h1.15M291.4 377.4h1.15M285.6 375.9h1.15M250.6 366.4h1.15M248.4 366.4h1.15M278.8 372.8h1.15M240.6 373.4h1.15M288.5 377.2h1.15M240.1 372.6h1.15M247.1 367.1h1.15M291.8 372h1.15M246.5 385.3h1.15M232.7 402.3h1.15M232.8 398.2h1.15M232.2 400h1.15M232.6 406.4h1.15M231.1 410.7h1.15M231 404.2h1.15M230.8 410.3h1.15M225.8 394.8h1.15M228.5 394.7h1.15M225.9 396h1.15M226.9 406.4h1.15M220.9 410.8h1.15M228.7 413.7h1.15M222.9 396.9h1.15M229.2 393.4h1.15M216.8 411.2h1.15M229 397.7h1.15M228.1 397.5h1.15M218.6 407.7h1.15M231.3 403h1.15M223.2 413.6h1.15M230.1 398.3h1.15M225.1 401.7h1.15M227.7 408.2h1.15M224.8 399.4h1.15M232.2 396h1.15M224.9 401.2h1.15M226.9 400.4h1.15M226.3 394.9h1.15M224.9 412.4h1.15M222.7 402.3h1.15M229.9 404.7h1.15M215.4 415.8h1.15M223 397.6h1.15M230.4 406.9h1.15M218 416.3h1.15M221.1 416.4h1.15M224.7 412.2h1.15M224.4 411.2h1.15M224.1 418.1h1.15M223.7 402.6h1.15M225.1 417.6h1.15M231 409.3h1.15M226.6 399h1.15M225 411.4h1.15M226.6 405.9h1.15M230.2 413.4h1.15M226.4 394.8h1.15M224.8 398.9h1.15M222.6 399.5h1.15M216.7 415.3h1.15M225.5 395.9h1.15M222.1 402.2h1.15M231 404.8h1.15M226.6 398.8h1.15M228.7 404h1.15M219.6 412.6h1.15M231.5 410.5h1.15M232.1 402.9h1.15M222.6 396.4h1.15M224.8 406.9h1.15M220.7 413.6h1.15M225.7 398.5h1.15M226 398h1.15M286.1 432.8h1.15M283.9 433h1.15M286.1 432.8h1.15" stroke="#eb4c2d" stroke-width="1.15"/>
<path d="M243.2 368.4h1.15M244.8 368.4h1.15M247.5 369.5h1.15M239.3 368h1.15M235.5 372.3h1.15M297.4 376.5h1.15M288.7 370.7h1.15M250.2 372.3h1.15M238.4 371.4h1.15M239.6 366.9h1.15M250.7 369.5h1.15M242.5 374.3h1.15M277.4 372.9h1.15M244.8 369.5h1.15M291.2 370.8h1.15M240.9 369.3h1.15M241.1 367.2h1.15M297.6 381.3h1.15M248.7 366.3h1.15M278 374.8h1.15M250.1 367.1h1.15M250.1 371.5h1.15M277.1 370.5h1.15M282.2 370.5h1.15M288.6 369.4h1.15M293.4 372.2h1.15M249.9 369.2h1.15M284.2 370.5h1.15M247.4 371.9h1.15M243.9 369.3h1.15M250.1 373.5h1.15M296.3 378.4h1.15M249.2 368.9h1.15M282.6 370.1h1.15M243.5 366.6h1.15M247 369.9h1.15M249.5 369h1.15M278.2 370.7h1.15M282.1 372.7h1.15M294.4 377.2h1.15M232.8 401.2h1.15M231.7 410.5h1.15M232.2 399.4h1.15M229.9 395.3h1.15M230.7 399.1h1.15M214 400.2h1.15M223.8 408.2h1.15M222.5 416.7h1.15M215.9 415.7h1.15M225.6 399.4h1.15M225.4 412.3h1.15M223.7 404h1.15M232.6 402.3h1.15M226 398h1.15M222.9 414.6h1.15M222.6 405.9h1.15M225.2 406.5h1.15M221.6 397.8h1.15M233.1 404.3h1.15M223.4 411.1h1.15M222.4 396.9h1.15M222.9 412.7h1.15M215.1 403.4h1.15M223.3 396.3h1.15M213 406.1h1.15M221.7 410.8h1.15M222.9 407.3h1.15M221.4 416.3h1.15M222.9 399h1.15M223.1 398h1.15M221.6 394.8h1.15M226.2 403.8h1.15M205.4 402.6h1.15M226.1 395.6h1.15M228.7 400.7h1.15M215.5 414.2h1.15M215.3 409.2h1.15M223.3 409.6h1.15M213.1 413.1h1.15M225.3 397.4h1.15M212.3 415.6h1.15M227.1 397.9h1.15M209 400.1h1.15M218 410h1.15M227 410.3h1.15M219.5 402.9h1.15M212.9 414.2h1.15M213 402.7h1.15M220.1 411.7h1.15M229.2 403.9h1.15M217.2 395.2h1.15M223.4 393.4h1.15M227.5 395.2h1.15M220.7 396.4h1.15M219.4 400.5h1.15M220.7 414.3h1.15M223.1 414.5h1.15M285.4 432.7h1.15M284.8 433.1h1.15M285.3 432.9h1.15M286.8 433.1h1.15" stroke="#e43830" stroke-width="1.15"/>
<path d="M290.9 372.6h1.15M242.2 371.6h1.15M248.3 371.1h1.15M242.1 369.2h1.15M240.6 372h1.15M237.2 368.7h1.15M238.6 372h1.15M288.5 376.1h1.15M289.7 372.7h1.15M248.7 368.1h1.15M283.4 373.5h1.15M243.3 366.2h1.15M240.3 367.9h1.15M252.5 370.8h1.15M289.3 374.2h1.15M252.4 371.5h1.15M277.6 374.4h1.15M288.8 372.7h1.15M295.8 371.2h1.15M287.5 373.9h1.15M281.1 370.3h1.15M238.9 367.6h1.15M251.9 370.5h1.15M231.5 399.8h1.15M219.4 399.9h1.15M216.7 395.3h1.15M222.5 397.6h1.15M224.9 414.9h1.15M215.2 408.5h1.15M210.5 400.1h1.15M213.4 400.8h1.15M232.1 396.4h1.15M218.9 409.5h1.15M210.4 398.9h1.15M220.7 409.7h1.15M212 403h1.15M224.9 394.6h1.15M222.8 407.8h1.15M222.3 404.7h1.15M232.6 405h1.15M209.9 405.5h1.15M213.2 410.1h1.15M219.8 411.2h1.15M220.6 404.2h1.15M215.2 416h1.15M222.6 405.8h1.15M218.7 410.3h1.15M231.8 397.6h1.15M209.4 399.2h1.15M213.6 411h1.15M216.1 396.7h1.15M208.8 412.7h1.15M223.8 402.4h1.15M224.5 398.2h1.15M220.5 394.9h1.15M222 398.5h1.15M210.7 403.4h1.15M219 411.6h1.15M222.2 410.7h1.15M207.6 398.1h1.15M212.4 411.5h1.15M218.4 396.1h1.15M216.8 397.3h1.15M224.5 406.3h1.15M212.5 404.9h1.15M216.6 409.2h1.15M208.1 412.7h1.15M216.9 411.3h1.15M220.2 394.9h1.15M220.6 414.4h1.15M213.8 401.8h1.15M215.9 411.4h1.15M218.7 414.2h1.15M226.9 397h1.15M210.7 399.5h1.15M224.5 412.2h1.15M210 398.9h1.15M218.5 396.7h1.15M211.1 414.6h1.15M231.4 404h1.15M213 412.7h1.15M207.7 397.9h1.15M219.6 409.9h1.15M214.1 402.5h1.15M216.1 413.4h1.15M220.3 404.2h1.15M229.5 408.2h1.15M214.4 410.6h1.15M215.4 410.1h1.15M212.5 412.5h1.15M224.9 409.5h1.15M224.6 411.7h1.15M219.6 402.9h1.15M221.9 407.2h1.15M213.8 408.3h1.15M213.9 409.9h1.15M220.2 407.1h1.15M215.6 398.4h1.15M316.7 418.7h1.15M316.6 418.8h1.15M286.5 432.7h1.15M289.5 433.4h1.15" stroke="#db2930" stroke-width="1.15"/>
<path d="M241.8 371.6h1.15M242.4 371.1h1.15M249.1 366.5h1.15M246.2 370.2h1.15M244 372.1h1.15M219.7 414.2h1.15M218 408.7h1.15M212.8 412.8h1.15M214 406.5h1.15M223.6 410.6h1.15M213.8 395.8h1.15M210.5 401.9h1.15M218.7 395h1.15M210.4 413.5h1.15M208.7 397.9h1.15M214.5 401.9h1.15M217.4 396.7h1.15M225.4 407.2h1.15M228.8 401.9h1.15M216.1 395.8h1.15M215 410.3h1.15M207 398.5h1.15M215.6 406.3h1.15M220.1 396.9h1.15M210 401.9h1.15M222.3 409.1h1.15M208.1 410.8h1.15M217.3 399h1.15M217.7 397.1h1.15M209.5 399.9h1.15M218.6 401.8h1.15M221.6 400.1h1.15M221.1 399.8h1.15M210.6 404.7h1.15M208.1 412.1h1.15M218.5 405.1h1.15M209.6 412.1h1.15M212.8 411.8h1.15M219.8 395.9h1.15M221.9 413.7h1.15M221.6 400.2h1.15M212.4 405.6h1.15M217.1 397.3h1.15M215.9 400.1h1.15M213.4 406.4h1.15M219.2 399.4h1.15M207.3 398.2h1.15M224.3 409h1.15M213.5 411.9h1.15M221.5 400.5h1.15M214.2 399.3h1.15M217.6 399.4h1.15M210.4 414h1.15M203.9 404.9h1.15M221.9 406.4h1.15M207.1 407.7h1.15M222 406.7h1.15M207.7 405.6h1.15M205.7 404.9h1.15M214.6 401.1h1.15M205.3 401h1.15M205.5 409.5h1.15M314.4 414h1.15M315.6 415.6h1.15M316.9 416h1.15M314.6 414.2h1.15M315.7 414.9h1.15M315.7 416.3h1.15M314.6 415h1.15M314.6 414.4h1.15" stroke="#cf212b" stroke-width="1.15"/>
<path d="M220.8 413.6h1.15M215.8 395h1.15M216.2 411.1h1.15M212.3 408.9h1.15M209.2 399h1.15M223.1 399.5h1.15M213.8 411.5h1.15M216.1 395.1h1.15M209.8 403.9h1.15M216.6 400.6h1.15M209.1 409.9h1.15M203.6 404.7h1.15M221.1 409.6h1.15M209.7 408.1h1.15M209.9 404.9h1.15M212.6 403h1.15M203.1 404.8h1.15M210.8 413.4h1.15M209 400.4h1.15M217.5 398.8h1.15M214.1 404.1h1.15M215.7 401.1h1.15M210.9 401.9h1.15M219.2 401.1h1.15M219.4 404.3h1.15M216 402.3h1.15M208.5 406.8h1.15M215.6 405.9h1.15M209 407.8h1.15M207.1 404.4h1.15M207.7 403.1h1.15M220.8 395.9h1.15M215.1 401.6h1.15M213.6 409h1.15M207.2 401.9h1.15M220.7 410.3h1.15M217.4 405.4h1.15M214.6 408.4h1.15M216 397.2h1.15M208.3 408.4h1.15M216 402.6h1.15M210.8 408.5h1.15M220.6 403.5h1.15M208.5 405.5h1.15M213 396.4h1.15M207.7 410.5h1.15M217.1 405.3h1.15M211 401.9h1.15M219.6 397.6h1.15M218.4 400.7h1.15M215.3 406.7h1.15M216.5 405.6h1.15M215.7 400.3h1.15M316 419h1.15M314.6 414h1.15M315 414.4h1.15" stroke="#bb1825" stroke-width="1.15"/>
<path d="M207.8 405.8h1.15M218.6 404.3h1.15M205.7 404h1.15M210.4 403.1h1.15M208.2 403.8h1.15M206.3 405.3h1.15M211.1 412.8h1.15M211.5 402.3h1.15M213.8 404.7h1.15M208.6 412.2h1.15M210.6 404.3h1.15M211.6 399.8h1.15M222.8 407.8h1.15M209.9 403.6h1.15M205.2 407.7h1.15M212 398.9h1.15M220.7 397.4h1.15M203.3 406.4h1.15M210.9 411.2h1.15M212.5 403.3h1.15M205.7 407.8h1.15M208.6 411.1h1.15M204.5 408.4h1.15M206.5 405.7h1.15M205 402.4h1.15M206.8 404.6h1.15M207.8 406.4h1.15M210.7 412h1.15M213.1 398.7h1.15M213.2 397.1h1.15M214.2 401.5h1.15M209.3 401.2h1.15M216.8 402.8h1.15M212.2 409.1h1.15M203.9 408h1.15M215.7 408.3h1.15M210.3 397.4h1.15M208.4 405h1.15M215.7 401.5h1.15M217.3 401h1.15M207.7 410.6h1.15M210.5 398.3h1.15M204.6 406.3h1.15M207.4 412.5h1.15M205.8 405.3h1.15M215.8 407.4h1.15M216.9 404.7h1.15M206.6 399.7h1.15M218.2 395.2h1.15M204.3 403.5h1.15M316.3 417.4h1.15M316.3 415.9h1.15M316.1 416h1.15M316.2 418.9h1.15M316.6 415.5h1.15M314.5 414.1h1.15M314.5 413.7h1.15M317 418.8h1.15M316.7 417.5h1.15" stroke="#9f101f" stroke-width="1.15"/>
<path d="M322.9 362.5H198.7M198.7 362.1V485.7H322.9" fill="none" stroke="#333" stroke-width="0.9"/>
<path d="M198.7 362.5h-2.6M198.7 370.2h-1.5M198.7 377.9h-1.5M198.7 385.6h-1.5M198.7 393.3h-3M198.7 401h-1.5M198.7 408.7h-1.5M198.7 416.4h-1.5M198.7 424.1h-3M198.7 431.8h-1.5M198.7 439.5h-1.5M198.7 447.2h-1.5M198.7 454.9h-3M198.7 462.6h-1.5M198.7 470.3h-1.5M198.7 478h-1.5M198.7 485.7h-2.6M198.7 485.7v1.5M206.5 485.7v1.5M214.2 485.7v1.5M222 485.7v1.5M229.8 485.7v3M237.5 485.7v1.5M245.3 485.7v1.5M253 485.7v1.5M260.8 485.7v3M268.6 485.7v1.5M276.3 485.7v1.5M284.1 485.7v1.5M291.9 485.7v3M299.6 485.7v1.5M307.4 485.7v1.5M315.1 485.7v1.5M322.9 485.7v1.5" stroke="#333" stroke-width="0.7"/>
<defs><linearGradient id="gCD38" x1="0" x2="0" y1="1" y2="0"><stop offset="0" stop-color="#1a1f6e"/><stop offset="0.09" stop-color="#1e2f8e"/><stop offset="0.2" stop-color="#2a5cc0"/><stop offset="0.33" stop-color="#3aa8dc"/><stop offset="0.43" stop-color="#5cc8c0"/><stop offset="0.53" stop-color="#9ed470"/><stop offset="0.63" stop-color="#f2e43a"/><stop offset="0.7" stop-color="#f6b030"/><stop offset="0.76" stop-color="#ef6a30"/><stop offset="0.83" stop-color="#e0302c"/><stop offset="0.94" stop-color="#c81e28"/><stop offset="1" stop-color="#7a0a1a"/></linearGradient></defs>
<rect x="322.9" y="362.5" width="4" height="123.2" fill="url(#gCD38)"/>
<path d="M323.1 362.5v123.2M326.8 362.5v123.2" stroke="#222" stroke-width="0.6"/>
<path d="M326.8 366.7h2.8M326.8 369h1.6M326.8 371.5h1.6M326.8 374.3h1.6M326.8 377.6h1.6M326.8 381.5h1.6M326.8 386.3h1.6M326.8 392.5h1.6M326.8 401.2h1.6M326.8 416h2.8M326.8 418.3h1.6M326.8 420.8h1.6M326.8 423.6h1.6M326.8 426.9h1.6M326.8 430.8h1.6M326.8 435.6h1.6M326.8 441.8h1.6M326.8 450.5h1.6M326.8 465.3h2.8M326.8 467.6h1.6M326.8 470.1h1.6M326.8 472.9h1.6M326.8 476.2h1.6M326.8 480.1h1.6M326.8 484.9h1.6" stroke="#222" stroke-width="0.75"/>
<text x="333.3" y="418" font-size="5.8" fill="#333">10<tspan font-size="3.6" dy="-2.4">3</tspan></text>
<text x="333.3" y="467.3" font-size="5.8" fill="#333">10<tspan font-size="3.6" dy="-2.4">2</tspan></text>
<text x="333.3" y="476.3" font-size="5.8" fill="#333">0</text>
<text x="333.3" y="484.9" font-size="5.8" fill="#333">&#8722;10<tspan font-size="3.6" dy="-2.4">2</tspan></text>
<text x="260.8" y="357.4" font-size="8.4" text-anchor="middle">CD38</text>
<text x="261.7" y="499.2" font-size="8.4" fill="#333" style="stroke-width:0.3px" text-anchor="middle" textLength="16" lengthAdjust="spacingAndGlyphs">UMAP</text>
<path d="M461.2 372.6h1.15M446.5 374.6h1.15M442.6 376.7h1.15M458.8 372.5h1.15M452.3 369.7h1.15M430.5 377.4h1.15M430.6 376.4h1.15M458.6 371.2h1.15M447.4 370.5h1.15M447 376.4h1.15M453.6 376.9h1.15M454.5 370.5h1.15M469.6 385h1.15M446.7 376.6h1.15M447.7 371.6h1.15M447.7 374.5h1.15M441.4 371.8h1.15M446.9 370.7h1.15M451.9 371.4h1.15M452.9 370.1h1.15M443.8 374h1.15M455.9 375.9h1.15M452.8 375.5h1.15M472.3 396h1.15M474.4 397.1h1.15M467.9 394.9h1.15M459.4 394.2h1.15M471.8 395.1h1.15M475.9 400.9h1.15M476.7 400.2h1.15" stroke="#172277" stroke-width="1.15"/>
<path d="M452.6 372.6h1.15M443.2 371.9h1.15M444.8 377.9h1.15M424.7 373h1.15M430.9 374h1.15M468.8 378.9h1.15M452.6 370.5h1.15M463.6 370.4h1.15M452.8 376.5h1.15M447.7 372.9h1.15M433.9 368.9h1.15M453.9 375.6h1.15M429.1 373.8h1.15M463.7 377.1h1.15M446.4 382.6h1.15M426.5 375.8h1.15M437.6 370.5h1.15M445.3 382h1.15M460 372.7h1.15M453.2 370.4h1.15M460 387.9h1.15M466 374.6h1.15M452.5 370.5h1.15M428.7 377.9h1.15M458.9 369.4h1.15M459.2 370h1.15M454.4 369.4h1.15M462.2 379.1h1.15M462.1 384.7h1.15M454.2 381.3h1.15M427.2 373.5h1.15M463 371.3h1.15M455.8 375h1.15M429 371.7h1.15M447.9 374.4h1.15M449.4 370.7h1.15M448.4 376.7h1.15M445.9 375.7h1.15M455.4 371.2h1.15M461.7 377.4h1.15M464.2 387.7h1.15M457.8 373.9h1.15M460.1 386.7h1.15M476.6 396.5h1.15M470.9 395.6h1.15M461.4 392.8h1.15M461.9 393.6h1.15M465.6 395.2h1.15M469.1 394.3h1.15M478.7 397.5h1.15M476.4 397.5h1.15M472.4 398.6h1.15M476.1 398.7h1.15M477 398.3h1.15" stroke="#1a2b89" stroke-width="1.15"/>
<path d="M442.4 375.2h1.15M449.3 376h1.15M434.2 372.8h1.15M454.9 379.5h1.15M462.3 373.2h1.15M460 388.6h1.15M467.5 382.4h1.15M462.3 385h1.15M467.6 374.4h1.15M460 377.2h1.15M464.6 384.7h1.15M454 377.2h1.15M468.7 381.4h1.15M433.3 370h1.15M452.3 379.1h1.15M455.4 377.9h1.15M440.9 376.3h1.15M445.5 378.1h1.15M458.6 371.8h1.15M449.8 375.9h1.15M452.8 379h1.15M458.6 376.1h1.15M462 381.9h1.15M422.7 371.4h1.15M443 378.5h1.15M454 381.6h1.15M429.9 373.5h1.15M457.1 383.8h1.15M453.1 371.7h1.15M453.5 373h1.15M458.6 378h1.15M465.7 383h1.15M428 376h1.15M422.3 366.7h1.15M466.7 379h1.15M454.1 381.3h1.15M461.5 370.8h1.15M447 372.9h1.15M437.2 382h1.15M449.5 370.4h1.15M466.1 373.6h1.15M428.9 373.6h1.15M467.8 380.6h1.15M425 372.3h1.15M465.1 381h1.15M429.7 371.7h1.15M444.4 373.5h1.15M442.5 373.5h1.15M457.9 381.5h1.15M468.8 379.8h1.15M427.7 375.7h1.15M465.7 375h1.15M445.8 373h1.15M434.5 369.9h1.15M437.5 374.8h1.15M452.8 385.5h1.15M449.3 387.4h1.15M446.4 374.3h1.15M445.9 375.2h1.15M457.1 372h1.15M470 379.6h1.15M445.5 377.1h1.15M466.5 383.5h1.15M451.4 372h1.15M421.3 371.3h1.15M453.7 373.5h1.15M446 382.5h1.15M450.5 386.5h1.15M426.9 369h1.15M446.1 372.5h1.15M452.8 376.2h1.15M446.1 376.9h1.15M464.5 376h1.15M432 371.1h1.15M435.1 372.7h1.15M459.6 374.2h1.15M441 372h1.15M436.7 377.7h1.15M435.1 379.3h1.15M428.9 375.8h1.15M438 377.4h1.15M465.4 380.4h1.15M447.8 384.8h1.15M446.7 388.4h1.15M465.2 376.4h1.15M469.4 377.1h1.15M451.5 386.5h1.15M467 384.7h1.15M441.7 372.7h1.15M469.1 385.9h1.15M466.1 371.2h1.15M456.7 376.8h1.15M441.8 371.9h1.15M448.6 375.1h1.15M433.8 369.4h1.15M449.1 372.8h1.15M451.8 370.3h1.15M461.8 387.3h1.15M434.1 373.8h1.15M451.5 379.1h1.15M448.5 370.7h1.15M435.8 372.5h1.15M459.5 378.4h1.15M444.5 377.6h1.15M464.7 377.2h1.15M462.1 372h1.15M428.7 380.1h1.15M478.2 397h1.15M465.7 395h1.15M457.1 392.1h1.15M476 396.7h1.15M458.2 392h1.15M477.3 396.6h1.15M480.5 396.9h1.15M461.1 393.9h1.15M473.3 395.7h1.15M463.3 395.3h1.15M471.6 394.2h1.15M469.8 395.9h1.15M472.5 395.4h1.15M480.1 395.8h1.15M474.3 397.9h1.15M476.8 398.6h1.15M473.9 398.5h1.15M474.4 398.5h1.15M462 397.8h1.15M474.8 400.7h1.15M476.2 399.1h1.15M487 418.7h1.15M486.6 417.4h1.15M486.4 416h1.15M486.9 415.5h1.15M486 414.9h1.15" stroke="#1c349b" stroke-width="1.15"/>
<path d="M439.7 374.5h1.15M445.8 388.7h1.15M458.6 386.7h1.15M430.1 375.3h1.15M425.9 371h1.15M467.7 376.5h1.15M447.5 385.1h1.15M469.3 381.6h1.15M459 370.7h1.15M420.7 372.7h1.15M442.8 387.7h1.15M434.1 378.6h1.15M438.3 373.8h1.15M456.5 389.3h1.15M422 368.7h1.15M442 382.7h1.15M439.1 371.3h1.15M430.1 377.9h1.15M451.1 381.1h1.15M423.5 376.8h1.15M424.6 374.2h1.15M435.6 377.8h1.15M452.2 381.3h1.15M463.4 380.9h1.15M452.9 385.4h1.15M457.6 385.7h1.15M442.9 387.4h1.15M449.5 382.5h1.15M441.2 380.9h1.15M455.1 380.6h1.15M449 372.6h1.15M433.9 372.1h1.15M463.1 382.7h1.15M434 372.9h1.15M462.9 385.4h1.15M435.4 373.9h1.15M441.1 375.2h1.15M437.1 370.9h1.15M422 371.6h1.15M447.1 384.2h1.15M429.8 371h1.15M424 376.8h1.15M467.9 381.3h1.15M462.9 377.1h1.15M431.9 371.8h1.15M448.4 388.2h1.15M457.1 383.6h1.15M437 370.1h1.15M463.9 387.1h1.15M422.6 374.1h1.15M465.3 371.8h1.15M457.5 383.6h1.15M458.8 384.4h1.15M451.3 376.5h1.15M441.7 374.6h1.15M443.7 380.7h1.15M449.2 370h1.15M428.2 370.3h1.15M464.3 380.7h1.15M456.4 370.9h1.15M438.5 374.9h1.15M443.9 379h1.15M452.9 384.6h1.15M433.4 369.8h1.15M458.6 371.7h1.15M445 376.1h1.15M441.4 374.1h1.15M437.7 381.2h1.15M458.2 369.8h1.15M453.4 376.6h1.15M440.9 376.2h1.15M453.6 388.6h1.15M442 373h1.15M450.1 381h1.15M458.6 387.3h1.15M428.5 373.4h1.15M460.7 380.6h1.15M458.6 369.7h1.15M422.8 370.8h1.15M450.6 377.7h1.15M445.8 374.2h1.15M430.7 375.2h1.15M464.1 377.8h1.15M448.1 383.7h1.15M455.5 379.7h1.15M450.2 377.8h1.15M445.4 375.5h1.15M449 388.3h1.15M427.4 372h1.15M457.9 381h1.15M458.6 385.5h1.15M460.7 372.1h1.15M427 369.2h1.15M448.5 387.4h1.15M456.5 386.1h1.15M459.2 375.4h1.15M437.5 372.2h1.15M455.6 387.9h1.15M458 379.6h1.15M443.4 388.5h1.15M450.8 385.8h1.15M463 378.3h1.15M435.7 379.9h1.15M467.1 384.3h1.15M443.8 375.2h1.15M456.4 382.9h1.15M464.8 370.8h1.15M451.4 370.3h1.15M444.8 382.8h1.15M448.1 393.8h1.15M469.4 394.4h1.15M454.5 393.7h1.15M453.2 391.9h1.15M464.8 394.3h1.15M457.2 392.1h1.15M465.3 394h1.15M469.6 394.5h1.15M461.1 395.3h1.15M461.1 393.2h1.15M463.4 398.1h1.15M473.6 398.8h1.15M473.5 400h1.15M462.8 397.6h1.15M473.1 400.4h1.15M470.1 399.5h1.15M484.8 413.7h1.15M486 416.3h1.15M487.3 418.8h1.15M484.9 414h1.15M485.3 414.4h1.15M487 417.5h1.15" stroke="#1f3eac" stroke-width="1.15"/>
<path d="M456.9 382.6h1.15M450.3 380.1h1.15M415.7 371.2h1.15M463.9 384.6h1.15M428.2 368.5h1.15M435 377.4h1.15M460.8 385.2h1.15M445.6 387.6h1.15M468.8 375.2h1.15M464.3 385.3h1.15M421.2 375.8h1.15M427.5 376.7h1.15M437.4 378.5h1.15M420.5 372.3h1.15M441.4 384.1h1.15M464.8 376.4h1.15M466.8 371.9h1.15M446.2 385.1h1.15M454.6 372.6h1.15M449.8 389.6h1.15M445.7 382.2h1.15M435.9 382.3h1.15M448.8 382.5h1.15M438.4 376.9h1.15M464.1 372.6h1.15M415.1 369.5h1.15M419.9 371.8h1.15M441.9 387.2h1.15M431.5 378.3h1.15M467.6 386.3h1.15M459 386.5h1.15M434.4 379h1.15M438.9 379.8h1.15M468 382.8h1.15M419 366.3h1.15M448.3 374.8h1.15M453.8 387.5h1.15M432.6 377.6h1.15M425.2 374.4h1.15M420.4 371.5h1.15M437.8 371.2h1.15M424.7 370.5h1.15M457 378.9h1.15M446.7 387.8h1.15M457.6 389.2h1.15M452.3 387.5h1.15M432.3 381.6h1.15M433.7 376.2h1.15M454.9 384.6h1.15M437.7 373.3h1.15M430.7 372h1.15M424.6 372.9h1.15M456.2 383h1.15M419.4 366.5h1.15M456.5 378.3h1.15M448.3 389.5h1.15M446.2 385.7h1.15M468.2 377.8h1.15M450.4 384.8h1.15M416.7 372.9h1.15M420.4 373.5h1.15M425.8 370.1h1.15M430.5 384.9h1.15M455.6 382.7h1.15M460.8 382.2h1.15M424.8 380.9h1.15M445.9 371.6h1.15M432.2 376.7h1.15M466.7 378.2h1.15M440 383.1h1.15M459.2 378.3h1.15M422.2 375.3h1.15M466.6 378.4h1.15M430.1 370.7h1.15M435.2 379.3h1.15M422.7 371.5h1.15M424 377.2h1.15M432.5 381.1h1.15M465.9 386.4h1.15M419.5 368.9h1.15M449.5 388.3h1.15M451.8 380.8h1.15M428.3 377.1h1.15M459.1 372.7h1.15M447.6 384.9h1.15M446.3 384.7h1.15M463 378.9h1.15M464.6 380.5h1.15M445.1 380.9h1.15M450.4 380.1h1.15M458.8 384.8h1.15M424.1 375.8h1.15M445.9 382.9h1.15M444 373.1h1.15M444.1 387.5h1.15M458.4 387.2h1.15M458.1 386.7h1.15M435 370.6h1.15M430.8 378.2h1.15M456.5 369.3h1.15M458.6 389.1h1.15M420.9 366.4h1.15M417.3 369.9h1.15M436 369.6h1.15M460.1 380.9h1.15M459.9 373.7h1.15M421.1 370.4h1.15M452.4 372.7h1.15M458.1 379.8h1.15M417.4 367.1h1.15M428.4 369.5h1.15M442.1 388.6h1.15M451.8 395.9h1.15M435.1 387.3h1.15M445.4 389.2h1.15M446.5 390.4h1.15M446.7 396.1h1.15M448.8 395.9h1.15M450.3 390.9h1.15M452.7 391.8h1.15M461.3 393.5h1.15M456.1 392.6h1.15M477 395.4h1.15M455 391.8h1.15M467.1 394.1h1.15M463.2 393.4h1.15M466.4 396.2h1.15M462.3 393.3h1.15M458.8 392.9h1.15M464.5 398h1.15M462.7 399.1h1.15M460.1 396.7h1.15M470.4 399.8h1.15M470.6 399h1.15M460.9 398h1.15M464.8 397.8h1.15M457 396.4h1.15M462.5 397.3h1.15M472.6 402.6h1.15M470.6 402.3h1.15M470.9 401.1h1.15M474.3 400.1h1.15M485.9 415.6h1.15M484.8 414.1h1.15M484.9 414.4h1.15" stroke="#244fb7" stroke-width="1.15"/>
<path d="M439 386.9h1.15M435.5 381.8h1.15M429.7 381.9h1.15M415.1 368.4h1.15M426.8 372h1.15M459.2 369.5h1.15M421.3 374.5h1.15M439.5 384.6h1.15M458.5 383.6h1.15M427.3 378.9h1.15M438.1 382.5h1.15M434.2 373.8h1.15M420.6 365.9h1.15M424.2 371.2h1.15M451.7 387h1.15M437.6 386h1.15M419.2 366.3h1.15M458.6 389.2h1.15M428.7 375.1h1.15M420.5 372h1.15M446 387.9h1.15M426.7 367.7h1.15M438.8 382.2h1.15M466.7 383.2h1.15M418.8 375.7h1.15M431.3 385.4h1.15M421.6 367.6h1.15M453.8 386.3h1.15M461.7 376.5h1.15M418.4 374.5h1.15M430.3 379h1.15M431.3 372.4h1.15M434.7 369.5h1.15M438.7 388.2h1.15M430.9 386.2h1.15M436.6 371.3h1.15M456.5 388.3h1.15M463.7 372.2h1.15M417.8 371.9h1.15M442.6 387.1h1.15M431 371.3h1.15M450.3 386.2h1.15M462.7 373.5h1.15M450.4 383.6h1.15M460.5 385.4h1.15M454.8 389.5h1.15M436.7 385h1.15M427.1 385.9h1.15M419.5 376.8h1.15M450.8 386.2h1.15M442.2 383.9h1.15M452.1 387.1h1.15M456.1 383h1.15M427.5 381.2h1.15M432.3 370.1h1.15M464.4 384.7h1.15M464.2 384.9h1.15M444.5 384.6h1.15M448.3 386.1h1.15M446.4 381.1h1.15M432.1 379.1h1.15M426 373.3h1.15M416 366.4h1.15M425.2 376.1h1.15M432.1 379.9h1.15M442.1 372.2h1.15M449.6 387.9h1.15M440.9 385h1.15M444.4 382.1h1.15M416.5 370.2h1.15M428.1 379.3h1.15M413.8 366.6h1.15M446.7 388.9h1.15M454.3 388.5h1.15M443.4 384.1h1.15M421.1 368.5h1.15M458.8 377.2h1.15M416.3 376.2h1.15M422.2 370.5h1.15M458 373.7h1.15M449 399.4h1.15M443 395h1.15M433.5 389.2h1.15M448.3 391.6h1.15M434 399.3h1.15M441.6 400.5h1.15M426.9 387.8h1.15M452.4 390.9h1.15M450.5 391.2h1.15M444.7 390.3h1.15M449.9 391.8h1.15M447.6 401.8h1.15M428.4 390.2h1.15M454.3 392.4h1.15M456.9 393.7h1.15M463.1 398.1h1.15M464.1 397.9h1.15M467.8 397h1.15M459.7 397.7h1.15M468.4 397.6h1.15M465.1 399.3h1.15M465.1 397.4h1.15M462.5 398.4h1.15M468.7 399.2h1.15M468 397.8h1.15M470 397.9h1.15M469.2 398.1h1.15M460.9 400.1h1.15M469.5 400.3h1.15M462.1 401.5h1.15M467.6 399.4h1.15M464 400.6h1.15M467.9 402.5h1.15M484.7 414h1.15M487.2 416h1.15M486.3 419h1.15M486.5 418.9h1.15M486.9 418.8h1.15M484.9 415h1.15" stroke="#2a5fc2" stroke-width="1.15"/>
<path d="M424.9 379.8h1.15M431.8 384h1.15M422.5 375.7h1.15M428.5 379.4h1.15M438.3 380.6h1.15M410.7 374.4h1.15M409.6 368h1.15M461.5 382.6h1.15M439 388.4h1.15M432.9 386.9h1.15M425.7 378.2h1.15M441 384.7h1.15M450.6 387h1.15M456.2 387.5h1.15M417 373.3h1.15M440.8 388.2h1.15M421.8 368.7h1.15M453.3 389.4h1.15M436.9 374.9h1.15M423 366.7h1.15M416.7 367.7h1.15M437.5 380.9h1.15M412.4 371.7h1.15M419.6 371.6h1.15M448.3 388.7h1.15M427.7 385.6h1.15M458.8 376.1h1.15M426.5 372.2h1.15M419.5 375.7h1.15M432.2 385.6h1.15M413.6 372.4h1.15M417.1 368.6h1.15M427.9 384.2h1.15M443 381.8h1.15M411 374.3h1.15M420.2 369.2h1.15M419 368.1h1.15M435.2 386.1h1.15M433.1 383.3h1.15M413.6 366.2h1.15M428.2 385.5h1.15M410.6 367.9h1.15M425.2 375.9h1.15M433 384.4h1.15M417.7 371.9h1.15M439.4 384h1.15M415.2 376.3h1.15M414.2 369.3h1.15M469 383.4h1.15M410.7 374.9h1.15M430.9 383.7h1.15M432 382.6h1.15M439.9 386.6h1.15M439 384.4h1.15M428.4 379.6h1.15M426.1 380.3h1.15M457.8 372.4h1.15M442.6 387.5h1.15M441.1 386.8h1.15M407.6 369h1.15M419.8 369h1.15M418.7 366.9h1.15M421.7 375.6h1.15M441.9 393.5h1.15M444.8 391.9h1.15M430.5 389h1.15M446.2 400.4h1.15M434.7 387.3h1.15M441.2 391.8h1.15M436.1 388.4h1.15M438.8 393.6h1.15M444.4 396.9h1.15M451.8 392.8h1.15M429.8 389.1h1.15M445.5 391.1h1.15M422 385.4h1.15M451.4 396.9h1.15M417.3 394.4h1.15M433.4 388.2h1.15M439.7 391.8h1.15M434.5 395.6h1.15M438.4 398.2h1.15M445.7 398.7h1.15M397.8 395.2h1.15M453.2 392.3h1.15M452.7 396.4h1.15M466.9 399.3h1.15M456.5 396.5h1.15M457.1 395.8h1.15M455.2 397h1.15M463.2 402.2h1.15M471.5 402.6h1.15M471.2 403h1.15M469.7 401.6h1.15M463.7 401.3h1.15M467.4 400.3h1.15M470 400.9h1.15M461.7 400.1h1.15M486.6 415.9h1.15M484.9 414.2h1.15" stroke="#2f70cd" stroke-width="1.15"/>
<path d="M425.5 369.2h1.15M432.2 385.8h1.15M412.2 371h1.15M416 379.7h1.15M407.9 370.5h1.15M405.4 376.8h1.15M417.8 369.5h1.15M420.7 374h1.15M418.6 371.1h1.15M408.8 381.9h1.15M414.2 383h1.15M411.2 369.5h1.15M436.9 385.9h1.15M407.5 368.7h1.15M437.5 378.6h1.15M408.9 372h1.15M413.7 371.7h1.15M413.3 373.9h1.15M413.7 375.1h1.15M413.4 366.8h1.15M407.9 375.1h1.15M416.8 374.4h1.15M420.4 367.1h1.15M406.2 379h1.15M411.9 370.1h1.15M413.3 370.5h1.15M424.8 379.4h1.15M404.9 379h1.15M411.2 377.5h1.15M418.5 375.3h1.15M437.4 388h1.15M406.4 370h1.15M412.7 371.1h1.15M404.1 374.2h1.15M418 380.8h1.15M411 370.5h1.15M405.3 371.8h1.15M427 382.8h1.15M416.2 377.6h1.15M411 370.6h1.15M406.4 378.8h1.15M438.1 381.2h1.15M404.8 375.8h1.15M433.2 387.1h1.15M418 376.2h1.15M407.2 372.9h1.15M407.5 379.4h1.15M404.8 375h1.15M424.7 383.4h1.15M433.2 382.1h1.15M428.1 381.3h1.15M432.5 387.3h1.15M460.7 385.3h1.15M427.1 367.6h1.15M417.3 383.9h1.15M416 382.7h1.15M418.7 366.4h1.15M414.3 372.1h1.15M424 390.4h1.15M437.8 402.7h1.15M431.6 386.7h1.15M438.4 397.4h1.15M440.6 397.8h1.15M406.9 390.1h1.15M434.7 387.7h1.15M410.8 392.9h1.15M440 393.6h1.15M442.9 402.1h1.15M414.5 385.4h1.15M421.2 393.1h1.15M413.8 384.9h1.15M423.1 387.6h1.15M441.9 396.4h1.15M450.8 402h1.15M402.3 396.2h1.15M426.6 389.1h1.15M421.5 392.1h1.15M450.4 399h1.15M419.2 393h1.15M426.1 393.3h1.15M411.3 387.6h1.15M414.8 388.1h1.15M422.5 390.8h1.15M420.2 391.2h1.15M440.2 397.7h1.15M438 401.9h1.15M415 384.2h1.15M442.2 394.8h1.15M423.7 393.8h1.15M446.5 399.7h1.15M446.4 402.6h1.15M433.1 392.8h1.15M408.5 392.6h1.15M409.2 384.6h1.15M438 401.6h1.15M452.2 397.4h1.15M415.5 386.7h1.15M424.3 390.7h1.15M419.4 386.8h1.15M441.1 391.4h1.15M433.5 391.3h1.15M440.6 389.2h1.15M448.9 401.5h1.15M440.6 391.2h1.15M420.3 390.6h1.15M424.1 387.7h1.15M410.6 397.7h1.15M437.8 403.3h1.15M406 397.1h1.15M445.1 397.9h1.15M415.5 396.1h1.15M416 394.5h1.15M450.3 400.6h1.15M407.8 397.9h1.15M437.6 401.4h1.15M425.2 386.4h1.15M395 397.8h1.15M465.7 399.1h1.15M455.6 396.4h1.15M469.1 399.9h1.15M467.9 399.4h1.15M455.5 402.9h1.15M468.9 403.1h1.15M465.3 402.3h1.15M465.9 401.8h1.15M466 402.7h1.15M467.6 403.6h1.15M469.7 401.6h1.15M463 401.3h1.15M470.9 401.9h1.15M462.1 401.8h1.15M462.1 401.1h1.15M469.9 402.8h1.15M458.8 400.5h1.15M470 401.3h1.15M464.2 401.2h1.15M466.5 400.8h1.15M462.9 400.2h1.15M400.1 387.4h1.15" stroke="#3583d4" stroke-width="1.15"/>
<path d="M413.5 368.4h1.15M424.5 385.5h1.15M409.3 376.5h1.15M440.6 387.1h1.15M419.5 377.4h1.15M405.8 372.3h1.15M421.2 382.5h1.15M417 370.5h1.15M409.6 381.7h1.15M420 379.9h1.15M415.4 377.1h1.15M441.2 388.6h1.15M412 376.3h1.15M408.7 371.4h1.15M405.1 373.6h1.15M409.9 366.9h1.15M407.3 370.4h1.15M426.8 385.9h1.15M421 369.5h1.15M417.3 377.9h1.15M413.2 378.3h1.15M412.8 374.3h1.15M407.9 372.1h1.15M418 379.7h1.15M425 386.1h1.15M423.8 383.6h1.15M408 372.3h1.15M411.2 369.3h1.15M411.4 367.2h1.15M419.5 377.1h1.15M417.1 383.9h1.15M435.6 385.6h1.15M420.9 380.2h1.15M404.7 373.5h1.15M414.8 382.5h1.15M412.1 371.6h1.15M406.6 379.3h1.15M431.9 379.8h1.15M412.5 376h1.15M410 376.3h1.15M418.9 379.8h1.15M410.3 381.1h1.15M417.2 380.4h1.15M422.8 383h1.15M406 375.6h1.15M412.3 376.8h1.15M417 381.1h1.15M410.4 375.8h1.15M417.9 382.3h1.15M430.1 384.2h1.15M418.9 383.7h1.15M419.5 384.5h1.15M439.3 383.7h1.15M429.6 384.8h1.15M420.9 383.9h1.15M411 381h1.15M421 374.1h1.15M415.1 377.5h1.15M410.4 372.6h1.15M415.9 384.4h1.15M446.6 401.3h1.15M431.8 391h1.15M416.9 396.1h1.15M443.3 398.8h1.15M410.6 399.4h1.15M409.8 400.2h1.15M434.8 401.8h1.15M414.2 392.4h1.15M423.9 386.5h1.15M411 398.3h1.15M405 397.6h1.15M442.3 397.1h1.15M421.8 396.3h1.15M436.3 394.5h1.15M433.9 399.8h1.15M417.4 386.6h1.15M418.3 395.2h1.15M416.8 385.3h1.15M416.5 387.9h1.15M413.9 396.1h1.15M421.3 394.1h1.15M439 396.6h1.15M414.3 390.5h1.15M449.5 400.3h1.15M409 399.2h1.15M438.7 399.2h1.15M424.2 387h1.15M440.4 396.7h1.15M428.3 391.5h1.15M421.4 398.2h1.15M420.6 390.3h1.15M409.7 386.6h1.15M417.7 399.7h1.15M454 397.9h1.15M440.6 401.2h1.15M435.7 396.9h1.15M419.4 388h1.15M408.9 390.7h1.15M435.9 400.9h1.15M413 396.6h1.15M405.3 392.1h1.15M430.1 395.5h1.15M425.6 388.7h1.15M416 392.6h1.15M440.7 402.8h1.15M443 397.8h1.15M442.7 398.9h1.15M418.4 396.8h1.15M411.7 385.8h1.15M432 403.2h1.15M417.5 386.7h1.15M430.2 402.8h1.15M424.1 387.8h1.15M420.6 391.8h1.15M452.3 399.1h1.15M419.8 394.5h1.15M437 398.8h1.15M404.7 397.6h1.15M414.6 402h1.15M418.4 385.9h1.15M410.8 399.7h1.15M423.3 403.8h1.15M431.6 398.6h1.15M437.7 397h1.15M448.3 401.9h1.15M407.5 401.3h1.15M416.1 386.6h1.15M413 388.1h1.15M400.2 395.3h1.15M401.6 385.9h1.15M404.3 383.5h1.15M402.8 389.8h1.15M396.6 388.7h1.15M396.1 394.8h1.15M398.3 392.8h1.15M402.9 402.3h1.15M395.3 394h1.15M402.5 395.2h1.15M397.2 397h1.15M394.2 393.8h1.15M398.1 398.5h1.15M396.3 398h1.15M454.3 397h1.15M463.8 402.7h1.15M464.2 403.1h1.15M469.1 402.7h1.15M470.2 401.7h1.15M466.5 402.7h1.15M462 404h1.15M469.9 402.1h1.15M465 402.3h1.15M457.7 402.8h1.15M457 403h1.15M462.5 400.9h1.15M461.1 400.9h1.15M470.2 401.4h1.15M466.2 402.2h1.15M459.4 400.3h1.15M461.6 400.4h1.15M464.8 400.8h1.15M456.5 398.9h1.15M465.2 400h1.15M400.1 384.4h1.15M399.3 389.1h1.15" stroke="#3c98d9" stroke-width="1.15"/>
<path d="M414 377.5h1.15M430 386.8h1.15M419 378.2h1.15M426.1 385.1h1.15M411 379.2h1.15M414.7 376.1h1.15M410.9 372h1.15M414.4 376.4h1.15M404 374.8h1.15M409.9 375.3h1.15M418.7 384.1h1.15M407.2 377.1h1.15M410.3 377.7h1.15M406.6 372.7h1.15M421.3 384.6h1.15M408.3 374.1h1.15M411.6 378.5h1.15M438.1 387.4h1.15M426.3 383.9h1.15M421.6 381.2h1.15M411.2 381.1h1.15M413.4 380.3h1.15M416.1 381.5h1.15M410.7 369h1.15M423.9 379.9h1.15M429 382.3h1.15M421.1 379.3h1.15M410.9 373.4h1.15M413.2 376.5h1.15M409.2 367.6h1.15M416.4 389.6h1.15M423 405.7h1.15M437.1 396.5h1.15M408.8 401.2h1.15M422.8 400.4h1.15M441 404h1.15M405.4 403.2h1.15M453.4 405.7h1.15M405.5 392.2h1.15M409.7 397.4h1.15M426.7 403.8h1.15M420.7 396.2h1.15M439.8 401.4h1.15M439.7 402h1.15M437.6 392.8h1.15M417.8 403.6h1.15M442.9 396.8h1.15M432.4 396.5h1.15M424.4 393.9h1.15M425.8 393.2h1.15M433.6 401.8h1.15M423.2 392.2h1.15M412.3 399.2h1.15M403.1 401.2h1.15M428.6 402.8h1.15M414.2 395.7h1.15M404.3 392.7h1.15M444.6 403.5h1.15M442.7 404.3h1.15M440.5 400.4h1.15M412.8 390.7h1.15M408.7 396.6h1.15M431 395.8h1.15M421.9 401.4h1.15M406.6 394.9h1.15M405.6 387.8h1.15M434.9 402.7h1.15M435.6 392.7h1.15M408.5 388.1h1.15M411.8 389.9h1.15M430.9 398.8h1.15M411.4 394.9h1.15M413.5 393.7h1.15M416.3 391.7h1.15M444.3 392.2h1.15M448.1 402.4h1.15M434.9 404.6h1.15M423.9 398.3h1.15M411.4 397.3h1.15M405.4 384.9h1.15M400.3 392h1.15M406.9 383.5h1.15M400 387.4h1.15M400.2 383.8h1.15M402.7 390.5h1.15M396.6 394.1h1.15M398.8 394.7h1.15M402.4 396.4h1.15M399.5 393.4h1.15M399.1 395h1.15M402.1 399.3h1.15M400.4 398.3h1.15M393.6 396.3h1.15M398.4 396.6h1.15M403.1 396h1.15M399 400.7h1.15M395.6 397.4h1.15M397 401.6h1.15M394.5 396.7h1.15M383.3 402.7h1.15M395.8 395.9h1.15M393.7 393.4h1.15M392.4 402.2h1.15M400.8 398h1.15M400 401.9h1.15M402.4 402.9h1.15M392.9 396.4h1.15M458.5 403.9h1.15M459.5 401.7h1.15M462.2 402.6h1.15M466.5 403.4h1.15M470 402.5h1.15M469.4 402.1h1.15M458.3 402.7h1.15M454 402.2h1.15M468.4 403.8h1.15M469.4 401.2h1.15M465.4 402.1h1.15M461.2 404h1.15M468.6 401.1h1.15M454.3 401.1h1.15M465.2 400.7h1.15M467.3 402.1h1.15M457 399h1.15M456.3 399.9h1.15M458 401.2h1.15M464 401.5h1.15M457.5 398.7h1.15M454.9 400.4h1.15M403.4 386.7h1.15M401 385.7h1.15M399.5 388.1h1.15" stroke="#42adde" stroke-width="1.15"/>
<path d="M407.8 377.9h1.15M420.2 379.6h1.15M412.5 371.6h1.15M404.2 375.8h1.15M410.8 381h1.15M412.4 369.2h1.15M416.5 377.1h1.15M405.1 376.7h1.15M413.4 378.3h1.15M421.4 383.1h1.15M409.8 380.7h1.15M406.8 378.5h1.15M408.3 380h1.15M410.6 379.6h1.15M418.3 396.1h1.15M409 386.6h1.15M406 395.2h1.15M429.7 407h1.15M408.9 398.7h1.15M431.8 403.8h1.15M430.1 395.3h1.15M426.9 390.1h1.15M438.2 392.7h1.15M425.4 410.6h1.15M418.3 390.4h1.15M406.4 398.6h1.15M413.9 385.2h1.15M423 402.1h1.15M426.9 407.1h1.15M403.5 409.2h1.15M409.4 397.5h1.15M420.1 390.4h1.15M438.8 404.9h1.15M426.9 398h1.15M413.5 394h1.15M416.6 400.9h1.15M423.7 400.2h1.15M411.5 389.3h1.15M426.3 402.8h1.15M402.5 399.4h1.15M427.6 409.4h1.15M431.8 405.1h1.15M433.7 400.5h1.15M434.8 400.2h1.15M405.1 408.1h1.15M443.6 406.2h1.15M450.8 395.3h1.15M408.7 397.3h1.15M427.2 395.8h1.15M419.2 390.4h1.15M418.5 391.2h1.15M406.2 399.6h1.15M446.5 404.3h1.15M420.2 393.3h1.15M400.4 388.5h1.15M403.3 389.9h1.15M392.8 397.6h1.15M384.3 400.2h1.15M394 404h1.15M401.4 401.2h1.15M398.2 398.1h1.15M400.5 396.3h1.15M393.2 396.9h1.15M396.3 398h1.15M399.3 397.7h1.15M399.1 401.9h1.15M400.5 396.9h1.15M400.4 394.2h1.15M386.4 395.8h1.15M398.4 397.5h1.15M400 393.5h1.15M402.3 397.2h1.15M385.4 403.4h1.15M392.6 409.1h1.15M402.5 396h1.15M395.2 401.2h1.15M394.8 398.2h1.15M397.2 400.4h1.15M387.1 397.3h1.15M387.8 398.8h1.15M382.8 404.9h1.15M396.4 395.6h1.15M395.4 395.5h1.15M397.7 398.8h1.15M398.6 395.6h1.15M397.2 398.1h1.15M393.3 397.6h1.15M384.1 401.8h1.15M391.1 395.9h1.15M387.6 401h1.15M396.7 394.8h1.15M400.2 392.9h1.15M396.9 398.8h1.15M401.8 410.5h1.15M385.9 398.4h1.15M396 398.5h1.15M458.7 403.6h1.15M458.5 402.6h1.15M461.4 403.5h1.15M466.8 402.6h1.15M458.2 404.3h1.15M457.9 400.5h1.15M455.4 399.5h1.15M456.2 399.4h1.15M452.4 400.5h1.15M468.4 401.2h1.15M455.1 405.3h1.15M454 406.3h1.15M453.6 407.2h1.15M401.8 389.5h1.15M402.6 386.8h1.15M397.6 385.3h1.15M403.4 389h1.15M397.6 390.7h1.15M397.6 388h1.15M403.2 390.3h1.15M401.9 384.2h1.15" stroke="#4ebcd7" stroke-width="1.15"/>
<path d="M410.5 388.5h1.15M417.2 405h1.15M403.2 403.9h1.15M434.1 405.6h1.15M436.3 403.5h1.15M406.8 391.5h1.15M416.6 404.8h1.15M409.2 393.7h1.15M401.8 399.8h1.15M437.6 407.5h1.15M403 402.3h1.15M430.7 407h1.15M419.1 407.9h1.15M433.7 404.4h1.15M406.3 392.7h1.15M431.6 396.6h1.15M413.8 403.1h1.15M406.9 403.1h1.15M440.7 404.2h1.15M450.7 404.2h1.15M409.7 402.5h1.15M403.1 410.1h1.15M403 413.5h1.15M435.7 407.5h1.15M407.7 406.1h1.15M422.9 403.8h1.15M422.3 396h1.15M405.6 402.3h1.15M419.1 396.1h1.15M448.7 402h1.15M445.3 403.5h1.15M401 415h1.15M450.4 405.4h1.15M416.1 397.2h1.15M430.4 405.7h1.15M402.5 400h1.15M405.5 388.1h1.15M417.1 401.8h1.15M404.8 390.5h1.15M420.8 403.2h1.15M448.8 405.6h1.15M432.5 405.7h1.15M417.5 403.7h1.15M403.2 394.1h1.15M415.4 402.2h1.15M403.6 385.2h1.15M395.1 393.7h1.15M401.3 409.2h1.15M401 399.1h1.15M389.7 399.9h1.15M398.2 413.9h1.15M401.3 412.6h1.15M395.9 399.4h1.15M395.2 394.6h1.15M393.4 399.5h1.15M392.9 407.4h1.15M384.8 401.9h1.15M392.9 405.9h1.15M391.9 397.8h1.15M382.9 403h1.15M401.6 403h1.15M390.4 396.9h1.15M394.1 398.9h1.15M392.7 396.9h1.15M402.1 397.6h1.15M395.4 401.7h1.15M386.4 396.7h1.15M391 397.4h1.15M388 397.1h1.15M394.1 402.4h1.15M390.8 394.9h1.15M392.3 398.5h1.15M393.2 399h1.15M388.7 396.1h1.15M396.6 394.9h1.15M393.4 398h1.15M391.9 394.8h1.15M391.9 400.1h1.15M396.5 403.8h1.15M386 401.1h1.15M391.4 399.8h1.15M401.9 400.8h1.15M393 402.3h1.15M398 401.3h1.15M399.7 395.8h1.15M389.7 404.3h1.15M387.1 402.8h1.15M400.2 404.7h1.15M390.1 395.9h1.15M401.7 404h1.15M380.6 397.4h1.15M387.4 397.3h1.15M385.4 401.6h1.15M394 402.6h1.15M401 402.8h1.15M401.3 409.3h1.15M396.9 399h1.15M389.5 399.4h1.15M386.3 402.6h1.15M390.6 404.2h1.15M400.8 407.1h1.15M391.8 400.5h1.15M400.5 413.4h1.15M403.1 410.6h1.15M401.1 394.2h1.15M390.9 403.5h1.15M401.4 394.4h1.15M395.1 398.9h1.15M395.5 395.5h1.15M383.3 396.4h1.15M395.7 398.3h1.15M391 396.4h1.15M389.7 400.5h1.15M388.5 395.2h1.15M398.5 410.1h1.15M402.5 400.5h1.15M459.6 403h1.15M455.1 407.8h1.15M454.2 407.2h1.15M454.9 407.2h1.15M403.7 389.1h1.15" stroke="#5fc3c0" stroke-width="1.15"/>
<path d="M406.4 376.1h1.15M417.1 382.5h1.15M400.5 415.4h1.15M414 401.1h1.15M402.7 410.9h1.15M425.7 410.3h1.15M431 406.4h1.15M415.7 408.2h1.15M436.6 408.3h1.15M422.7 414.6h1.15M426.9 407.7h1.15M433.7 409.9h1.15M430.5 410.3h1.15M421.4 410h1.15M407.4 397.9h1.15M441.6 404.3h1.15M419.1 408.3h1.15M406 409.4h1.15M421.8 412.8h1.15M430.7 405.7h1.15M417.4 406.9h1.15M417.4 413.8h1.15M457.3 409h1.15M406.3 410.7h1.15M442.4 406h1.15M411.1 407.1h1.15M404 400.8h1.15M427.8 414.2h1.15M432.9 404.9h1.15M419.7 409.7h1.15M415.3 406.4h1.15M406.7 409.3h1.15M402 410.5h1.15M431.2 411.5h1.15M419.7 411h1.15M413 412.5h1.15M435.7 412.2h1.15M401.3 404.2h1.15M435.3 406.5h1.15M420 415.1h1.15M399.7 409.4h1.15M405.5 412.8h1.15M403.6 412.6h1.15M420.2 404.2h1.15M431.7 411.1h1.15M419.5 413.7h1.15M401.1 410.3h1.15M430.8 406.7h1.15M409.3 417.1h1.15M395.3 391.2h1.15M396.3 389.1h1.15M386.1 395h1.15M402.7 406.7h1.15M396.2 396h1.15M388.9 404.3h1.15M400.8 414.6h1.15M397.2 406.4h1.15M402.3 409.4h1.15M384.1 395.8h1.15M393.1 407.8h1.15M380.8 401.9h1.15M389 395h1.15M379 397.9h1.15M386.4 395.1h1.15M384.1 404.7h1.15M401.5 407h1.15M395.7 407.2h1.15M402.9 405h1.15M395.5 406.5h1.15M401.8 412h1.15M390.9 404.2h1.15M381.9 399.8h1.15M392 404.7h1.15M401.7 407.6h1.15M398 408.2h1.15M395.1 399.4h1.15M387.6 399h1.15M379.8 399.9h1.15M388.9 401.8h1.15M383.5 397.1h1.15M399.3 407.5h1.15M384.5 401.5h1.15M400 412.4h1.15M389.5 401.1h1.15M390.5 394.9h1.15M388.8 405.1h1.15M402.1 410.8h1.15M397.4 397.9h1.15M403.4 407.1h1.15M381 399.5h1.15M380.3 398.9h1.15M388.8 396.7h1.15M391.9 400.2h1.15M398.8 411.7h1.15M384.4 402.5h1.15M399.6 412.3h1.15M380.8 398.3h1.15M396.9 405.9h1.15M384.5 399.3h1.15M399.5 403.9h1.15M392.9 399.5h1.15M387.5 395.2h1.15M387.2 404.7h1.15M401.3 404.8h1.15M392.2 406.4h1.15M399 404h1.15M389.9 402.9h1.15M381.3 401.9h1.15M402.4 402.4h1.15M399.2 410.1h1.15M389.9 397.6h1.15M388.7 400.7h1.15M403.2 408.8h1.15M384.9 401.1h1.15M386.8 405.6h1.15M401.1 408.3h1.15M386 400.3h1.15M398 385.9h1.15" stroke="#71caa9" stroke-width="1.15"/>
<path d="M429.4 410h1.15M404.7 412.5h1.15M427.4 412.6h1.15M412.9 410.7h1.15M433.2 409.5h1.15M408.2 414.1h1.15M421.1 415.1h1.15M423.8 413.3h1.15M458 409.3h1.15M426.1 416.7h1.15M434.3 405.2h1.15M414.2 404h1.15M406 413.3h1.15M402.7 420.7h1.15M415.3 412.5h1.15M435.8 407.9h1.15M403.1 398.2h1.15M447.2 406h1.15M420 406.7h1.15M440.6 407.2h1.15M422 414.4h1.15M410.7 412.9h1.15M416 410h1.15M415.3 413.7h1.15M410.8 412h1.15M402.2 416.8h1.15M403.4 417.9h1.15M412.6 413.8h1.15M410.3 420h1.15M438.7 412.6h1.15M413.6 417h1.15M431.1 408.7h1.15M411.6 413.8h1.15M402.7 420.3h1.15M402.9 406.4h1.15M417.2 395.6h1.15M419.6 407.3h1.15M414.4 423.1h1.15M401.4 410.7h1.15M407.4 414.2h1.15M406.5 408.3h1.15M409.4 411.9h1.15M411.4 404.8h1.15M414.3 415.4h1.15M411.5 416.8h1.15M436.1 407.7h1.15M423.4 410h1.15M408.2 414.7h1.15M407.9 410.9h1.15M418.9 406.7h1.15M403.4 405.3h1.15M403 407.1h1.15M406.1 395.1h1.15M442.4 407.6h1.15M402.6 411.2h1.15M388.3 408.7h1.15M387 395.3h1.15M394.1 408.2h1.15M378.5 403.8h1.15M402.5 410.6h1.15M382.3 403h1.15M399 413.7h1.15M381.8 402.3h1.15M392.6 404.7h1.15M387.7 396.7h1.15M401.1 404.4h1.15M386.9 400.6h1.15M373.9 404.7h1.15M403.4 404.3h1.15M388.9 407.7h1.15M385.9 406.3h1.15M398.8 413.8h1.15M392.9 405.8h1.15M380.3 401.9h1.15M379.7 399.2h1.15M382.3 398.9h1.15M382.8 403.3h1.15M401.3 407.1h1.15M376 407.8h1.15M393.2 407.3h1.15M384.4 404.1h1.15M377.1 404.6h1.15M383.4 398.7h1.15M398.8 414.1h1.15M395.2 412.4h1.15M401.5 412.1h1.15M400.4 411.8h1.15M397.3 410.3h1.15M378 403.1h1.15M382.7 405.6h1.15M386 401.5h1.15M386.2 400.1h1.15M398.9 413.4h1.15M389.8 402.9h1.15M400.3 413.6h1.15M387.7 405.4h1.15M400.7 417.6h1.15M386.3 397.2h1.15M390.4 411.7h1.15M387.9 399.4h1.15M395.2 409.5h1.15M397.6 412.5h1.15M397.5 410.4h1.15M387.4 405.3h1.15M376.9 399.7h1.15M392.3 406.7h1.15M403.2 410.3h1.15M390.5 407.1h1.15M375.8 409.5h1.15M457.1 413.8h1.15M456.6 409.2h1.15M452.9 407.4h1.15" stroke="#87cf8c" stroke-width="1.15"/>
<path d="M399.7 411.1h1.15M457.4 409.7h1.15M430.6 411.6h1.15M434.4 411.2h1.15M414.5 405.8h1.15M406.7 415.1h1.15M452.3 406.8h1.15M426.1 422.7h1.15M423.1 413h1.15M429.6 412.9h1.15M426.1 416.5h1.15M408.9 421.1h1.15M415.8 424.7h1.15M401.2 419.7h1.15M433.8 416.9h1.15M429.4 410h1.15M416.6 418.7h1.15M404.6 418.7h1.15M424.7 411.6h1.15M429.1 412.9h1.15M413.2 413.9h1.15M400.3 415.1h1.15M402.9 405.4h1.15M448.9 405.9h1.15M459.1 409.9h1.15M420.9 409.8h1.15M432.4 412.6h1.15M414.9 416h1.15M411.7 405.8h1.15M422.8 414.2h1.15M426.1 409.5h1.15M440.7 412.9h1.15M424.8 414.5h1.15M410.3 425.5h1.15M435.6 407.9h1.15M405.3 417.9h1.15M413.3 423.5h1.15M414.3 422.6h1.15M428.5 409.9h1.15M414.7 428.3h1.15M442 406.9h1.15M404 416.7h1.15M440 414.2h1.15M423.9 414h1.15M408.6 419.3h1.15M378.1 405.8h1.15M400.1 416.7h1.15M395.3 413.5h1.15M380.8 400.1h1.15M402.8 409.7h1.15M380.7 398.9h1.15M379.5 399h1.15M391.2 410.8h1.15M401.7 406.2h1.15M380.9 404.3h1.15M390.1 411.2h1.15M377.3 398.5h1.15M397.4 416.3h1.15M393.7 411.1h1.15M380.2 403.6h1.15M398.9 415.6h1.15M378.9 411.1h1.15M397.5 413.4h1.15M401.3 415.7h1.15M394.8 406.3h1.15M375.7 402.6h1.15M387.2 411.3h1.15M381.2 401.9h1.15M398.7 414.9h1.15M393.6 409.6h1.15M379.6 401.2h1.15M386.3 402.3h1.15M379.3 400.1h1.15M400.7 406.9h1.15M400.4 417.8h1.15M386 408.3h1.15M385.9 405.9h1.15M379.3 407.8h1.15M394.7 411.2h1.15M383.9 409h1.15M377.5 401.9h1.15M383.2 414.2h1.15M395.3 411.4h1.15M394.6 409h1.15M374.9 406.3h1.15M397 414.2h1.15M381.1 408.5h1.15M401.3 412.4h1.15M394.9 411.7h1.15M400.6 408.5h1.15M377.4 407.7h1.15M392.2 407.2h1.15M395.1 406.9h1.15M385.6 406.7h1.15M376 404.9h1.15M454.8 408.1h1.15M456.2 411.5h1.15M456.2 409h1.15M456.3 409.8h1.15M455.3 409.1h1.15" stroke="#9fd36d" stroke-width="1.15"/>
<path d="M426.5 410.8h1.15M418.9 421.4h1.15M414.6 427.1h1.15M408.3 413.9h1.15M411.6 421.4h1.15M445.6 408.7h1.15M430.8 410.9h1.15M440.5 411.4h1.15M437.7 415.6h1.15M418 420.3h1.15M430.6 412.3h1.15M410.2 429h1.15M407.1 421.7h1.15M450.4 413.8h1.15M406.2 425.7h1.15M408 413.4h1.15M404.5 421.7h1.15M401.1 424.8h1.15M440.5 415.9h1.15M409.6 423.3h1.15M417 420.1h1.15M417.9 424.2h1.15M419.3 423.5h1.15M432.1 414.8h1.15M448 407.8h1.15M408.6 422.7h1.15M413.7 425.8h1.15M408.4 422.9h1.15M424.2 413.1h1.15M431.4 416.1h1.15M437.6 412.3h1.15M413 416.1h1.15M431.3 409.8h1.15M427.5 408h1.15M442.6 409.1h1.15M417.1 421.4h1.15M402.8 420.6h1.15M445 409.8h1.15M429.5 411.9h1.15M448.6 407.9h1.15M421.4 418.7h1.15M426.8 428.2h1.15M445.2 419.6h1.15M407.4 421h1.15M401.8 427.7h1.15M385.5 408.5h1.15M393.7 414.9h1.15M386.5 411.1h1.15M383.7 400.8h1.15M380.7 403.1h1.15M382.6 408.9h1.15M395.7 412.3h1.15M391 409.7h1.15M376.6 405.3h1.15M381.4 412.8h1.15M384.1 411.5h1.15M380.7 413.5h1.15M393.2 414.6h1.15M399.5 418h1.15M380.2 404.9h1.15M393.1 407.8h1.15M389 410.3h1.15M393.5 413.6h1.15M402.1 413.2h1.15M393.2 412.7h1.15M396.3 414.6h1.15M381.2 411.2h1.15M389.3 411.6h1.15M392.5 410.7h1.15M379.3 400.4h1.15M396.5 414.3h1.15M374.8 408.4h1.15M386.9 409.2h1.15M381 412h1.15M385.8 414.2h1.15M385.6 409.2h1.15M396.8 415.5h1.15M382.6 415.6h1.15M390.9 414.4h1.15M374.2 408h1.15M386.2 411.4h1.15M379.9 412.1h1.15M383.1 411.8h1.15M388.3 410h1.15M388.3 416.3h1.15M392.2 413.7h1.15M394.8 412.2h1.15M381.4 414.6h1.15M377.4 404.4h1.15M378 397.9h1.15M378.7 405h1.15M383.7 406.4h1.15M384.9 408.4h1.15M377.6 398.2h1.15M389.8 416.9h1.15M378.6 408.4h1.15M399.8 408.2h1.15M384.7 410.6h1.15M380.7 414h1.15M385.7 416.4h1.15M384.2 409.9h1.15M391 413.6h1.15M375.6 401h1.15M425.7 432.4h1.15M456.3 408.9h1.15M455.6 410.9h1.15M455.5 409.7h1.15M457.6 409.8h1.15M455.2 408.9h1.15M455.4 409.2h1.15" stroke="#b7d74f" stroke-width="1.15"/>
<path d="M406.7 421.6h1.15M418 418h1.15M434 418.1h1.15M417.4 424.7h1.15M444.3 423.1h1.15M418.9 418.8h1.15M425.8 420h1.15M419.7 427h1.15M411.4 420.9h1.15M410.7 417.5h1.15M409.6 425.4h1.15M449.2 421.1h1.15M405.6 427.8h1.15M457.7 413.4h1.15M450.3 414.4h1.15M406.1 426.2h1.15M410.5 427.2h1.15M444.3 410.5h1.15M443.5 412.8h1.15M433.1 418.5h1.15M405.9 422.6h1.15M423.8 429.7h1.15M409.2 419.9h1.15M441.2 418.3h1.15M452.5 421.8h1.15M451.2 410.5h1.15M455.7 411.6h1.15M409.9 427.4h1.15M441.6 407.3h1.15M424.2 418h1.15M440.1 423h1.15M404.1 427.1h1.15M402.7 419.8h1.15M416 426h1.15M448.1 415h1.15M455.4 413.3h1.15M448 409.9h1.15M422.5 417.6h1.15M452.5 408.9h1.15M434.1 420.2h1.15M445.1 417.4h1.15M405 421.7h1.15M457.8 411.7h1.15M423.2 425.3h1.15M406.7 419.9h1.15M413 431.1h1.15M427 426.7h1.15M431.1 419.5h1.15M454.5 409.9h1.15M440.9 413.1h1.15M426.6 423.6h1.15M449.6 413.6h1.15M412.6 425.8h1.15M412.1 428.3h1.15M448.5 412h1.15M430.5 414.8h1.15M427 419.9h1.15M411.4 421h1.15M443.3 417h1.15M390 414.2h1.15M391.1 413.6h1.15M395.2 414.9h1.15M386.2 415.7h1.15M376 404h1.15M400 416.9h1.15M383.1 412.8h1.15M396.6 416h1.15M384.3 406.5h1.15M394 418.1h1.15M393.9 410.6h1.15M387.1 411.2h1.15M379.4 409.9h1.15M380.2 405.5h1.15M391.4 409.6h1.15M378.9 412.2h1.15M390.8 417.4h1.15M385.5 416h1.15M393.2 415.2h1.15M375.5 407.7h1.15M394.5 418.1h1.15M392 410.8h1.15M381 403.4h1.15M377.9 398.1h1.15M400.1 416.4h1.15M380.9 404.7h1.15M383.4 413.1h1.15M397.4 417.8h1.15M385.7 415.8h1.15M389 414.2h1.15M394.6 417.1h1.15M396.1 415.4h1.15M395 412.2h1.15M383.3 412.7h1.15M395.4 417.6h1.15M378 410.6h1.15M395.8 415.2h1.15M383.8 411.9h1.15M386.4 413.4h1.15M390.5 416.5h1.15M376.1 405.3h1.15M386.1 407.4h1.15M403 406.6h1.15M378.8 405.5h1.15M387.2 414.2h1.15M384.1 408.3h1.15M378 405.6h1.15" stroke="#d4dc41" stroke-width="1.15"/>
<path d="M450.4 411.4h1.15M457.5 410.7h1.15M450.4 415.9h1.15M420.8 419.5h1.15M415.6 417.9h1.15M406.9 427.6h1.15M454.1 414.7h1.15M424.5 418.6h1.15M444 421.5h1.15M409.7 419h1.15M439.9 427.6h1.15M432.8 421.6h1.15M452.4 413.4h1.15M440.7 427.6h1.15M455.4 414.5h1.15M421.1 424.8h1.15M421.3 425.1h1.15M427.4 417.6h1.15M448.2 411.2h1.15M428.5 426.1h1.15M422 418.9h1.15M440.3 419.4h1.15M424.6 418.6h1.15M401.9 428.2h1.15M419.5 428.5h1.15M429.1 425.7h1.15M420.9 428.6h1.15M457.5 410.4h1.15M411.8 432.1h1.15M424.5 426.6h1.15M401.3 425h1.15M411.2 422.7h1.15M433.4 420.9h1.15M443.3 421.9h1.15M389.2 409.5h1.15M380.1 403.9h1.15M380 408.1h1.15M385.3 410.3h1.15M383.5 410.1h1.15M373.4 404.8h1.15M383.9 411h1.15M379.1 412.7h1.15M373.6 406.4h1.15M378.4 410.8h1.15M381.1 413.4h1.15M397.3 413.7h1.15M382.7 411.5h1.15M376.8 405.7h1.15M375.3 402.4h1.15M378.1 406.4h1.15M378.4 412.7h1.15M378.4 412.1h1.15M399.9 418.8h1.15M378.8 406.8h1.15M391.4 416.4h1.15M394.4 418.1h1.15M389.9 409.9h1.15M391 410.3h1.15M385.7 410.1h1.15M382.8 412.5h1.15M378 410.5h1.15M393.8 417h1.15M398.3 418.5h1.15M393.4 414.5h1.15M420.4 433.2h1.15M454.9 413.4h1.15M454.6 415h1.15M458.1 416h1.15M455.9 413.6h1.15M457.6 416.4h1.15M456.7 417.7h1.15M455.6 417.6h1.15M456 413.9h1.15" stroke="#f1e034" stroke-width="1.15"/>
<path d="M422.6 423.6h1.15M403.1 430.1h1.15M452.2 421.7h1.15M447.1 421.3h1.15M445.9 414.6h1.15M424.4 425.5h1.15M450.6 414.7h1.15M431.1 427.4h1.15M402.7 431.1h1.15M428.8 425.8h1.15M422.8 418.5h1.15M412.2 432.4h1.15M432.7 424.1h1.15M453.5 412.6h1.15M406.2 429.6h1.15M426.1 429.6h1.15M441.3 426.6h1.15M452.4 416h1.15M437.9 417.3h1.15M455.6 413.5h1.15M442.6 424.2h1.15M428.3 418.4h1.15M445.5 417.7h1.15M408.9 429.6h1.15M447.5 416.4h1.15M445.2 413.5h1.15M455.3 413h1.15M432.9 425.6h1.15M414 430.1h1.15M447.6 419.9h1.15M439 428.2h1.15M439.6 426.6h1.15M401.9 427.4h1.15M451.8 410.7h1.15M453.7 419h1.15M423.2 423.4h1.15M445.4 408.4h1.15M433.3 419.2h1.15M437.9 420.4h1.15M445.2 410h1.15M392.8 416.7h1.15M391.7 416.3h1.15M394.8 417.9h1.15M394.7 412.8h1.15M391.5 416.3h1.15M382.5 409.1h1.15M377.7 412.5h1.15M387 415.3h1.15M374.2 404.9h1.15M389.9 412.6h1.15M374.6 403.5h1.15M391 414.3h1.15M421.8 435h1.15M420.4 433.3h1.15M416.6 433.6h1.15M418 433.4h1.15M420.5 433.6h1.15M456.5 417.7h1.15M456 414.1h1.15M455.4 418.4h1.15M457.7 413.3h1.15M456.2 418.5h1.15M456.4 416.4h1.15M456.2 414.9h1.15M456 417.2h1.15M457.2 412.8h1.15" stroke="#f7cd2f" stroke-width="1.15"/>
<path d="M435.4 429.5h1.15M449.3 411h1.15M436.6 426.6h1.15M405.4 431.8h1.15M426.3 428.2h1.15M420.8 422h1.15M406.4 432.3h1.15M442.3 419.2h1.15M417.6 430.8h1.15M455.3 417.8h1.15M449.8 423.1h1.15M421.8 427.9h1.15M420.1 424.2h1.15M452.6 412.1h1.15M412.5 431.3h1.15M433.5 424.6h1.15M425.4 429.9h1.15M452.6 417.6h1.15M436.7 422.1h1.15M412.1 430.7h1.15M420 432.6h1.15M428.2 422h1.15M422.6 427.9h1.15M428.2 431.1h1.15M446.1 424.6h1.15M451.6 413h1.15M426.4 430.4h1.15M456.5 411.4h1.15M428.8 429.7h1.15M437 420.4h1.15M429.3 432h1.15M441 421.4h1.15M402.9 428.1h1.15M448.3 419.5h1.15M438.1 425h1.15M416 428.6h1.15M442.2 416.1h1.15M436.1 427.5h1.15M437.7 422.1h1.15M413.1 429.9h1.15M383.3 406.1h1.15M419.7 439.7h1.15M416.4 436.3h1.15M422.6 436.2h1.15M420.3 436.3h1.15M419.3 447.1h1.15M417.4 437.8h1.15M417.3 439.3h1.15M417 440.8h1.15M420 446.4h1.15M427.9 433.3h1.15M418.4 438.6h1.15M415.8 436.5h1.15M417 444.6h1.15M404.2 444.2h1.15M455.8 418.4h1.15M456.5 412.8h1.15M454.8 419.2h1.15M455.8 418.8h1.15M456.2 413.7h1.15M457.4 413.1h1.15" stroke="#f9b52b" stroke-width="1.15"/>
<path d="M425.3 432.2h1.15M420.7 434.2h1.15M434.3 430.5h1.15M431.6 427.1h1.15M418.5 431.5h1.15M418.2 430.3h1.15M412 434.4h1.15M451.3 415.8h1.15M442.1 426.5h1.15M420.3 430.8h1.15M453.4 416.5h1.15M432.7 426.4h1.15M436 429.7h1.15M428.9 431.1h1.15M434.6 430.7h1.15M418.6 430.4h1.15M418.6 435.5h1.15M415.9 431.2h1.15M420.3 434h1.15M435.6 425.3h1.15M419.5 435.7h1.15M410.1 434h1.15M422.3 433.1h1.15M442.5 420.3h1.15M434.3 427.6h1.15M420.9 433.8h1.15M429.9 429h1.15M421 431.5h1.15M406.9 435.6h1.15M416.5 433.9h1.15M422.2 437.4h1.15M423.9 445.2h1.15M403.5 445.4h1.15M412.8 436.8h1.15M424.4 432.7h1.15M466.9 445.5h1.15M414.2 449h1.15M418.6 449h1.15M420 440.1h1.15M410.6 444.6h1.15M421.9 434.8h1.15M417.2 435.7h1.15M411.3 437.5h1.15M436.6 439h1.15M415.4 441.1h1.15M419.8 441.1h1.15M422.3 442.5h1.15M417.2 439.2h1.15M418.2 435.9h1.15M406.2 448.5h1.15M416.1 436.7h1.15M456.1 414.8h1.15M455.3 413.5h1.15M457 418h1.15" stroke="#f89829" stroke-width="1.15"/>
<path d="M436.8 428.9h1.15M422.3 434.8h1.15M429.9 430.1h1.15M419.1 431.8h1.15M424.3 432.6h1.15M412.5 435.2h1.15M415.5 432.1h1.15M438 429.4h1.15M430.5 427.5h1.15M415 431.9h1.15M421.4 432.5h1.15M410.7 430.1h1.15M433.1 426.6h1.15M426.4 437.4h1.15M433.8 452.9h1.15M415.4 439.8h1.15M429.5 432.5h1.15M418.3 442.8h1.15M408.9 445.7h1.15M420 436.2h1.15M437.4 444.4h1.15M433.5 443.3h1.15M432.1 433.7h1.15M418.2 436h1.15M408.7 441.6h1.15M420.3 443.9h1.15M414.8 444.8h1.15M426.3 432.6h1.15M403.2 447.9h1.15M420.8 437.1h1.15M415.1 444.4h1.15M422 433.4h1.15M421.3 443.8h1.15M403.3 448.3h1.15M417.3 437.3h1.15M444.8 450.2h1.15M407.1 444.9h1.15M412.3 433.7h1.15M403.1 436.6h1.15M424.6 438.1h1.15M414.5 445.1h1.15M428.5 432h1.15M420.9 444.1h1.15M428.1 448h1.15M419.6 439.3h1.15M420.7 439.5h1.15M415.5 445.8h1.15M405.9 445h1.15M417.8 444.7h1.15M420.8 443h1.15M415.9 438.6h1.15M417.3 438.4h1.15M422.1 473.1h1.15M442.1 448.1h1.15M427.1 446.1h1.15M415.3 441.2h1.15M413.7 447.5h1.15M418 441.7h1.15M417 443.5h1.15M435.8 435.8h1.15M406.9 444.4h1.15M421.6 446.2h1.15M451.7 457.6h1.15M448.2 449.5h1.15M431.6 434.8h1.15M418.1 443.4h1.15M421.6 434.3h1.15M455.2 433.3h1.15M455.7 432.7h1.15M454.5 433.2h1.15M455.1 433.1h1.15M454.2 433h1.15" stroke="#f2712b" stroke-width="1.15"/>
<path d="M423.4 433.8h1.15M432.3 432.9h1.15M429.5 434.3h1.15M406.3 433h1.15M406.2 435.6h1.15M427 433.5h1.15M409.7 433.8h1.15M426.4 434.7h1.15M422.5 435h1.15M424.1 448.1h1.15M426.3 445.2h1.15M433.2 439.7h1.15M405.4 467.4h1.15M425.3 434.7h1.15M413.3 475.2h1.15M427.9 447.2h1.15M428.1 433.6h1.15M425.3 433.8h1.15M406.1 450.8h1.15M426.5 452.7h1.15M431.1 440h1.15M466.8 448.8h1.15M413.6 446.5h1.15M428.7 440.9h1.15M405.2 454.2h1.15M403.5 450.6h1.15M433.6 445.9h1.15M405.3 441.5h1.15M465.5 445.2h1.15M426.4 437.1h1.15M409.5 448.5h1.15M425.9 439.7h1.15M409.2 446h1.15M409.8 449.3h1.15M425.6 446h1.15M415.5 441h1.15M424.5 449h1.15M442.6 444.6h1.15M403.1 448.3h1.15M425.3 441.8h1.15M469.3 448.7h1.15M462.7 468.2h1.15M424.7 438.1h1.15M419.5 444.6h1.15M470.7 448.2h1.15M404.6 438.1h1.15M433.1 444h1.15M422.5 445.5h1.15M403.5 447.7h1.15M449.6 447.8h1.15M425 439.2h1.15M428.9 449h1.15M465.7 449.5h1.15M467 469h1.15M434.4 435.9h1.15M411.1 449.1h1.15M418.1 433.2h1.15M425.9 447.1h1.15M412.5 435.9h1.15M428.4 432.9h1.15M452.6 448h1.15M425.8 443h1.15M416.8 449.1h1.15M425.5 448.9h1.15M474 456.6h1.15M404.1 436.7h1.15M424.3 437.2h1.15M430.9 451.1h1.15M429.1 463.8h1.15M414 443.9h1.15M436 439h1.15M407.6 451.2h1.15M409.8 444.4h1.15M449.1 456.8h1.15M473 458.7h1.15M424.2 436.2h1.15M429.8 459.3h1.15M403.8 449.4h1.15M428 435.7h1.15M457 450h1.15M415 448.7h1.15M433 436.3h1.15M410.2 439.3h1.15M432.7 439.2h1.15M404.5 436.1h1.15M453 449.9h1.15M416.6 433.7h1.15M412.2 446.9h1.15M407.4 472.5h1.15M438.7 442.7h1.15M402.7 454h1.15M402.5 445.1h1.15M430.7 454.6h1.15M466.3 446h1.15M421.9 441.1h1.15M451.9 462.8h1.15M438.7 460.9h1.15M443.9 454.8h1.15M460 447.8h1.15M432.1 449.3h1.15M428.7 432.3h1.15M423.3 445.1h1.15M415.1 443.9h1.15M458.9 458.9h1.15M416.4 434.1h1.15M403.8 438.5h1.15M415.1 435.7h1.15M460.6 468.5h1.15M403.3 441.5h1.15M422.3 440.6h1.15M406.6 440.9h1.15M418.6 442.8h1.15M410.9 444h1.15M421.2 445h1.15M403.5 459.4h1.15M429 443.4h1.15M452 463h1.15M418.3 440.5h1.15M412.2 440.2h1.15M402.7 458.1h1.15M455.4 446.9h1.15M429.6 456.7h1.15M417.9 444.4h1.15M424.5 444.4h1.15M404.8 437.3h1.15M434.4 439.9h1.15M408.7 434.8h1.15M416.8 439h1.15M469.1 447.3h1.15M416.3 469.3h1.15M436.3 436.9h1.15M459.6 459h1.15M429.6 452.1h1.15M453.7 453.9h1.15M455.9 432.8h1.15M459.8 434.1h1.15" stroke="#eb4c2d" stroke-width="1.15"/>
<path d="M431.2 433.8h1.15M429.9 431.1h1.15M436.5 431.3h1.15M426.3 437.1h1.15M455.6 467.5h1.15M450.4 453.4h1.15M408.7 467.9h1.15M467.6 470.9h1.15M464.4 461.1h1.15M458.4 457.6h1.15M437.3 450.3h1.15M422.4 477.6h1.15M433.8 451.7h1.15M445 444.6h1.15M403.6 451.3h1.15M411 442.5h1.15M429.3 433.9h1.15M408.9 436.5h1.15M452.1 444.8h1.15M411.9 447.3h1.15M446.6 470.6h1.15M428.4 454.2h1.15M454.6 445.2h1.15M422.2 477.5h1.15M458.7 454.6h1.15M452.2 451.6h1.15M470.8 450.2h1.15M438.9 456.8h1.15M427.2 468.2h1.15M449.5 452.1h1.15M429.3 460.6h1.15M415.8 455.5h1.15M440.9 442.8h1.15M406.8 463.8h1.15M425.9 437.4h1.15M404.8 469.5h1.15M430.4 447.5h1.15M439 453.8h1.15M435.4 460.5h1.15M462.9 455.3h1.15M403.7 453.9h1.15M432 438.1h1.15M439.8 446.9h1.15M448.7 473.2h1.15M433.9 469.8h1.15M422 439.6h1.15M403.3 439.5h1.15M461.3 452.6h1.15M409.4 435.2h1.15M454.1 445.8h1.15M437.9 441.2h1.15M432.7 450.5h1.15M452.3 468.7h1.15M424.6 450.2h1.15M414.4 439.7h1.15M433.5 450.8h1.15M468.5 472.2h1.15M434.2 454.9h1.15M451.4 476.2h1.15M411.3 438.7h1.15M437.5 451.6h1.15M437.6 452h1.15M447 455.7h1.15M427.1 471.8h1.15M430.7 459.1h1.15M411.8 447h1.15M407.4 469.3h1.15M404.4 448.9h1.15M423.2 446h1.15M464.3 444.7h1.15M439.2 446.2h1.15M468.8 455.7h1.15M435.9 452.3h1.15M443.7 476.1h1.15M444.1 454.1h1.15M427.4 452.7h1.15M432.8 444.4h1.15M424.9 456.4h1.15M406 439.9h1.15M461.2 446.9h1.15M434.2 443.5h1.15M423.7 467.8h1.15M457.6 447.6h1.15M420.8 464.9h1.15M457.2 463.5h1.15M428.6 437.9h1.15M436.4 448.3h1.15M462.2 449.4h1.15M411.3 442.8h1.15M404 456.2h1.15M405.1 438.8h1.15M432.3 433.7h1.15M439.3 459.8h1.15M432.8 452.9h1.15M425.5 434.9h1.15M436 451.2h1.15M435.2 439.2h1.15M450.1 455.4h1.15M444.5 452.8h1.15M440 465.8h1.15M422.3 449.1h1.15M427.3 441.2h1.15M414.7 444h1.15M452.1 452h1.15M431.7 459.6h1.15M451.4 454.3h1.15M405.4 438.1h1.15M425.3 444.9h1.15M467.6 473.5h1.15M445.2 446.8h1.15M453.6 455.3h1.15M437.3 440.7h1.15M403.5 452.6h1.15M440.5 445.6h1.15M415.5 452.4h1.15M456.5 461.6h1.15M473.8 459.6h1.15M471.3 449.7h1.15M402.4 444.4h1.15M447.6 447.5h1.15M402.5 452.7h1.15M457.7 471.7h1.15M431.5 460.1h1.15M430.6 445.3h1.15M443.7 463.6h1.15M420.8 450.9h1.15M425.5 452.5h1.15M410.6 447.8h1.15M447.4 462.7h1.15M450.6 443.6h1.15M411.9 445.8h1.15M407.7 449.3h1.15M408.5 442.8h1.15M471.7 453.7h1.15M428.7 445.6h1.15M417.3 471.4h1.15M407.6 452.5h1.15M458.5 467.3h1.15M444.1 454.8h1.15M405.6 436.3h1.15M410.8 437.3h1.15M457 455.4h1.15M410.7 442.7h1.15M457.7 457.6h1.15M403.6 457.1h1.15M427.7 444.6h1.15M451 448.7h1.15M433.9 465.8h1.15M413.7 450.1h1.15M469.6 456.1h1.15M402.3 449.5h1.15M404.7 454.4h1.15M426 439.4h1.15M420.5 452.3h1.15M465.2 465.9h1.15M450.4 448.9h1.15M470.6 464h1.15M412.7 444.9h1.15M422.4 479.2h1.15M433.3 447.7h1.15M440.6 445.9h1.15M453.1 446.4h1.15M460.5 465.4h1.15M408.7 450h1.15M416.8 441.2h1.15M403.1 455h1.15M435.4 452.4h1.15M465.5 474.9h1.15M406.8 442.2h1.15M441.6 447.3h1.15M406.7 452.6h1.15M411.1 449.7h1.15M452.3 452.1h1.15M454.1 460.9h1.15M447.6 459h1.15M450.4 446.3h1.15M467.7 462.8h1.15M428.9 454.3h1.15M426.6 438.3h1.15M411 448.3h1.15M408.7 438.1h1.15M409.6 471.6h1.15M464.9 463.2h1.15M410.8 444.8h1.15M416.6 448.8h1.15M411.6 464.3h1.15M451.5 448.2h1.15M466.8 449.9h1.15M418.1 447.4h1.15M450.1 444.6h1.15M403.1 462.9h1.15M410.1 465.5h1.15M408.6 452.8h1.15M473.2 451.8h1.15M432.3 455.1h1.15M411.1 435.7h1.15M472.8 450.8h1.15M411.9 453.5h1.15M406.5 462h1.15M426.6 473.9h1.15M403.5 443.8h1.15M436.9 442.8h1.15M411.5 446.1h1.15M437.2 438.9h1.15M455.9 461.5h1.15M465.2 462.6h1.15M433.3 449.7h1.15M453.9 447.9h1.15M429.3 458.2h1.15M440.1 446.6h1.15M403.4 438.4h1.15M439.8 443.3h1.15M406.1 445.4h1.15M434.2 446.1h1.15M467.1 466.5h1.15M462 469.7h1.15M436.5 459.8h1.15M455.2 468.4h1.15M404.6 459h1.15M432.5 437.8h1.15M451 450.3h1.15M458.5 456.4h1.15M466.3 451.1h1.15M428.5 448.9h1.15M459.1 459.7h1.15M457.2 475.3h1.15M429.2 433.6h1.15M441.7 476.9h1.15M423 450.5h1.15M427.7 471.1h1.15M424 448.3h1.15M435.1 442h1.15M421.1 444.4h1.15M441 454.5h1.15M408.2 464.2h1.15M466.7 474h1.15M433.6 457.3h1.15M409.8 474h1.15M415.3 453.1h1.15M451.6 464h1.15M448.5 449.2h1.15M419.7 448.5h1.15M456.3 457h1.15M406.1 434.7h1.15M428.7 468.5h1.15M405.6 460.2h1.15M425.9 433h1.15M444.8 452.1h1.15M433 461.7h1.15M456 457h1.15M406.2 449.3h1.15M451.8 433.1h1.15M456.8 432.7h1.15M456.4 432.8h1.15M459.8 433.4h1.15M455.6 432.9h1.15M457 433.5h1.15M456.9 433.2h1.15" stroke="#e43830" stroke-width="1.15"/>
<path d="M467.7 467h1.15M405.4 438.1h1.15M413.4 462.9h1.15M438.9 440.3h1.15M418.2 451.7h1.15M407.2 458.9h1.15M437.3 441.6h1.15M436.2 439h1.15M451.5 466.5h1.15M464.4 463.5h1.15M436.9 448.7h1.15M457.6 466.8h1.15M420.1 477.8h1.15M438.9 450.6h1.15M423.1 451.9h1.15M447.9 466.3h1.15M459.4 468.5h1.15M421.6 456.1h1.15M457.8 450.5h1.15M426.1 465.6h1.15M403.6 465.4h1.15M424.6 452.6h1.15M419.5 474.4h1.15M419.7 461.1h1.15M428.7 453.4h1.15M427.9 448.6h1.15M440.5 448.2h1.15M471 449.9h1.15M434.3 452.1h1.15M450.8 456.6h1.15M438.8 447.5h1.15M451 459h1.15M433.8 473.1h1.15M404 448.7h1.15M468.9 472.1h1.15M452.5 455h1.15M422.4 468.9h1.15M455.8 475.4h1.15M427.8 442.4h1.15M416.4 467.8h1.15M447.9 455.9h1.15M458.1 446.5h1.15M451 472.4h1.15M409.4 452.4h1.15M415.3 460.6h1.15M440.9 453.8h1.15M458.4 447.2h1.15M428.9 455.8h1.15M452.3 470.6h1.15M411.6 446.9h1.15M453.5 468.1h1.15M449.4 464.6h1.15M426.4 438.3h1.15M450.4 446.2h1.15M430.5 469.4h1.15M434.1 477.3h1.15M444.3 446.8h1.15M437.8 443.3h1.15M438.4 467.6h1.15M429.1 452.4h1.15M460.4 459.6h1.15M409.1 464.7h1.15M458.8 455.5h1.15M418.3 474h1.15M409.3 467.1h1.15M413.3 458.7h1.15M469 450.4h1.15M469.6 470.5h1.15M403.4 455.8h1.15M408.9 434.7h1.15M429.8 445h1.15M441.2 450.6h1.15M409.5 468.2h1.15M459.8 461.6h1.15M465.4 464.9h1.15M429.4 446.7h1.15M426 458.9h1.15M469 460.1h1.15M437.7 478.4h1.15M452.6 460.7h1.15M417.8 478.5h1.15M451.4 474h1.15M457.7 455.1h1.15M408.2 444.2h1.15M411.3 451.1h1.15M449.7 447.2h1.15M465 452.5h1.15M429.2 452.5h1.15M470.2 463.3h1.15M428.5 437.3h1.15M407.1 457.7h1.15M429.5 477.5h1.15M447.2 445.8h1.15M449.2 451.4h1.15M440.5 463.6h1.15M403.1 454h1.15M427.3 469.7h1.15M441.8 469.4h1.15M434.1 468.3h1.15M409.1 449.2h1.15M443.8 454.1h1.15M415.7 467.2h1.15M405.1 445.6h1.15M405.2 466.4h1.15M465.4 466.5h1.15M449.4 461.1h1.15M428.2 451.4h1.15M432.9 450.4h1.15M430.6 454.2h1.15M448.1 449h1.15M422 470.7h1.15M413.4 445h1.15M433.7 477h1.15M414.1 441.5h1.15M411.6 442.6h1.15M426.1 451.6h1.15M436.4 451.6h1.15M429.6 445.4h1.15M435.3 458.1h1.15M417.4 472.7h1.15M441.8 448.2h1.15M405.4 440.1h1.15M420.7 458.2h1.15M426.7 434.3h1.15M448.4 465.7h1.15M439.1 455.6h1.15M451.6 471.3h1.15M431.6 439.7h1.15M441.9 452h1.15M457.2 458.5h1.15M413.2 473.2h1.15M426.6 447.9h1.15M464.2 469.6h1.15M442.1 449.9h1.15M408.2 441.7h1.15M409.6 438.9h1.15M460.2 466.3h1.15M402.9 443.7h1.15M430.8 455.7h1.15M458.5 465.7h1.15M453.6 456.2h1.15M461.4 450.5h1.15M442.4 454h1.15M424.4 461.8h1.15M440.2 446.9h1.15M444.6 472.9h1.15M419.2 467.1h1.15M454.7 465.2h1.15M403.9 458.6h1.15M468.5 453.7h1.15M444.7 453.2h1.15M433.2 443.7h1.15M413.8 451.9h1.15M409.5 463h1.15M456.7 455.4h1.15M424.2 455.6h1.15M469.1 465.1h1.15M404.8 453.4h1.15M404.1 458h1.15M426.7 449.3h1.15M439.3 443.6h1.15M433.5 438.3h1.15M452.7 475.9h1.15M424.4 474h1.15M405.7 467.5h1.15M454.8 462.5h1.15M429.4 435.4h1.15M448.2 463.5h1.15M442.9 461.8h1.15M419.5 461.2h1.15M470.3 451.6h1.15M443.1 453.8h1.15M437.4 453.1h1.15M436 458.4h1.15M427.2 456.8h1.15M440.3 451.2h1.15M422.4 449.4h1.15M437.7 471.4h1.15M417 450.3h1.15M461.8 448.6h1.15M460.8 455.3h1.15M466.3 455.7h1.15M413 455.8h1.15M435.9 437.3h1.15M454.2 457.2h1.15M424.4 473.3h1.15M430.1 454.3h1.15M466.1 454.3h1.15M409.7 454.6h1.15M456.2 453h1.15M439.3 458.7h1.15M434.3 448.2h1.15M473.8 461.7h1.15M428.7 453.5h1.15M447.5 446.3h1.15M440.5 443.1h1.15M457.2 456.7h1.15M458.8 465.7h1.15M404.4 463.7h1.15M416.4 462.9h1.15M452.6 461.5h1.15M405.3 438.2h1.15M467.3 459h1.15M408.5 454.9h1.15M449.4 464h1.15M467.1 456.4h1.15M413.5 456h1.15M422.5 471.8h1.15M430.2 453.1h1.15M458.2 464.1h1.15M428.3 455.4h1.15M413.5 469.6h1.15M461.5 471.9h1.15M428 451.2h1.15M447.5 453.8h1.15M459.7 453.4h1.15M412.1 475.8h1.15M431.1 457.8h1.15M450.9 450h1.15M468.9 446.9h1.15M453.9 464.3h1.15M412.5 465.8h1.15M470.3 450.5h1.15M457.9 474.8h1.15M429 450.4h1.15M439.1 444.5h1.15M441.6 445.6h1.15M439.8 472.5h1.15M424.1 471.7h1.15M453.1 456.6h1.15M442.3 452.8h1.15M403.7 440.1h1.15M446.6 467.2h1.15M426.5 472.7h1.15M459.9 454.5h1.15M457 458.9h1.15M427.6 436.8h1.15M449.8 456.4h1.15M414.7 447.2h1.15M455.8 462.5h1.15M455.7 469.9h1.15M429.2 455.5h1.15M414.4 447.9h1.15M446.4 448.1h1.15M463.1 457.1h1.15M447.7 443.8h1.15M453.6 448.3h1.15M444.6 444.8h1.15M465.8 447.1h1.15M462.4 444.3h1.15M471.2 460.4h1.15M431 456.7h1.15M470.6 459h1.15M462.1 471h1.15M444 466.2h1.15M434.5 438.6h1.15M456.1 471.3h1.15M418.1 477.3h1.15M450.6 443.5h1.15M436.5 442.5h1.15M456.5 458.4h1.15M465.6 457.5h1.15M458.6 465.7h1.15M437.5 446.6h1.15M429.2 475.4h1.15M471.7 464.3h1.15M422.5 453h1.15M408 441.3h1.15M412.3 450.9h1.15M459.6 448.7h1.15M405.2 436.9h1.15M454.2 457.1h1.15M463.4 466.8h1.15M404.9 455.1h1.15M420.7 469.8h1.15M455.9 475.8h1.15M455.8 470.7h1.15M430 440.3h1.15M431.3 476.1h1.15M443.2 469.3h1.15M418 452.7h1.15M432.9 464.5h1.15M445.6 444.7h1.15M433.6 458.1h1.15M438.6 469.3h1.15M429.6 467.2h1.15M414.8 449.4h1.15M446.4 473.6h1.15M469.9 454.2h1.15M445.8 466h1.15M405.2 463.5h1.15M411.6 454.7h1.15M421.3 471.2h1.15M426.4 478h1.15M456.4 455.4h1.15M415.9 463.1h1.15M455.9 453.4h1.15M433.6 454.3h1.15M458.2 475.8h1.15M423.6 467.2h1.15M456.9 473.8h1.15M410.5 472.7h1.15M456.5 451.3h1.15M439.9 470.7h1.15M455.1 450.9h1.15M421.6 460h1.15M437 469.6h1.15M469.6 449.4h1.15M461.5 454.1h1.15M434.9 456.6h1.15M423.3 460.6h1.15M410.2 447.3h1.15M411.8 453.4h1.15M428.3 468h1.15M425.8 472.2h1.15M471.9 450.1h1.15M432.9 453.9h1.15M463.7 451.8h1.15M432.5 471.7h1.15M440.4 451.2h1.15M450.6 465.3h1.15M436.4 456h1.15M433.4 461.9h1.15M428.4 456.2h1.15M457.7 450.9h1.15M454.5 473.2h1.15M428.3 452.8h1.15M448.4 446.8h1.15M427.9 460.5h1.15M425.6 445h1.15M462.8 459.3h1.15M447 452.4h1.15M405.3 460.7h1.15M405.6 465.1h1.15M408.5 449.4h1.15M431.1 442.4h1.15M422.6 460.6h1.15M437.2 441.3h1.15M423.9 456.1h1.15M409.3 465.9h1.15M436 471.2h1.15M452.9 472.5h1.15M440.2 444.5h1.15M465.2 448h1.15M456.6 455.9h1.15M451.9 453.5h1.15M432.4 480.2h1.15M451.9 468h1.15M451.7 469.7h1.15M405.3 442.9h1.15M435 439h1.15M447.6 463.9h1.15M441.7 462.5h1.15M434.9 446.4h1.15M411.8 465.3h1.15M410.7 448.6h1.15M415.2 454.8h1.15M425 469.4h1.15M460.2 445.2h1.15M414.4 446.4h1.15M446.8 451.6h1.15M429.3 465.3h1.15M464.9 473.1h1.15M457.1 445.8h1.15M456.2 444.7h1.15M453.2 446.1h1.15M419.2 453.2h1.15M443.2 443.5h1.15M457.1 433.1h1.15M456.4 432.8h1.15M455.5 433.1h1.15" stroke="#db2930" stroke-width="1.15"/>
<path d="M433 440.2h1.15M431 466.1h1.15M460.4 446.5h1.15M437 438.3h1.15M428.6 467.3h1.15M422.1 480.4h1.15M429.6 465.2h1.15M427.6 475.3h1.15M471.9 463.9h1.15M429.1 457.3h1.15M438.4 452.7h1.15M471.4 458h1.15M453.4 476.3h1.15M463.5 448.4h1.15M432.9 441.5h1.15M428.9 469.7h1.15M446.1 446.5h1.15M416.6 474.3h1.15M425.6 463.9h1.15M458.2 473.7h1.15M441.6 451.2h1.15M408.7 454.9h1.15M438.7 446.3h1.15M428.9 474.6h1.15M446.4 459.9h1.15M425.8 473.8h1.15M449.8 464.9h1.15M429.1 468.3h1.15M404.2 442.9h1.15M471.3 465.8h1.15M436.2 441.8h1.15M459.4 445.9h1.15M462 444.3h1.15M468.3 455.4h1.15M427.6 472.2h1.15M417.8 453.6h1.15M430.1 439.4h1.15M457.4 460.2h1.15M443.4 464.1h1.15M423.8 454.8h1.15M462 455.6h1.15M415 452.1h1.15M466.3 452.2h1.15M428.7 475.6h1.15M447.3 463.3h1.15M425.5 461.6h1.15M459.1 447.1h1.15M441.5 472h1.15M471.8 451h1.15M439.5 453.1h1.15M470.2 452.2h1.15M471.3 451.4h1.15M449 451.9h1.15M443.2 457.5h1.15M473.6 455h1.15M413.3 467.5h1.15M425.8 474h1.15M444.1 457h1.15M419.9 446.2h1.15M472 450.4h1.15M411.1 474h1.15M421.3 451.8h1.15M443.4 470.6h1.15M443 448.1h1.15M448.6 464.8h1.15M456.8 447.7h1.15M460.4 444.3h1.15M437.6 448.5h1.15M431.9 474.1h1.15M458.3 461h1.15M462.4 461h1.15M467.9 460h1.15M435.3 459.3h1.15M448.8 471.6h1.15M418.5 466.9h1.15M457.3 470.3h1.15M447.8 473.2h1.15M420.3 458.9h1.15M452.4 465.3h1.15M410.9 470.5h1.15M431.6 454.3h1.15M436.8 450.8h1.15M413.4 453.4h1.15M473.5 455.8h1.15M429.7 473.6h1.15M411 463.5h1.15M434.3 455.2h1.15M417.5 469.2h1.15M440.9 458.4h1.15M405.2 435.3h1.15M405.3 456.1h1.15M404.6 468.5h1.15M460.9 454.4h1.15M472.3 465.3h1.15M418.9 466.9h1.15M443.4 472.4h1.15M441.4 451.2h1.15M440.7 461.6h1.15M410.6 469.2h1.15M420.3 457.5h1.15M433.1 476.5h1.15M426.9 477.4h1.15M411.8 475.8h1.15M416 463h1.15M410.6 439.4h1.15M457.2 455.3h1.15M430.8 479.4h1.15M410.6 474h1.15M457.9 469.1h1.15M425 465.9h1.15M436.1 472.2h1.15M450.9 453h1.15M468.7 453.7h1.15M445 472.3h1.15M402.4 452.7h1.15M465.2 452.8h1.15M468.4 456h1.15M454.7 469.5h1.15M417 459.5h1.15M461.5 471.8h1.15M454.3 468.9h1.15M468.5 464.1h1.15M422.7 455h1.15M466.4 473.4h1.15M406.5 468.2h1.15M407.1 472h1.15M443.4 448.1h1.15M426 478.8h1.15M431.7 462.9h1.15M467 457.5h1.15M420.5 461h1.15M432.8 477.6h1.15M420.2 480.4h1.15M411.9 475.8h1.15M453.3 453.4h1.15M452.4 475.8h1.15M461.3 461h1.15M466.2 446.7h1.15M438.9 440.9h1.15M423.3 474.1h1.15M411.8 440.2h1.15M431.1 438.3h1.15M429.9 459.3h1.15M425.9 478.2h1.15M458.9 460.3h1.15M425.3 452.2h1.15M460.5 458.2h1.15M442 458.7h1.15M440.4 470.1h1.15M422.2 479.5h1.15M424.1 468.2h1.15M428.3 475.6h1.15M473.7 464.1h1.15M407.6 460.2h1.15M427.1 480.3h1.15M411.2 452.9h1.15M450.7 459.8h1.15M405 455.1h1.15M463.6 472.4h1.15M421.7 468.5h1.15M402.6 449.5h1.15M406.7 458.9h1.15M442.5 449.8h1.15M428.6 460.8h1.15M452.3 449.2h1.15M462.8 452.2h1.15M420.5 472h1.15M424.9 455.5h1.15M434.8 477.4h1.15M450.4 450.3h1.15M411.4 462.3h1.15M415.5 454.9h1.15M441.7 476.4h1.15M447.5 468.6h1.15M420 466.2h1.15M469.7 453.6h1.15M449.1 474.9h1.15M421.1 470.6h1.15M439.9 452.8h1.15M421.4 477.6h1.15M467.2 472.3h1.15M460.4 471.1h1.15M472.9 452.5h1.15M452.7 457.7h1.15M431.9 468.8h1.15M461.6 462.7h1.15M418.5 459.9h1.15M412.8 474.8h1.15M423.9 458.7h1.15M436.8 477h1.15M418.2 464.6h1.15M446.7 465.3h1.15M407.6 470.1h1.15M429.6 478.3h1.15M420.9 460.4h1.15M466 464.5h1.15M407.9 470.3h1.15M440.3 448.8h1.15M432.6 458.7h1.15M457.6 458.7h1.15M418.8 470.7h1.15M418.1 467.1h1.15M450.3 456.5h1.15M469.9 454.1h1.15M421.7 456.1h1.15M466.2 449.7h1.15M443.5 474.7h1.15M446 474.6h1.15M470.8 461.4h1.15M420.6 468.8h1.15M409.2 460.7h1.15M461.9 466.2h1.15M411.1 471.2h1.15M447.1 474.5h1.15M410.2 471.2h1.15M466.7 459.8h1.15M410.4 443h1.15M427.8 479.7h1.15M424.8 461.7h1.15M461.2 455.1h1.15M420.6 457.2h1.15M435.9 457.6h1.15M422.4 455h1.15M438.8 455.5h1.15M468.9 469.7h1.15M462.3 461.8h1.15M412.5 474.9h1.15M406.7 459.6h1.15M422 452.8h1.15M421.4 470.2h1.15M452.8 462.7h1.15M436.9 464.9h1.15M443.1 457.3h1.15M462.2 458.9h1.15M428.2 435.8h1.15M437.4 459h1.15M440.6 456.6h1.15M453.8 459.1h1.15M463.7 458.4h1.15M412.7 457.1h1.15M405.4 464.2h1.15M432.5 469.4h1.15M433.5 452.7h1.15M441.6 449.4h1.15M435 459.6h1.15M449.8 448.9h1.15M443.8 444.4h1.15M433 462.1h1.15M451.6 457.2h1.15M465.1 462.5h1.15M446.8 453.6h1.15M407.9 456.1h1.15M418.9 463.4h1.15M469.9 451.4h1.15M471.1 456.2h1.15M462.3 455.6h1.15M466.5 472.8h1.15M457.1 461.7h1.15M451 473.6h1.15M431.7 461.5h1.15M460.3 455.8h1.15M426.3 457.5h1.15M454.5 454.2h1.15M430.4 452.8h1.15M413.2 474.1h1.15M467.3 454h1.15M422.5 455.1h1.15M422.1 462.6h1.15M414.3 473.5h1.15M436.5 455.6h1.15M466.6 450h1.15M439.5 456.5h1.15M453.4 474.6h1.15M459.9 466h1.15M455.1 465.2h1.15M451.7 457.2h1.15M459.6 475h1.15M420.7 478.1h1.15M420.1 479.4h1.15M453.3 447.7h1.15M419.5 455.5h1.15M473.6 462.5h1.15M430 480.3h1.15M424.5 452.9h1.15M458.1 465.3h1.15M406.7 455.7h1.15M421.5 462.1h1.15M460.1 473.8h1.15M449 446.8h1.15M458.3 457.5h1.15M439.6 475.1h1.15M424.7 449.5h1.15M428.9 466.6h1.15M412.5 471.9h1.15M456.4 475.5h1.15M459 446.1h1.15M448.2 466.4h1.15M439.5 464.2h1.15M468.8 464.2h1.15M439.3 470.1h1.15M441.6 452.5h1.15M410.3 460.2h1.15M449.9 469.4h1.15M437.2 470h1.15M408.6 470.4h1.15M438.8 471.4h1.15M431.3 436.6h1.15M441 449.7h1.15M429.4 459.9h1.15M416.5 462.5h1.15M450.6 453.8h1.15M466.9 449.9h1.15M426.6 452.8h1.15M440 459.9h1.15M427.5 457.9h1.15M437.5 454.4h1.15M409.7 469.3h1.15M416 455.6h1.15M455.1 460.5h1.15M445 457.7h1.15M457.9 458.2h1.15M462.5 465.1h1.15M471.2 460.7h1.15M469.4 464.7h1.15M455.6 454.3h1.15M456 472.4h1.15M451.5 470.4h1.15M433.4 445.6h1.15M406.5 463.2h1.15M453.8 466.4h1.15M440.9 473.6h1.15M425.2 477.6h1.15M406.3 458.7h1.15M428.7 458h1.15M430.4 464.3h1.15M426.4 464.2h1.15M455.2 471.3h1.15M472.9 455.2h1.15M452.9 472.9h1.15M428.1 470.8h1.15M460 456.5h1.15M426.3 470.4h1.15M466.3 460.3h1.15M438.1 457.5h1.15M445.2 459.9h1.15M466.6 458h1.15M473.2 451.3h1.15M463.5 463.8h1.15M434.3 463.7h1.15M443.9 465.9h1.15M446.5 452.2h1.15M456.4 463.6h1.15M444.2 457.3h1.15M449.4 456.6h1.15M423.8 452.1h1.15M427 453.4h1.15M459.1 451.5h1.15M435.3 479.1h1.15M408.7 451.5h1.15M416.2 473.8h1.15M405.9 466.2h1.15M437.7 449.9h1.15M434.6 472.5h1.15M441.3 460.9h1.15M463.7 459.5h1.15M413.9 463.5h1.15M413 451.8h1.15M414.2 454.9h1.15M413.9 468.4h1.15M458.9 461.5h1.15M422.6 473.3h1.15M445.9 474.6h1.15M466.4 448.1h1.15M460 472.2h1.15M414.3 463.7h1.15M422.2 456.1h1.15M424 476.2h1.15M434.3 458.5h1.15M410.6 464.6h1.15M459.8 455.4h1.15M428.5 440.2h1.15M462.3 462.6h1.15M408 473h1.15M425 435.8h1.15M411.5 476.5h1.15M451.9 454.8h1.15M440.2 473.6h1.15M409.1 461.6h1.15M453.6 452.6h1.15M413.1 469.9h1.15M467.2 447.5h1.15M411.9 461.5h1.15M460.8 452h1.15" stroke="#cf212b" stroke-width="1.15"/>
<path d="M406.4 457.1h1.15M409.3 456.9h1.15M450.4 456.5h1.15M444.1 467.8h1.15M427.2 466.4h1.15M470.4 460h1.15M453.2 472.5h1.15M436.9 468.2h1.15M417.5 454.4h1.15M449.3 465.5h1.15M445.5 457.2h1.15M459.5 472.1h1.15M421.5 470.4h1.15M418.6 462.9h1.15M452.7 457.5h1.15M438.9 456.4h1.15M470.9 450.3h1.15M410.4 464.5h1.15M435.1 473.2h1.15M437 462.5h1.15M434 473.1h1.15M461.8 457.8h1.15M451.7 458.4h1.15M473.4 453.8h1.15M438.6 471h1.15M420.4 473.1h1.15M441.9 461.8h1.15M433.6 465.3h1.15M438.4 473.4h1.15M409.4 473.5h1.15M431.8 478.1h1.15M433.6 470h1.15M419.8 459.6h1.15M430.6 456.8h1.15M419.3 459.8h1.15M423.9 467.4h1.15M445.2 474.7h1.15M452.1 461.1h1.15M421.9 463.8h1.15M408.3 471.7h1.15M466.4 445.6h1.15M409.7 455.5h1.15M448.9 466h1.15M455.6 467.4h1.15M459.7 473.7h1.15M463 465.1h1.15M441.7 472.2h1.15M447.4 461.7h1.15M410.1 462.7h1.15M407.6 454.4h1.15M431.8 479.2h1.15M448.6 457h1.15M410.5 461.7h1.15M420 460.6h1.15M457 462.5h1.15M419.3 450.9h1.15M413.9 473.6h1.15M410.9 471.7h1.15M461.2 472.6h1.15M443 445.6h1.15M457.3 447.2h1.15M449.9 475.2h1.15M453.6 470.8h1.15M464.4 463.6h1.15M466.4 450.6h1.15M468.5 463.7h1.15M463.2 472.6h1.15M429.1 473h1.15M416.3 471.6h1.15M472.9 452.5h1.15M444.7 458.9h1.15M427 470.7h1.15M458.3 453.9h1.15M450.2 466.1h1.15M407 459.4h1.15M453.7 449.2h1.15M460.2 461.5h1.15M409.4 448.6h1.15M418.8 473.7h1.15M464.7 470.7h1.15M453.9 446.9h1.15M454.7 460.6h1.15M414.6 468.2h1.15M421.6 475.8h1.15M456.1 466.4h1.15M459.1 459.8h1.15M404.6 466.7h1.15M419.3 458.5h1.15M447 474.6h1.15M426.9 479.8h1.15M458.6 467.8h1.15M431.7 469.2h1.15M429.8 471.8h1.15M466.8 464.9h1.15M431.9 478.9h1.15M437.6 456.3h1.15M435.3 464.1h1.15M443.2 476.1h1.15M439 457.4h1.15M423.9 468.1h1.15M445 470.4h1.15M448.8 470.6h1.15M433.3 459.8h1.15M452.4 471.4h1.15M419 471.5h1.15M464.3 474.5h1.15M420.1 478h1.15M415.2 467.6h1.15M456.8 452h1.15M428 466.6h1.15M426.4 465.7h1.15M459.1 471h1.15M442 468h1.15M466.5 455.2h1.15M412.5 461.8h1.15M453 471.4h1.15M457 466.3h1.15M421.9 475.8h1.15M437.2 471.5h1.15M426.5 467.3h1.15M435.5 446.2h1.15M427.3 461.6h1.15M410.2 473.8h1.15M420.6 472.6h1.15M435.2 471.3h1.15M442.4 474h1.15M416.5 474.5h1.15M418.2 453.7h1.15M436.2 465.9h1.15M446 453h1.15M455.8 463.2h1.15M446.8 458.8h1.15M425.2 475.7h1.15M423.7 462.2h1.15M458.3 451.3h1.15M455.1 466.7h1.15M462 465.3h1.15M410.2 467.9h1.15M462.8 473h1.15M457.4 448.7h1.15M417 467.7h1.15M455.3 456.4h1.15M467 454.6h1.15M414.5 449.1h1.15M416.6 474.6h1.15M461.1 473.2h1.15M453.8 463.6h1.15M414.5 454h1.15M425.1 468.8h1.15M448.4 461.4h1.15M440.6 460.8h1.15M406.9 468.9h1.15M422.6 477.4h1.15M421.1 477.6h1.15M453.9 458.6h1.15M439.4 470.9h1.15M472.1 449.6h1.15M459.5 459.1h1.15M444 443.8h1.15M442.9 474.3h1.15M436.2 467.3h1.15M407.3 463.3h1.15M414 467h1.15M460.5 448.9h1.15M467.3 470h1.15M453.3 454.8h1.15M421.7 480.1h1.15M437.2 475h1.15M439.7 441.1h1.15M424.5 474.2h1.15M453.3 456.4h1.15M467.5 464.4h1.15M413.5 474.3h1.15M455.5 445.2h1.15M456.7 473.6h1.15M442.6 468.6h1.15M447.4 465.1h1.15M458.4 446.4h1.15M406.6 448.2h1.15M435.3 479.4h1.15M450.4 452.4h1.15M449.4 453.8h1.15M410.9 475.1h1.15M423.3 460.6h1.15M410.3 455.4h1.15M465.7 460.7h1.15M415.6 478.2h1.15M462.7 450.7h1.15M417.8 452.1h1.15M421 476.9h1.15M449.3 458.7h1.15M456.4 465.5h1.15M438.7 458.7h1.15M408.8 458.7h1.15M423.9 474.9h1.15M418.3 455.9h1.15M422.9 459h1.15M418.9 461.6h1.15M465 459.7h1.15M428.6 479.1h1.15M408.2 455.3h1.15M427.1 468.6h1.15M457.4 460.4h1.15M421.5 459.4h1.15M420.9 473.8h1.15M420.5 472.8h1.15M409.8 472.8h1.15M424.9 458.8h1.15M424.9 464.3h1.15M440.9 461.1h1.15M410.3 474h1.15M420.4 455.4h1.15M408.9 464h1.15M412.7 465h1.15M444.7 456.4h1.15M422.1 457.6h1.15M435.5 468h1.15M414.9 455.6h1.15M431.7 444.2h1.15M405 459.3h1.15M426.3 451.5h1.15M411.2 457.5h1.15M449.2 449.1h1.15M452.9 468h1.15M469.7 449h1.15M436.6 450.4h1.15M458.4 464.1h1.15M465.2 459.9h1.15M453.4 454.2h1.15M424.6 473h1.15M437.1 469.7h1.15M468.5 462.9h1.15M452.2 459.2h1.15M460.5 471.3h1.15M437.6 456.7h1.15M431.4 456.6h1.15M424.5 474h1.15M409.5 465.4h1.15M424.8 465.1h1.15M460 448.7h1.15M470.5 462.1h1.15M411.1 459.7h1.15M425.9 481.3h1.15M430.7 474.5h1.15M449.4 457.2h1.15M443.1 467.5h1.15M426.8 462h1.15M429.9 460.3h1.15M444.4 454.7h1.15M456.2 462.8h1.15M408.2 464.5h1.15M429 478.9h1.15M450.7 475.8h1.15M432.4 463.8h1.15M424.5 467.9h1.15M429.2 465.3h1.15M429.3 476.5h1.15M429.6 449.4h1.15M448.7 473.1h1.15M431.8 474h1.15M455.6 469.1h1.15M443.5 473.1h1.15M411.6 473.8h1.15M430.8 473.4h1.15M439.2 471.6h1.15M469.6 467.7h1.15M407.7 459.4h1.15M431.8 480.6h1.15M465 447.9h1.15M440.8 461.1h1.15M420.4 457h1.15M412 440.6h1.15M463.3 450.8h1.15M427.5 480.2h1.15M409.7 450.1h1.15M423.1 479h1.15M469.1 450.6h1.15M407 458.9h1.15M455 453.2h1.15M447.2 472.7h1.15M424.2 478.4h1.15M454.2 460.2h1.15M456.1 459h1.15M462.7 469h1.15M436.6 457.4h1.15M409.8 473.7h1.15M425 457.8h1.15M458.5 466.4h1.15M427.3 462.5h1.15M452.6 459.9h1.15M458.4 450.3h1.15M413.7 474.1h1.15M430.8 480.9h1.15M453.5 475.4h1.15M422.8 475.6h1.15M431.2 452.6h1.15M451.8 432.8h1.15" stroke="#bb1825" stroke-width="1.15"/>
<path d="M463.2 464.1h1.15M416.3 457.7h1.15M422.1 456.9h1.15M440.4 445.7h1.15M428 469.4h1.15M419 470.8h1.15M463.3 474.9h1.15M424.8 480.2h1.15M444.3 460.4h1.15M428.3 476.7h1.15M420.9 469.3h1.15M417.2 475.4h1.15M418.9 471.1h1.15M414.6 463.9h1.15M443 469.3h1.15M441.9 462.3h1.15M464.3 470.9h1.15M418.1 474.9h1.15M441.8 468.3h1.15M428.9 471h1.15M449.7 459.7h1.15M416.9 463.8h1.15M410.5 468.2h1.15M424 461h1.15M411.3 455.4h1.15M410.4 457.2h1.15M420.7 472.3h1.15M435.5 467.3h1.15M460.4 466.4h1.15M415.9 467.1h1.15M434.2 471.3h1.15M425.4 462h1.15M432.6 473.4h1.15M422.1 477.5h1.15M447.8 458.4h1.15M440.2 462h1.15M425.6 461h1.15M439.3 451.1h1.15M414.7 459.6h1.15M424.7 465.8h1.15M411.9 474.5h1.15M408.7 465.1h1.15M419.6 471h1.15M440.4 466.6h1.15M434.5 460.1h1.15M438.3 470h1.15M417.1 470.8h1.15M424.1 458h1.15M457.9 467.8h1.15M438 464.9h1.15M423.8 459h1.15M452.8 468h1.15M412.6 457.4h1.15M437.7 469.5h1.15M410.4 461.4h1.15M433.8 472.3h1.15M424.2 462.6h1.15M449.2 449.6h1.15M409.4 441.8h1.15M405.3 462.3h1.15M433.5 478.1h1.15M447.5 464.5h1.15M459.5 475.6h1.15M435.3 472.2h1.15M439.1 468.9h1.15M459.8 447.1h1.15M450.6 463.7h1.15M413.4 458.1h1.15M442.7 471.8h1.15M471 468h1.15M455.1 466.1h1.15M426.5 477h1.15M429 481.4h1.15M409.7 468.9h1.15M463.8 452.5h1.15M455.2 460.4h1.15M407.7 436.8h1.15M444.3 470.9h1.15M416.9 472.6h1.15M438.2 459.8h1.15M429.6 437h1.15M439.9 474.3h1.15M444.7 458.2h1.15M453 467.9h1.15M459.7 445.1h1.15M414 475.3h1.15M412 457.4h1.15M411.5 462.2h1.15M421.2 474.9h1.15M445.8 462.4h1.15M444.1 447.9h1.15M448.6 472h1.15M470.8 462.6h1.15M425.7 464.8h1.15M449 461.9h1.15M427.9 466h1.15M422 478.1h1.15M446 458.1h1.15M425.6 474.5h1.15M422.1 458h1.15M443.5 475.4h1.15M417.2 464.1h1.15M445.6 459.3h1.15M449.2 462.3h1.15M407.6 460.8h1.15M417.9 466.7h1.15M414.7 466.1h1.15M451.3 451.7h1.15M430.6 471.4h1.15M409.2 473.7h1.15M415.4 469.1h1.15M421.7 457.3h1.15M410.3 457.7h1.15M467.6 462.1h1.15M452.8 472.1h1.15M440.3 465h1.15M442.8 458.1h1.15M438.9 444.8h1.15M465.5 468.4h1.15M435.7 476.6h1.15M463.1 466.5h1.15M443.4 465h1.15M425.6 468.6h1.15M420.8 479.3h1.15M465.7 466.1h1.15M454.2 457.1h1.15M445.2 470.9h1.15M428.1 476.8h1.15M438.8 466.1h1.15M460.6 469.1h1.15M414.7 477.5h1.15M413.3 467.9h1.15M453.9 465.8h1.15M435 473.9h1.15M471.3 462.2h1.15M444 461.6h1.15M432.3 465.1h1.15M423.7 458h1.15M408.1 457.9h1.15M415 460.1h1.15M419.7 459.9h1.15M416.4 471.1h1.15M444.1 456.1h1.15M426.3 481.2h1.15M412.2 477.1h1.15M437 473.5h1.15M438.4 468.2h1.15M414.7 456h1.15M411.7 462.2h1.15M446.8 450.1h1.15M469.8 470.5h1.15M453.9 469.3h1.15M415.4 458.8h1.15M455.4 449.9h1.15M421.4 458.2h1.15M415.7 455.6h1.15M448.7 465.5h1.15M454.1 468.8h1.15M455.5 468.6h1.15M403.8 464.9h1.15M430 472.7h1.15M429 466.8h1.15M416.5 463h1.15M415.5 455.6h1.15M442.1 461.5h1.15M419.8 466.1h1.15M471 460.8h1.15M435.1 461.1h1.15M460.1 452.6h1.15M425.8 457.9h1.15M466.3 465.2h1.15M427.7 456.9h1.15" stroke="#9f101f" stroke-width="1.15"/>
<path d="M493.2 362.5H369M369 362.1V485.7H493.2" fill="none" stroke="#333" stroke-width="0.9"/>
<path d="M369 362.5h-2.6M369 370.2h-1.5M369 377.9h-1.5M369 385.6h-1.5M369 393.3h-3M369 401h-1.5M369 408.7h-1.5M369 416.4h-1.5M369 424.1h-3M369 431.8h-1.5M369 439.5h-1.5M369 447.2h-1.5M369 454.9h-3M369 462.6h-1.5M369 470.3h-1.5M369 478h-1.5M369 485.7h-2.6M369 485.7v1.5M376.8 485.7v1.5M384.5 485.7v1.5M392.3 485.7v1.5M400.1 485.7v3M407.8 485.7v1.5M415.6 485.7v1.5M423.3 485.7v1.5M431.1 485.7v3M438.9 485.7v1.5M446.6 485.7v1.5M454.4 485.7v1.5M462.1 485.7v3M469.9 485.7v1.5M477.7 485.7v1.5M485.4 485.7v1.5M493.2 485.7v1.5" stroke="#333" stroke-width="0.7"/>
<defs><linearGradient id="gGPR56" x1="0" x2="0" y1="1" y2="0"><stop offset="0" stop-color="#1a1f6e"/><stop offset="0.1" stop-color="#1e2f8e"/><stop offset="0.22" stop-color="#2a5cc0"/><stop offset="0.36" stop-color="#3aa8dc"/><stop offset="0.46" stop-color="#5cc8c0"/><stop offset="0.56" stop-color="#9ed470"/><stop offset="0.66" stop-color="#f2e43a"/><stop offset="0.72" stop-color="#f6b030"/><stop offset="0.78" stop-color="#ef6a30"/><stop offset="0.84" stop-color="#e0302c"/><stop offset="0.94" stop-color="#c81e28"/><stop offset="1" stop-color="#7a0a1a"/></linearGradient></defs>
<rect x="493.2" y="362.5" width="4" height="123.2" fill="url(#gGPR56)"/>
<path d="M493.4 362.5v123.2M497.1 362.5v123.2" stroke="#222" stroke-width="0.6"/>
<path d="M497.1 364.7h1.6M497.1 368h1.6M497.1 371.9h1.6M497.1 376.7h1.6M497.1 382.9h1.6M497.1 391.6h1.6M497.1 406.4h2.8M497.1 408.7h1.6M497.1 411.2h1.6M497.1 414h1.6M497.1 417.3h1.6M497.1 421.2h1.6M497.1 426h1.6M497.1 432.2h1.6M497.1 440.9h1.6M497.1 455.7h2.8M497.1 458h1.6M497.1 460.5h1.6M497.1 463.3h1.6M497.1 466.6h1.6M497.1 470.5h1.6M497.1 475.3h1.6M497.1 481.5h1.6" stroke="#222" stroke-width="0.75"/>
<text x="503.6" y="408.4" font-size="5.8" fill="#333">10<tspan font-size="3.6" dy="-2.4">4</tspan></text>
<text x="503.6" y="457.7" font-size="5.8" fill="#333">10<tspan font-size="3.6" dy="-2.4">3</tspan></text>
<text x="431.1" y="357.4" font-size="8.4" text-anchor="middle">GPR56</text>
<text x="432" y="499.2" font-size="8.4" fill="#333" style="stroke-width:0.3px" text-anchor="middle" textLength="16" lengthAdjust="spacingAndGlyphs">UMAP</text>
<rect x="51.3" y="570.4" width="15.8" height="30.3" fill="#f7941f"/>
<path d="M59.2 570.4V563.5M55.3 563.5h7.8" stroke="#444" stroke-width="0.8" fill="none"/>
<rect x="75.6" y="565.3" width="15.8" height="35.4" fill="#f7941f"/>
<path d="M83.5 565.3V553.4M79.6 553.4h7.8" stroke="#444" stroke-width="0.8" fill="none"/>
<rect x="99.8" y="584.2" width="15.8" height="16.5" fill="#f7941f"/>
<path d="M107.7 584.2V576.7M103.8 576.7h7.8" stroke="#444" stroke-width="0.8" fill="none"/>
<rect x="124.2" y="590.4" width="15.8" height="10.3" fill="#f7941f"/>
<path d="M132.1 590.4V583.7M128.2 583.7h7.8" stroke="#444" stroke-width="0.8" fill="none"/>
<path d="M46.4 533.6V600.7H143.7" fill="none" stroke="#222" stroke-width="1.1"/>
<path d="M46.4 600.7h-3" stroke="#222" stroke-width="0.9"/>
<text x="41.4" y="602.9" font-size="6.2" text-anchor="end" fill="#333">0.0</text>
<path d="M46.4 584.6h-3" stroke="#222" stroke-width="0.9"/>
<text x="41.4" y="586.8" font-size="6.2" text-anchor="end" fill="#333">0.2</text>
<path d="M46.4 568.5h-3" stroke="#222" stroke-width="0.9"/>
<text x="41.4" y="570.7" font-size="6.2" text-anchor="end" fill="#333">0.4</text>
<path d="M46.4 552.4h-3" stroke="#222" stroke-width="0.9"/>
<text x="41.4" y="554.6" font-size="6.2" text-anchor="end" fill="#333">0.6</text>
<path d="M46.4 536.3h-3" stroke="#222" stroke-width="0.9"/>
<text x="41.4" y="538.5" font-size="6.2" text-anchor="end" fill="#333">0.8</text>
<path d="M59.2 600.7v3" stroke="#222" stroke-width="0.9"/>
<path d="M83.5 600.7v3" stroke="#222" stroke-width="0.9"/>
<path d="M107.7 600.7v3" stroke="#222" stroke-width="0.9"/>
<path d="M132.1 600.7v3" stroke="#222" stroke-width="0.9"/>
<path d="M58.8 527.9H132.9" stroke="#555" stroke-width="0.9"/>
<text x="95.8" y="528.5" font-size="5.2" text-anchor="middle" fill="#333">***</text>
<path d="M58.8 536H108.7" stroke="#555" stroke-width="0.9"/>
<text x="83.8" y="534.4" font-size="5.6" text-anchor="middle" font-style="italic" fill="#333">ns</text>
<path d="M58.8 543.3H83.6" stroke="#555" stroke-width="0.9"/>
<text x="71.2" y="541.7" font-size="5.6" text-anchor="middle" font-style="italic" fill="#333">ns</text>
<path d="M83.6 550H132.9" stroke="#555" stroke-width="0.9"/>
<text x="108.2" y="550.6" font-size="5.2" text-anchor="middle" fill="#333">*</text>
<text x="147.7" y="602.7" font-size="6.2" fill="#333">n = 62</text>
<text transform="translate(63.4 609.3) rotate(-45)" font-size="7.1" text-anchor="end" fill="#3a3a3a" style="stroke-width:0.08px">CD34+ CD38&#8722;</text>
<text transform="translate(87.7 609.3) rotate(-45)" font-size="7.1" text-anchor="end" fill="#3a3a3a" style="stroke-width:0.08px">CD34+ CD38+</text>
<text transform="translate(111.9 609.3) rotate(-45)" font-size="7.1" text-anchor="end" fill="#3a3a3a" style="stroke-width:0.08px">CD34&#8722; CD38+</text>
<text transform="translate(136.3 609.3) rotate(-45)" font-size="7.1" text-anchor="end" fill="#3a3a3a" style="stroke-width:0.08px">CD34&#8722; CD38&#8722;</text>
<text transform="translate(26 567.5) rotate(-90)" font-size="7.2" style="stroke-width:0.3px" text-anchor="middle" fill="#333" textLength="50" lengthAdjust="spacingAndGlyphs">% of JAM-C<tspan font-size="4" dy="-2.4">+</tspan><tspan dy="2.4"> cells</tspan></text>
<rect x="223.6" y="547.9" width="15.8" height="53.3" fill="#f7941f"/>
<path d="M231.5 547.9V544.2M227.6 544.2h7.8" stroke="#444" stroke-width="0.8" fill="none"/>
<rect x="247.9" y="559.6" width="15.8" height="41.6" fill="#f7941f"/>
<path d="M255.8 559.6V555.3M251.9 555.3h7.8" stroke="#444" stroke-width="0.8" fill="none"/>
<rect x="272.1" y="578.1" width="15.8" height="23.1" fill="#f7941f"/>
<path d="M280 578.1V574.1M276.1 574.1h7.8" stroke="#444" stroke-width="0.8" fill="none"/>
<rect x="296.3" y="584.5" width="15.8" height="16.7" fill="#f7941f"/>
<path d="M304.2 584.5V581.2M300.3 581.2h7.8" stroke="#444" stroke-width="0.8" fill="none"/>
<path d="M219.8 533.6V601.2H314.6" fill="none" stroke="#222" stroke-width="1.1"/>
<path d="M219.8 601.2h-3" stroke="#222" stroke-width="0.9"/>
<text x="214.8" y="603.4" font-size="6.2" text-anchor="end" fill="#333">0</text>
<path d="M219.8 585h-3" stroke="#222" stroke-width="0.9"/>
<text x="214.8" y="587.2" font-size="6.2" text-anchor="end" fill="#333">20</text>
<path d="M219.8 568.8h-3" stroke="#222" stroke-width="0.9"/>
<text x="214.8" y="571" font-size="6.2" text-anchor="end" fill="#333">40</text>
<path d="M219.8 552.6h-3" stroke="#222" stroke-width="0.9"/>
<text x="214.8" y="554.8" font-size="6.2" text-anchor="end" fill="#333">60</text>
<path d="M219.8 536.4h-3" stroke="#222" stroke-width="0.9"/>
<text x="214.8" y="538.6" font-size="6.2" text-anchor="end" fill="#333">80</text>
<path d="M231.5 601.2v3" stroke="#222" stroke-width="0.9"/>
<path d="M255.8 601.2v3" stroke="#222" stroke-width="0.9"/>
<path d="M280 601.2v3" stroke="#222" stroke-width="0.9"/>
<path d="M304.2 601.2v3" stroke="#222" stroke-width="0.9"/>
<path d="M230.9 524.8H304.5" stroke="#888" stroke-width="0.9"/>
<text x="267.7" y="525.4" font-size="5.2" text-anchor="middle" fill="#333">***</text>
<path d="M230.9 532.8H280.2" stroke="#888" stroke-width="0.9"/>
<text x="255.6" y="533.4" font-size="5.2" text-anchor="middle" fill="#333">***</text>
<path d="M230.9 540.2H255.5" stroke="#888" stroke-width="0.9"/>
<text x="243.2" y="540.8" font-size="5.2" text-anchor="middle" fill="#333">**</text>
<text x="320.2" y="603.2" font-size="6.2" fill="#333">n = 62</text>
<text transform="translate(235.7 609.8) rotate(-45)" font-size="7.1" text-anchor="end" fill="#3a3a3a" style="stroke-width:0.08px">CD34+ CD38&#8722;</text>
<text transform="translate(260 609.8) rotate(-45)" font-size="7.1" text-anchor="end" fill="#3a3a3a" style="stroke-width:0.08px">CD34+ CD38+</text>
<text transform="translate(284.2 609.8) rotate(-45)" font-size="7.1" text-anchor="end" fill="#3a3a3a" style="stroke-width:0.08px">CD34&#8722; CD38+</text>
<text transform="translate(308.4 609.8) rotate(-45)" font-size="7.1" text-anchor="end" fill="#3a3a3a" style="stroke-width:0.08px">CD34&#8722; CD38&#8722;</text>
<text transform="translate(202.6 567.5) rotate(-90)" font-size="7.2" style="stroke-width:0.3px" text-anchor="middle" fill="#333" textLength="50" lengthAdjust="spacingAndGlyphs">% of GPR56<tspan font-size="4" dy="-2.4">+</tspan><tspan dy="2.4"> cells</tspan></text>
<rect x="397.6" y="565.8" width="15.8" height="34.7" fill="#f7941f"/>
<path d="M405.5 565.8V556.2M401.6 556.2h7.8" stroke="#444" stroke-width="0.8" fill="none"/>
<rect x="421.9" y="571.4" width="15.8" height="29.1" fill="#f7941f"/>
<path d="M429.8 571.4V559.9M425.9 559.9h7.8" stroke="#444" stroke-width="0.8" fill="none"/>
<rect x="446.2" y="588.5" width="15.8" height="12" fill="#f7941f"/>
<path d="M454.1 588.5V583.5M450.2 583.5h7.8" stroke="#444" stroke-width="0.8" fill="none"/>
<rect x="470.1" y="597.2" width="15.8" height="3.3" fill="#f7941f"/>
<path d="M478 597.2V595.6M474.1 595.6h7.8" stroke="#444" stroke-width="0.8" fill="none"/>
<path d="M392.5 533.6V600.5H490.6" fill="none" stroke="#222" stroke-width="1.1"/>
<path d="M392.5 600.5h-3" stroke="#222" stroke-width="0.9"/>
<text x="387.5" y="602.7" font-size="6.2" text-anchor="end" fill="#333">0.0</text>
<path d="M392.5 579h-3" stroke="#222" stroke-width="0.9"/>
<text x="387.5" y="581.2" font-size="6.2" text-anchor="end" fill="#333">0.5</text>
<path d="M392.5 557.5h-3" stroke="#222" stroke-width="0.9"/>
<text x="387.5" y="559.7" font-size="6.2" text-anchor="end" fill="#333">1.0</text>
<path d="M392.5 536h-3" stroke="#222" stroke-width="0.9"/>
<text x="387.5" y="538.2" font-size="6.2" text-anchor="end" fill="#333">1.5</text>
<path d="M405.5 600.5v3" stroke="#222" stroke-width="0.9"/>
<path d="M429.8 600.5v3" stroke="#222" stroke-width="0.9"/>
<path d="M454.1 600.5v3" stroke="#222" stroke-width="0.9"/>
<path d="M478 600.5v3" stroke="#222" stroke-width="0.9"/>
<path d="M404.9 527.2H478.5" stroke="#666" stroke-width="0.9"/>
<text x="441.7" y="527.8" font-size="5.2" text-anchor="middle" fill="#333">***</text>
<path d="M404.9 534.4H454" stroke="#666" stroke-width="0.9"/>
<text x="429.4" y="535" font-size="5.2" text-anchor="middle" fill="#333">**</text>
<path d="M404.9 541.9H429.4" stroke="#666" stroke-width="0.9"/>
<text x="417.1" y="540.3" font-size="5.6" text-anchor="middle" font-style="italic" fill="#333">ns</text>
<path d="M429.4 548.5H478.5" stroke="#666" stroke-width="0.9"/>
<text x="453.9" y="549.1" font-size="5.2" text-anchor="middle" fill="#333">***</text>
<path d="M429.4 554.7H454" stroke="#666" stroke-width="0.9"/>
<text x="441.7" y="555.3" font-size="5.2" text-anchor="middle" fill="#333">**</text>
<text x="494.5" y="602.5" font-size="6.2" fill="#333">n = 62</text>
<text transform="translate(409.7 609.1) rotate(-45)" font-size="7.1" text-anchor="end" fill="#3a3a3a" style="stroke-width:0.08px">CD34+ GPR56+</text>
<text transform="translate(434 609.1) rotate(-45)" font-size="7.1" text-anchor="end" fill="#3a3a3a" style="stroke-width:0.08px">CD34&#8722; GPR56+</text>
<text transform="translate(458.3 609.1) rotate(-45)" font-size="7.1" text-anchor="end" fill="#3a3a3a" style="stroke-width:0.08px">CD34+ GPR56&#8722;</text>
<text transform="translate(482.2 609.1) rotate(-45)" font-size="7.1" text-anchor="end" fill="#3a3a3a" style="stroke-width:0.08px">CD34&#8722; GPR56&#8722;</text>
<text transform="translate(371.6 567.5) rotate(-90)" font-size="7.2" style="stroke-width:0.3px" text-anchor="middle" fill="#333" textLength="50" lengthAdjust="spacingAndGlyphs">% of JAM-C<tspan font-size="4" dy="-2.4">+</tspan><tspan dy="2.4"> cells</tspan></text>
<rect x="0" y="0" width="520" height="1" fill="#666"/>
<rect x="0" y="0" width="1.1" height="653" fill="#666"/>
<rect x="518.8" y="0" width="1.2" height="653" fill="#555"/>
<rect x="0" y="651.4" width="520" height="1.6" fill="#555"/>
</svg></body></html>
